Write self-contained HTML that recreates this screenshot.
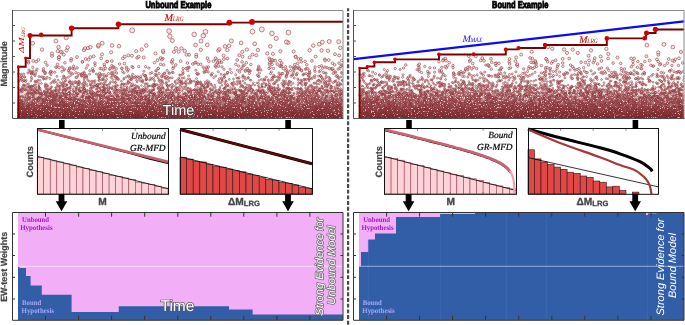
<!DOCTYPE html><html><head><meta charset="utf-8"><style>html,body{margin:0;padding:0;background:#fff;width:685px;height:325px;overflow:hidden}svg{display:block;will-change:transform;text-rendering:geometricPrecision;font-family:"Liberation Sans",sans-serif}.sc circle{r:calc(var(--r)*1px);fill:#f6d0d2;fill-opacity:.6;stroke:#7c1e22;stroke-opacity:.9;stroke-width:.55}.fr{fill:none;stroke:#666;stroke-width:1}.tk{stroke:#555;stroke-width:1}</style></head><body><svg width="685" height="325" viewBox="0 0 685 325"><defs><clipPath id="c1"><rect x="13" y="11" width="330" height="107"/></clipPath><clipPath id="c2"><rect x="354" y="11" width="330" height="107"/></clipPath><linearGradient id="gb" x1="0" y1="0" x2="0" y2="1"><stop offset="0" stop-color="#8a3036" stop-opacity="0"/><stop offset="1" stop-color="#80242a" stop-opacity=".95"/></linearGradient><linearGradient id="gt" x1="0" y1="0" x2="0" y2="1"><stop offset="0" stop-color="#862a30" stop-opacity="0"/><stop offset="1" stop-color="#742024" stop-opacity=".75"/></linearGradient><filter id="sp" x="0" y="0" width="1" height="1" color-interpolation-filters="sRGB"><feTurbulence type="fractalNoise" baseFrequency=".7" numOctaves="2" seed="5"/><feColorMatrix type="matrix" values="0 0 0 0 .97 0 0 0 0 .86 0 0 0 0 .87 8 0 0 0 -5.0"/></filter><linearGradient id="gs" x1="0" y1="0" x2="0" y2="1"><stop offset="0" stop-color="#fff" stop-opacity="0"/><stop offset=".3" stop-color="#fff" stop-opacity="1"/><stop offset="1" stop-color="#fff" stop-opacity=".7"/></linearGradient><mask id="ms"><rect x="0" y="85" width="685" height="33" fill="url(#gs)"/></mask></defs><text x="178.4" y="7.5" font-size="9.8" font-weight="bold" stroke="#000" stroke-width=".9" text-anchor="middle" textLength="66" lengthAdjust="spacingAndGlyphs">Unbound Example</text><text x="520.2" y="7.5" font-size="9.8" font-weight="bold" stroke="#000" stroke-width=".9" text-anchor="middle" textLength="56.4" lengthAdjust="spacingAndGlyphs">Bound Example</text><line x1="348.1" y1="8.3" x2="348.1" y2="325" stroke="#4a4a4a" stroke-width="2.2" stroke-dasharray="3.9 1.8" stroke-dashoffset="1"/><g clip-path="url(#c1)"><rect x="17.5" y="90" width="330.5" height="28" fill="url(#gb)"/><g class="sc"><g style="--r:.8"><circle cx="234.9" cy="106.3"/><circle cx="274.4" cy="87.5"/><circle cx="69.5" cy="92.1"/><circle cx="81" cy="90.7"/><circle cx="282.8" cy="99"/><circle cx="246.9" cy="111.7"/><circle cx="127" cy="102.9"/><circle cx="245.2" cy="103.1"/><circle cx="232.5" cy="88.9"/><circle cx="197.6" cy="116.1"/><circle cx="147.1" cy="105.2"/><circle cx="164.5" cy="96"/><circle cx="135.5" cy="91.2"/><circle cx="120.7" cy="90.8"/><circle cx="281.9" cy="104.8"/><circle cx="34.4" cy="88.1"/><circle cx="227.6" cy="116.2"/><circle cx="93.6" cy="99.1"/><circle cx="57.1" cy="97.6"/><circle cx="207.4" cy="103.8"/><circle cx="135.6" cy="103.4"/><circle cx="38.6" cy="86.4"/><circle cx="20.4" cy="102.1"/><circle cx="176.7" cy="117.9"/><circle cx="336.9" cy="94.7"/><circle cx="214.3" cy="105.9"/><circle cx="288.8" cy="109.3"/><circle cx="321.1" cy="108.4"/><circle cx="75.2" cy="94.3"/><circle cx="69.9" cy="91"/><circle cx="70.9" cy="98.7"/><circle cx="223.3" cy="109.3"/><circle cx="136.3" cy="98.6"/><circle cx="144.4" cy="86.5"/><circle cx="225.8" cy="113.4"/><circle cx="325.1" cy="113.1"/><circle cx="252" cy="91.8"/><circle cx="212" cy="108.2"/><circle cx="152.4" cy="108.9"/><circle cx="63" cy="115.5"/><circle cx="77.9" cy="99.4"/><circle cx="149.6" cy="107.3"/><circle cx="202" cy="92"/><circle cx="42.8" cy="98.8"/><circle cx="92.4" cy="94.2"/><circle cx="309.2" cy="102.9"/><circle cx="154.2" cy="93.5"/><circle cx="188.3" cy="92.9"/><circle cx="283.7" cy="95.6"/><circle cx="328.8" cy="112.5"/><circle cx="185.5" cy="114.1"/><circle cx="196.5" cy="94.8"/><circle cx="44.9" cy="93.1"/><circle cx="85.4" cy="114"/><circle cx="275.8" cy="111.9"/><circle cx="198" cy="109.4"/><circle cx="97.9" cy="106.5"/><circle cx="250.6" cy="105"/><circle cx="322.1" cy="87.4"/><circle cx="213.1" cy="93.3"/><circle cx="212.1" cy="111.6"/><circle cx="287.8" cy="101.9"/><circle cx="199.9" cy="101.9"/><circle cx="164.8" cy="115.9"/><circle cx="64.7" cy="105.1"/><circle cx="52.9" cy="114.4"/><circle cx="29.2" cy="111.9"/><circle cx="62.8" cy="93.4"/><circle cx="208.1" cy="103.2"/><circle cx="106.3" cy="107.5"/><circle cx="258.3" cy="90.1"/><circle cx="321.8" cy="116.3"/><circle cx="22.5" cy="86.4"/><circle cx="316.5" cy="108.5"/><circle cx="149.8" cy="85.7"/><circle cx="317.9" cy="118"/><circle cx="142.8" cy="90.9"/><circle cx="203.1" cy="95.5"/><circle cx="297.7" cy="100.9"/><circle cx="254.5" cy="105"/><circle cx="330.7" cy="112.2"/><circle cx="28.6" cy="86.8"/><circle cx="32.1" cy="117.6"/><circle cx="238.2" cy="96.9"/><circle cx="158.5" cy="99.3"/><circle cx="124.1" cy="103.1"/><circle cx="114.2" cy="93.1"/><circle cx="201.3" cy="110.4"/><circle cx="251.2" cy="102.1"/><circle cx="137.7" cy="91.3"/><circle cx="48.1" cy="117.3"/><circle cx="169.9" cy="93"/><circle cx="131.9" cy="103"/><circle cx="194.3" cy="116"/><circle cx="117.2" cy="96.5"/><circle cx="72.6" cy="106.3"/><circle cx="146.1" cy="104.2"/><circle cx="103.8" cy="84.6"/><circle cx="181.1" cy="116.4"/><circle cx="172.1" cy="112.7"/><circle cx="309.6" cy="91.7"/><circle cx="143.1" cy="111.3"/><circle cx="332.3" cy="98.4"/><circle cx="248.7" cy="98.8"/><circle cx="236.5" cy="99.2"/><circle cx="180.7" cy="103.7"/><circle cx="75.2" cy="110.4"/><circle cx="76.2" cy="99.9"/><circle cx="236.7" cy="100.7"/><circle cx="145.6" cy="88"/><circle cx="204.4" cy="110.7"/><circle cx="320.9" cy="115.2"/><circle cx="200.2" cy="104"/><circle cx="257.9" cy="91.3"/><circle cx="268" cy="105.8"/><circle cx="186.3" cy="112.5"/><circle cx="57.9" cy="117.1"/><circle cx="178.9" cy="108.1"/><circle cx="216.7" cy="117.5"/><circle cx="63.8" cy="107.9"/><circle cx="59.6" cy="86.1"/><circle cx="318.8" cy="116.2"/><circle cx="308.2" cy="110.4"/><circle cx="334.7" cy="101.3"/><circle cx="182.7" cy="107.3"/><circle cx="267.1" cy="99.4"/><circle cx="41.8" cy="113"/><circle cx="133.5" cy="99.7"/><circle cx="46.8" cy="96.8"/><circle cx="29.4" cy="104"/><circle cx="280" cy="114"/><circle cx="232.9" cy="85.8"/><circle cx="41" cy="116.1"/><circle cx="199.7" cy="93.6"/><circle cx="302" cy="109.3"/><circle cx="335.9" cy="116.1"/><circle cx="118" cy="114.2"/><circle cx="236.3" cy="90.7"/><circle cx="41.7" cy="99.7"/><circle cx="90" cy="114.8"/><circle cx="71.1" cy="111.1"/><circle cx="193.3" cy="109.5"/><circle cx="268.8" cy="87.7"/><circle cx="228.5" cy="92.2"/><circle cx="187.1" cy="109.1"/><circle cx="268.9" cy="103.4"/><circle cx="210.9" cy="89.8"/><circle cx="34.6" cy="92.1"/><circle cx="172.2" cy="117.7"/><circle cx="226.5" cy="86.1"/><circle cx="158.9" cy="95.1"/><circle cx="143.7" cy="107.6"/><circle cx="144.6" cy="90.4"/><circle cx="233.9" cy="92.9"/><circle cx="148.4" cy="109.9"/><circle cx="263.5" cy="102.6"/><circle cx="37.7" cy="98.1"/><circle cx="286.8" cy="98.3"/><circle cx="236.5" cy="91"/><circle cx="277.8" cy="115.1"/><circle cx="260.8" cy="107"/><circle cx="182.3" cy="97.8"/><circle cx="243.2" cy="100.2"/><circle cx="88.3" cy="102.9"/><circle cx="73" cy="111.3"/><circle cx="158.1" cy="114.3"/><circle cx="250.9" cy="88.9"/><circle cx="303.6" cy="93.9"/><circle cx="99.5" cy="115.3"/><circle cx="207.6" cy="106.3"/><circle cx="250.1" cy="88.4"/><circle cx="102.5" cy="109"/><circle cx="214.4" cy="99.8"/><circle cx="253.5" cy="111.4"/><circle cx="91.9" cy="91.1"/><circle cx="116.1" cy="100.5"/><circle cx="98.2" cy="94.7"/><circle cx="62.7" cy="115.1"/><circle cx="201.1" cy="92.1"/><circle cx="161.3" cy="96.2"/><circle cx="326" cy="84.6"/><circle cx="103.9" cy="115.7"/><circle cx="94.6" cy="106.2"/><circle cx="157" cy="114.2"/><circle cx="184.6" cy="104.6"/><circle cx="64.8" cy="112.2"/><circle cx="189.7" cy="110.5"/><circle cx="179.9" cy="111.4"/><circle cx="213.5" cy="106.1"/><circle cx="257.9" cy="108.3"/><circle cx="175.4" cy="86.7"/><circle cx="212" cy="111.5"/><circle cx="276.3" cy="110.7"/><circle cx="119.2" cy="107"/><circle cx="269.7" cy="115.5"/><circle cx="332.4" cy="98.7"/><circle cx="185.9" cy="96.4"/><circle cx="168.9" cy="111.8"/><circle cx="290.4" cy="117.7"/><circle cx="102" cy="100.4"/><circle cx="114.8" cy="99.3"/><circle cx="44.7" cy="98.5"/><circle cx="288.7" cy="104"/><circle cx="147.8" cy="117.4"/><circle cx="54.2" cy="95.6"/><circle cx="104.6" cy="93.4"/><circle cx="151" cy="113.5"/><circle cx="174.5" cy="99.4"/><circle cx="28.7" cy="93"/><circle cx="338.2" cy="94.2"/><circle cx="123.1" cy="109.5"/><circle cx="44.9" cy="111"/><circle cx="79.1" cy="85"/><circle cx="341" cy="91.3"/><circle cx="102.8" cy="90.8"/><circle cx="260.8" cy="91.6"/><circle cx="195.3" cy="88.9"/><circle cx="332.4" cy="101.2"/><circle cx="182.9" cy="109.9"/><circle cx="181.6" cy="101.7"/><circle cx="171" cy="95.2"/><circle cx="198.7" cy="106.6"/><circle cx="229.9" cy="99"/><circle cx="76.6" cy="102"/><circle cx="305.5" cy="98.5"/><circle cx="316.9" cy="91.4"/><circle cx="33.1" cy="96.2"/><circle cx="80.2" cy="117.6"/><circle cx="69.3" cy="92.1"/><circle cx="275.4" cy="113.9"/><circle cx="297.9" cy="101"/><circle cx="236.1" cy="113.8"/><circle cx="292.5" cy="110.3"/><circle cx="320.4" cy="111.3"/><circle cx="307.5" cy="104.4"/><circle cx="305" cy="109.7"/><circle cx="248.8" cy="103.4"/><circle cx="87.2" cy="97.3"/><circle cx="57.9" cy="86.3"/><circle cx="209.8" cy="117"/><circle cx="273.1" cy="101.6"/><circle cx="97.8" cy="115.7"/><circle cx="34.3" cy="91.9"/><circle cx="288.4" cy="113"/><circle cx="318" cy="97.3"/><circle cx="102.9" cy="110.6"/><circle cx="50.8" cy="88.9"/><circle cx="82.2" cy="111.1"/><circle cx="52.6" cy="101.7"/><circle cx="37.1" cy="90.3"/><circle cx="297.5" cy="98.1"/><circle cx="107.5" cy="90.8"/><circle cx="222.8" cy="97.1"/><circle cx="104.8" cy="113.4"/><circle cx="263.4" cy="109.1"/><circle cx="184.2" cy="114.2"/><circle cx="188.9" cy="105.1"/><circle cx="134.9" cy="97.3"/><circle cx="53.4" cy="107.4"/><circle cx="132" cy="115.5"/><circle cx="162.3" cy="98.7"/><circle cx="328.3" cy="92.8"/><circle cx="18.7" cy="105.7"/><circle cx="315.4" cy="111.8"/><circle cx="181" cy="115.2"/><circle cx="245.3" cy="107.6"/><circle cx="254.6" cy="102"/><circle cx="53.4" cy="106"/><circle cx="70.3" cy="93.4"/><circle cx="314.9" cy="97.8"/><circle cx="239.6" cy="91.1"/><circle cx="324.7" cy="102.4"/><circle cx="141.4" cy="99.6"/><circle cx="191.1" cy="100.2"/><circle cx="190.6" cy="113.4"/><circle cx="232.5" cy="88.9"/><circle cx="56" cy="103.8"/><circle cx="55.3" cy="102.2"/><circle cx="74.9" cy="114.3"/><circle cx="82.7" cy="95.6"/><circle cx="126.8" cy="90.3"/><circle cx="222" cy="112.6"/><circle cx="186.2" cy="101.3"/><circle cx="41.9" cy="112.1"/><circle cx="332" cy="88.4"/><circle cx="331.8" cy="113.1"/><circle cx="31.1" cy="89.6"/><circle cx="140.7" cy="100.8"/><circle cx="289.1" cy="90.4"/><circle cx="92.4" cy="117.9"/><circle cx="45" cy="109.1"/><circle cx="67.2" cy="84.7"/><circle cx="210.4" cy="117.3"/><circle cx="225.3" cy="93.8"/><circle cx="124" cy="89.9"/><circle cx="21.6" cy="101.7"/><circle cx="165.1" cy="104.2"/><circle cx="290.4" cy="110.9"/><circle cx="147.9" cy="102.6"/><circle cx="101" cy="97"/><circle cx="239.8" cy="95.8"/><circle cx="309.6" cy="117.8"/><circle cx="191.3" cy="95.4"/><circle cx="166.9" cy="101.6"/><circle cx="287.4" cy="101.6"/><circle cx="154.1" cy="88.7"/><circle cx="237.7" cy="114.9"/><circle cx="289.4" cy="89.4"/><circle cx="209.9" cy="115.1"/><circle cx="213.3" cy="102.5"/><circle cx="143.1" cy="93.1"/><circle cx="116.4" cy="99.8"/><circle cx="61.8" cy="100"/><circle cx="252.2" cy="109.2"/><circle cx="131.6" cy="94.6"/><circle cx="267" cy="108.6"/><circle cx="305.5" cy="85.6"/><circle cx="128.2" cy="103.2"/><circle cx="40.7" cy="105.6"/><circle cx="199.6" cy="95.9"/><circle cx="243" cy="87.3"/><circle cx="36.9" cy="117.4"/><circle cx="40.2" cy="93.4"/><circle cx="308" cy="90.5"/><circle cx="89.9" cy="101.9"/><circle cx="310.1" cy="108.1"/><circle cx="111.7" cy="103.8"/><circle cx="164.2" cy="93.1"/><circle cx="242.3" cy="107.3"/><circle cx="336.9" cy="103.5"/><circle cx="99" cy="104.3"/><circle cx="62.1" cy="113.8"/><circle cx="36" cy="93.2"/><circle cx="309.3" cy="102.6"/><circle cx="225" cy="101.8"/><circle cx="225.2" cy="87.4"/><circle cx="137.4" cy="105.5"/><circle cx="317.7" cy="91.7"/><circle cx="69.7" cy="98.7"/><circle cx="304.1" cy="110.5"/><circle cx="253.2" cy="112.4"/><circle cx="307.4" cy="94.2"/><circle cx="340" cy="95.5"/><circle cx="292.1" cy="95.5"/><circle cx="156" cy="101.1"/><circle cx="31.4" cy="93.4"/><circle cx="27.2" cy="93.4"/><circle cx="319.8" cy="88.7"/><circle cx="170.8" cy="98"/><circle cx="260" cy="116.1"/><circle cx="161.4" cy="98.4"/><circle cx="189.1" cy="96.6"/><circle cx="242.7" cy="100.7"/><circle cx="152.1" cy="105.8"/><circle cx="161.4" cy="88.8"/><circle cx="277.8" cy="99.2"/><circle cx="194.3" cy="100.4"/><circle cx="105.6" cy="92.1"/><circle cx="67.2" cy="105.9"/><circle cx="33.2" cy="111.3"/><circle cx="262.8" cy="112.5"/><circle cx="266.8" cy="116.9"/><circle cx="126.3" cy="104.2"/><circle cx="47.2" cy="113.5"/><circle cx="27.6" cy="95.9"/><circle cx="280.3" cy="117.2"/><circle cx="109.4" cy="108.9"/><circle cx="190.9" cy="92.4"/><circle cx="42.9" cy="105.5"/><circle cx="112.9" cy="86.4"/><circle cx="76.8" cy="93.8"/><circle cx="298" cy="92.4"/><circle cx="222.2" cy="108.6"/><circle cx="44.2" cy="92.8"/><circle cx="267.9" cy="117.6"/><circle cx="48.9" cy="95.7"/><circle cx="259.9" cy="111.8"/><circle cx="27.5" cy="115.6"/><circle cx="325.7" cy="92.5"/><circle cx="78.8" cy="100.5"/><circle cx="249.9" cy="108.5"/><circle cx="255.7" cy="116.3"/><circle cx="188.5" cy="110.2"/><circle cx="142.9" cy="98.6"/><circle cx="134.9" cy="88.2"/><circle cx="108.9" cy="103.1"/><circle cx="161.2" cy="117.4"/><circle cx="309.7" cy="115.9"/><circle cx="33.4" cy="100.1"/><circle cx="193.2" cy="100.7"/><circle cx="51.6" cy="105.9"/><circle cx="171.6" cy="99.4"/><circle cx="332.8" cy="97.6"/><circle cx="250.2" cy="97.2"/><circle cx="76.7" cy="102.5"/><circle cx="126.7" cy="107.1"/><circle cx="64.5" cy="104.3"/><circle cx="212.6" cy="86.3"/><circle cx="261.9" cy="106.5"/><circle cx="94.5" cy="105.2"/><circle cx="268" cy="110.3"/><circle cx="291.4" cy="95.3"/><circle cx="238.1" cy="99.9"/><circle cx="325.2" cy="98.1"/><circle cx="26.3" cy="88"/><circle cx="70.8" cy="99.4"/><circle cx="98.9" cy="106.1"/><circle cx="184.7" cy="97"/><circle cx="226.5" cy="94.1"/><circle cx="111.7" cy="105"/><circle cx="276.6" cy="110.3"/><circle cx="194.5" cy="92.7"/><circle cx="258.5" cy="98.5"/><circle cx="110.2" cy="98.2"/><circle cx="33.7" cy="91.4"/><circle cx="176.1" cy="114.6"/><circle cx="21.7" cy="114.3"/><circle cx="100.7" cy="111.4"/><circle cx="195.8" cy="90.8"/><circle cx="98.7" cy="117.9"/><circle cx="265.8" cy="105.7"/><circle cx="326.4" cy="91.4"/><circle cx="293.8" cy="98.8"/><circle cx="39.2" cy="87.8"/><circle cx="285.8" cy="101.1"/><circle cx="243.6" cy="96.1"/><circle cx="288.8" cy="106.2"/><circle cx="136.3" cy="113.5"/><circle cx="154.1" cy="107"/><circle cx="232" cy="106.4"/><circle cx="37.3" cy="110.4"/><circle cx="164.1" cy="107.6"/><circle cx="246.5" cy="116.3"/><circle cx="229.8" cy="107"/><circle cx="47.6" cy="106"/><circle cx="341.9" cy="100"/><circle cx="252.7" cy="117.3"/><circle cx="310.2" cy="114.4"/><circle cx="267.6" cy="103.9"/><circle cx="46.6" cy="112"/><circle cx="185.2" cy="92.8"/><circle cx="121.7" cy="95.5"/><circle cx="136.6" cy="113.9"/><circle cx="136.6" cy="110.6"/><circle cx="277.3" cy="104.4"/><circle cx="192" cy="105.5"/><circle cx="144.7" cy="96.9"/><circle cx="310.2" cy="107.4"/><circle cx="153.2" cy="95"/><circle cx="95.4" cy="110.5"/><circle cx="284.1" cy="92.4"/><circle cx="189.2" cy="113.6"/><circle cx="274.2" cy="107.6"/><circle cx="129.6" cy="90.2"/><circle cx="233.3" cy="112.3"/><circle cx="194" cy="90.6"/><circle cx="127.1" cy="96.5"/><circle cx="56.2" cy="89.5"/><circle cx="305.7" cy="114.2"/><circle cx="72.6" cy="90.5"/><circle cx="328.1" cy="106.5"/><circle cx="153.9" cy="117.9"/><circle cx="115.1" cy="90.1"/><circle cx="285" cy="113.2"/><circle cx="53.9" cy="97.8"/><circle cx="93.2" cy="109.8"/><circle cx="148.9" cy="96.7"/><circle cx="255.9" cy="112"/><circle cx="183.2" cy="97.7"/><circle cx="236.7" cy="105.8"/><circle cx="290.4" cy="113.3"/><circle cx="283.1" cy="85.4"/><circle cx="31.6" cy="93.7"/><circle cx="53.9" cy="114.5"/><circle cx="165.3" cy="95.7"/><circle cx="58.5" cy="92.3"/><circle cx="167.9" cy="105"/><circle cx="118.2" cy="96.3"/><circle cx="32.4" cy="92.8"/><circle cx="89.5" cy="90.6"/><circle cx="40.7" cy="118"/><circle cx="312" cy="111.5"/><circle cx="66" cy="107.1"/><circle cx="75.1" cy="99"/><circle cx="115.2" cy="103.4"/><circle cx="319.9" cy="91.2"/><circle cx="332" cy="108.4"/><circle cx="285.3" cy="97"/><circle cx="166.3" cy="92.8"/><circle cx="124.4" cy="109.5"/><circle cx="107.8" cy="89.2"/><circle cx="68.2" cy="113.2"/><circle cx="129" cy="100.1"/><circle cx="229" cy="92.1"/><circle cx="21" cy="89.1"/><circle cx="24.4" cy="108.8"/><circle cx="333.2" cy="101.9"/><circle cx="58.8" cy="106.7"/><circle cx="150.1" cy="100.7"/><circle cx="276.6" cy="111"/><circle cx="293.5" cy="94.4"/><circle cx="326.1" cy="95.6"/><circle cx="209.5" cy="112.6"/><circle cx="319.9" cy="88.6"/><circle cx="150.2" cy="93"/><circle cx="63.7" cy="84.7"/><circle cx="84.6" cy="99.3"/><circle cx="48.4" cy="99.7"/><circle cx="19.8" cy="96.5"/><circle cx="249.3" cy="114.8"/><circle cx="251.9" cy="97.5"/><circle cx="167.7" cy="101.3"/><circle cx="311.8" cy="101.1"/><circle cx="101.8" cy="113.1"/><circle cx="171.8" cy="92"/><circle cx="322" cy="85.8"/><circle cx="197.4" cy="100.2"/><circle cx="250.8" cy="88.3"/><circle cx="220.6" cy="115.9"/><circle cx="302" cy="93"/><circle cx="71.5" cy="106"/><circle cx="249.2" cy="102.3"/><circle cx="189.3" cy="102"/><circle cx="181.7" cy="109.2"/><circle cx="240.6" cy="91.4"/><circle cx="161.2" cy="98.8"/><circle cx="213.4" cy="113.1"/><circle cx="83.9" cy="88.1"/><circle cx="328.5" cy="110.7"/><circle cx="265.3" cy="107.6"/><circle cx="65.6" cy="96.7"/><circle cx="284.2" cy="94.3"/><circle cx="334.6" cy="114.9"/><circle cx="70.6" cy="86.3"/><circle cx="80.1" cy="106"/><circle cx="286.8" cy="116.9"/><circle cx="272.9" cy="87.7"/><circle cx="125.4" cy="96.3"/><circle cx="329.1" cy="105.1"/><circle cx="326.5" cy="112.7"/><circle cx="306.2" cy="92.1"/><circle cx="322.8" cy="102.9"/><circle cx="64.9" cy="94.5"/><circle cx="49.4" cy="117.9"/><circle cx="165" cy="95.2"/><circle cx="104" cy="95.4"/><circle cx="21.1" cy="107.4"/><circle cx="253.8" cy="115.4"/><circle cx="341.1" cy="108.6"/><circle cx="61" cy="104.6"/><circle cx="244" cy="91.2"/><circle cx="185.5" cy="110.2"/><circle cx="113.4" cy="104.2"/><circle cx="176.1" cy="109.6"/><circle cx="302.4" cy="85.4"/><circle cx="244.1" cy="94.5"/><circle cx="312.4" cy="92.5"/><circle cx="89.5" cy="92.4"/><circle cx="327.3" cy="89.9"/><circle cx="341.1" cy="94.6"/><circle cx="229.1" cy="103.1"/><circle cx="280.5" cy="102.7"/><circle cx="320.5" cy="105.8"/><circle cx="240.1" cy="89.9"/><circle cx="141" cy="96.8"/><circle cx="284.9" cy="100.5"/><circle cx="168.6" cy="110.1"/><circle cx="272.8" cy="111.5"/><circle cx="218.1" cy="111.9"/><circle cx="330.8" cy="117"/><circle cx="24.9" cy="100.7"/><circle cx="66.1" cy="113.6"/><circle cx="278.1" cy="92.9"/><circle cx="291.1" cy="102.9"/><circle cx="38.4" cy="92"/><circle cx="82.6" cy="114.5"/><circle cx="59.8" cy="89.3"/><circle cx="21.9" cy="109.3"/><circle cx="296.3" cy="111.3"/><circle cx="172.9" cy="115.4"/><circle cx="275.1" cy="88.5"/><circle cx="156.3" cy="112.9"/><circle cx="338" cy="104.5"/><circle cx="143.6" cy="104.8"/><circle cx="305.3" cy="110.4"/><circle cx="113.1" cy="89.5"/><circle cx="321.3" cy="116.8"/><circle cx="136.7" cy="111"/><circle cx="180.1" cy="115.5"/><circle cx="56.7" cy="94"/><circle cx="321.5" cy="92"/><circle cx="69.4" cy="90.8"/><circle cx="182.9" cy="99.6"/><circle cx="195.3" cy="90.7"/><circle cx="123.2" cy="102"/><circle cx="261.4" cy="96.3"/><circle cx="244.5" cy="98.8"/><circle cx="58.3" cy="100.5"/><circle cx="262.6" cy="115.9"/><circle cx="147.5" cy="88.8"/><circle cx="306.7" cy="106.5"/><circle cx="109.9" cy="105.5"/><circle cx="322.8" cy="108.7"/><circle cx="160.7" cy="100.3"/><circle cx="316.9" cy="107.6"/><circle cx="111.7" cy="88.5"/><circle cx="141.6" cy="111.3"/><circle cx="164.2" cy="98.8"/><circle cx="325.1" cy="103.5"/><circle cx="249.2" cy="90.8"/><circle cx="242.4" cy="98.1"/><circle cx="210.2" cy="95.5"/><circle cx="160.3" cy="103.5"/><circle cx="41.4" cy="113.3"/><circle cx="255.7" cy="94.4"/><circle cx="47.2" cy="104.3"/><circle cx="20.2" cy="111.7"/><circle cx="158.7" cy="110.7"/><circle cx="70.3" cy="101.5"/><circle cx="93" cy="87.6"/><circle cx="286.4" cy="90.9"/><circle cx="296.2" cy="117.3"/><circle cx="233.9" cy="99.5"/><circle cx="43.4" cy="99.7"/><circle cx="268.2" cy="98.1"/><circle cx="65.6" cy="107.1"/><circle cx="292.2" cy="114.9"/><circle cx="50.4" cy="92.7"/><circle cx="330.8" cy="93.6"/><circle cx="340.1" cy="97.8"/><circle cx="141.2" cy="105.8"/><circle cx="225.7" cy="114.9"/><circle cx="107.3" cy="115.4"/><circle cx="192.8" cy="96.5"/><circle cx="77.8" cy="108.2"/><circle cx="19.1" cy="104.1"/><circle cx="172.8" cy="111.5"/><circle cx="200.5" cy="89.5"/><circle cx="183.2" cy="106.5"/><circle cx="89.3" cy="116.8"/><circle cx="317.2" cy="110.5"/><circle cx="288.8" cy="91.7"/><circle cx="47.8" cy="92"/><circle cx="229.1" cy="115.6"/><circle cx="149.3" cy="95.2"/><circle cx="56" cy="90.6"/><circle cx="255.7" cy="109.5"/><circle cx="80.4" cy="117.4"/><circle cx="126.3" cy="111.2"/><circle cx="221" cy="112.4"/><circle cx="137.4" cy="109.3"/><circle cx="79.3" cy="117.7"/><circle cx="321.1" cy="117.8"/><circle cx="151.7" cy="100.5"/><circle cx="170.6" cy="92.9"/><circle cx="259.1" cy="111.1"/><circle cx="48.2" cy="99.3"/><circle cx="328.3" cy="116.7"/><circle cx="286.8" cy="99.7"/><circle cx="147.8" cy="96.4"/><circle cx="74.6" cy="105.8"/><circle cx="246.7" cy="114.3"/><circle cx="37.2" cy="100.7"/><circle cx="242.3" cy="116.5"/><circle cx="113.8" cy="107.4"/><circle cx="59.7" cy="86.1"/><circle cx="235.5" cy="97.6"/><circle cx="30.4" cy="97.8"/><circle cx="70.9" cy="117.4"/><circle cx="188.3" cy="115.2"/><circle cx="257.1" cy="112.6"/><circle cx="142.2" cy="90.9"/><circle cx="168.4" cy="113.3"/><circle cx="80.4" cy="115.6"/><circle cx="303" cy="91.5"/><circle cx="186.1" cy="98.7"/><circle cx="107" cy="104.3"/><circle cx="153.1" cy="107.6"/><circle cx="308.9" cy="107.8"/><circle cx="295" cy="117.6"/><circle cx="312.1" cy="104.5"/><circle cx="187.5" cy="108.6"/><circle cx="153.6" cy="108.2"/><circle cx="317.8" cy="94.8"/><circle cx="153.3" cy="101"/><circle cx="151.3" cy="104.9"/><circle cx="62.6" cy="90.1"/><circle cx="197.3" cy="101.1"/><circle cx="242.1" cy="108.9"/><circle cx="266.9" cy="106.7"/><circle cx="154.6" cy="106.1"/><circle cx="87.4" cy="85.8"/><circle cx="337.2" cy="106.5"/><circle cx="231.5" cy="102.5"/><circle cx="269" cy="97.2"/><circle cx="153.9" cy="86.2"/><circle cx="142.6" cy="88.7"/><circle cx="111.6" cy="109.9"/><circle cx="190.7" cy="95.8"/><circle cx="308.4" cy="95.8"/><circle cx="217.9" cy="108.2"/><circle cx="45.2" cy="87.3"/><circle cx="252.4" cy="107.7"/><circle cx="327.7" cy="110.1"/><circle cx="275.4" cy="90.5"/><circle cx="148.8" cy="107.2"/><circle cx="281.3" cy="95.7"/><circle cx="91.8" cy="97.6"/><circle cx="241.8" cy="99.3"/><circle cx="44.9" cy="86.2"/><circle cx="263.9" cy="92.8"/><circle cx="57.6" cy="116.7"/><circle cx="113.6" cy="98"/><circle cx="227.9" cy="115.4"/><circle cx="162" cy="113.2"/><circle cx="135.5" cy="102.5"/><circle cx="127.4" cy="99"/><circle cx="171.4" cy="110.9"/><circle cx="105.9" cy="107.3"/><circle cx="52" cy="114.6"/><circle cx="190.1" cy="116.3"/><circle cx="194.2" cy="111"/><circle cx="100.9" cy="90.5"/><circle cx="312.4" cy="110.8"/><circle cx="36" cy="86.9"/><circle cx="284.8" cy="95.9"/><circle cx="274.4" cy="112.5"/><circle cx="235.1" cy="104"/><circle cx="266" cy="85.5"/><circle cx="42.2" cy="103.2"/><circle cx="171.5" cy="114.8"/><circle cx="58.9" cy="104.5"/><circle cx="89.7" cy="98.8"/><circle cx="171.4" cy="96.7"/><circle cx="287.6" cy="110.1"/><circle cx="248.6" cy="99.6"/><circle cx="254.3" cy="98.3"/><circle cx="194.2" cy="116.2"/><circle cx="297.8" cy="100.6"/><circle cx="93.3" cy="85.5"/><circle cx="303.5" cy="109.1"/><circle cx="53.3" cy="99.9"/><circle cx="204.2" cy="106.7"/><circle cx="288" cy="98.3"/><circle cx="276.2" cy="92.5"/><circle cx="298.6" cy="105.2"/><circle cx="310" cy="115.9"/><circle cx="225.5" cy="92"/><circle cx="59.5" cy="90.5"/><circle cx="291" cy="117.1"/><circle cx="206.2" cy="91.1"/><circle cx="154.6" cy="105.7"/><circle cx="252.5" cy="112.2"/><circle cx="145.6" cy="98.1"/><circle cx="80.1" cy="113.4"/><circle cx="44.3" cy="91.2"/><circle cx="247.2" cy="93.1"/><circle cx="51.8" cy="86.8"/><circle cx="208.3" cy="96.2"/><circle cx="123.9" cy="102.6"/><circle cx="193.9" cy="112.8"/><circle cx="205.5" cy="112.9"/><circle cx="76.6" cy="101.9"/><circle cx="248.5" cy="111.8"/><circle cx="176.7" cy="97.9"/><circle cx="51.7" cy="109.7"/><circle cx="253.9" cy="98.3"/><circle cx="263.9" cy="92"/><circle cx="294.8" cy="103.9"/><circle cx="320.1" cy="98.1"/><circle cx="117" cy="90.2"/><circle cx="170.6" cy="96.6"/><circle cx="225.9" cy="94.7"/><circle cx="300.6" cy="96.1"/><circle cx="245.4" cy="106.8"/><circle cx="329" cy="103"/><circle cx="62.7" cy="91"/><circle cx="104.2" cy="108.6"/><circle cx="208.4" cy="85.6"/><circle cx="54.1" cy="100.3"/><circle cx="186.3" cy="112.6"/><circle cx="87.5" cy="90.3"/><circle cx="209.8" cy="96"/><circle cx="275.9" cy="107.8"/><circle cx="55.8" cy="94.4"/><circle cx="62.1" cy="110.4"/><circle cx="48" cy="90.4"/><circle cx="332.4" cy="112"/><circle cx="241.8" cy="92.8"/><circle cx="263.9" cy="117"/><circle cx="337.2" cy="99.6"/><circle cx="148.2" cy="92.2"/><circle cx="130.6" cy="86.4"/><circle cx="155.4" cy="85.2"/><circle cx="103.6" cy="117.9"/><circle cx="331" cy="107.3"/><circle cx="327.8" cy="85.4"/><circle cx="232" cy="114.7"/><circle cx="176.7" cy="87.9"/><circle cx="88" cy="92.8"/><circle cx="270.9" cy="100.2"/><circle cx="291.2" cy="89.9"/><circle cx="273" cy="87.7"/><circle cx="86.5" cy="102.1"/><circle cx="200.1" cy="105.9"/><circle cx="123" cy="98.4"/><circle cx="71.6" cy="98.3"/><circle cx="163.6" cy="106.9"/><circle cx="275.7" cy="105.5"/><circle cx="297.9" cy="117.6"/><circle cx="231.2" cy="115.7"/><circle cx="286.1" cy="93"/><circle cx="308.5" cy="100.9"/><circle cx="252.7" cy="112.5"/><circle cx="307.4" cy="89.3"/><circle cx="93.4" cy="117.9"/><circle cx="342.5" cy="97.5"/><circle cx="33.8" cy="99.6"/><circle cx="329" cy="104"/><circle cx="98.4" cy="86"/><circle cx="69.9" cy="99.7"/><circle cx="307.2" cy="106.7"/><circle cx="326.2" cy="109.9"/><circle cx="70.2" cy="110.2"/><circle cx="298.1" cy="101.7"/><circle cx="96.4" cy="85.4"/><circle cx="96.6" cy="114.6"/><circle cx="33.2" cy="86"/><circle cx="220.7" cy="101.9"/><circle cx="340.7" cy="105.7"/><circle cx="249" cy="110.6"/><circle cx="66" cy="103.7"/><circle cx="196.1" cy="102.8"/><circle cx="245.7" cy="102.3"/><circle cx="338.8" cy="101.7"/><circle cx="44.2" cy="91"/><circle cx="160.6" cy="102.9"/><circle cx="48.9" cy="89.6"/><circle cx="311.5" cy="96.3"/><circle cx="116.4" cy="90.2"/><circle cx="36.4" cy="117.6"/><circle cx="146.5" cy="104.7"/><circle cx="117.4" cy="114.9"/><circle cx="82" cy="87.8"/><circle cx="136.8" cy="92.4"/><circle cx="171.9" cy="107.5"/><circle cx="29" cy="114"/><circle cx="316.8" cy="111.2"/><circle cx="107.3" cy="110.7"/><circle cx="313.2" cy="108.5"/><circle cx="215.2" cy="91.4"/><circle cx="97.2" cy="109.3"/><circle cx="277" cy="92.3"/><circle cx="178.8" cy="99.3"/><circle cx="333.7" cy="110.4"/><circle cx="55.3" cy="112.4"/><circle cx="100.8" cy="115.6"/><circle cx="62.9" cy="89.7"/><circle cx="99.1" cy="97.1"/><circle cx="92.6" cy="111.8"/><circle cx="171.5" cy="109"/><circle cx="269.4" cy="89.4"/><circle cx="167.7" cy="109.6"/><circle cx="201.9" cy="94.9"/><circle cx="194.1" cy="94.6"/><circle cx="73.9" cy="98.3"/><circle cx="279.5" cy="102.2"/><circle cx="277.7" cy="110.2"/><circle cx="204.6" cy="91.1"/><circle cx="22.7" cy="96.9"/><circle cx="278.4" cy="114.6"/><circle cx="93.7" cy="92.6"/><circle cx="83.2" cy="94.7"/><circle cx="287.1" cy="97.8"/><circle cx="263.5" cy="90"/><circle cx="210.9" cy="88.4"/><circle cx="298.4" cy="99"/><circle cx="45.2" cy="84.7"/><circle cx="224.1" cy="97.1"/><circle cx="183.1" cy="116.8"/><circle cx="81.9" cy="97.6"/><circle cx="95" cy="112.3"/><circle cx="121.1" cy="90.1"/><circle cx="80.2" cy="91.1"/><circle cx="304.6" cy="109"/><circle cx="221.6" cy="115.2"/><circle cx="326.9" cy="103.3"/><circle cx="261.4" cy="97.8"/><circle cx="284.1" cy="94.2"/><circle cx="273.2" cy="103.5"/><circle cx="20.4" cy="114.3"/><circle cx="48.1" cy="108.1"/><circle cx="312.4" cy="87.1"/><circle cx="300.5" cy="88.8"/><circle cx="32.9" cy="110.4"/><circle cx="117.2" cy="113.1"/><circle cx="289.6" cy="88.6"/><circle cx="236.4" cy="107.4"/><circle cx="203.6" cy="106.1"/><circle cx="208.1" cy="112.3"/><circle cx="132.3" cy="89.9"/><circle cx="316.9" cy="90.3"/><circle cx="96.9" cy="112.6"/><circle cx="171.6" cy="87.6"/><circle cx="119" cy="111.8"/><circle cx="145.3" cy="99.7"/><circle cx="339.6" cy="98"/><circle cx="292.4" cy="96.2"/><circle cx="64.2" cy="93.9"/><circle cx="189" cy="102.2"/><circle cx="70.1" cy="87.7"/><circle cx="240.6" cy="113"/><circle cx="37.5" cy="100.2"/><circle cx="268.3" cy="103.1"/><circle cx="219" cy="110.3"/><circle cx="328.4" cy="117"/><circle cx="161.6" cy="91.6"/><circle cx="241.2" cy="85.7"/><circle cx="311.6" cy="98.9"/><circle cx="144.8" cy="91.7"/><circle cx="185.5" cy="98.3"/><circle cx="215.8" cy="107.2"/><circle cx="106.8" cy="96.9"/><circle cx="109.8" cy="87.3"/><circle cx="310.1" cy="85.3"/><circle cx="307.3" cy="104.7"/><circle cx="321.1" cy="103.7"/><circle cx="153" cy="117.5"/><circle cx="96.7" cy="110.6"/><circle cx="279.1" cy="105"/><circle cx="46.1" cy="95.6"/><circle cx="130" cy="112.3"/><circle cx="77.2" cy="95.7"/><circle cx="283.8" cy="103.4"/><circle cx="149.7" cy="99.6"/><circle cx="251.1" cy="93.5"/><circle cx="263.3" cy="90.8"/><circle cx="171.1" cy="100"/><circle cx="129.9" cy="107.5"/><circle cx="323.7" cy="94.9"/><circle cx="155.9" cy="99"/><circle cx="108" cy="96.6"/><circle cx="102.8" cy="113.6"/><circle cx="182.4" cy="91.2"/><circle cx="278.6" cy="106.2"/><circle cx="149.4" cy="102.5"/><circle cx="98.3" cy="94.6"/><circle cx="47.9" cy="111.5"/><circle cx="173.8" cy="113.8"/><circle cx="143.7" cy="103.1"/><circle cx="244.5" cy="92.7"/><circle cx="148.1" cy="110.3"/><circle cx="246.8" cy="108"/><circle cx="78.8" cy="115.7"/><circle cx="288" cy="106.2"/><circle cx="280" cy="88.9"/><circle cx="299" cy="113.8"/><circle cx="124.4" cy="117.5"/><circle cx="255.8" cy="108.8"/><circle cx="45.3" cy="107"/><circle cx="229.4" cy="103.5"/><circle cx="306.7" cy="94.7"/><circle cx="218.8" cy="109.4"/><circle cx="280.8" cy="116.1"/><circle cx="105" cy="91.2"/><circle cx="134.6" cy="95.5"/><circle cx="229.4" cy="101.1"/><circle cx="261.9" cy="90"/><circle cx="299.6" cy="110.6"/><circle cx="72.9" cy="102.5"/><circle cx="220.4" cy="90.2"/><circle cx="184.6" cy="117.1"/><circle cx="271.3" cy="110.6"/><circle cx="310.4" cy="117.2"/><circle cx="123.1" cy="92.5"/><circle cx="209.1" cy="102.9"/><circle cx="311.7" cy="88.7"/><circle cx="249.3" cy="107.7"/><circle cx="198.2" cy="90.7"/><circle cx="153.4" cy="111.7"/><circle cx="121" cy="105.3"/><circle cx="331.3" cy="99"/><circle cx="316.3" cy="92.3"/><circle cx="178.2" cy="103.7"/><circle cx="328.6" cy="111.7"/><circle cx="173.4" cy="106.9"/><circle cx="311" cy="89.9"/><circle cx="238.9" cy="96"/><circle cx="90.1" cy="110.8"/><circle cx="285.2" cy="99.7"/><circle cx="64" cy="88.7"/><circle cx="171.1" cy="92.3"/><circle cx="79.6" cy="102.3"/><circle cx="187.8" cy="108.2"/><circle cx="241.8" cy="93.3"/><circle cx="84.8" cy="91.2"/><circle cx="209.7" cy="89.1"/><circle cx="42.6" cy="107.9"/><circle cx="63.4" cy="104.8"/><circle cx="125.2" cy="101.2"/><circle cx="36" cy="115.4"/><circle cx="221.4" cy="108.5"/><circle cx="292.7" cy="105.2"/><circle cx="293.8" cy="108.8"/><circle cx="253.9" cy="94"/><circle cx="101.3" cy="109.4"/><circle cx="148.3" cy="105.1"/><circle cx="112.7" cy="113.5"/><circle cx="285.9" cy="93.5"/><circle cx="61.8" cy="117"/><circle cx="189.8" cy="97.9"/><circle cx="242.3" cy="85.4"/><circle cx="112.2" cy="103.8"/><circle cx="167.3" cy="101.7"/><circle cx="116.3" cy="116.8"/><circle cx="228.6" cy="94.3"/><circle cx="160.8" cy="90.3"/><circle cx="119.8" cy="116.6"/><circle cx="37.9" cy="101.2"/><circle cx="38.8" cy="93.5"/><circle cx="311.8" cy="107.9"/><circle cx="272.7" cy="112.2"/><circle cx="75.3" cy="103.1"/><circle cx="152.5" cy="107.5"/><circle cx="194.7" cy="91.4"/><circle cx="92.1" cy="95.3"/><circle cx="91.8" cy="90.3"/><circle cx="84.7" cy="88.6"/><circle cx="328" cy="95.5"/><circle cx="149.6" cy="105.5"/><circle cx="148.5" cy="102.6"/><circle cx="223.5" cy="88.6"/><circle cx="336" cy="113.7"/><circle cx="87.9" cy="100.6"/><circle cx="104.5" cy="97.2"/><circle cx="201.2" cy="86.3"/><circle cx="222" cy="85.3"/><circle cx="180.5" cy="105.8"/><circle cx="195" cy="100.3"/><circle cx="174.7" cy="111.7"/><circle cx="18.5" cy="107.7"/><circle cx="339.9" cy="89.6"/><circle cx="62.4" cy="101.7"/><circle cx="168.3" cy="93.2"/><circle cx="76.3" cy="116.3"/><circle cx="106.2" cy="97.7"/><circle cx="182.7" cy="117.4"/><circle cx="167.1" cy="85.7"/><circle cx="318.9" cy="90.4"/><circle cx="246.9" cy="93"/><circle cx="128.9" cy="91.9"/><circle cx="144.3" cy="93.2"/><circle cx="150.7" cy="110.3"/><circle cx="156.3" cy="111.8"/><circle cx="179.4" cy="104.6"/><circle cx="290.4" cy="117.3"/><circle cx="46.4" cy="99.9"/><circle cx="44" cy="101.7"/><circle cx="273.5" cy="106.4"/><circle cx="116.6" cy="93.2"/><circle cx="313.6" cy="111.6"/><circle cx="23.3" cy="88.3"/><circle cx="309.4" cy="92.9"/><circle cx="124.9" cy="117.6"/><circle cx="99.2" cy="110.6"/><circle cx="197.4" cy="89.6"/><circle cx="216.8" cy="116.8"/><circle cx="25.1" cy="112.2"/><circle cx="338.5" cy="110.5"/><circle cx="258.8" cy="86.8"/><circle cx="253.7" cy="113.7"/><circle cx="27.4" cy="103.3"/><circle cx="270.9" cy="114.6"/><circle cx="96.2" cy="113.1"/><circle cx="39.4" cy="96.7"/><circle cx="304.5" cy="105.1"/><circle cx="159.7" cy="90.5"/><circle cx="128.7" cy="97.6"/><circle cx="65.6" cy="106.4"/><circle cx="97.2" cy="92.5"/><circle cx="116.6" cy="102.5"/><circle cx="314.2" cy="117.7"/><circle cx="181.8" cy="110.9"/><circle cx="133.6" cy="115.1"/><circle cx="240.7" cy="104.8"/><circle cx="109.7" cy="88"/><circle cx="331.7" cy="116"/><circle cx="233.5" cy="104.2"/><circle cx="230.1" cy="98.7"/><circle cx="294.2" cy="98.9"/><circle cx="36.9" cy="99.8"/><circle cx="169.2" cy="116.9"/><circle cx="173.9" cy="110.8"/><circle cx="39" cy="85.6"/><circle cx="47.8" cy="107.2"/><circle cx="113.1" cy="100.9"/><circle cx="335.7" cy="90.9"/><circle cx="98.8" cy="116.1"/><circle cx="165.5" cy="98.2"/><circle cx="297.4" cy="112.4"/><circle cx="278" cy="99.9"/><circle cx="150.6" cy="109.5"/><circle cx="116.6" cy="90"/><circle cx="21.9" cy="105"/><circle cx="311.4" cy="114.7"/><circle cx="95.2" cy="101.7"/><circle cx="84.9" cy="99.8"/><circle cx="217.9" cy="93.5"/><circle cx="118.2" cy="102.6"/><circle cx="182.8" cy="102.2"/><circle cx="94.4" cy="93.1"/><circle cx="194.9" cy="92.7"/><circle cx="102.7" cy="107.3"/><circle cx="137.2" cy="93.2"/><circle cx="278.4" cy="86.9"/><circle cx="248.5" cy="115.2"/><circle cx="233.9" cy="117.3"/><circle cx="62" cy="118"/><circle cx="50.9" cy="108.6"/><circle cx="61.1" cy="102.6"/><circle cx="97.4" cy="86.4"/><circle cx="80.6" cy="100.7"/><circle cx="272" cy="93.5"/><circle cx="154.9" cy="110.1"/><circle cx="332.4" cy="103.8"/><circle cx="85.2" cy="99.4"/><circle cx="258.5" cy="91.5"/><circle cx="90.2" cy="88.3"/><circle cx="173.2" cy="110.8"/><circle cx="128.2" cy="117.8"/><circle cx="341.3" cy="101.4"/><circle cx="302.7" cy="98"/><circle cx="148" cy="113.8"/><circle cx="241.6" cy="106.8"/><circle cx="160.7" cy="111.3"/><circle cx="104.6" cy="97.6"/><circle cx="180.6" cy="108.2"/><circle cx="303.1" cy="107.5"/><circle cx="242.5" cy="117.2"/><circle cx="258.3" cy="97.3"/><circle cx="165.9" cy="96"/><circle cx="95.1" cy="100.3"/><circle cx="127.2" cy="99"/><circle cx="190" cy="110.7"/><circle cx="248.8" cy="98.1"/><circle cx="180.1" cy="104.2"/><circle cx="94.9" cy="117.5"/><circle cx="28.9" cy="112.4"/><circle cx="170" cy="94.6"/><circle cx="96.6" cy="108.4"/><circle cx="63.4" cy="104.6"/><circle cx="43.8" cy="100.5"/><circle cx="293.3" cy="111.2"/><circle cx="228.5" cy="102"/><circle cx="154.3" cy="110.3"/><circle cx="194.7" cy="98.5"/><circle cx="249.8" cy="99.2"/><circle cx="197.9" cy="87.4"/><circle cx="154.3" cy="93.1"/><circle cx="200.5" cy="103.6"/><circle cx="106.1" cy="84.8"/><circle cx="294.6" cy="113.7"/><circle cx="339.1" cy="106.8"/><circle cx="103.4" cy="109.8"/><circle cx="100.8" cy="109.6"/><circle cx="86.5" cy="104.7"/><circle cx="73.2" cy="111.7"/><circle cx="338.6" cy="114.8"/><circle cx="303.2" cy="112.1"/><circle cx="138.1" cy="96.1"/><circle cx="121.1" cy="106.8"/><circle cx="165.8" cy="103.4"/><circle cx="317.3" cy="94.7"/><circle cx="83.6" cy="111.5"/><circle cx="320.7" cy="110.8"/><circle cx="53.8" cy="103.4"/><circle cx="185.2" cy="110"/><circle cx="65.3" cy="111.2"/><circle cx="318.8" cy="111"/><circle cx="329.3" cy="105.6"/><circle cx="127.8" cy="97.5"/><circle cx="89.9" cy="96.6"/><circle cx="240.9" cy="108"/><circle cx="227" cy="100.3"/><circle cx="245.8" cy="89.2"/><circle cx="326.2" cy="103.7"/><circle cx="186.8" cy="98.3"/><circle cx="101.4" cy="97.2"/><circle cx="188.7" cy="109.5"/><circle cx="315.1" cy="90.7"/><circle cx="40.5" cy="108.8"/><circle cx="182.7" cy="89.3"/><circle cx="31.5" cy="112.5"/><circle cx="83.9" cy="100.9"/><circle cx="213.1" cy="108.1"/><circle cx="130" cy="114.5"/><circle cx="63.4" cy="105.2"/><circle cx="70.1" cy="88.6"/><circle cx="211.5" cy="114.2"/><circle cx="273.7" cy="94.7"/><circle cx="332.2" cy="101.6"/><circle cx="221.6" cy="112.4"/><circle cx="230.4" cy="90.5"/><circle cx="196.9" cy="97.7"/><circle cx="23.2" cy="104.5"/><circle cx="153.2" cy="116.2"/><circle cx="55.2" cy="105.7"/><circle cx="214.9" cy="97.5"/><circle cx="278.8" cy="94.1"/><circle cx="195.3" cy="99"/><circle cx="137.2" cy="105.7"/><circle cx="52" cy="101.9"/><circle cx="332.7" cy="100.2"/><circle cx="119.4" cy="90.9"/><circle cx="144.9" cy="112"/><circle cx="52.2" cy="99.7"/><circle cx="205.6" cy="114.3"/><circle cx="201.4" cy="90.8"/><circle cx="19.2" cy="113.1"/><circle cx="103.5" cy="113.7"/><circle cx="66.9" cy="94.4"/><circle cx="28.8" cy="106.3"/><circle cx="244.5" cy="94.3"/><circle cx="194.2" cy="96.7"/><circle cx="128.3" cy="112.4"/><circle cx="341.3" cy="90.7"/><circle cx="115.3" cy="89.4"/><circle cx="83" cy="105.2"/><circle cx="160.8" cy="117.3"/><circle cx="275.2" cy="104.8"/><circle cx="329.2" cy="117"/><circle cx="283.8" cy="91.9"/><circle cx="215.1" cy="116.3"/><circle cx="211.1" cy="108.5"/><circle cx="100.5" cy="102.3"/><circle cx="96.4" cy="93.1"/><circle cx="242" cy="111.2"/><circle cx="255.6" cy="115.1"/><circle cx="327.8" cy="92.3"/><circle cx="289.1" cy="99.2"/><circle cx="66" cy="114.7"/><circle cx="331.9" cy="91"/><circle cx="96.5" cy="114.5"/><circle cx="28.9" cy="97"/><circle cx="62.5" cy="100"/><circle cx="337.3" cy="98.7"/><circle cx="290.8" cy="99"/><circle cx="341" cy="84.6"/><circle cx="96.8" cy="97.9"/><circle cx="235.4" cy="89.1"/><circle cx="289.2" cy="99.2"/><circle cx="142.8" cy="114.4"/><circle cx="28.2" cy="107"/><circle cx="26.7" cy="111.9"/><circle cx="32" cy="88"/><circle cx="54.5" cy="99.7"/><circle cx="230.1" cy="90.9"/><circle cx="222.4" cy="111.4"/><circle cx="128.5" cy="99.2"/><circle cx="202.2" cy="89.3"/><circle cx="235.1" cy="109.2"/><circle cx="282.6" cy="110.8"/><circle cx="219.2" cy="114.9"/><circle cx="318.5" cy="103.8"/><circle cx="102.7" cy="92.7"/><circle cx="56.1" cy="116.8"/><circle cx="95.9" cy="100.2"/><circle cx="164.1" cy="116.5"/><circle cx="328.5" cy="107.2"/><circle cx="202.2" cy="98.6"/><circle cx="122.1" cy="93.6"/><circle cx="225.8" cy="93.5"/><circle cx="109.7" cy="91.7"/><circle cx="185.2" cy="103.6"/><circle cx="262.7" cy="90.5"/><circle cx="219.4" cy="100.4"/><circle cx="104.6" cy="109.5"/><circle cx="166.9" cy="89.8"/><circle cx="167.8" cy="89.7"/><circle cx="216.9" cy="111.7"/><circle cx="290.4" cy="111.9"/><circle cx="131.8" cy="107.3"/><circle cx="308.9" cy="98.1"/><circle cx="131.1" cy="115"/><circle cx="227.4" cy="89.9"/><circle cx="72.2" cy="107.2"/><circle cx="302" cy="96.6"/><circle cx="189.5" cy="110.8"/><circle cx="313.2" cy="115"/><circle cx="198.9" cy="98.9"/><circle cx="169.6" cy="95"/><circle cx="285" cy="106.3"/><circle cx="322.4" cy="110.2"/><circle cx="84.5" cy="89.2"/><circle cx="77.2" cy="104.5"/><circle cx="253" cy="110.5"/><circle cx="231.5" cy="106"/><circle cx="184.4" cy="103.7"/><circle cx="122.9" cy="93.5"/><circle cx="176.8" cy="107.8"/><circle cx="28.5" cy="106.3"/><circle cx="64.3" cy="102.3"/><circle cx="278.2" cy="103.6"/><circle cx="307" cy="89.4"/><circle cx="248.3" cy="99"/><circle cx="30" cy="107.4"/><circle cx="307.3" cy="117.6"/><circle cx="57.3" cy="106.4"/><circle cx="193.9" cy="109.2"/><circle cx="144.9" cy="110"/><circle cx="231.2" cy="114.8"/><circle cx="50.5" cy="94.2"/><circle cx="218.4" cy="90.2"/><circle cx="185.1" cy="96"/><circle cx="133.8" cy="88.6"/><circle cx="244.8" cy="98.4"/><circle cx="87.1" cy="114.3"/><circle cx="75.3" cy="92.6"/><circle cx="226.7" cy="96.7"/><circle cx="285.4" cy="116.8"/><circle cx="248.4" cy="89.6"/><circle cx="102.5" cy="105.2"/><circle cx="131.9" cy="91.8"/><circle cx="261.4" cy="108.9"/><circle cx="93.6" cy="101.8"/><circle cx="229.3" cy="114.4"/><circle cx="189.9" cy="96.3"/><circle cx="336" cy="93.8"/><circle cx="326" cy="107.6"/><circle cx="320.6" cy="98.2"/><circle cx="74.5" cy="98.2"/><circle cx="57.3" cy="111"/><circle cx="279.3" cy="90.1"/><circle cx="104.3" cy="87.7"/><circle cx="50.3" cy="102.9"/><circle cx="133.8" cy="105.9"/><circle cx="178.8" cy="99.2"/><circle cx="84.8" cy="92.3"/><circle cx="42.9" cy="114"/><circle cx="303.3" cy="105.5"/><circle cx="165.8" cy="102.7"/><circle cx="264.9" cy="98.6"/><circle cx="341" cy="98.8"/><circle cx="107.1" cy="96.9"/><circle cx="293.8" cy="102.4"/><circle cx="131.1" cy="96.4"/><circle cx="283.4" cy="90.1"/><circle cx="161.7" cy="115.3"/><circle cx="102" cy="103.7"/><circle cx="218.6" cy="91.3"/><circle cx="41" cy="98.4"/><circle cx="92.9" cy="112.2"/><circle cx="245.5" cy="117.1"/><circle cx="47.9" cy="108.8"/><circle cx="328.9" cy="114"/><circle cx="277.5" cy="117.1"/><circle cx="110.8" cy="111.1"/><circle cx="277" cy="88"/><circle cx="144" cy="103.2"/><circle cx="259.2" cy="91.7"/><circle cx="280.4" cy="110.8"/><circle cx="27.1" cy="111.4"/><circle cx="144.7" cy="105.8"/><circle cx="330.2" cy="95"/><circle cx="298.8" cy="113.7"/><circle cx="138.9" cy="94.9"/><circle cx="84.9" cy="102.2"/><circle cx="137.2" cy="94"/><circle cx="95.8" cy="94.5"/><circle cx="65.1" cy="98.5"/><circle cx="130.9" cy="98.5"/><circle cx="305.7" cy="100.5"/><circle cx="135.1" cy="92.9"/><circle cx="21" cy="92.2"/><circle cx="73.1" cy="97.3"/><circle cx="123.7" cy="102.1"/><circle cx="32.5" cy="108.4"/><circle cx="86.6" cy="92.2"/><circle cx="85.1" cy="112.4"/><circle cx="76.3" cy="99.5"/><circle cx="217.3" cy="101"/><circle cx="336.3" cy="105.5"/><circle cx="300.8" cy="90.9"/><circle cx="123.4" cy="107.8"/><circle cx="132.5" cy="117.8"/><circle cx="191.2" cy="95"/><circle cx="154.6" cy="103.3"/><circle cx="316.2" cy="96.4"/><circle cx="235.5" cy="104"/><circle cx="208.6" cy="111.2"/><circle cx="327" cy="96"/><circle cx="142" cy="92.6"/><circle cx="208.3" cy="115.4"/><circle cx="158.8" cy="99"/><circle cx="89.8" cy="102"/><circle cx="63.3" cy="112.3"/><circle cx="159.6" cy="91.7"/><circle cx="99.6" cy="103.6"/><circle cx="304.4" cy="107.8"/><circle cx="72" cy="105.5"/><circle cx="298.5" cy="101.3"/><circle cx="263.4" cy="99.4"/><circle cx="162.9" cy="107.6"/><circle cx="231.4" cy="100.4"/><circle cx="308.8" cy="92.3"/><circle cx="266.4" cy="113.7"/><circle cx="327.5" cy="86.9"/><circle cx="22.5" cy="111.3"/><circle cx="103.4" cy="103.1"/><circle cx="68.9" cy="92.7"/><circle cx="277.8" cy="90.1"/><circle cx="327.9" cy="115.1"/><circle cx="208" cy="112"/><circle cx="201.7" cy="92.4"/><circle cx="288.3" cy="113.7"/><circle cx="204.8" cy="88"/><circle cx="330.8" cy="88.7"/><circle cx="337" cy="91.1"/><circle cx="103.4" cy="95.6"/><circle cx="178.7" cy="116.5"/><circle cx="81.5" cy="99.9"/><circle cx="60.3" cy="111.7"/><circle cx="247.9" cy="112.6"/><circle cx="248.9" cy="117.4"/><circle cx="211.3" cy="114.7"/><circle cx="108.5" cy="112.8"/><circle cx="182.5" cy="116.4"/><circle cx="93.9" cy="86.5"/><circle cx="108.9" cy="100"/><circle cx="209" cy="93.8"/><circle cx="264.5" cy="97.2"/><circle cx="274.5" cy="108.1"/><circle cx="205.3" cy="91.6"/><circle cx="220.4" cy="106.5"/><circle cx="241.3" cy="90.9"/><circle cx="227.5" cy="113.2"/><circle cx="102.3" cy="96"/><circle cx="250.2" cy="102"/><circle cx="333" cy="109.6"/><circle cx="99.7" cy="104.5"/><circle cx="308.5" cy="94.8"/><circle cx="297" cy="97.1"/><circle cx="115.3" cy="103.2"/><circle cx="83.7" cy="85.3"/><circle cx="197.4" cy="115.2"/><circle cx="76" cy="107.7"/><circle cx="200.8" cy="100.4"/><circle cx="333.9" cy="105.4"/><circle cx="221" cy="113.6"/><circle cx="333.3" cy="102.3"/><circle cx="60.5" cy="117.4"/><circle cx="29.8" cy="98.7"/><circle cx="248.1" cy="112.6"/><circle cx="63.2" cy="105.7"/><circle cx="194.6" cy="116.1"/><circle cx="61.6" cy="84.6"/><circle cx="287.1" cy="114.7"/><circle cx="303.7" cy="114.1"/><circle cx="51.7" cy="93.5"/><circle cx="188.8" cy="107.7"/><circle cx="153.7" cy="95.3"/><circle cx="137.6" cy="112.2"/><circle cx="301.3" cy="116.6"/><circle cx="34.1" cy="88.9"/><circle cx="278.4" cy="96.4"/><circle cx="180" cy="107.3"/><circle cx="186.4" cy="116.1"/><circle cx="340.5" cy="93.3"/><circle cx="31.2" cy="103.5"/><circle cx="333.9" cy="91.9"/><circle cx="272.8" cy="98"/><circle cx="201.2" cy="115.1"/><circle cx="205.7" cy="109.8"/><circle cx="238.9" cy="105.9"/><circle cx="57.3" cy="93"/><circle cx="212.5" cy="114.8"/><circle cx="178" cy="104.8"/><circle cx="20.9" cy="107.8"/><circle cx="207.4" cy="102.8"/><circle cx="56.8" cy="100.5"/><circle cx="34.9" cy="109.3"/><circle cx="136.8" cy="93.8"/><circle cx="70.2" cy="93.4"/><circle cx="313.1" cy="105.7"/><circle cx="213.7" cy="109.4"/><circle cx="52.7" cy="108.8"/><circle cx="306.6" cy="99.9"/><circle cx="141.3" cy="116.5"/><circle cx="181.3" cy="105.3"/><circle cx="77.9" cy="112.9"/><circle cx="262" cy="107"/><circle cx="198.8" cy="105.2"/><circle cx="239.5" cy="95.4"/><circle cx="272" cy="87.8"/><circle cx="335.9" cy="91.1"/><circle cx="331" cy="114.4"/><circle cx="247.3" cy="87.9"/><circle cx="115.1" cy="87"/><circle cx="146.3" cy="91.5"/><circle cx="136.1" cy="87.3"/><circle cx="195.1" cy="97"/><circle cx="128.6" cy="95.3"/><circle cx="278.8" cy="90.7"/><circle cx="66.4" cy="99.2"/><circle cx="152.8" cy="98"/><circle cx="172.9" cy="112.7"/><circle cx="211.5" cy="99.5"/><circle cx="65.9" cy="94.2"/><circle cx="63.2" cy="108.4"/><circle cx="39.9" cy="90.4"/><circle cx="288.5" cy="99.9"/><circle cx="71" cy="116.8"/><circle cx="252.4" cy="104.7"/><circle cx="38.3" cy="109.5"/><circle cx="123.1" cy="108.2"/><circle cx="174.6" cy="98.1"/><circle cx="341.9" cy="91.4"/><circle cx="293.5" cy="115"/><circle cx="251" cy="115.4"/><circle cx="242.1" cy="113.5"/><circle cx="146.4" cy="108.6"/><circle cx="342.5" cy="101.2"/><circle cx="313.6" cy="90.5"/><circle cx="161.9" cy="117.8"/><circle cx="118.1" cy="92"/><circle cx="256.2" cy="115"/><circle cx="337.9" cy="88.4"/><circle cx="157.4" cy="97.6"/><circle cx="55.1" cy="90.5"/><circle cx="83.5" cy="117.6"/><circle cx="291.1" cy="104"/><circle cx="151.5" cy="86.1"/><circle cx="91.2" cy="113.6"/><circle cx="229.9" cy="97.9"/><circle cx="190.8" cy="104.8"/><circle cx="214.8" cy="108.4"/><circle cx="136.9" cy="99"/><circle cx="256.3" cy="92.8"/><circle cx="138.7" cy="90.8"/><circle cx="105.1" cy="106.9"/><circle cx="62.1" cy="108.9"/><circle cx="232.9" cy="107.8"/><circle cx="46" cy="89"/><circle cx="311.3" cy="106.4"/><circle cx="115.3" cy="110.9"/><circle cx="244" cy="113.1"/><circle cx="145.9" cy="106"/><circle cx="23.4" cy="113.7"/><circle cx="265.7" cy="92"/><circle cx="60.2" cy="101.7"/><circle cx="153.8" cy="111.9"/><circle cx="38.8" cy="106.4"/><circle cx="101.2" cy="101.3"/><circle cx="261.4" cy="95.3"/><circle cx="290.5" cy="104.4"/><circle cx="219.4" cy="110.5"/><circle cx="166.9" cy="114.3"/><circle cx="309.2" cy="96.7"/><circle cx="197.2" cy="107.2"/><circle cx="35" cy="97.7"/><circle cx="255.8" cy="111.4"/><circle cx="136.5" cy="104.9"/><circle cx="209.1" cy="99.6"/><circle cx="300.3" cy="115.9"/><circle cx="90.2" cy="103.1"/><circle cx="39" cy="116.8"/><circle cx="99.9" cy="90.9"/><circle cx="299.6" cy="98.5"/><circle cx="23.3" cy="107.3"/><circle cx="130.5" cy="95.8"/><circle cx="274.6" cy="111.5"/><circle cx="276.5" cy="112.1"/><circle cx="198.9" cy="117.2"/><circle cx="226.9" cy="116.2"/><circle cx="222.3" cy="117.9"/><circle cx="44" cy="95"/><circle cx="189.5" cy="107.4"/><circle cx="194.9" cy="109.6"/><circle cx="246.4" cy="94.2"/><circle cx="134.9" cy="102.3"/><circle cx="306.1" cy="90.3"/><circle cx="102.9" cy="115.4"/><circle cx="276.8" cy="97.5"/><circle cx="189.5" cy="96.4"/><circle cx="237" cy="111"/><circle cx="294.6" cy="117.9"/><circle cx="61.6" cy="112.2"/><circle cx="159.7" cy="104.4"/><circle cx="331.4" cy="86.3"/><circle cx="226.9" cy="106.2"/><circle cx="79.1" cy="91.3"/><circle cx="301" cy="116.5"/><circle cx="21.2" cy="116.5"/><circle cx="309.9" cy="106"/><circle cx="151.6" cy="115.2"/><circle cx="151.5" cy="99.1"/><circle cx="149.9" cy="90.1"/><circle cx="128.4" cy="117.1"/><circle cx="83.6" cy="93.9"/><circle cx="290.1" cy="117.5"/><circle cx="24.8" cy="89.5"/><circle cx="39.4" cy="89.2"/><circle cx="216.2" cy="114.3"/><circle cx="172.4" cy="94.7"/><circle cx="206.8" cy="87.5"/><circle cx="237.7" cy="103.4"/><circle cx="211.6" cy="106.5"/><circle cx="233.5" cy="109.6"/><circle cx="188.3" cy="91.6"/><circle cx="123.4" cy="97.5"/><circle cx="73" cy="88.7"/><circle cx="129.5" cy="113.3"/><circle cx="248.6" cy="106.6"/><circle cx="122" cy="97.9"/><circle cx="36.2" cy="104.3"/><circle cx="196.1" cy="98.5"/><circle cx="341.6" cy="106.2"/><circle cx="25.8" cy="117.8"/><circle cx="54" cy="96.2"/><circle cx="187.9" cy="108.8"/><circle cx="215.8" cy="91.1"/><circle cx="253.2" cy="117.3"/><circle cx="138.7" cy="104.6"/><circle cx="65.8" cy="104.7"/><circle cx="36.7" cy="90.2"/><circle cx="172.2" cy="86.7"/><circle cx="337.7" cy="97.5"/><circle cx="78.3" cy="108.2"/><circle cx="284.9" cy="108.7"/><circle cx="263.3" cy="92.8"/><circle cx="32.8" cy="94.5"/><circle cx="21.7" cy="111.7"/><circle cx="206.2" cy="108.7"/><circle cx="165.7" cy="90.7"/><circle cx="125.8" cy="104.6"/><circle cx="205.2" cy="109.8"/><circle cx="255.6" cy="93.3"/><circle cx="181.7" cy="97.1"/><circle cx="70.5" cy="110.5"/><circle cx="52.6" cy="104.9"/><circle cx="321.5" cy="101.8"/><circle cx="53.8" cy="98.7"/><circle cx="278.1" cy="88.5"/><circle cx="300.8" cy="114.6"/><circle cx="321.7" cy="109.7"/><circle cx="46.9" cy="116.6"/><circle cx="218" cy="97.1"/><circle cx="136.9" cy="103.8"/><circle cx="230.3" cy="92.6"/><circle cx="281.3" cy="98.3"/><circle cx="18.7" cy="103.3"/><circle cx="80.7" cy="104.3"/><circle cx="266.4" cy="110.8"/><circle cx="139.9" cy="93"/><circle cx="103.2" cy="116.5"/><circle cx="76.5" cy="100.1"/><circle cx="108" cy="114.2"/><circle cx="213.4" cy="94.6"/><circle cx="152.2" cy="102.7"/><circle cx="128.2" cy="100.4"/><circle cx="62.9" cy="86.7"/><circle cx="174" cy="117.5"/><circle cx="266.5" cy="97.2"/><circle cx="325.3" cy="87.1"/><circle cx="178.2" cy="96.1"/><circle cx="64.1" cy="86.6"/><circle cx="216.2" cy="114.4"/><circle cx="254" cy="91.2"/><circle cx="293.6" cy="105.6"/><circle cx="284.5" cy="103.3"/><circle cx="305.6" cy="110.3"/><circle cx="162.2" cy="102.4"/><circle cx="78.3" cy="94"/><circle cx="61.5" cy="96.5"/><circle cx="268.1" cy="96.5"/><circle cx="84.5" cy="102.5"/><circle cx="121" cy="87.7"/><circle cx="317.2" cy="93.8"/><circle cx="228.3" cy="96.2"/><circle cx="225.4" cy="107.1"/><circle cx="310.1" cy="92.8"/><circle cx="289" cy="93"/><circle cx="297.3" cy="114.2"/><circle cx="224.8" cy="93.8"/><circle cx="27" cy="113.5"/><circle cx="170.9" cy="115.6"/><circle cx="56.7" cy="110.2"/><circle cx="247.6" cy="100.2"/><circle cx="138.9" cy="109.9"/><circle cx="314.6" cy="98.1"/><circle cx="268.6" cy="101"/><circle cx="49.3" cy="108.1"/><circle cx="261" cy="111.6"/><circle cx="322.4" cy="88.2"/><circle cx="176.8" cy="117.3"/><circle cx="259.6" cy="110.8"/><circle cx="25.6" cy="90.3"/><circle cx="83.3" cy="90"/><circle cx="255.5" cy="114.8"/><circle cx="242.3" cy="101.7"/><circle cx="126" cy="115.1"/><circle cx="56.6" cy="95.2"/><circle cx="138.9" cy="88.4"/><circle cx="256" cy="105.6"/><circle cx="40.9" cy="108.2"/><circle cx="158.5" cy="98.1"/><circle cx="297.2" cy="115.8"/><circle cx="124.7" cy="89"/><circle cx="50.9" cy="108.6"/><circle cx="155.3" cy="110.8"/><circle cx="219.2" cy="94.5"/><circle cx="19.7" cy="107.7"/><circle cx="271.1" cy="91.3"/><circle cx="200.1" cy="111.3"/><circle cx="47.2" cy="84.8"/><circle cx="38.8" cy="100.6"/><circle cx="168.4" cy="112.8"/><circle cx="258.9" cy="100.3"/><circle cx="217" cy="99.7"/><circle cx="58" cy="116.8"/><circle cx="244.5" cy="93.4"/><circle cx="133.2" cy="110.6"/><circle cx="99.1" cy="111.9"/><circle cx="226.1" cy="99.2"/><circle cx="75.5" cy="97.2"/><circle cx="52.8" cy="108.6"/><circle cx="279.1" cy="113.9"/><circle cx="66.7" cy="103.6"/><circle cx="196.8" cy="89.8"/><circle cx="313" cy="110.7"/><circle cx="193.3" cy="106.2"/><circle cx="153.1" cy="106.7"/><circle cx="276.5" cy="98.2"/><circle cx="334.2" cy="111.2"/><circle cx="294.5" cy="87.6"/><circle cx="333.8" cy="101.1"/><circle cx="195.5" cy="112.8"/><circle cx="134" cy="102.9"/><circle cx="305.7" cy="114.2"/><circle cx="303.4" cy="96.9"/><circle cx="211.5" cy="97.1"/><circle cx="143.5" cy="102.6"/><circle cx="31.3" cy="117.9"/><circle cx="334.2" cy="105.7"/><circle cx="146.8" cy="98.9"/><circle cx="311.5" cy="85.2"/><circle cx="111.5" cy="101.1"/><circle cx="38.7" cy="106.8"/><circle cx="140" cy="91.9"/><circle cx="206" cy="89.9"/><circle cx="60.3" cy="88.3"/><circle cx="323.8" cy="103.3"/><circle cx="261.1" cy="97.9"/><circle cx="111.7" cy="99.2"/><circle cx="35.5" cy="116.5"/><circle cx="174.7" cy="96.8"/><circle cx="72.4" cy="115.3"/><circle cx="224.9" cy="100.1"/><circle cx="198.9" cy="111.1"/><circle cx="125.4" cy="89.8"/><circle cx="45.5" cy="106"/><circle cx="180.1" cy="107"/><circle cx="169.3" cy="116.9"/><circle cx="34.6" cy="84.8"/><circle cx="288.4" cy="84.8"/><circle cx="141.4" cy="105.9"/><circle cx="330.7" cy="117.7"/><circle cx="111.4" cy="103.2"/><circle cx="139.1" cy="91.5"/><circle cx="187" cy="106.7"/><circle cx="335.4" cy="101.3"/><circle cx="150.2" cy="91.6"/><circle cx="252.2" cy="90.8"/><circle cx="240.6" cy="101.8"/><circle cx="246.5" cy="96.4"/><circle cx="215.1" cy="108.1"/><circle cx="22.6" cy="112"/><circle cx="48.4" cy="86.3"/><circle cx="53" cy="92.1"/><circle cx="101.7" cy="98.6"/><circle cx="176.6" cy="88.6"/><circle cx="173.6" cy="85.5"/><circle cx="91.1" cy="94.8"/><circle cx="33.7" cy="104.1"/><circle cx="178.3" cy="97.2"/><circle cx="152.1" cy="110"/><circle cx="46.3" cy="100.1"/><circle cx="38.6" cy="111.7"/><circle cx="148.9" cy="102.5"/><circle cx="220.5" cy="105.4"/><circle cx="22.6" cy="104.3"/><circle cx="164.5" cy="101.9"/><circle cx="271.5" cy="116.7"/><circle cx="249.5" cy="96.1"/><circle cx="106.1" cy="92.8"/><circle cx="185.9" cy="89.3"/><circle cx="312.8" cy="101.9"/><circle cx="83.3" cy="100.3"/><circle cx="295.3" cy="103.3"/><circle cx="287" cy="113.5"/><circle cx="272.6" cy="107"/><circle cx="180.4" cy="99.7"/><circle cx="327" cy="89.7"/><circle cx="86.6" cy="115.5"/><circle cx="311.1" cy="105"/><circle cx="108.5" cy="89.6"/><circle cx="166.1" cy="90"/><circle cx="177.3" cy="87.7"/><circle cx="284.7" cy="110.8"/><circle cx="259.9" cy="110.1"/><circle cx="65.2" cy="112.1"/><circle cx="47" cy="87.3"/><circle cx="299.6" cy="111.8"/><circle cx="155.3" cy="110.1"/><circle cx="260.3" cy="103.9"/><circle cx="259.9" cy="110.3"/><circle cx="337" cy="106.2"/><circle cx="91.7" cy="113.9"/><circle cx="103.7" cy="102.6"/><circle cx="325.7" cy="98.3"/><circle cx="77" cy="107.8"/><circle cx="228.7" cy="90.6"/><circle cx="129.9" cy="95"/><circle cx="190.5" cy="89.4"/><circle cx="115.7" cy="112.4"/><circle cx="36" cy="92.7"/><circle cx="235.7" cy="97.4"/><circle cx="303.2" cy="105.6"/><circle cx="291.3" cy="88.9"/><circle cx="29.4" cy="104.3"/><circle cx="35.6" cy="90.8"/><circle cx="132.5" cy="93.3"/><circle cx="342" cy="106.9"/><circle cx="307.6" cy="87.7"/><circle cx="142.2" cy="90.5"/><circle cx="238.7" cy="108.7"/><circle cx="153.4" cy="109"/><circle cx="68.5" cy="99"/><circle cx="185.4" cy="93.3"/><circle cx="153.4" cy="117.9"/><circle cx="76.1" cy="90.8"/><circle cx="269.8" cy="101.3"/><circle cx="322.5" cy="94.8"/><circle cx="313.1" cy="93.6"/><circle cx="212.7" cy="106"/><circle cx="336" cy="110.3"/><circle cx="321.5" cy="86.9"/><circle cx="79.3" cy="89.9"/><circle cx="31.5" cy="85.8"/><circle cx="197.1" cy="117.7"/><circle cx="77.1" cy="103.4"/><circle cx="147.9" cy="94.1"/><circle cx="74.3" cy="114.2"/><circle cx="147.6" cy="86"/><circle cx="127.5" cy="91.9"/><circle cx="235.5" cy="94.5"/><circle cx="307.1" cy="96.3"/><circle cx="278.7" cy="109.4"/><circle cx="92.1" cy="105.9"/><circle cx="322.9" cy="94.9"/><circle cx="49.7" cy="116.8"/><circle cx="255.5" cy="104.5"/><circle cx="40.4" cy="93.3"/><circle cx="249.6" cy="104.7"/><circle cx="152.6" cy="90.5"/><circle cx="264.6" cy="104.5"/><circle cx="143.6" cy="104.3"/><circle cx="188.1" cy="88.1"/><circle cx="153.9" cy="114.7"/><circle cx="30.1" cy="86.7"/><circle cx="135" cy="91.2"/><circle cx="195.8" cy="106.9"/><circle cx="294.1" cy="97.6"/><circle cx="268.7" cy="110.5"/><circle cx="170.6" cy="117.3"/><circle cx="301.5" cy="102.2"/><circle cx="152" cy="116.2"/><circle cx="215.4" cy="111"/><circle cx="337" cy="85"/><circle cx="270.9" cy="99.4"/><circle cx="277.5" cy="117.9"/><circle cx="87" cy="117.2"/><circle cx="185.3" cy="102.1"/><circle cx="40.2" cy="115.6"/><circle cx="263.5" cy="114.8"/><circle cx="161.3" cy="93.6"/><circle cx="182.2" cy="96.9"/><circle cx="51.3" cy="96.8"/><circle cx="294.5" cy="109.8"/><circle cx="293.9" cy="92.9"/><circle cx="317" cy="99.6"/><circle cx="163.5" cy="107.8"/><circle cx="310.7" cy="115.9"/><circle cx="277.3" cy="104.6"/><circle cx="179.1" cy="97"/><circle cx="126" cy="116.4"/><circle cx="143" cy="107.2"/><circle cx="212.4" cy="93.4"/><circle cx="150.3" cy="93.9"/><circle cx="325.4" cy="114.5"/><circle cx="228.6" cy="90.2"/><circle cx="91.6" cy="93.4"/><circle cx="236.5" cy="96.3"/><circle cx="342.6" cy="90.3"/><circle cx="228.7" cy="115.5"/><circle cx="316.3" cy="108.4"/><circle cx="154.4" cy="84.8"/><circle cx="249.8" cy="105"/><circle cx="30" cy="92.6"/><circle cx="86.6" cy="90.8"/><circle cx="340.3" cy="109"/><circle cx="183.5" cy="101.1"/><circle cx="273.5" cy="94.3"/><circle cx="205.8" cy="107.4"/><circle cx="123.1" cy="90.4"/><circle cx="237.9" cy="101.5"/><circle cx="26" cy="116"/><circle cx="268.8" cy="85.6"/><circle cx="129.5" cy="88.1"/><circle cx="296.7" cy="106.9"/><circle cx="320.6" cy="106.5"/><circle cx="326.4" cy="97.1"/><circle cx="322.2" cy="102.8"/><circle cx="254.1" cy="102.5"/><circle cx="67.7" cy="103.3"/><circle cx="325.7" cy="90.7"/><circle cx="276.1" cy="106"/><circle cx="111.5" cy="100.4"/><circle cx="281.8" cy="108.8"/><circle cx="336" cy="101"/><circle cx="220.2" cy="87"/><circle cx="329.8" cy="88.4"/><circle cx="319.8" cy="98.6"/><circle cx="221.2" cy="106.5"/><circle cx="257.5" cy="108.2"/><circle cx="136.9" cy="86.2"/><circle cx="187.1" cy="103.1"/><circle cx="237.6" cy="99.7"/><circle cx="272.3" cy="108.5"/><circle cx="84" cy="87.3"/><circle cx="244.8" cy="90.5"/><circle cx="224" cy="88.6"/><circle cx="90.4" cy="96.6"/><circle cx="317.5" cy="115.1"/><circle cx="64.6" cy="101.4"/><circle cx="131.1" cy="108.5"/><circle cx="54.5" cy="110.3"/><circle cx="21.8" cy="90.6"/><circle cx="326.5" cy="107.9"/><circle cx="132.4" cy="107.5"/><circle cx="218.4" cy="112.4"/><circle cx="266.9" cy="112.5"/><circle cx="140.4" cy="117.1"/><circle cx="282.3" cy="115"/><circle cx="214.6" cy="103.2"/><circle cx="21" cy="113"/><circle cx="327.5" cy="101"/><circle cx="153.1" cy="109.3"/><circle cx="170.2" cy="105"/><circle cx="271.9" cy="111.5"/><circle cx="55.6" cy="87.7"/><circle cx="281.9" cy="117.6"/><circle cx="204.1" cy="96.5"/><circle cx="299.8" cy="116.1"/><circle cx="189.7" cy="95.3"/><circle cx="192.5" cy="97.9"/><circle cx="277.3" cy="117.8"/><circle cx="217.9" cy="97.5"/><circle cx="144.8" cy="91.1"/><circle cx="68.2" cy="105.9"/><circle cx="88.5" cy="96.4"/><circle cx="295.9" cy="113.6"/><circle cx="119.6" cy="92.7"/><circle cx="260.2" cy="103.6"/><circle cx="140.9" cy="93.5"/><circle cx="118.1" cy="94.7"/><circle cx="231.7" cy="111.8"/><circle cx="145.7" cy="115.6"/><circle cx="103.5" cy="89.9"/><circle cx="249.1" cy="105.1"/><circle cx="175.2" cy="104.7"/><circle cx="215.8" cy="113.9"/><circle cx="218.7" cy="94.6"/><circle cx="313.6" cy="100.1"/><circle cx="330.2" cy="102.6"/><circle cx="197.8" cy="99"/><circle cx="91.4" cy="94.3"/><circle cx="277.7" cy="101.4"/><circle cx="254.5" cy="98.6"/><circle cx="135.9" cy="88.7"/><circle cx="246.6" cy="107.6"/><circle cx="123" cy="107.9"/><circle cx="315.4" cy="98.9"/><circle cx="59.7" cy="97.4"/><circle cx="310" cy="95.6"/><circle cx="151.5" cy="93.1"/><circle cx="222.9" cy="116.3"/><circle cx="318.7" cy="100.2"/><circle cx="288" cy="115.9"/><circle cx="44.8" cy="116.5"/><circle cx="132.8" cy="106.7"/><circle cx="245.4" cy="97.4"/><circle cx="240.4" cy="109.1"/><circle cx="109.3" cy="93.1"/><circle cx="265.3" cy="94.7"/><circle cx="34.5" cy="105.4"/><circle cx="305.4" cy="96.2"/><circle cx="81.3" cy="111.8"/><circle cx="109.4" cy="109.8"/><circle cx="69.5" cy="117.3"/><circle cx="266.7" cy="100.7"/><circle cx="234.3" cy="107.2"/><circle cx="115.3" cy="110.8"/><circle cx="219.8" cy="98.7"/><circle cx="121" cy="117.5"/><circle cx="183.8" cy="101.6"/><circle cx="175" cy="113.6"/><circle cx="33.8" cy="107.2"/><circle cx="279.7" cy="116.3"/><circle cx="282.7" cy="92.7"/><circle cx="215.4" cy="110.5"/><circle cx="38.6" cy="117.2"/><circle cx="224.5" cy="106.5"/><circle cx="34.8" cy="93.4"/><circle cx="270.3" cy="88.3"/><circle cx="73.8" cy="106"/><circle cx="316.7" cy="107.4"/><circle cx="48.7" cy="93.4"/><circle cx="224.7" cy="116.8"/><circle cx="151.5" cy="114.1"/><circle cx="289.5" cy="117.3"/><circle cx="18.4" cy="87.7"/><circle cx="276.1" cy="105.2"/><circle cx="320.8" cy="91.3"/><circle cx="60.3" cy="108.7"/><circle cx="287.9" cy="116.8"/><circle cx="258.9" cy="111.2"/><circle cx="250.5" cy="85.8"/><circle cx="59.4" cy="96.1"/><circle cx="172.6" cy="103.4"/><circle cx="314.8" cy="96.1"/><circle cx="100.4" cy="91.6"/><circle cx="270" cy="114.1"/><circle cx="167.2" cy="114"/><circle cx="88.8" cy="115.5"/><circle cx="199.3" cy="102.1"/><circle cx="304.6" cy="97.9"/><circle cx="73.2" cy="94.4"/><circle cx="221.4" cy="116.7"/><circle cx="186.7" cy="89.9"/><circle cx="152.5" cy="98.7"/><circle cx="22.6" cy="101"/><circle cx="28.2" cy="90.6"/><circle cx="216.9" cy="92.6"/><circle cx="281.8" cy="105.1"/><circle cx="163.6" cy="116.8"/><circle cx="133.6" cy="95.9"/><circle cx="23" cy="108.7"/><circle cx="156.9" cy="97.4"/><circle cx="96.3" cy="106"/><circle cx="212.5" cy="114.5"/><circle cx="330.7" cy="90.9"/><circle cx="91.1" cy="97"/><circle cx="48.7" cy="111.2"/><circle cx="101.2" cy="94"/><circle cx="246.8" cy="111.5"/><circle cx="158.7" cy="89.5"/><circle cx="321.7" cy="114.8"/><circle cx="281.7" cy="94.8"/><circle cx="210.6" cy="102.7"/><circle cx="167.7" cy="112.9"/><circle cx="69.2" cy="105.5"/><circle cx="223.9" cy="107.6"/><circle cx="245.9" cy="87.3"/><circle cx="275.6" cy="94.6"/><circle cx="193.2" cy="103.8"/><circle cx="240.3" cy="87.1"/><circle cx="54.2" cy="98.8"/><circle cx="157.7" cy="88.3"/><circle cx="96.8" cy="110.7"/><circle cx="235.7" cy="93"/><circle cx="120.7" cy="85"/><circle cx="110.6" cy="105"/><circle cx="102.4" cy="99.4"/><circle cx="153.8" cy="103.9"/><circle cx="112.6" cy="100.7"/><circle cx="322.5" cy="109.4"/><circle cx="59.1" cy="104.9"/><circle cx="110" cy="114.5"/><circle cx="64.1" cy="106.5"/><circle cx="194.4" cy="106.4"/><circle cx="162.2" cy="92.7"/><circle cx="158.9" cy="107.7"/><circle cx="302.7" cy="101.9"/><circle cx="132.2" cy="95.3"/><circle cx="74.7" cy="104.3"/><circle cx="120.9" cy="96.7"/><circle cx="240.1" cy="113.5"/><circle cx="253.4" cy="109.3"/><circle cx="303.5" cy="99.8"/><circle cx="305.3" cy="87.9"/><circle cx="51.8" cy="116.6"/><circle cx="41.6" cy="95.4"/><circle cx="215.9" cy="109.6"/><circle cx="39.4" cy="110.3"/><circle cx="119.9" cy="102"/><circle cx="153.7" cy="89.8"/><circle cx="274.2" cy="111.2"/><circle cx="313.3" cy="117.4"/><circle cx="65.9" cy="97.4"/><circle cx="101" cy="101.1"/><circle cx="225.6" cy="104.4"/><circle cx="299.8" cy="118"/><circle cx="38.3" cy="115.2"/><circle cx="318.4" cy="102"/><circle cx="97.3" cy="111.7"/><circle cx="65.4" cy="93"/><circle cx="111.2" cy="103.6"/><circle cx="87.9" cy="96.7"/><circle cx="126.9" cy="93.3"/><circle cx="127.5" cy="106.1"/><circle cx="46.9" cy="98.9"/><circle cx="251.7" cy="103.9"/><circle cx="280.9" cy="93.2"/><circle cx="243.2" cy="108.8"/><circle cx="305.7" cy="97.1"/><circle cx="69.5" cy="95.2"/><circle cx="185.1" cy="111"/><circle cx="179" cy="106.6"/><circle cx="150.6" cy="94.4"/><circle cx="325" cy="104.4"/><circle cx="313.6" cy="91"/><circle cx="257.7" cy="107.7"/><circle cx="199.3" cy="113.1"/><circle cx="51" cy="109.7"/><circle cx="316.1" cy="107.8"/><circle cx="28.9" cy="86.6"/><circle cx="245.6" cy="112.6"/><circle cx="134" cy="89.2"/><circle cx="204.5" cy="88.7"/><circle cx="297.7" cy="87.7"/><circle cx="65.9" cy="90.8"/><circle cx="289.8" cy="93"/><circle cx="191.5" cy="90.6"/><circle cx="100.4" cy="96.3"/><circle cx="25.3" cy="116.9"/><circle cx="266" cy="98.1"/><circle cx="271" cy="89.2"/><circle cx="154.9" cy="86.4"/><circle cx="97.2" cy="84.6"/><circle cx="162.7" cy="101.8"/><circle cx="97.7" cy="117.2"/><circle cx="291.8" cy="101.9"/><circle cx="88.5" cy="104.5"/><circle cx="202" cy="101.5"/><circle cx="76.9" cy="112.2"/><circle cx="314.3" cy="110"/><circle cx="172.6" cy="109.4"/><circle cx="54.5" cy="115.9"/><circle cx="289.8" cy="106.2"/><circle cx="206.4" cy="98.4"/><circle cx="178.3" cy="93.9"/><circle cx="131.8" cy="109"/><circle cx="154.4" cy="93.9"/><circle cx="41.2" cy="97"/><circle cx="269.2" cy="96.5"/><circle cx="234" cy="104"/><circle cx="49.9" cy="100.7"/><circle cx="285.2" cy="114.7"/><circle cx="301.9" cy="94"/><circle cx="156" cy="103.5"/><circle cx="150" cy="109"/><circle cx="178.2" cy="114.8"/><circle cx="233.2" cy="102.5"/><circle cx="199.7" cy="99.5"/><circle cx="178.4" cy="109.5"/><circle cx="82.1" cy="97.2"/><circle cx="259.2" cy="109.1"/><circle cx="297.1" cy="112.4"/><circle cx="271.2" cy="99.9"/><circle cx="142.7" cy="99.1"/><circle cx="55.1" cy="112.9"/><circle cx="319.2" cy="105.8"/><circle cx="118.7" cy="89.5"/><circle cx="49.6" cy="95.4"/><circle cx="35.2" cy="115.8"/><circle cx="259.9" cy="113.2"/><circle cx="186" cy="86.8"/><circle cx="136.5" cy="91.7"/><circle cx="302.5" cy="95.3"/><circle cx="313.6" cy="93.4"/><circle cx="311.1" cy="94.6"/><circle cx="208.7" cy="114"/><circle cx="71.1" cy="114.3"/><circle cx="255.7" cy="113.2"/><circle cx="159.7" cy="96.7"/><circle cx="270.2" cy="108.6"/><circle cx="234.2" cy="108.4"/><circle cx="148.4" cy="109.4"/><circle cx="277.3" cy="111.5"/><circle cx="297.1" cy="108.9"/><circle cx="196.1" cy="84.6"/><circle cx="35.6" cy="115.4"/><circle cx="23.8" cy="90.4"/><circle cx="289.2" cy="116.4"/><circle cx="320.7" cy="110.3"/><circle cx="283.9" cy="98.3"/><circle cx="52.5" cy="98.6"/><circle cx="91.3" cy="97.8"/><circle cx="144.9" cy="90"/><circle cx="282.7" cy="101.3"/><circle cx="65" cy="89.4"/><circle cx="225.4" cy="103.1"/><circle cx="285.3" cy="112.1"/><circle cx="112.4" cy="98.2"/><circle cx="72" cy="111.4"/><circle cx="31.4" cy="93.4"/><circle cx="92.2" cy="97.9"/><circle cx="288.5" cy="95.1"/><circle cx="188.9" cy="105.8"/><circle cx="96.2" cy="86.6"/><circle cx="76" cy="103.7"/><circle cx="29.9" cy="107.4"/><circle cx="303.1" cy="91.9"/><circle cx="282.8" cy="111"/><circle cx="300.7" cy="116.7"/><circle cx="204.1" cy="91.2"/><circle cx="275.1" cy="95.5"/><circle cx="198" cy="117.5"/><circle cx="203" cy="115.9"/><circle cx="46.5" cy="101.6"/><circle cx="32.7" cy="101.9"/><circle cx="260.9" cy="90.8"/><circle cx="107.9" cy="99.2"/><circle cx="213.3" cy="97.9"/><circle cx="116.3" cy="114.3"/><circle cx="49.6" cy="97.4"/><circle cx="55.6" cy="99.8"/><circle cx="115.6" cy="97.9"/><circle cx="316.7" cy="106.5"/><circle cx="87.8" cy="114.7"/><circle cx="276.6" cy="104.2"/><circle cx="131.7" cy="89.2"/><circle cx="336.8" cy="107.4"/><circle cx="235.8" cy="102.4"/><circle cx="260.8" cy="92.8"/><circle cx="258.8" cy="115.9"/><circle cx="93.2" cy="92.8"/><circle cx="270.1" cy="110.5"/><circle cx="334.7" cy="108.1"/><circle cx="184.1" cy="105.8"/><circle cx="36.5" cy="108.9"/><circle cx="314.9" cy="106.6"/><circle cx="30.3" cy="91"/><circle cx="326.3" cy="100.1"/><circle cx="184.6" cy="106.2"/><circle cx="82.2" cy="115.2"/><circle cx="84" cy="111.8"/><circle cx="27.5" cy="105.6"/><circle cx="165.9" cy="106.9"/><circle cx="304.9" cy="101.8"/><circle cx="49.1" cy="115.8"/><circle cx="252.6" cy="100.2"/><circle cx="39.9" cy="107.4"/><circle cx="341.4" cy="108.8"/><circle cx="19.6" cy="102"/><circle cx="61" cy="92.7"/><circle cx="115.2" cy="85.4"/><circle cx="237.7" cy="95.5"/><circle cx="115.1" cy="100.7"/><circle cx="177.2" cy="88.6"/><circle cx="173.1" cy="117.1"/><circle cx="260.1" cy="87.7"/><circle cx="324.5" cy="90.3"/><circle cx="78" cy="94.1"/><circle cx="141.6" cy="96.4"/><circle cx="191.4" cy="98.9"/><circle cx="286.3" cy="91.6"/><circle cx="123.3" cy="94.5"/><circle cx="339.9" cy="104.8"/><circle cx="330.8" cy="91.2"/><circle cx="224.7" cy="88.5"/><circle cx="335.2" cy="108.7"/><circle cx="39.1" cy="98.3"/><circle cx="155.4" cy="97"/><circle cx="84.4" cy="116.2"/><circle cx="140.8" cy="97.2"/><circle cx="215.4" cy="87.2"/><circle cx="124.1" cy="105.5"/><circle cx="181.8" cy="87.2"/><circle cx="273.4" cy="113.2"/><circle cx="170.2" cy="107.9"/><circle cx="152.4" cy="115.9"/><circle cx="86.8" cy="114.6"/><circle cx="166.4" cy="101.1"/><circle cx="184.2" cy="113.4"/><circle cx="274.4" cy="95.3"/><circle cx="67.7" cy="93.5"/><circle cx="162.2" cy="112.7"/><circle cx="330" cy="106.6"/><circle cx="216.4" cy="110.9"/><circle cx="94.5" cy="99.9"/><circle cx="103.1" cy="92.3"/><circle cx="82" cy="111.5"/><circle cx="176.8" cy="98"/><circle cx="302.2" cy="108.1"/><circle cx="242" cy="113.1"/><circle cx="243.8" cy="102.1"/><circle cx="183.5" cy="94.1"/><circle cx="269" cy="115.7"/><circle cx="41.4" cy="93.8"/><circle cx="193.1" cy="102.5"/><circle cx="143" cy="107"/><circle cx="50.7" cy="101.9"/><circle cx="252.7" cy="84.6"/><circle cx="88.3" cy="111.6"/><circle cx="67.2" cy="96.2"/><circle cx="145.7" cy="95.8"/><circle cx="90.5" cy="99.7"/><circle cx="144" cy="115.9"/><circle cx="290.6" cy="115.2"/><circle cx="131.9" cy="102.6"/><circle cx="50" cy="101.2"/><circle cx="182" cy="99.9"/><circle cx="181.8" cy="117.2"/><circle cx="73.5" cy="113.3"/><circle cx="313.1" cy="104.2"/><circle cx="307.9" cy="109.5"/><circle cx="163.1" cy="88.1"/><circle cx="126.6" cy="86.6"/><circle cx="280" cy="94.6"/><circle cx="241.4" cy="90.3"/><circle cx="131.9" cy="85.9"/><circle cx="67.2" cy="111.7"/><circle cx="339" cy="94.5"/><circle cx="247.5" cy="105.6"/><circle cx="211" cy="91.3"/><circle cx="106.9" cy="101.7"/><circle cx="169.3" cy="86.1"/><circle cx="205.7" cy="110"/><circle cx="335.2" cy="114.4"/><circle cx="245.9" cy="111.9"/><circle cx="300" cy="89.1"/><circle cx="63.8" cy="111.8"/><circle cx="208.5" cy="108.9"/><circle cx="163" cy="99.3"/><circle cx="326" cy="116"/><circle cx="36.9" cy="93.5"/><circle cx="101" cy="111.9"/><circle cx="293.8" cy="114.7"/><circle cx="294.1" cy="106.4"/><circle cx="211.1" cy="100"/><circle cx="331.1" cy="115.4"/><circle cx="281.3" cy="102.9"/><circle cx="188" cy="88.1"/><circle cx="258" cy="102.3"/><circle cx="218.9" cy="110.2"/><circle cx="338.9" cy="85.8"/><circle cx="317.6" cy="110.1"/><circle cx="193.1" cy="103.6"/><circle cx="193.9" cy="101.1"/><circle cx="89.9" cy="116"/><circle cx="62.6" cy="86.5"/><circle cx="151.6" cy="91.7"/><circle cx="192.3" cy="97.3"/><circle cx="45.9" cy="91.9"/><circle cx="184.3" cy="103.4"/><circle cx="183.1" cy="114.8"/><circle cx="321.8" cy="105.3"/><circle cx="163" cy="91.7"/><circle cx="211.9" cy="108.9"/><circle cx="20.7" cy="117.7"/><circle cx="72.2" cy="103.7"/><circle cx="92.9" cy="102"/><circle cx="151.5" cy="105.1"/><circle cx="62" cy="108.4"/><circle cx="252.8" cy="90.1"/><circle cx="238.3" cy="90.2"/><circle cx="337.6" cy="106"/><circle cx="273.2" cy="91.2"/><circle cx="104.2" cy="107.7"/><circle cx="56.1" cy="104.8"/><circle cx="76.7" cy="92.7"/><circle cx="200.7" cy="97.2"/><circle cx="209.1" cy="103.7"/><circle cx="298.5" cy="115.8"/><circle cx="208.1" cy="108.2"/><circle cx="160.2" cy="92.1"/><circle cx="340" cy="117.4"/><circle cx="62.6" cy="99.3"/><circle cx="197" cy="94.4"/><circle cx="286.2" cy="115.1"/><circle cx="60.3" cy="95.5"/><circle cx="105.6" cy="117.5"/><circle cx="32.9" cy="92.9"/><circle cx="71.3" cy="98.8"/><circle cx="337.3" cy="106.1"/><circle cx="231.1" cy="93.2"/><circle cx="163.8" cy="106.5"/><circle cx="39.9" cy="110.6"/><circle cx="199.1" cy="95.3"/><circle cx="162.2" cy="117.6"/><circle cx="217" cy="103.3"/><circle cx="235" cy="89.5"/><circle cx="20.6" cy="114"/><circle cx="122.8" cy="116"/><circle cx="271.5" cy="98.5"/><circle cx="158.2" cy="106.1"/><circle cx="208.2" cy="95"/><circle cx="254.2" cy="96.6"/><circle cx="270.6" cy="91"/><circle cx="237.4" cy="95.3"/><circle cx="175.2" cy="92.2"/><circle cx="143.8" cy="89.2"/><circle cx="195" cy="104.3"/><circle cx="184" cy="102.1"/><circle cx="33.1" cy="90"/><circle cx="280.2" cy="99.9"/><circle cx="50.9" cy="108.8"/><circle cx="101.2" cy="111"/><circle cx="164" cy="107.1"/><circle cx="163.6" cy="97.7"/><circle cx="283.1" cy="94.1"/><circle cx="223.3" cy="94.2"/><circle cx="214.4" cy="107.9"/><circle cx="306.4" cy="98.3"/><circle cx="92.6" cy="117.4"/><circle cx="64.9" cy="93.6"/><circle cx="288.5" cy="100.3"/><circle cx="139" cy="106"/><circle cx="110.6" cy="110.4"/><circle cx="174.5" cy="111.6"/><circle cx="200" cy="92.4"/><circle cx="327" cy="87.1"/><circle cx="223.6" cy="91.5"/><circle cx="319" cy="90.8"/><circle cx="48.4" cy="97.6"/><circle cx="239.3" cy="108.6"/><circle cx="303" cy="112"/><circle cx="122.6" cy="97.1"/><circle cx="207" cy="114.1"/><circle cx="285.3" cy="107.2"/><circle cx="324" cy="113.2"/><circle cx="100.4" cy="99.3"/><circle cx="271.7" cy="114.8"/><circle cx="158" cy="97.1"/><circle cx="167.3" cy="95.6"/><circle cx="45" cy="110"/><circle cx="222.8" cy="93.6"/><circle cx="280.2" cy="94.2"/><circle cx="237.3" cy="84.6"/><circle cx="113.3" cy="103.2"/><circle cx="18.7" cy="92.7"/><circle cx="285.9" cy="103.7"/><circle cx="235.2" cy="116.7"/><circle cx="250.8" cy="116.6"/><circle cx="324.7" cy="86.2"/><circle cx="276" cy="98.8"/><circle cx="247.5" cy="113.4"/><circle cx="137.7" cy="102.7"/><circle cx="81.8" cy="104.8"/><circle cx="93.5" cy="96.4"/><circle cx="19.1" cy="112"/><circle cx="180.4" cy="96.9"/><circle cx="82.1" cy="109"/><circle cx="91.7" cy="105.8"/><circle cx="205.5" cy="97.6"/><circle cx="188.3" cy="91.1"/><circle cx="98.3" cy="95.3"/><circle cx="242.5" cy="100.1"/><circle cx="336.2" cy="107.9"/><circle cx="328.4" cy="108.2"/><circle cx="252.9" cy="96.1"/><circle cx="40.5" cy="115"/><circle cx="313.1" cy="90.2"/><circle cx="292.6" cy="108.8"/><circle cx="252.2" cy="92.3"/><circle cx="67.6" cy="116.6"/><circle cx="299.1" cy="95.4"/><circle cx="253.3" cy="103.1"/><circle cx="272.2" cy="103.3"/><circle cx="200.8" cy="101.3"/><circle cx="223.2" cy="100.4"/><circle cx="135.4" cy="92.8"/><circle cx="50.8" cy="91.2"/><circle cx="159.2" cy="87"/><circle cx="112.3" cy="111"/><circle cx="93.5" cy="92.5"/><circle cx="281" cy="105.3"/><circle cx="298.8" cy="96.3"/><circle cx="223.3" cy="113.4"/><circle cx="308.7" cy="110.8"/><circle cx="66.6" cy="84.8"/><circle cx="88.3" cy="97.8"/><circle cx="25.4" cy="110.9"/><circle cx="270.7" cy="105.3"/><circle cx="220.6" cy="114.9"/><circle cx="262.6" cy="97.1"/><circle cx="212.5" cy="90.1"/><circle cx="205.3" cy="111.1"/><circle cx="109.2" cy="105.8"/><circle cx="164.5" cy="117"/><circle cx="61.9" cy="85.4"/><circle cx="228.3" cy="112.1"/><circle cx="20.7" cy="90.4"/><circle cx="231.1" cy="101.4"/><circle cx="86.6" cy="93.8"/><circle cx="240.9" cy="91"/><circle cx="167.3" cy="98.1"/><circle cx="89.7" cy="99.3"/><circle cx="241" cy="95.5"/><circle cx="47" cy="89.1"/><circle cx="332.1" cy="95.4"/><circle cx="41.6" cy="103"/><circle cx="127.3" cy="89.2"/><circle cx="208.2" cy="94.6"/><circle cx="57.6" cy="109.3"/><circle cx="61.4" cy="97.1"/><circle cx="108.4" cy="100.5"/><circle cx="159.1" cy="114.2"/><circle cx="200.8" cy="93.5"/><circle cx="43.2" cy="101"/><circle cx="338.8" cy="104.6"/><circle cx="177.8" cy="92.7"/><circle cx="39.5" cy="116"/><circle cx="243.7" cy="101.3"/><circle cx="30.1" cy="86.9"/><circle cx="158.8" cy="108.4"/><circle cx="99.4" cy="113.7"/><circle cx="177.1" cy="107.8"/><circle cx="295.9" cy="112.4"/><circle cx="338.8" cy="101.8"/><circle cx="24.6" cy="85.4"/><circle cx="40.1" cy="109.6"/><circle cx="27.7" cy="110.9"/><circle cx="225.4" cy="84.6"/><circle cx="189.9" cy="101.4"/><circle cx="228.4" cy="94.3"/><circle cx="262.6" cy="102.1"/><circle cx="138.1" cy="97.1"/><circle cx="59.2" cy="105.8"/><circle cx="27" cy="110.3"/><circle cx="143.8" cy="117.9"/><circle cx="197.2" cy="92.4"/><circle cx="89.9" cy="101.5"/><circle cx="28.7" cy="97.9"/><circle cx="124" cy="94.5"/><circle cx="317.4" cy="97.3"/><circle cx="330.4" cy="111.7"/><circle cx="322.2" cy="107.3"/><circle cx="206.2" cy="93.3"/><circle cx="271.3" cy="107.9"/><circle cx="31.6" cy="105"/><circle cx="184.5" cy="88.5"/><circle cx="55.5" cy="112.1"/><circle cx="53.5" cy="117.5"/><circle cx="134" cy="91.1"/><circle cx="339.8" cy="112.9"/><circle cx="153.8" cy="118"/><circle cx="171" cy="116.9"/><circle cx="129" cy="91.7"/><circle cx="92.8" cy="116"/><circle cx="77.8" cy="112.3"/><circle cx="52.8" cy="98.7"/><circle cx="193.6" cy="90.3"/><circle cx="319" cy="101"/><circle cx="38" cy="98.1"/><circle cx="285.7" cy="110.9"/><circle cx="143.5" cy="116"/><circle cx="46.5" cy="101.1"/><circle cx="318.3" cy="107.9"/><circle cx="324.9" cy="108.4"/><circle cx="240" cy="109.2"/><circle cx="82.2" cy="96.6"/><circle cx="41.8" cy="114.5"/><circle cx="35.6" cy="106.5"/><circle cx="87.7" cy="103.8"/><circle cx="322.3" cy="116.1"/><circle cx="233.9" cy="104.5"/><circle cx="123.5" cy="102.5"/><circle cx="185.9" cy="96.1"/><circle cx="334.6" cy="87"/><circle cx="216.3" cy="110.7"/><circle cx="261.8" cy="116.1"/><circle cx="180.7" cy="106.9"/><circle cx="202.1" cy="106.6"/><circle cx="52.5" cy="107.8"/><circle cx="170" cy="85.1"/><circle cx="213.2" cy="102.2"/><circle cx="319.9" cy="108.6"/><circle cx="302.1" cy="89.7"/><circle cx="107.2" cy="102.1"/><circle cx="323.3" cy="92.2"/><circle cx="311.2" cy="98.1"/><circle cx="132.5" cy="93.1"/><circle cx="218.2" cy="96.7"/><circle cx="261.6" cy="111.6"/><circle cx="202.7" cy="86.2"/><circle cx="273.4" cy="92.6"/><circle cx="230.5" cy="87.5"/><circle cx="80.8" cy="115.5"/><circle cx="176.7" cy="105"/><circle cx="93.7" cy="110.4"/><circle cx="39.4" cy="98.5"/><circle cx="122.8" cy="103.6"/><circle cx="310.4" cy="114.3"/><circle cx="164.4" cy="97.2"/><circle cx="186" cy="104.9"/><circle cx="259.7" cy="97.8"/><circle cx="200.1" cy="90"/><circle cx="53.2" cy="110.2"/><circle cx="269.9" cy="101.3"/><circle cx="71.7" cy="107.8"/><circle cx="39.3" cy="96.8"/><circle cx="34.6" cy="111.5"/><circle cx="199.5" cy="98.1"/><circle cx="273.7" cy="103.8"/><circle cx="319.8" cy="111"/><circle cx="226.7" cy="112.3"/><circle cx="277.6" cy="90"/><circle cx="90.8" cy="88.6"/><circle cx="326.3" cy="102.5"/><circle cx="203.9" cy="86.8"/><circle cx="131.5" cy="115.8"/><circle cx="62.6" cy="95.4"/><circle cx="129.5" cy="107.1"/><circle cx="120.8" cy="105.9"/><circle cx="289.5" cy="96.5"/><circle cx="105.7" cy="115.5"/><circle cx="287.3" cy="115.7"/><circle cx="47.7" cy="117.6"/><circle cx="149.8" cy="113"/><circle cx="304.1" cy="107.7"/><circle cx="56.8" cy="95.8"/><circle cx="58.3" cy="90.8"/><circle cx="60.3" cy="105.1"/><circle cx="121" cy="98.1"/><circle cx="39.6" cy="114.7"/><circle cx="211.7" cy="111.9"/><circle cx="204.7" cy="97.4"/><circle cx="257.2" cy="95.3"/><circle cx="282" cy="108.1"/><circle cx="330.8" cy="107.6"/><circle cx="144.3" cy="96.9"/><circle cx="260.1" cy="97.7"/><circle cx="339.2" cy="85.1"/><circle cx="102.2" cy="113.9"/><circle cx="282.1" cy="102.6"/><circle cx="299.2" cy="116.1"/><circle cx="39.5" cy="105.7"/><circle cx="20.5" cy="107.4"/><circle cx="125.4" cy="110.1"/><circle cx="145.5" cy="89.2"/><circle cx="270.8" cy="117.1"/><circle cx="31.6" cy="102.1"/><circle cx="50.1" cy="113"/><circle cx="89" cy="112.5"/><circle cx="256.8" cy="113.4"/><circle cx="316.9" cy="86.7"/><circle cx="270.2" cy="86.7"/><circle cx="260.4" cy="118"/><circle cx="271.8" cy="92"/><circle cx="335.2" cy="107.2"/><circle cx="289.9" cy="103.9"/><circle cx="218.2" cy="104.5"/><circle cx="22.2" cy="116.1"/><circle cx="222.5" cy="108.1"/><circle cx="101.8" cy="114.7"/><circle cx="140" cy="92.3"/><circle cx="248.9" cy="112.7"/><circle cx="67.8" cy="88.6"/><circle cx="115" cy="100"/><circle cx="291.6" cy="115"/><circle cx="273.4" cy="94.8"/><circle cx="95.9" cy="110.9"/><circle cx="299.3" cy="114"/><circle cx="237.2" cy="99.1"/><circle cx="206.2" cy="116.8"/><circle cx="327" cy="105.1"/><circle cx="89.3" cy="114.7"/><circle cx="134" cy="116.1"/><circle cx="32.5" cy="112.4"/><circle cx="293.2" cy="97.9"/><circle cx="158.1" cy="95.6"/><circle cx="200.9" cy="100.8"/><circle cx="218.9" cy="89.7"/><circle cx="341.7" cy="92.1"/><circle cx="133.7" cy="93.1"/><circle cx="20.1" cy="112"/><circle cx="298.8" cy="106.7"/><circle cx="302.4" cy="115.3"/><circle cx="225.8" cy="117.1"/><circle cx="287.2" cy="107.5"/><circle cx="177.9" cy="97.3"/><circle cx="107" cy="114.1"/><circle cx="169.9" cy="105.5"/><circle cx="40.7" cy="90.4"/><circle cx="248.6" cy="90.8"/><circle cx="59.6" cy="101.5"/><circle cx="204.6" cy="105.1"/><circle cx="307.3" cy="101.9"/><circle cx="294.7" cy="112.6"/><circle cx="204.6" cy="93.8"/><circle cx="65.8" cy="90.3"/><circle cx="298.5" cy="95.8"/><circle cx="73.2" cy="102.3"/><circle cx="169.6" cy="110.1"/><circle cx="226.1" cy="110.6"/><circle cx="221" cy="117.6"/><circle cx="160.5" cy="92.2"/><circle cx="131.2" cy="90.9"/><circle cx="242.9" cy="86.3"/><circle cx="84.1" cy="117.2"/><circle cx="307.4" cy="112.8"/><circle cx="22.5" cy="103.9"/><circle cx="262.8" cy="93.6"/><circle cx="243.1" cy="96.7"/><circle cx="291.1" cy="100.8"/><circle cx="284.5" cy="90.1"/><circle cx="69.7" cy="105.8"/><circle cx="133.1" cy="115"/><circle cx="155.2" cy="112.4"/><circle cx="28.5" cy="111.7"/><circle cx="231.2" cy="101.8"/><circle cx="89.6" cy="91.2"/><circle cx="167.2" cy="101.8"/><circle cx="49.7" cy="104.7"/><circle cx="176.7" cy="110.5"/><circle cx="149.7" cy="111.9"/><circle cx="324.9" cy="93.5"/><circle cx="179.2" cy="99.6"/><circle cx="291.6" cy="96.2"/><circle cx="201.1" cy="111.2"/><circle cx="21.4" cy="108.6"/><circle cx="205.9" cy="107.2"/><circle cx="239.7" cy="105.3"/><circle cx="333.8" cy="109.2"/><circle cx="316.4" cy="105.3"/><circle cx="342.6" cy="107.5"/><circle cx="258.7" cy="109.6"/><circle cx="151.2" cy="92.9"/><circle cx="316.7" cy="88"/><circle cx="256.3" cy="111.1"/><circle cx="198" cy="115.8"/><circle cx="66.6" cy="85.1"/><circle cx="333.1" cy="99.2"/><circle cx="139.5" cy="108.1"/><circle cx="47.2" cy="112.7"/><circle cx="112.2" cy="113.2"/><circle cx="65.3" cy="114.9"/><circle cx="136.7" cy="111.4"/><circle cx="96.2" cy="96.8"/><circle cx="158" cy="87.8"/><circle cx="103.1" cy="90"/><circle cx="229.7" cy="109.2"/><circle cx="203.5" cy="107.2"/><circle cx="139.2" cy="103"/><circle cx="79" cy="89.6"/><circle cx="266.7" cy="112.9"/><circle cx="189" cy="101"/><circle cx="87.4" cy="95.5"/><circle cx="311.6" cy="108.9"/><circle cx="43.5" cy="93.8"/><circle cx="110.5" cy="95.9"/><circle cx="275" cy="94.2"/><circle cx="100.7" cy="98.6"/><circle cx="173.7" cy="95.4"/><circle cx="160.1" cy="113.1"/><circle cx="247.4" cy="92.5"/><circle cx="173.6" cy="116.6"/><circle cx="326.7" cy="115.8"/><circle cx="154.8" cy="85.5"/><circle cx="317.6" cy="117.3"/><circle cx="262" cy="86.3"/><circle cx="192.3" cy="95.4"/><circle cx="271.1" cy="89.5"/><circle cx="274.5" cy="117"/><circle cx="197" cy="92.5"/><circle cx="273.8" cy="90.9"/><circle cx="256.6" cy="95.9"/><circle cx="169" cy="90.2"/><circle cx="135.9" cy="96.7"/><circle cx="62.1" cy="103.5"/><circle cx="99.9" cy="95.2"/><circle cx="48.4" cy="100.9"/><circle cx="184.9" cy="108.6"/><circle cx="25.3" cy="97.1"/><circle cx="188.3" cy="111.7"/><circle cx="217.9" cy="102.6"/><circle cx="163.8" cy="98.5"/><circle cx="29.7" cy="110.2"/><circle cx="264.8" cy="113.6"/><circle cx="311.6" cy="86.4"/><circle cx="223.7" cy="91.7"/><circle cx="110.6" cy="115.8"/><circle cx="321.1" cy="100.3"/><circle cx="326.2" cy="117.6"/><circle cx="276.2" cy="97.4"/><circle cx="28.7" cy="88.5"/><circle cx="307.1" cy="111.7"/><circle cx="48.6" cy="102.3"/><circle cx="97.9" cy="86.7"/><circle cx="77.5" cy="95.7"/><circle cx="287.5" cy="93.6"/><circle cx="190.9" cy="98.7"/><circle cx="337.1" cy="87.3"/><circle cx="158.3" cy="107.7"/><circle cx="21.4" cy="106.9"/><circle cx="162.6" cy="116.3"/><circle cx="172.2" cy="96"/><circle cx="299.9" cy="94.2"/><circle cx="215.8" cy="116.4"/><circle cx="159.2" cy="87.4"/><circle cx="206.6" cy="115.9"/><circle cx="239.8" cy="105.6"/><circle cx="293.6" cy="114.5"/><circle cx="191.4" cy="93.1"/><circle cx="259.6" cy="92.4"/><circle cx="94.4" cy="86.2"/><circle cx="177.4" cy="104.2"/><circle cx="162.6" cy="98.2"/><circle cx="283.6" cy="115.8"/><circle cx="316.4" cy="110.1"/><circle cx="103.2" cy="87.1"/><circle cx="70" cy="99.1"/><circle cx="334.2" cy="106.2"/><circle cx="145.1" cy="98.7"/><circle cx="121.2" cy="101.7"/><circle cx="281.8" cy="95.5"/><circle cx="36.1" cy="99.4"/><circle cx="198.9" cy="116.2"/><circle cx="275.2" cy="90.1"/><circle cx="77.2" cy="112.9"/><circle cx="172.6" cy="103.6"/><circle cx="319" cy="116.2"/><circle cx="332" cy="98.3"/><circle cx="234.5" cy="87.7"/><circle cx="102" cy="101.5"/><circle cx="147.6" cy="86.9"/><circle cx="216.7" cy="114.4"/><circle cx="208.3" cy="105.9"/><circle cx="155.9" cy="107.1"/><circle cx="265" cy="86.9"/><circle cx="117.6" cy="96.2"/><circle cx="194.7" cy="105.4"/><circle cx="114.8" cy="101.6"/><circle cx="282.6" cy="90.7"/><circle cx="94.7" cy="104.8"/><circle cx="51.1" cy="110.8"/><circle cx="268.3" cy="87.5"/><circle cx="322.4" cy="103.7"/><circle cx="336.7" cy="101.5"/><circle cx="204.1" cy="97.4"/><circle cx="136.4" cy="107.2"/><circle cx="19" cy="116"/><circle cx="152.8" cy="109"/><circle cx="162.9" cy="87.3"/><circle cx="161.4" cy="88.4"/><circle cx="118.4" cy="114.9"/><circle cx="122.1" cy="94.1"/><circle cx="195.7" cy="97.9"/><circle cx="206.9" cy="109.3"/><circle cx="204.7" cy="108"/><circle cx="184.4" cy="99.7"/><circle cx="159.7" cy="106.2"/><circle cx="143.9" cy="102.7"/><circle cx="330.8" cy="91.2"/><circle cx="235.5" cy="106.9"/><circle cx="196.7" cy="108.6"/><circle cx="99.5" cy="88.3"/><circle cx="194.4" cy="107.7"/><circle cx="83.4" cy="90.1"/><circle cx="228.4" cy="116.9"/><circle cx="310" cy="103.9"/><circle cx="172.6" cy="115"/><circle cx="325.9" cy="106.6"/><circle cx="103.1" cy="87.1"/><circle cx="53.7" cy="90.4"/><circle cx="141.8" cy="110.4"/><circle cx="124" cy="91.3"/><circle cx="102.9" cy="110.3"/><circle cx="64.8" cy="109.1"/><circle cx="306.2" cy="105.5"/><circle cx="247.7" cy="110.2"/><circle cx="250.5" cy="109.6"/><circle cx="338.3" cy="100.7"/><circle cx="131.9" cy="117.4"/><circle cx="170.5" cy="94.4"/><circle cx="145.8" cy="108.6"/><circle cx="259.6" cy="116.3"/><circle cx="38.4" cy="92"/><circle cx="313.3" cy="112.3"/><circle cx="55.8" cy="96.4"/><circle cx="336" cy="88.5"/><circle cx="75.3" cy="113.8"/><circle cx="107.6" cy="86.4"/><circle cx="307" cy="110.5"/><circle cx="293.5" cy="111.7"/><circle cx="253.7" cy="114.9"/><circle cx="61.3" cy="102.2"/><circle cx="90.1" cy="85"/><circle cx="265.5" cy="102.5"/><circle cx="100.5" cy="109.2"/><circle cx="85.6" cy="97.9"/><circle cx="167.8" cy="96.5"/><circle cx="191.6" cy="117.6"/><circle cx="302.4" cy="94.2"/><circle cx="173.8" cy="93.5"/><circle cx="25.5" cy="109.7"/><circle cx="291.9" cy="87.9"/><circle cx="209" cy="102.9"/><circle cx="152.7" cy="85.9"/><circle cx="219.6" cy="98.3"/><circle cx="90" cy="93"/><circle cx="127" cy="95.6"/><circle cx="23.1" cy="102.2"/><circle cx="317.3" cy="93.2"/><circle cx="78.8" cy="104.2"/><circle cx="74.3" cy="103.2"/><circle cx="105" cy="107.5"/><circle cx="210.8" cy="114.8"/><circle cx="292.5" cy="116.5"/><circle cx="286.2" cy="101.5"/><circle cx="178.2" cy="109.2"/><circle cx="157.7" cy="85.2"/><circle cx="112.1" cy="96.1"/><circle cx="91.2" cy="113.3"/><circle cx="48" cy="116.9"/><circle cx="182" cy="114.3"/><circle cx="158.6" cy="92.3"/><circle cx="32.9" cy="89.9"/><circle cx="103.5" cy="113.2"/><circle cx="270.2" cy="98.8"/><circle cx="239.5" cy="103.3"/><circle cx="20" cy="106.9"/><circle cx="249.2" cy="107.3"/><circle cx="240.7" cy="115.2"/><circle cx="232.5" cy="115.3"/><circle cx="123.1" cy="100.8"/><circle cx="137" cy="105.6"/><circle cx="239.8" cy="106"/><circle cx="307.4" cy="103.9"/><circle cx="231.6" cy="113.2"/><circle cx="72.6" cy="103"/><circle cx="198.1" cy="112.2"/><circle cx="177.5" cy="90"/><circle cx="154.3" cy="93.6"/><circle cx="308.9" cy="93.7"/><circle cx="117.9" cy="85.5"/><circle cx="152" cy="93.6"/><circle cx="139.8" cy="100.3"/><circle cx="334.5" cy="89.2"/><circle cx="327.4" cy="85.6"/><circle cx="165.3" cy="110.8"/><circle cx="147.6" cy="103.6"/><circle cx="30.9" cy="90.5"/><circle cx="190.7" cy="108.2"/><circle cx="318.6" cy="115.5"/><circle cx="197.8" cy="110.5"/><circle cx="145.5" cy="117.1"/><circle cx="174.5" cy="100.2"/><circle cx="273.9" cy="113"/><circle cx="77" cy="115"/><circle cx="220.8" cy="92.6"/><circle cx="61.1" cy="105.4"/><circle cx="98.9" cy="96"/><circle cx="199.6" cy="107.1"/><circle cx="156.3" cy="116.6"/><circle cx="246.9" cy="96.3"/><circle cx="127.8" cy="114.3"/><circle cx="29.3" cy="109"/><circle cx="170.2" cy="110.9"/><circle cx="49.3" cy="97.2"/><circle cx="285" cy="108.5"/><circle cx="185.1" cy="96.2"/><circle cx="196.2" cy="99.9"/><circle cx="167.8" cy="95.3"/><circle cx="159.2" cy="101.5"/><circle cx="315.2" cy="87.1"/><circle cx="23.5" cy="114.3"/><circle cx="147.2" cy="111.8"/><circle cx="136.6" cy="100.6"/><circle cx="311.8" cy="93"/><circle cx="322" cy="96.3"/><circle cx="34.1" cy="117.6"/><circle cx="281.6" cy="102.3"/><circle cx="250.6" cy="87.9"/><circle cx="179.8" cy="88.7"/><circle cx="295.9" cy="102.2"/><circle cx="228.2" cy="98.8"/><circle cx="223.9" cy="111.5"/><circle cx="201.3" cy="111.6"/><circle cx="91.4" cy="95.7"/><circle cx="46.1" cy="105.3"/><circle cx="289.7" cy="99.7"/><circle cx="114.4" cy="110.1"/><circle cx="80" cy="110.6"/><circle cx="183.3" cy="98.8"/><circle cx="275" cy="104.3"/><circle cx="160.5" cy="91"/><circle cx="105.9" cy="112.8"/><circle cx="76.9" cy="87.4"/><circle cx="256.4" cy="90.1"/><circle cx="119.4" cy="113.5"/><circle cx="279" cy="108.3"/><circle cx="208.4" cy="117.3"/><circle cx="88.2" cy="111.7"/><circle cx="329.4" cy="112.6"/><circle cx="342.2" cy="100.1"/><circle cx="42.7" cy="104.9"/><circle cx="44.9" cy="103.8"/><circle cx="272.7" cy="101.3"/><circle cx="68.7" cy="111.6"/><circle cx="248.8" cy="109.8"/><circle cx="156.6" cy="101.6"/><circle cx="104.4" cy="91"/><circle cx="79.7" cy="116.8"/><circle cx="132.7" cy="100.1"/><circle cx="283.5" cy="86.4"/><circle cx="165.6" cy="103.7"/><circle cx="315.1" cy="114.5"/><circle cx="171.3" cy="96.8"/><circle cx="135.3" cy="85.2"/><circle cx="202.7" cy="97.7"/><circle cx="198.5" cy="92.3"/><circle cx="209.4" cy="107.7"/><circle cx="133.8" cy="90.2"/><circle cx="44.2" cy="117.1"/><circle cx="26" cy="108.8"/><circle cx="118.2" cy="112.8"/><circle cx="194.4" cy="89.5"/><circle cx="143" cy="98.2"/><circle cx="287.7" cy="105.6"/><circle cx="119.3" cy="100.3"/><circle cx="137.2" cy="110.5"/><circle cx="132" cy="110.1"/><circle cx="48.5" cy="115.2"/><circle cx="227" cy="97.4"/><circle cx="19.5" cy="104.2"/><circle cx="313.6" cy="104.5"/><circle cx="171.2" cy="96.9"/><circle cx="136.1" cy="99.1"/><circle cx="225.9" cy="92.2"/><circle cx="158.7" cy="98.7"/><circle cx="141.7" cy="90"/><circle cx="55.7" cy="94.3"/><circle cx="116.8" cy="85.3"/><circle cx="24" cy="114.3"/><circle cx="56.4" cy="107.7"/><circle cx="252.7" cy="89.5"/><circle cx="235.4" cy="106.4"/><circle cx="261.4" cy="103.8"/><circle cx="193" cy="107.8"/><circle cx="44.5" cy="100.3"/><circle cx="282.6" cy="91.9"/><circle cx="116.7" cy="111.3"/><circle cx="221.4" cy="112.6"/><circle cx="183.5" cy="98.7"/><circle cx="304.6" cy="115.5"/><circle cx="67.6" cy="102.3"/><circle cx="284.4" cy="112.3"/><circle cx="208.4" cy="86.6"/><circle cx="51" cy="96.2"/><circle cx="273.8" cy="100.2"/><circle cx="175.1" cy="103.5"/><circle cx="193" cy="116.4"/><circle cx="25.5" cy="94.5"/><circle cx="46" cy="116.5"/><circle cx="252.4" cy="90"/><circle cx="98.1" cy="88.3"/><circle cx="105" cy="89.2"/><circle cx="99.5" cy="111.7"/><circle cx="194.6" cy="95.9"/><circle cx="292.5" cy="112.5"/><circle cx="106.9" cy="102.7"/><circle cx="336.5" cy="115.5"/><circle cx="78.3" cy="104.1"/><circle cx="122" cy="108.5"/><circle cx="253.3" cy="100.4"/><circle cx="316.4" cy="102.5"/><circle cx="130.9" cy="115.3"/><circle cx="320.2" cy="117.5"/><circle cx="234" cy="93.4"/><circle cx="252.9" cy="109.6"/><circle cx="159.5" cy="100.7"/><circle cx="336.5" cy="95.6"/><circle cx="53.6" cy="93.5"/><circle cx="251" cy="105.9"/><circle cx="81.7" cy="91.6"/><circle cx="284.9" cy="102.4"/><circle cx="88.3" cy="114.5"/><circle cx="323.5" cy="103.9"/><circle cx="201.1" cy="107.4"/><circle cx="212.2" cy="115.3"/><circle cx="305.7" cy="100.5"/><circle cx="149.6" cy="109.6"/><circle cx="328.8" cy="104.8"/><circle cx="109.2" cy="115.3"/><circle cx="143.5" cy="89.8"/><circle cx="191.8" cy="113.4"/><circle cx="202" cy="91.3"/><circle cx="130.1" cy="99.7"/><circle cx="163.3" cy="91.7"/><circle cx="46" cy="93.7"/><circle cx="177.9" cy="113.6"/><circle cx="172" cy="87.4"/><circle cx="141.1" cy="94.2"/><circle cx="194.3" cy="108.7"/><circle cx="57.5" cy="95.1"/><circle cx="191.2" cy="106.8"/><circle cx="228.9" cy="111.3"/><circle cx="110" cy="103"/><circle cx="330.6" cy="86.2"/><circle cx="183.7" cy="107.5"/><circle cx="92" cy="104.1"/><circle cx="132.1" cy="113.1"/><circle cx="341.5" cy="106.4"/><circle cx="27.9" cy="93.5"/><circle cx="160.3" cy="87.7"/><circle cx="133.1" cy="110.8"/><circle cx="326.5" cy="97.4"/><circle cx="30.5" cy="89.5"/><circle cx="242.5" cy="94.7"/><circle cx="289.7" cy="116.8"/><circle cx="31.8" cy="107.6"/><circle cx="20.2" cy="90.2"/><circle cx="291.6" cy="111.3"/><circle cx="263.2" cy="97.6"/><circle cx="200.1" cy="99.1"/><circle cx="299.4" cy="93.4"/><circle cx="201.4" cy="99.4"/><circle cx="208.6" cy="99.5"/><circle cx="108.1" cy="107.3"/><circle cx="159.9" cy="96.4"/><circle cx="141.4" cy="110"/><circle cx="45.4" cy="111.4"/><circle cx="46.8" cy="96.5"/><circle cx="245.7" cy="87.5"/><circle cx="45.3" cy="98.9"/><circle cx="179.6" cy="92.6"/><circle cx="127.8" cy="92.8"/><circle cx="216.8" cy="102.5"/><circle cx="289" cy="110.1"/><circle cx="32.7" cy="96.9"/><circle cx="285" cy="104.7"/><circle cx="264.4" cy="95.4"/><circle cx="201.1" cy="116.3"/><circle cx="109.1" cy="111.8"/><circle cx="335.6" cy="96.4"/><circle cx="208.6" cy="105.2"/><circle cx="254.9" cy="85.3"/><circle cx="282.5" cy="102.7"/><circle cx="93.3" cy="105.5"/><circle cx="227.3" cy="108.9"/><circle cx="282.1" cy="105"/><circle cx="73.5" cy="91.7"/><circle cx="221.5" cy="108.6"/><circle cx="117.6" cy="90.2"/><circle cx="33.3" cy="116.9"/><circle cx="178.6" cy="114.9"/><circle cx="27.3" cy="105.6"/><circle cx="243.9" cy="116.8"/><circle cx="262.6" cy="97.9"/><circle cx="212.7" cy="103.5"/><circle cx="105.7" cy="87.9"/><circle cx="86.4" cy="102.6"/><circle cx="273.5" cy="93.8"/><circle cx="96" cy="113"/><circle cx="179.5" cy="105.3"/><circle cx="145" cy="114.9"/><circle cx="263.4" cy="107"/><circle cx="112.6" cy="96.2"/><circle cx="228.3" cy="105.1"/><circle cx="317" cy="110.2"/><circle cx="45.4" cy="116.5"/><circle cx="100.6" cy="114.7"/><circle cx="78.9" cy="113.7"/><circle cx="193.6" cy="107.6"/><circle cx="83.2" cy="89.4"/><circle cx="23.4" cy="84.7"/><circle cx="308" cy="98.9"/><circle cx="30.5" cy="88.8"/><circle cx="302.6" cy="97.1"/><circle cx="68.3" cy="87.9"/><circle cx="318.7" cy="88.5"/><circle cx="199.9" cy="92"/><circle cx="239.7" cy="113.5"/><circle cx="84.6" cy="86"/><circle cx="127.2" cy="87.9"/><circle cx="97.9" cy="101.8"/><circle cx="100.2" cy="88"/><circle cx="142.2" cy="109.7"/><circle cx="196.9" cy="108.4"/><circle cx="98.5" cy="112.5"/><circle cx="106.9" cy="97.9"/><circle cx="32.5" cy="105"/><circle cx="55.2" cy="91.5"/><circle cx="96.2" cy="108.9"/><circle cx="235.2" cy="108.4"/><circle cx="35.7" cy="116.9"/><circle cx="142.7" cy="107"/><circle cx="204.2" cy="102.5"/><circle cx="287.7" cy="88.7"/><circle cx="59.6" cy="117.5"/><circle cx="57.3" cy="105.2"/><circle cx="327.4" cy="107.7"/><circle cx="198" cy="112.1"/><circle cx="250.2" cy="117.6"/><circle cx="163.5" cy="98.1"/><circle cx="221.6" cy="91.5"/><circle cx="172.4" cy="94.6"/><circle cx="258.6" cy="91.2"/><circle cx="142.5" cy="97.5"/><circle cx="220.9" cy="111.6"/><circle cx="99.2" cy="115"/><circle cx="45.2" cy="108.3"/><circle cx="95.2" cy="95.2"/><circle cx="313.1" cy="96.2"/><circle cx="110.3" cy="93.6"/><circle cx="265.6" cy="104.4"/><circle cx="206.8" cy="87"/><circle cx="220" cy="88.8"/><circle cx="163.7" cy="88.9"/><circle cx="226.8" cy="107.5"/><circle cx="98.9" cy="113"/><circle cx="279.4" cy="110.1"/><circle cx="266.4" cy="99.9"/><circle cx="300.9" cy="88"/><circle cx="56.5" cy="107.9"/><circle cx="274" cy="88.9"/><circle cx="97.2" cy="85.9"/><circle cx="292.1" cy="96.7"/><circle cx="319.1" cy="98.8"/><circle cx="102.2" cy="115"/><circle cx="203" cy="116.7"/><circle cx="178.5" cy="87.5"/><circle cx="51.5" cy="103.6"/><circle cx="72.5" cy="94.7"/><circle cx="243.2" cy="91.9"/><circle cx="31" cy="96.4"/><circle cx="61.7" cy="102.2"/><circle cx="312.9" cy="86.6"/><circle cx="150.4" cy="91.6"/><circle cx="49.6" cy="101"/><circle cx="88.6" cy="98.3"/><circle cx="154.5" cy="106.6"/><circle cx="316.9" cy="115.5"/><circle cx="153.9" cy="89.9"/><circle cx="335.3" cy="107.8"/><circle cx="101" cy="97.7"/><circle cx="101.3" cy="107.6"/><circle cx="95.8" cy="89.1"/><circle cx="101" cy="93.8"/><circle cx="228.3" cy="85.4"/><circle cx="201" cy="103.3"/><circle cx="119.1" cy="98.7"/><circle cx="32.9" cy="114.2"/><circle cx="106.7" cy="116.8"/><circle cx="152.1" cy="90.5"/><circle cx="233.1" cy="99.9"/><circle cx="200.4" cy="88.6"/><circle cx="340.9" cy="104"/><circle cx="47.1" cy="91.2"/><circle cx="319.5" cy="89.5"/><circle cx="272.2" cy="93.7"/><circle cx="212" cy="101.7"/><circle cx="232.8" cy="91.9"/><circle cx="208.2" cy="110.9"/><circle cx="100.3" cy="112.2"/><circle cx="59.1" cy="108.5"/><circle cx="137" cy="101.4"/><circle cx="114.6" cy="105.9"/><circle cx="195.6" cy="97.3"/><circle cx="110.5" cy="114.3"/><circle cx="217.5" cy="93.1"/><circle cx="228.8" cy="98.3"/><circle cx="219.8" cy="112.1"/><circle cx="19.2" cy="90"/><circle cx="269.6" cy="89.6"/><circle cx="21.5" cy="111.7"/><circle cx="341.6" cy="116.9"/><circle cx="254.8" cy="97.9"/><circle cx="244" cy="116.4"/><circle cx="153.1" cy="117.4"/><circle cx="238.5" cy="96.4"/><circle cx="48.5" cy="112.6"/><circle cx="67.1" cy="113"/><circle cx="171.6" cy="114.5"/><circle cx="277.5" cy="117.9"/><circle cx="156.5" cy="104.3"/><circle cx="150.6" cy="103.1"/><circle cx="291.1" cy="103.2"/><circle cx="128.1" cy="112.5"/><circle cx="208.1" cy="105.2"/><circle cx="63.6" cy="110.9"/><circle cx="250.9" cy="99.1"/><circle cx="195.4" cy="95.7"/><circle cx="94.6" cy="117.7"/><circle cx="91.6" cy="97.5"/><circle cx="339.5" cy="116.3"/><circle cx="267.5" cy="104.4"/><circle cx="31.8" cy="86.4"/><circle cx="250.9" cy="113.7"/><circle cx="278.2" cy="101.5"/><circle cx="112.3" cy="96.7"/><circle cx="304.1" cy="106.3"/><circle cx="151.7" cy="107.5"/><circle cx="181.2" cy="113.5"/><circle cx="243.8" cy="97.9"/><circle cx="252.3" cy="117.5"/><circle cx="24.3" cy="97.3"/><circle cx="207.7" cy="97.8"/><circle cx="146.1" cy="103.9"/><circle cx="240.1" cy="97.9"/><circle cx="182.5" cy="97.8"/><circle cx="76.3" cy="88.5"/><circle cx="63.9" cy="113.6"/><circle cx="165.7" cy="102.9"/><circle cx="284" cy="108.7"/><circle cx="188.5" cy="110.1"/><circle cx="43.2" cy="107.3"/><circle cx="227.2" cy="90.9"/><circle cx="33.6" cy="92.6"/><circle cx="291.2" cy="113.4"/><circle cx="313.6" cy="90.3"/><circle cx="325.9" cy="95.9"/><circle cx="152.6" cy="96.6"/><circle cx="219" cy="94.9"/><circle cx="187.2" cy="95.5"/><circle cx="222.3" cy="114"/><circle cx="322.4" cy="98.2"/><circle cx="287.9" cy="110.2"/><circle cx="307.7" cy="91.3"/><circle cx="332" cy="95.8"/><circle cx="29.5" cy="87.5"/><circle cx="74" cy="86.5"/><circle cx="331.1" cy="101.9"/><circle cx="280.3" cy="108.4"/><circle cx="169.7" cy="106.3"/><circle cx="49.4" cy="88.7"/><circle cx="33.5" cy="101.3"/><circle cx="147.7" cy="101.6"/><circle cx="128.7" cy="108.9"/><circle cx="95.9" cy="107.4"/><circle cx="195.6" cy="97.9"/><circle cx="133" cy="90"/><circle cx="252.7" cy="107.8"/><circle cx="147.4" cy="110.6"/><circle cx="64.7" cy="97"/><circle cx="325.5" cy="90.6"/><circle cx="153.4" cy="109.5"/><circle cx="120.5" cy="100.8"/><circle cx="198.7" cy="90.1"/><circle cx="153.2" cy="86.7"/><circle cx="89.1" cy="98.1"/><circle cx="207.1" cy="105.4"/><circle cx="236.9" cy="115.1"/><circle cx="235.2" cy="100.4"/><circle cx="27.8" cy="100.1"/><circle cx="167.8" cy="105.5"/><circle cx="263.4" cy="93.2"/><circle cx="304.5" cy="93.9"/><circle cx="268.7" cy="86.1"/><circle cx="108" cy="99.7"/><circle cx="22.6" cy="87.9"/><circle cx="88.2" cy="106.3"/><circle cx="274.8" cy="91.5"/><circle cx="73.4" cy="100.8"/><circle cx="124.6" cy="91.2"/><circle cx="199.9" cy="88.6"/><circle cx="182.4" cy="113.9"/><circle cx="117.3" cy="117.5"/><circle cx="110.1" cy="108.3"/><circle cx="293.5" cy="106.5"/><circle cx="110.6" cy="99"/><circle cx="145.9" cy="96.3"/><circle cx="284.7" cy="97.2"/><circle cx="44" cy="111.8"/><circle cx="62" cy="116.8"/><circle cx="130.6" cy="98"/><circle cx="132.2" cy="111"/><circle cx="188.7" cy="117.2"/><circle cx="104.2" cy="111.3"/><circle cx="214.1" cy="92.1"/><circle cx="254.8" cy="109.6"/><circle cx="74" cy="110.2"/><circle cx="236" cy="92.6"/><circle cx="64.9" cy="106.1"/><circle cx="19.4" cy="101"/><circle cx="326.7" cy="106.8"/><circle cx="91" cy="96"/><circle cx="46.9" cy="90.8"/><circle cx="277.9" cy="112.5"/><circle cx="273.3" cy="101.3"/><circle cx="219.4" cy="91.3"/><circle cx="197" cy="107.2"/><circle cx="282" cy="92.2"/><circle cx="206.2" cy="115.3"/><circle cx="168.9" cy="110"/><circle cx="256.1" cy="102.6"/><circle cx="126.5" cy="90"/><circle cx="242.5" cy="91.3"/><circle cx="250.3" cy="116.7"/><circle cx="175.7" cy="110.2"/><circle cx="239.2" cy="116.5"/><circle cx="75.6" cy="116.4"/><circle cx="115.2" cy="92"/><circle cx="202" cy="105.4"/><circle cx="45.4" cy="109.4"/><circle cx="215.2" cy="92.5"/><circle cx="63.7" cy="95.4"/><circle cx="146.1" cy="108.7"/><circle cx="321.3" cy="108.8"/><circle cx="131.1" cy="116.4"/><circle cx="95.7" cy="113.4"/><circle cx="61.2" cy="117.2"/><circle cx="122" cy="113.2"/><circle cx="134.6" cy="97.4"/><circle cx="315.3" cy="116.6"/><circle cx="187" cy="94.8"/><circle cx="222.6" cy="98.2"/><circle cx="160.9" cy="103.7"/><circle cx="103.7" cy="84.8"/><circle cx="244.4" cy="102"/><circle cx="308" cy="114.7"/><circle cx="225.2" cy="87.3"/><circle cx="212.8" cy="96.6"/><circle cx="172.7" cy="104.6"/><circle cx="83.1" cy="86.3"/><circle cx="123.8" cy="84.6"/><circle cx="53.6" cy="101"/><circle cx="305.6" cy="84.7"/><circle cx="178.8" cy="104.6"/><circle cx="48.4" cy="92.6"/><circle cx="106.2" cy="110.1"/><circle cx="243" cy="92.1"/><circle cx="250.8" cy="97.2"/><circle cx="244.3" cy="100.5"/><circle cx="173.1" cy="93"/><circle cx="200.1" cy="92.2"/><circle cx="72.1" cy="103.5"/><circle cx="161.9" cy="94.1"/><circle cx="320.5" cy="111"/><circle cx="209.7" cy="114.5"/><circle cx="260.7" cy="90.8"/><circle cx="221.6" cy="109.2"/><circle cx="226.9" cy="91"/><circle cx="136.2" cy="115.4"/><circle cx="224.7" cy="114.5"/><circle cx="28.3" cy="112.4"/><circle cx="206.4" cy="113.8"/><circle cx="52.2" cy="117"/><circle cx="138.3" cy="92"/><circle cx="319.8" cy="107.5"/><circle cx="176.1" cy="110.4"/><circle cx="253.4" cy="98.2"/><circle cx="320.6" cy="117"/><circle cx="76.8" cy="89.5"/><circle cx="332.1" cy="99.2"/><circle cx="257.3" cy="117"/><circle cx="116" cy="107.7"/><circle cx="89.9" cy="114.4"/><circle cx="152.3" cy="116.4"/><circle cx="77.7" cy="109.1"/><circle cx="267.9" cy="115.9"/><circle cx="296.7" cy="113.6"/><circle cx="336.7" cy="105.2"/><circle cx="96.7" cy="112.2"/><circle cx="333.8" cy="91.9"/><circle cx="148.9" cy="98.6"/><circle cx="312.8" cy="97.8"/><circle cx="243.6" cy="100.1"/><circle cx="292.4" cy="114.3"/><circle cx="244.1" cy="114.1"/><circle cx="153.4" cy="108.5"/><circle cx="28" cy="107.9"/><circle cx="292.8" cy="108.5"/><circle cx="239.1" cy="96"/><circle cx="287.8" cy="99.9"/><circle cx="66.4" cy="108.8"/><circle cx="50.2" cy="111"/><circle cx="77.6" cy="85.1"/><circle cx="70" cy="96.7"/><circle cx="114.8" cy="93.6"/><circle cx="70.2" cy="114.9"/><circle cx="65.6" cy="110.4"/><circle cx="323.2" cy="113.2"/><circle cx="169.1" cy="114.4"/><circle cx="54.6" cy="97.8"/><circle cx="96.1" cy="94.9"/><circle cx="186.7" cy="114.8"/><circle cx="81.9" cy="104.8"/><circle cx="20.9" cy="99.7"/><circle cx="122.4" cy="99"/><circle cx="165.6" cy="95.5"/><circle cx="296.7" cy="100.5"/><circle cx="114.3" cy="99.5"/><circle cx="59.5" cy="102"/><circle cx="138.5" cy="110.8"/><circle cx="241.2" cy="99.8"/><circle cx="332.2" cy="103.8"/><circle cx="85.8" cy="96.9"/><circle cx="212.5" cy="109.2"/><circle cx="296.6" cy="117.3"/><circle cx="127.6" cy="113"/><circle cx="188.8" cy="91.7"/><circle cx="300.1" cy="95.7"/><circle cx="81" cy="115.6"/><circle cx="323.3" cy="111.9"/><circle cx="257.1" cy="113.8"/><circle cx="27.8" cy="107.5"/><circle cx="59.4" cy="112.1"/><circle cx="105.5" cy="116.5"/><circle cx="312.8" cy="102.6"/><circle cx="110.9" cy="99.2"/><circle cx="135.7" cy="107.9"/><circle cx="228.9" cy="108.6"/><circle cx="290.7" cy="107.3"/><circle cx="100.6" cy="101.3"/><circle cx="266" cy="117.7"/><circle cx="213.5" cy="114"/><circle cx="87.3" cy="97.8"/><circle cx="165" cy="101.3"/><circle cx="171.5" cy="95.6"/><circle cx="238.1" cy="96.9"/><circle cx="57.2" cy="85.9"/><circle cx="186.2" cy="85.1"/><circle cx="241.8" cy="102"/><circle cx="18.7" cy="112.8"/><circle cx="301.5" cy="104.8"/><circle cx="155" cy="114.5"/><circle cx="262.4" cy="112"/><circle cx="256.3" cy="107.5"/><circle cx="257.6" cy="110.4"/><circle cx="73.8" cy="114.1"/><circle cx="319.6" cy="98.1"/><circle cx="236.4" cy="114.2"/><circle cx="105.3" cy="102.8"/><circle cx="288.2" cy="87.4"/><circle cx="315.8" cy="93"/><circle cx="38.7" cy="90.4"/><circle cx="62" cy="112.8"/><circle cx="217" cy="92.6"/><circle cx="334.6" cy="109.2"/><circle cx="86.8" cy="97.7"/><circle cx="153.7" cy="105.8"/><circle cx="207.5" cy="86.8"/><circle cx="204" cy="88"/><circle cx="81.6" cy="96.7"/><circle cx="225.4" cy="92"/><circle cx="59.2" cy="108.6"/><circle cx="21.5" cy="105"/><circle cx="310.5" cy="107.9"/><circle cx="44" cy="104.2"/><circle cx="272.7" cy="94.4"/><circle cx="107.3" cy="103.1"/><circle cx="215.8" cy="112.9"/><circle cx="234.4" cy="93"/><circle cx="103" cy="108.9"/><circle cx="98" cy="110.4"/><circle cx="168.8" cy="117.6"/><circle cx="143" cy="103.6"/><circle cx="82.6" cy="116.3"/><circle cx="300.8" cy="103.4"/><circle cx="102.2" cy="117.6"/><circle cx="120" cy="96.4"/><circle cx="275.4" cy="92.7"/><circle cx="236.9" cy="117.9"/><circle cx="230.8" cy="104.7"/><circle cx="166" cy="115.1"/><circle cx="251.4" cy="91.9"/><circle cx="35.8" cy="116"/><circle cx="238.7" cy="89.6"/><circle cx="315.8" cy="93.1"/><circle cx="154.5" cy="101.5"/><circle cx="171.4" cy="107.8"/><circle cx="176.4" cy="112.9"/><circle cx="65.1" cy="101.9"/><circle cx="46.2" cy="115.2"/><circle cx="181.5" cy="108.1"/><circle cx="194.3" cy="100.2"/><circle cx="263.4" cy="106.2"/><circle cx="215.3" cy="118"/><circle cx="110.4" cy="93.3"/><circle cx="118.8" cy="112.3"/><circle cx="265.7" cy="113.4"/><circle cx="265.4" cy="98.7"/><circle cx="320.5" cy="91.2"/><circle cx="116" cy="111.6"/><circle cx="206.7" cy="103.4"/><circle cx="323.9" cy="102.7"/><circle cx="24.3" cy="88.5"/><circle cx="338.7" cy="111.3"/><circle cx="280.2" cy="112.8"/><circle cx="116.8" cy="101.7"/><circle cx="205.6" cy="99.3"/><circle cx="281.2" cy="114.9"/><circle cx="175.2" cy="89.1"/><circle cx="170.6" cy="96.8"/><circle cx="188.7" cy="98.3"/><circle cx="121.8" cy="117.6"/><circle cx="264.4" cy="97.6"/><circle cx="189" cy="117.8"/><circle cx="152.1" cy="94"/><circle cx="280.4" cy="106.4"/><circle cx="146" cy="95.8"/><circle cx="151.1" cy="116.6"/><circle cx="288.3" cy="105.2"/><circle cx="70.5" cy="97.4"/><circle cx="141.9" cy="110.8"/><circle cx="130.2" cy="113.2"/><circle cx="334.6" cy="93.2"/><circle cx="112.5" cy="105.3"/><circle cx="318.6" cy="115.4"/><circle cx="138.1" cy="99.2"/><circle cx="172.8" cy="112.6"/><circle cx="254.6" cy="94.2"/><circle cx="185" cy="104"/><circle cx="83.6" cy="93.5"/><circle cx="300.3" cy="116.9"/><circle cx="204.2" cy="96.4"/><circle cx="233.3" cy="111.3"/><circle cx="195.2" cy="95.7"/><circle cx="198.9" cy="106.5"/><circle cx="25.1" cy="99.7"/><circle cx="178.4" cy="108.6"/><circle cx="191.1" cy="117.4"/><circle cx="168.5" cy="98.4"/><circle cx="210" cy="92"/><circle cx="107.3" cy="102.9"/><circle cx="115.1" cy="101.3"/><circle cx="201.2" cy="96.9"/><circle cx="297.5" cy="99.5"/><circle cx="286.5" cy="88"/><circle cx="307.2" cy="102"/><circle cx="321.4" cy="112.8"/><circle cx="238" cy="103.3"/><circle cx="38" cy="106.1"/><circle cx="66.7" cy="90"/><circle cx="331.8" cy="86.5"/><circle cx="62.6" cy="92.7"/><circle cx="124.8" cy="94.5"/><circle cx="105.3" cy="88.8"/><circle cx="55.6" cy="90.8"/><circle cx="284.3" cy="92.6"/><circle cx="76.6" cy="112.8"/><circle cx="25.8" cy="110.9"/><circle cx="331.2" cy="86.8"/><circle cx="298.7" cy="104.4"/><circle cx="126.7" cy="114.7"/><circle cx="154.2" cy="107.8"/><circle cx="132.9" cy="103.6"/><circle cx="56.8" cy="99"/><circle cx="90" cy="99.2"/><circle cx="226" cy="105.1"/><circle cx="250.8" cy="86.2"/><circle cx="225.2" cy="88.7"/><circle cx="323.8" cy="100"/><circle cx="258.5" cy="99.2"/><circle cx="257" cy="100.9"/><circle cx="129.5" cy="100.2"/><circle cx="191" cy="100.3"/><circle cx="242.3" cy="98.8"/><circle cx="68.9" cy="112.9"/><circle cx="122.8" cy="102.2"/><circle cx="313.3" cy="110.6"/><circle cx="230.1" cy="114.3"/><circle cx="132" cy="97.9"/><circle cx="74.5" cy="116.8"/><circle cx="26.4" cy="106.5"/><circle cx="130.4" cy="102"/><circle cx="55.8" cy="88.1"/><circle cx="104" cy="86.4"/><circle cx="138.7" cy="86.6"/><circle cx="25.1" cy="111.8"/><circle cx="82.8" cy="107.3"/><circle cx="302.2" cy="113.4"/><circle cx="86" cy="112.1"/><circle cx="75.7" cy="89"/><circle cx="130.8" cy="109.9"/><circle cx="314.6" cy="88.5"/><circle cx="191" cy="96.8"/><circle cx="155.5" cy="104.5"/><circle cx="94.9" cy="111.2"/><circle cx="151.5" cy="99.3"/><circle cx="171.6" cy="89.4"/><circle cx="203.3" cy="114.4"/><circle cx="79.2" cy="88.4"/><circle cx="180.3" cy="112.8"/><circle cx="271.1" cy="91.9"/><circle cx="192" cy="104.1"/><circle cx="124.1" cy="91.3"/><circle cx="234.2" cy="107.6"/><circle cx="27" cy="90.2"/><circle cx="84.2" cy="105.3"/><circle cx="70.3" cy="87.1"/><circle cx="45.6" cy="116.7"/><circle cx="330.1" cy="114.6"/><circle cx="96.3" cy="85.9"/><circle cx="301.6" cy="114.8"/><circle cx="18.4" cy="109"/><circle cx="28.2" cy="104.3"/><circle cx="317.2" cy="107"/><circle cx="224.8" cy="105.2"/><circle cx="101.3" cy="99"/><circle cx="81.5" cy="103.6"/><circle cx="315.8" cy="99.8"/><circle cx="149.4" cy="90.9"/><circle cx="191.4" cy="90.1"/><circle cx="117.2" cy="96.1"/><circle cx="318.1" cy="101.1"/><circle cx="317.6" cy="102.6"/><circle cx="186.2" cy="108.6"/><circle cx="313" cy="108.4"/><circle cx="258.6" cy="110.7"/><circle cx="179.7" cy="95.6"/><circle cx="44.5" cy="92.2"/><circle cx="158.3" cy="113.6"/><circle cx="262" cy="105.5"/><circle cx="41.8" cy="107.9"/><circle cx="148.7" cy="100.2"/><circle cx="153" cy="95.5"/><circle cx="102.5" cy="98.9"/><circle cx="201" cy="98.4"/><circle cx="154.7" cy="109.3"/><circle cx="212.4" cy="98.6"/><circle cx="38.9" cy="87.2"/><circle cx="254.2" cy="107.8"/><circle cx="317" cy="113.1"/><circle cx="299.9" cy="111.7"/><circle cx="242.4" cy="116.5"/><circle cx="164.4" cy="105.8"/><circle cx="51.7" cy="100.7"/><circle cx="148.4" cy="113.5"/><circle cx="240.7" cy="93.5"/><circle cx="229" cy="116.7"/><circle cx="262.6" cy="87.3"/><circle cx="257.9" cy="100.3"/><circle cx="21.8" cy="114.8"/><circle cx="22" cy="95.8"/><circle cx="173.1" cy="100.5"/><circle cx="242.6" cy="94.8"/><circle cx="90" cy="108.8"/><circle cx="292.4" cy="89.9"/><circle cx="285.8" cy="101.5"/><circle cx="324.5" cy="117.6"/><circle cx="200.4" cy="95.8"/><circle cx="267.5" cy="92.7"/><circle cx="157.7" cy="111.5"/><circle cx="326.7" cy="90.9"/><circle cx="207" cy="103"/><circle cx="290.8" cy="98.4"/><circle cx="73.1" cy="113.8"/><circle cx="167.3" cy="107.3"/><circle cx="157.7" cy="92.6"/><circle cx="74" cy="100.3"/><circle cx="165.4" cy="95.5"/><circle cx="229" cy="108.4"/><circle cx="28.8" cy="94"/><circle cx="149.1" cy="104.2"/><circle cx="148.5" cy="99.8"/><circle cx="79.3" cy="108.4"/><circle cx="298.4" cy="113.6"/><circle cx="98.3" cy="92"/><circle cx="330.1" cy="103.2"/><circle cx="215.3" cy="106"/><circle cx="303" cy="94.1"/><circle cx="41.7" cy="97.5"/><circle cx="183.9" cy="102.1"/><circle cx="45.6" cy="110.9"/><circle cx="236.6" cy="94.7"/><circle cx="140.7" cy="90.4"/><circle cx="287.7" cy="105.7"/><circle cx="188.2" cy="113.3"/><circle cx="80.4" cy="91.6"/><circle cx="322.3" cy="87.8"/><circle cx="78.1" cy="100.7"/><circle cx="85.8" cy="108"/><circle cx="233.1" cy="108.9"/><circle cx="160.2" cy="109"/><circle cx="334.2" cy="106.3"/><circle cx="93" cy="97.1"/><circle cx="97.9" cy="88.4"/><circle cx="290.3" cy="92.6"/><circle cx="73" cy="100.3"/><circle cx="233.2" cy="85.2"/><circle cx="163.3" cy="109.3"/><circle cx="153.2" cy="86.8"/><circle cx="172.2" cy="109.2"/><circle cx="223.4" cy="99.4"/><circle cx="137" cy="93.7"/><circle cx="40.9" cy="105.6"/><circle cx="341.8" cy="111.8"/><circle cx="201.7" cy="91.5"/><circle cx="124.2" cy="90.4"/><circle cx="314" cy="89"/><circle cx="235.5" cy="93.8"/><circle cx="267.3" cy="112.1"/><circle cx="94.8" cy="103.4"/><circle cx="50.1" cy="107.3"/><circle cx="262" cy="114.7"/><circle cx="179.1" cy="103.3"/><circle cx="135.8" cy="92.9"/><circle cx="193.5" cy="101.3"/><circle cx="260.9" cy="113.2"/><circle cx="183.9" cy="110.4"/><circle cx="286.3" cy="101.9"/><circle cx="234.9" cy="115.4"/><circle cx="59.5" cy="98.5"/><circle cx="77.5" cy="110.3"/><circle cx="97.7" cy="104.9"/><circle cx="317.4" cy="106.1"/><circle cx="162.6" cy="87.9"/><circle cx="239.8" cy="114.6"/><circle cx="79.9" cy="92.1"/><circle cx="225.9" cy="105.5"/><circle cx="227.9" cy="99.6"/><circle cx="102.1" cy="116.1"/><circle cx="140.7" cy="97.8"/><circle cx="60.4" cy="98"/><circle cx="132.1" cy="86.3"/><circle cx="315.1" cy="100.6"/><circle cx="151.7" cy="111"/><circle cx="211.9" cy="95.5"/><circle cx="334.7" cy="96.1"/><circle cx="150.1" cy="109"/><circle cx="297.1" cy="100.2"/><circle cx="266.8" cy="101.1"/><circle cx="34.3" cy="102.6"/><circle cx="278.6" cy="94.7"/><circle cx="116.2" cy="100.7"/><circle cx="74.6" cy="103.5"/><circle cx="179.9" cy="90.5"/><circle cx="91.2" cy="85.3"/><circle cx="200.7" cy="109.8"/><circle cx="148.8" cy="85.9"/><circle cx="128.9" cy="118"/><circle cx="133" cy="90.8"/><circle cx="331.2" cy="108"/><circle cx="43.3" cy="101.2"/><circle cx="211.4" cy="95.4"/><circle cx="133.9" cy="114.5"/><circle cx="224.7" cy="96.6"/><circle cx="296.2" cy="88.9"/><circle cx="265.6" cy="91.9"/><circle cx="137.4" cy="91.3"/><circle cx="305.7" cy="99.1"/><circle cx="161.5" cy="106"/><circle cx="228.7" cy="97.6"/><circle cx="340.7" cy="88.6"/><circle cx="276.8" cy="98.5"/><circle cx="328.8" cy="91.4"/><circle cx="136.4" cy="115"/><circle cx="305.1" cy="91.5"/><circle cx="338.1" cy="89.2"/><circle cx="100" cy="103.2"/><circle cx="317.6" cy="110.6"/><circle cx="329.6" cy="97.9"/><circle cx="113.4" cy="104.8"/><circle cx="226.1" cy="107.4"/><circle cx="197" cy="89.8"/><circle cx="46.8" cy="85.9"/><circle cx="212.2" cy="95.6"/><circle cx="40.4" cy="88.5"/><circle cx="341.1" cy="109.6"/><circle cx="278.5" cy="93.7"/><circle cx="146.9" cy="105.7"/><circle cx="336" cy="95.4"/><circle cx="259.1" cy="106.6"/><circle cx="305.4" cy="90.8"/><circle cx="179.9" cy="106.8"/><circle cx="208.1" cy="85.3"/><circle cx="103.9" cy="88.6"/><circle cx="64.6" cy="89.3"/><circle cx="261.5" cy="84.9"/><circle cx="241.2" cy="101"/><circle cx="204" cy="106.4"/><circle cx="173.8" cy="103.3"/><circle cx="151.9" cy="89.6"/><circle cx="55.8" cy="115.4"/><circle cx="339.3" cy="117.8"/><circle cx="66.3" cy="96.8"/><circle cx="332.4" cy="99.9"/><circle cx="291" cy="85.3"/><circle cx="325" cy="108.5"/><circle cx="308.5" cy="87"/><circle cx="322.3" cy="104.2"/><circle cx="125" cy="114.6"/><circle cx="67.2" cy="110.3"/><circle cx="53" cy="95.4"/><circle cx="177.4" cy="105.7"/><circle cx="138.4" cy="106"/><circle cx="110.7" cy="115.6"/><circle cx="318.5" cy="117.1"/><circle cx="178.4" cy="95.5"/><circle cx="262.8" cy="103.8"/><circle cx="285.7" cy="95.9"/><circle cx="66.1" cy="86.5"/><circle cx="139.6" cy="103.7"/><circle cx="23.6" cy="115.6"/><circle cx="64.7" cy="93.2"/><circle cx="228.5" cy="96.1"/><circle cx="66.1" cy="108.7"/><circle cx="93.2" cy="110.9"/><circle cx="276.4" cy="103.7"/><circle cx="178.1" cy="99.5"/><circle cx="103.4" cy="103.9"/><circle cx="333.4" cy="91.1"/><circle cx="24.2" cy="84.9"/><circle cx="139.7" cy="102.8"/><circle cx="171" cy="98.6"/><circle cx="278" cy="112.8"/><circle cx="167.9" cy="88.3"/><circle cx="308.8" cy="89.3"/><circle cx="258.1" cy="85.6"/><circle cx="270.6" cy="91.7"/><circle cx="21.8" cy="103.4"/><circle cx="155.3" cy="100.9"/><circle cx="310.3" cy="101"/><circle cx="265.2" cy="113.8"/><circle cx="70.1" cy="103.1"/><circle cx="40.5" cy="104.4"/><circle cx="232.4" cy="90.2"/><circle cx="64.7" cy="103.4"/><circle cx="136.3" cy="90.9"/><circle cx="74.2" cy="100.9"/><circle cx="190.6" cy="97.5"/><circle cx="20.3" cy="108.9"/><circle cx="193.2" cy="113.7"/><circle cx="20.7" cy="116.2"/><circle cx="50" cy="111.5"/><circle cx="278.6" cy="112.8"/><circle cx="342.4" cy="94.3"/><circle cx="135" cy="87.7"/><circle cx="62.1" cy="113.3"/><circle cx="276.2" cy="97"/><circle cx="322.9" cy="89.1"/><circle cx="193.9" cy="100.6"/><circle cx="266.2" cy="95.3"/><circle cx="262.6" cy="102"/><circle cx="260.4" cy="114.9"/><circle cx="107.5" cy="88.2"/><circle cx="61" cy="94.5"/><circle cx="191" cy="102.9"/><circle cx="144.8" cy="107.9"/><circle cx="309.7" cy="86.7"/><circle cx="282.3" cy="105.7"/><circle cx="61.1" cy="111.7"/><circle cx="107.3" cy="91.6"/><circle cx="270.7" cy="86.2"/><circle cx="52.1" cy="96.3"/><circle cx="193" cy="115.4"/><circle cx="325" cy="108.7"/><circle cx="84.1" cy="96.4"/><circle cx="177.8" cy="98.1"/><circle cx="266.5" cy="113.1"/><circle cx="96.8" cy="114.7"/><circle cx="106.8" cy="105.8"/><circle cx="339.1" cy="105.3"/><circle cx="24.6" cy="114.5"/><circle cx="60.4" cy="110.7"/><circle cx="47.2" cy="94.6"/><circle cx="74.1" cy="104.6"/><circle cx="248.1" cy="111.4"/><circle cx="91.6" cy="103.4"/><circle cx="214" cy="88.1"/><circle cx="286.7" cy="96.4"/><circle cx="259.8" cy="106.4"/><circle cx="172.3" cy="115.1"/><circle cx="134.5" cy="110"/><circle cx="112.5" cy="95.4"/><circle cx="235.2" cy="92.2"/><circle cx="23.6" cy="107.6"/><circle cx="276.1" cy="95.3"/><circle cx="257.8" cy="113.9"/><circle cx="123.1" cy="93"/><circle cx="19.1" cy="110.2"/><circle cx="292.4" cy="108.1"/><circle cx="173.7" cy="107.6"/><circle cx="177.3" cy="89.9"/><circle cx="254.7" cy="93"/><circle cx="86.9" cy="109.9"/><circle cx="287.4" cy="94.4"/><circle cx="340.3" cy="104.2"/><circle cx="52.4" cy="94.2"/><circle cx="212.7" cy="97.4"/><circle cx="198.6" cy="96.7"/><circle cx="79.9" cy="90.8"/><circle cx="323.1" cy="93.5"/><circle cx="111.3" cy="116.6"/><circle cx="261.4" cy="112.9"/><circle cx="278.6" cy="117.9"/><circle cx="294.7" cy="109.3"/><circle cx="57.3" cy="94.8"/><circle cx="170.2" cy="90.5"/><circle cx="151.5" cy="112.8"/><circle cx="309" cy="92.6"/><circle cx="176.3" cy="91.8"/><circle cx="218.8" cy="93.5"/><circle cx="285.4" cy="105"/><circle cx="238.6" cy="106.7"/><circle cx="329.6" cy="100.4"/><circle cx="149.2" cy="96.1"/><circle cx="105.9" cy="92"/><circle cx="174.1" cy="90.3"/><circle cx="282.9" cy="84.9"/><circle cx="101" cy="95.4"/><circle cx="153.8" cy="95.3"/><circle cx="291.9" cy="111.5"/><circle cx="282.4" cy="90.8"/><circle cx="314.9" cy="115.2"/><circle cx="115" cy="87.9"/><circle cx="191" cy="94.1"/><circle cx="301.8" cy="99.4"/><circle cx="63.1" cy="100.7"/><circle cx="23.5" cy="107.8"/><circle cx="169.5" cy="105.7"/><circle cx="325.6" cy="106.4"/><circle cx="236.2" cy="111.9"/><circle cx="241.2" cy="115"/><circle cx="297.8" cy="107.6"/><circle cx="161.7" cy="85.6"/><circle cx="149.4" cy="99.8"/><circle cx="275" cy="110.5"/><circle cx="236.8" cy="107.5"/><circle cx="242.9" cy="95.4"/><circle cx="243.9" cy="108.3"/><circle cx="235.4" cy="94.3"/><circle cx="294.1" cy="113.5"/><circle cx="204.5" cy="101.6"/><circle cx="315.9" cy="97.7"/><circle cx="200.8" cy="88.1"/><circle cx="224.1" cy="100"/><circle cx="49.8" cy="93"/><circle cx="92.9" cy="103.9"/><circle cx="222.6" cy="97.8"/><circle cx="176.6" cy="91.2"/><circle cx="198.1" cy="91.8"/><circle cx="49.3" cy="94.9"/><circle cx="46.5" cy="97.5"/><circle cx="228.3" cy="90.1"/><circle cx="85.5" cy="90.1"/><circle cx="196.1" cy="116"/><circle cx="140.7" cy="116.2"/><circle cx="288.7" cy="89.5"/><circle cx="255.3" cy="103.9"/><circle cx="70.3" cy="94.7"/><circle cx="261.7" cy="87.2"/><circle cx="211.1" cy="94.7"/><circle cx="57.6" cy="89.4"/><circle cx="104.5" cy="93.7"/><circle cx="335.9" cy="110.2"/><circle cx="262.8" cy="117.3"/><circle cx="93.6" cy="95.4"/><circle cx="195.1" cy="109.9"/><circle cx="267.7" cy="105.8"/><circle cx="290" cy="105.4"/><circle cx="227.8" cy="91.4"/><circle cx="272.1" cy="110.3"/><circle cx="174.1" cy="106.9"/><circle cx="211.7" cy="98.4"/><circle cx="309.2" cy="110.7"/><circle cx="35" cy="116.8"/><circle cx="211.3" cy="94.5"/><circle cx="104" cy="112.5"/><circle cx="127.5" cy="95.5"/><circle cx="68.2" cy="108.8"/><circle cx="115.4" cy="114.1"/><circle cx="66.7" cy="88.3"/><circle cx="38.6" cy="112.5"/><circle cx="103.4" cy="91.5"/><circle cx="139.4" cy="88.7"/><circle cx="192.3" cy="112.7"/><circle cx="161" cy="99.6"/><circle cx="164.3" cy="109.9"/><circle cx="335.3" cy="100.4"/><circle cx="122.9" cy="88.6"/><circle cx="53.3" cy="94"/><circle cx="51.3" cy="91.8"/><circle cx="305.3" cy="114.1"/><circle cx="173.1" cy="112.3"/><circle cx="119.4" cy="105"/><circle cx="341.3" cy="93.8"/><circle cx="121.2" cy="87.3"/><circle cx="67.8" cy="98.9"/><circle cx="20.2" cy="112"/><circle cx="130.2" cy="110.2"/><circle cx="331" cy="97.5"/><circle cx="235.5" cy="92"/><circle cx="243.9" cy="87.8"/><circle cx="160.3" cy="84.8"/><circle cx="319.3" cy="96.3"/><circle cx="173.2" cy="116.2"/><circle cx="137" cy="91"/><circle cx="116.6" cy="116.6"/><circle cx="144.6" cy="96.2"/><circle cx="91.5" cy="88.2"/><circle cx="304.3" cy="95.7"/><circle cx="190.2" cy="98.4"/><circle cx="288.8" cy="92.8"/><circle cx="139.7" cy="117.5"/><circle cx="248.7" cy="87.2"/><circle cx="28" cy="92.1"/><circle cx="69.3" cy="116.5"/><circle cx="244.8" cy="89.3"/><circle cx="117.3" cy="90.5"/><circle cx="141.6" cy="114.1"/><circle cx="339.5" cy="111.8"/><circle cx="220.2" cy="97"/><circle cx="139.4" cy="96.4"/><circle cx="164.6" cy="112"/><circle cx="203.8" cy="93"/><circle cx="66.7" cy="117.6"/><circle cx="52.2" cy="112.1"/><circle cx="131.2" cy="92.3"/><circle cx="206.9" cy="107.7"/><circle cx="137.5" cy="86.9"/><circle cx="220.5" cy="112.5"/><circle cx="202.9" cy="99.7"/><circle cx="224.6" cy="97"/><circle cx="143.1" cy="115.1"/><circle cx="294" cy="114.8"/><circle cx="66.1" cy="89.6"/><circle cx="23.9" cy="103.1"/><circle cx="88.5" cy="99"/><circle cx="161.6" cy="98"/><circle cx="149.7" cy="98.5"/><circle cx="185" cy="102.6"/><circle cx="292.4" cy="110.7"/><circle cx="341.2" cy="95.5"/><circle cx="278.5" cy="95.7"/><circle cx="81.9" cy="105.1"/><circle cx="255.8" cy="108.3"/><circle cx="101.6" cy="86.6"/><circle cx="249.2" cy="100.7"/><circle cx="283.9" cy="98.2"/><circle cx="288.3" cy="97.7"/><circle cx="64.8" cy="92.9"/><circle cx="97" cy="103.3"/><circle cx="167.4" cy="85.1"/><circle cx="305.1" cy="112.1"/><circle cx="49.8" cy="94.3"/><circle cx="154.4" cy="102.8"/><circle cx="125.4" cy="94.1"/><circle cx="55.9" cy="106.2"/><circle cx="103.9" cy="101.3"/><circle cx="270.6" cy="102.3"/><circle cx="260.8" cy="94.5"/><circle cx="328.6" cy="91.2"/><circle cx="46.1" cy="112.4"/><circle cx="77.5" cy="95.7"/><circle cx="181.2" cy="110.2"/><circle cx="42.6" cy="93.7"/><circle cx="208.5" cy="103"/><circle cx="40.1" cy="93.2"/><circle cx="212.4" cy="96.9"/><circle cx="119.7" cy="103.7"/><circle cx="179.2" cy="98.2"/><circle cx="182.8" cy="94.3"/><circle cx="131.5" cy="106.4"/><circle cx="90.8" cy="103.4"/><circle cx="194.2" cy="101.5"/><circle cx="55.1" cy="96.3"/><circle cx="287" cy="89.3"/><circle cx="279.2" cy="106.6"/><circle cx="334.8" cy="99.1"/><circle cx="170.3" cy="117.3"/><circle cx="246.9" cy="84.7"/><circle cx="239" cy="96.1"/><circle cx="235.3" cy="94.6"/><circle cx="164.8" cy="101.6"/><circle cx="225.2" cy="97.9"/><circle cx="116.9" cy="108.8"/><circle cx="22.6" cy="91.9"/><circle cx="290.8" cy="96.8"/><circle cx="193" cy="96.7"/><circle cx="127.1" cy="117.3"/><circle cx="249" cy="109.7"/><circle cx="172.5" cy="113"/><circle cx="159.9" cy="111.9"/><circle cx="215" cy="109"/><circle cx="78.4" cy="103.1"/><circle cx="294.6" cy="115.6"/><circle cx="43.2" cy="111.8"/><circle cx="145.2" cy="111.6"/><circle cx="301" cy="89.9"/><circle cx="272.2" cy="108.3"/><circle cx="226.4" cy="94.8"/><circle cx="51.5" cy="95.6"/><circle cx="99.3" cy="109.3"/><circle cx="64.6" cy="90.5"/><circle cx="70.2" cy="106.7"/><circle cx="195.4" cy="86.2"/><circle cx="132.1" cy="106.1"/><circle cx="312.6" cy="110"/><circle cx="261" cy="90.7"/><circle cx="97.1" cy="89.4"/><circle cx="274" cy="102.6"/><circle cx="275.3" cy="114.5"/><circle cx="166.6" cy="84.5"/><circle cx="123.1" cy="98.6"/><circle cx="257.4" cy="95.7"/><circle cx="112.5" cy="103.5"/><circle cx="194.9" cy="102.5"/><circle cx="229.3" cy="89.8"/><circle cx="118.3" cy="95.8"/><circle cx="253.2" cy="96.3"/><circle cx="30.7" cy="110"/><circle cx="215.9" cy="89.6"/><circle cx="313.7" cy="88.2"/><circle cx="174.3" cy="90.4"/><circle cx="30" cy="112.4"/><circle cx="117.9" cy="106.1"/><circle cx="252.8" cy="101.7"/><circle cx="296.1" cy="106.3"/><circle cx="212.5" cy="111.1"/><circle cx="132.6" cy="117.9"/><circle cx="40.8" cy="92.2"/><circle cx="113.6" cy="91.4"/><circle cx="100.4" cy="111.3"/><circle cx="107.2" cy="107.7"/><circle cx="189.6" cy="92"/><circle cx="124.3" cy="98.8"/><circle cx="202.9" cy="111.9"/><circle cx="122.1" cy="101.7"/><circle cx="126.7" cy="108"/><circle cx="288.1" cy="88.1"/><circle cx="311.1" cy="91.8"/><circle cx="141.3" cy="90.5"/><circle cx="184.2" cy="113.9"/><circle cx="173.1" cy="92.1"/><circle cx="272.6" cy="107.9"/><circle cx="63.5" cy="104.7"/><circle cx="228" cy="86.1"/><circle cx="224.6" cy="113.4"/><circle cx="128.8" cy="95.2"/><circle cx="30.9" cy="86.6"/><circle cx="47.3" cy="99.5"/><circle cx="291.7" cy="108.7"/><circle cx="253.2" cy="100.8"/><circle cx="58.7" cy="87.3"/><circle cx="239.5" cy="114"/><circle cx="190.6" cy="91.1"/><circle cx="167.8" cy="115.5"/><circle cx="266.1" cy="84.8"/><circle cx="92.8" cy="99.2"/><circle cx="258.3" cy="108.9"/><circle cx="27.5" cy="97.9"/><circle cx="127.3" cy="104.5"/><circle cx="31.5" cy="114.1"/><circle cx="258.7" cy="89.1"/><circle cx="273.7" cy="115"/><circle cx="101.6" cy="104.6"/><circle cx="85" cy="97.5"/><circle cx="74.3" cy="90.8"/><circle cx="42.5" cy="109.1"/><circle cx="315.2" cy="95.1"/><circle cx="21.6" cy="89.2"/><circle cx="281.4" cy="92.1"/><circle cx="290" cy="92.4"/><circle cx="90.6" cy="114.9"/><circle cx="238.9" cy="97.5"/><circle cx="324.4" cy="113"/><circle cx="294.6" cy="114"/><circle cx="107.7" cy="92.8"/><circle cx="19.9" cy="98.3"/><circle cx="179" cy="90.1"/><circle cx="121.5" cy="114.7"/><circle cx="172.7" cy="109.1"/><circle cx="288.4" cy="107.3"/><circle cx="115.4" cy="97.3"/><circle cx="56.3" cy="90.4"/><circle cx="88.6" cy="113.5"/><circle cx="278.2" cy="84.9"/><circle cx="132.8" cy="109.2"/><circle cx="67.9" cy="98.8"/><circle cx="61.7" cy="114.4"/><circle cx="35.7" cy="90.3"/><circle cx="93.9" cy="103.5"/><circle cx="261.3" cy="112.6"/><circle cx="98" cy="91.4"/><circle cx="124.7" cy="91.1"/><circle cx="197.3" cy="105.1"/><circle cx="84.4" cy="116.2"/><circle cx="28.4" cy="98.9"/><circle cx="298.1" cy="88.5"/><circle cx="21.1" cy="106.2"/><circle cx="193.1" cy="99.7"/><circle cx="298.6" cy="117.6"/><circle cx="147.8" cy="104.8"/><circle cx="109.5" cy="106.7"/><circle cx="203" cy="96.5"/><circle cx="276.7" cy="95.2"/><circle cx="264.9" cy="93.9"/><circle cx="164.1" cy="104.5"/><circle cx="19.1" cy="112"/><circle cx="92.4" cy="107.6"/><circle cx="104.1" cy="112"/><circle cx="331.7" cy="104.2"/><circle cx="21.3" cy="90.4"/><circle cx="135.2" cy="98.2"/><circle cx="171" cy="100.5"/><circle cx="172.1" cy="111.3"/><circle cx="59.2" cy="98.9"/><circle cx="271.8" cy="97.2"/><circle cx="80.5" cy="110.8"/><circle cx="145.3" cy="108.4"/><circle cx="163.9" cy="108.7"/><circle cx="54.8" cy="95.4"/><circle cx="32.4" cy="96.8"/><circle cx="321.1" cy="93"/><circle cx="341.8" cy="114.3"/><circle cx="117.7" cy="99.5"/><circle cx="293.6" cy="109.3"/><circle cx="64.1" cy="103.8"/><circle cx="96.7" cy="85.7"/><circle cx="86.2" cy="109.7"/><circle cx="67" cy="109.2"/><circle cx="188.8" cy="90.7"/><circle cx="80.3" cy="105.8"/><circle cx="88.8" cy="95.6"/><circle cx="115.8" cy="95"/><circle cx="164.2" cy="107.3"/><circle cx="25.9" cy="108"/><circle cx="107.9" cy="97.8"/><circle cx="48.9" cy="113.9"/><circle cx="228.6" cy="102.9"/><circle cx="129.2" cy="113.5"/><circle cx="332.8" cy="117.8"/><circle cx="179" cy="108.1"/><circle cx="83.4" cy="91.5"/><circle cx="90.2" cy="92.1"/><circle cx="241.8" cy="97.4"/><circle cx="327.8" cy="102.4"/><circle cx="193.6" cy="106.1"/><circle cx="167.5" cy="86.7"/><circle cx="107" cy="103.1"/><circle cx="41.9" cy="92.8"/><circle cx="66.5" cy="110.8"/><circle cx="30.7" cy="106.8"/><circle cx="200.7" cy="107.6"/><circle cx="94.7" cy="105.9"/><circle cx="63.3" cy="92.2"/><circle cx="103.4" cy="116.4"/><circle cx="226.3" cy="113.3"/><circle cx="224.7" cy="101.3"/><circle cx="318" cy="116.2"/><circle cx="178.3" cy="115.3"/><circle cx="28.3" cy="100.9"/><circle cx="50.5" cy="89.2"/><circle cx="276.5" cy="106.9"/><circle cx="52.1" cy="90.8"/><circle cx="48" cy="111.7"/><circle cx="59.4" cy="93.1"/><circle cx="185" cy="99.7"/><circle cx="125.6" cy="92.9"/><circle cx="182.5" cy="114.7"/><circle cx="34.9" cy="99"/><circle cx="128.3" cy="112"/><circle cx="290" cy="117.5"/><circle cx="314.8" cy="102.1"/><circle cx="31.6" cy="103.8"/><circle cx="27.5" cy="94.7"/><circle cx="224" cy="97.6"/><circle cx="136.5" cy="101.7"/><circle cx="51.8" cy="109.4"/><circle cx="128.4" cy="99.5"/><circle cx="211.3" cy="95.9"/><circle cx="195" cy="117.1"/><circle cx="192.3" cy="117.3"/><circle cx="306.9" cy="116.7"/><circle cx="78.3" cy="109.7"/><circle cx="151.2" cy="110.9"/><circle cx="226.6" cy="110.3"/><circle cx="66.8" cy="98"/><circle cx="325.4" cy="99.7"/><circle cx="84.9" cy="91.2"/><circle cx="47.3" cy="93.5"/><circle cx="280.3" cy="102.5"/><circle cx="287.2" cy="109.3"/><circle cx="60.2" cy="97.3"/><circle cx="216.4" cy="106.6"/><circle cx="317.2" cy="109.1"/><circle cx="145.9" cy="115.4"/><circle cx="126.4" cy="115.2"/><circle cx="87" cy="108.6"/><circle cx="74.7" cy="96.5"/><circle cx="111.7" cy="88.7"/><circle cx="101.1" cy="89.7"/><circle cx="225.4" cy="98.7"/><circle cx="337.3" cy="102.8"/><circle cx="63.3" cy="98.3"/><circle cx="33.5" cy="115.5"/><circle cx="323.4" cy="108.1"/><circle cx="91.3" cy="86.9"/><circle cx="59.1" cy="103.4"/><circle cx="212.5" cy="100.4"/><circle cx="100.1" cy="108"/><circle cx="229.1" cy="108.5"/><circle cx="21.1" cy="101.5"/><circle cx="85.9" cy="106.7"/><circle cx="270.6" cy="113.7"/><circle cx="60.6" cy="112.7"/><circle cx="259.8" cy="91.7"/><circle cx="42" cy="94.9"/><circle cx="302.2" cy="110.3"/><circle cx="226.1" cy="95.3"/><circle cx="288.3" cy="84.7"/><circle cx="185.4" cy="114.5"/><circle cx="82.7" cy="93.1"/><circle cx="305.6" cy="93.3"/><circle cx="180.3" cy="86"/><circle cx="47.1" cy="115.4"/><circle cx="176" cy="110.4"/><circle cx="39.9" cy="94"/><circle cx="208.3" cy="109.5"/><circle cx="84.1" cy="117.3"/><circle cx="29.8" cy="86.3"/><circle cx="296.8" cy="93.8"/><circle cx="22.1" cy="88.2"/><circle cx="324.1" cy="116.9"/><circle cx="139.4" cy="106.1"/><circle cx="47.6" cy="104.9"/><circle cx="148.9" cy="112.5"/><circle cx="146.5" cy="109.5"/><circle cx="79.9" cy="99"/><circle cx="154.4" cy="115.5"/><circle cx="319.9" cy="105.1"/><circle cx="298.3" cy="89.1"/><circle cx="35" cy="109"/><circle cx="318" cy="91.1"/><circle cx="262.6" cy="115.1"/><circle cx="209.3" cy="111.3"/><circle cx="228.5" cy="106.6"/><circle cx="167.5" cy="92.1"/><circle cx="66.1" cy="96.3"/><circle cx="175.4" cy="113.1"/><circle cx="129.2" cy="107.6"/><circle cx="254" cy="102.4"/><circle cx="172.3" cy="103.7"/><circle cx="300.2" cy="96.7"/><circle cx="220.2" cy="92.5"/><circle cx="236.6" cy="98.5"/><circle cx="243.9" cy="97"/><circle cx="305.9" cy="116.3"/><circle cx="106.8" cy="92.7"/><circle cx="230.8" cy="104.4"/><circle cx="339.9" cy="105.7"/><circle cx="313.4" cy="114"/><circle cx="152.7" cy="112.6"/><circle cx="34" cy="93.6"/><circle cx="283.4" cy="97.1"/><circle cx="140.7" cy="94.5"/><circle cx="27.6" cy="86.7"/><circle cx="219.3" cy="103.9"/><circle cx="62.9" cy="104.4"/><circle cx="103.9" cy="89"/><circle cx="69.9" cy="99.1"/><circle cx="330.5" cy="106.5"/><circle cx="160.6" cy="102.1"/><circle cx="161.4" cy="112.1"/><circle cx="305.3" cy="93.1"/><circle cx="220.5" cy="92.2"/><circle cx="111.9" cy="87.9"/><circle cx="19.8" cy="96.9"/><circle cx="202.3" cy="113"/><circle cx="76.3" cy="87.2"/><circle cx="40.1" cy="112.9"/><circle cx="237.7" cy="101.4"/><circle cx="291.2" cy="114.2"/><circle cx="297.2" cy="91.6"/><circle cx="105" cy="94.8"/><circle cx="169.4" cy="96.4"/><circle cx="128.8" cy="117"/><circle cx="198.4" cy="94"/><circle cx="140.1" cy="100.2"/><circle cx="233.6" cy="93.1"/><circle cx="36.7" cy="103.7"/><circle cx="290.4" cy="95.9"/><circle cx="141.7" cy="97.4"/><circle cx="86.9" cy="110.4"/><circle cx="47.6" cy="117.9"/><circle cx="225" cy="96.9"/><circle cx="67.9" cy="111.2"/><circle cx="336.6" cy="94.6"/><circle cx="163.5" cy="109.7"/><circle cx="251.7" cy="97.8"/><circle cx="71.6" cy="114.1"/><circle cx="168.5" cy="98.5"/><circle cx="117.2" cy="110"/><circle cx="301.2" cy="112.8"/><circle cx="339" cy="91.1"/><circle cx="55.7" cy="95.8"/><circle cx="117" cy="95.9"/><circle cx="274.2" cy="95.9"/><circle cx="283.7" cy="105.4"/><circle cx="173.6" cy="112.9"/><circle cx="82.1" cy="101.5"/><circle cx="152.9" cy="113"/><circle cx="201.9" cy="85.3"/><circle cx="35.1" cy="103.8"/><circle cx="301.4" cy="113.6"/><circle cx="232.1" cy="108"/><circle cx="234.3" cy="113.9"/><circle cx="66.7" cy="99"/><circle cx="342.3" cy="116.4"/><circle cx="271.1" cy="102"/><circle cx="201.6" cy="115.1"/><circle cx="188.2" cy="101.2"/><circle cx="212.6" cy="89.8"/><circle cx="129.1" cy="109.3"/><circle cx="237" cy="117.4"/><circle cx="60.7" cy="117.9"/><circle cx="248.9" cy="110.6"/><circle cx="84.5" cy="88.6"/><circle cx="112.2" cy="111.8"/><circle cx="188.7" cy="109.6"/><circle cx="300.5" cy="104.4"/><circle cx="208.3" cy="99.6"/><circle cx="211.6" cy="102.5"/><circle cx="45.9" cy="106.6"/><circle cx="189.8" cy="106.2"/><circle cx="138.6" cy="107.6"/><circle cx="46" cy="94.8"/><circle cx="147.6" cy="101.6"/><circle cx="247.6" cy="90.6"/><circle cx="52.2" cy="115.1"/><circle cx="116.8" cy="95.6"/><circle cx="176" cy="101.7"/><circle cx="129" cy="111.6"/><circle cx="263.9" cy="104.2"/><circle cx="124.7" cy="99.2"/><circle cx="180.9" cy="116.3"/><circle cx="231.6" cy="99.6"/><circle cx="187.8" cy="115.7"/><circle cx="99.5" cy="112.1"/><circle cx="242.2" cy="111.1"/><circle cx="61.1" cy="97.7"/><circle cx="179.3" cy="99.1"/><circle cx="338.8" cy="91.8"/><circle cx="180.3" cy="108.3"/><circle cx="160.8" cy="99.2"/><circle cx="336.6" cy="85.1"/><circle cx="185.3" cy="93.7"/><circle cx="190.2" cy="88.5"/><circle cx="214.4" cy="101.5"/><circle cx="240.8" cy="97.4"/><circle cx="342.4" cy="92.6"/><circle cx="106.6" cy="93"/><circle cx="249.7" cy="104.5"/><circle cx="143.9" cy="108"/><circle cx="112.2" cy="102.7"/><circle cx="301.6" cy="89.2"/><circle cx="254.6" cy="98"/><circle cx="203.2" cy="114.8"/><circle cx="289.2" cy="88.7"/><circle cx="122.2" cy="90.9"/><circle cx="135.1" cy="104.2"/><circle cx="154.3" cy="102.4"/><circle cx="154.3" cy="103.7"/><circle cx="228" cy="115.3"/><circle cx="154.2" cy="108.5"/><circle cx="137.7" cy="104.3"/><circle cx="158.7" cy="116.4"/><circle cx="221.6" cy="98.6"/><circle cx="212.1" cy="103"/><circle cx="203.2" cy="112.4"/><circle cx="157.2" cy="111.4"/><circle cx="163.1" cy="101.7"/><circle cx="142.9" cy="106.8"/><circle cx="91.9" cy="98"/><circle cx="135.5" cy="96.3"/><circle cx="253.3" cy="117.1"/><circle cx="241.5" cy="103.7"/><circle cx="35.9" cy="110.3"/><circle cx="289.9" cy="106.9"/><circle cx="42.8" cy="101.4"/><circle cx="184.8" cy="93.9"/><circle cx="311" cy="100.8"/><circle cx="25.7" cy="90.1"/><circle cx="155.3" cy="95.2"/><circle cx="200.5" cy="92.9"/><circle cx="197" cy="116.9"/><circle cx="213.2" cy="95"/><circle cx="274.9" cy="105.7"/><circle cx="68" cy="106.6"/><circle cx="256.9" cy="97.4"/><circle cx="89" cy="117.2"/><circle cx="96.5" cy="96.2"/><circle cx="86.1" cy="107.2"/><circle cx="98.9" cy="96"/><circle cx="189.2" cy="103.3"/><circle cx="310.9" cy="99.3"/><circle cx="246.6" cy="112.5"/><circle cx="250.3" cy="90.4"/><circle cx="232.5" cy="104.3"/><circle cx="193" cy="90.4"/><circle cx="146.3" cy="100.6"/><circle cx="280.2" cy="99.5"/><circle cx="78.4" cy="104.8"/><circle cx="223.1" cy="116"/><circle cx="290.4" cy="110.4"/><circle cx="236.1" cy="107.3"/><circle cx="57.9" cy="109.2"/><circle cx="280" cy="94.9"/><circle cx="272.8" cy="94.9"/><circle cx="238.1" cy="95.7"/><circle cx="60" cy="96.8"/><circle cx="33.9" cy="93.6"/><circle cx="268.3" cy="108.8"/><circle cx="180.1" cy="96.6"/><circle cx="279.4" cy="94.9"/><circle cx="176" cy="116.8"/><circle cx="317" cy="110.3"/><circle cx="146.4" cy="98.5"/><circle cx="328.1" cy="112.1"/><circle cx="271.4" cy="100.7"/><circle cx="260" cy="92.7"/><circle cx="139.2" cy="117.4"/><circle cx="335.3" cy="101.8"/><circle cx="26.9" cy="99.3"/><circle cx="147.4" cy="90.4"/><circle cx="70.3" cy="108.2"/><circle cx="115.6" cy="87.3"/><circle cx="141.4" cy="85.5"/><circle cx="108.9" cy="95.7"/><circle cx="278.9" cy="107.2"/><circle cx="342.2" cy="93.7"/><circle cx="202.5" cy="108.7"/><circle cx="92.1" cy="95.5"/><circle cx="262.5" cy="110.7"/><circle cx="335.8" cy="111"/><circle cx="203.4" cy="85.6"/><circle cx="329.2" cy="111"/><circle cx="275.2" cy="110.6"/><circle cx="204.5" cy="86.5"/><circle cx="146.3" cy="106.9"/><circle cx="239.4" cy="100"/><circle cx="172.7" cy="112.8"/><circle cx="207.1" cy="115.8"/><circle cx="109.6" cy="91.9"/><circle cx="333.1" cy="91.3"/><circle cx="157.1" cy="101.4"/><circle cx="36.2" cy="88.8"/><circle cx="50.9" cy="87.5"/><circle cx="270.7" cy="91.8"/><circle cx="68" cy="93.9"/><circle cx="308.9" cy="94.9"/><circle cx="247" cy="113.1"/><circle cx="160.8" cy="111.5"/><circle cx="249" cy="85.2"/><circle cx="77.6" cy="93.6"/><circle cx="177.7" cy="101.5"/><circle cx="191.8" cy="111.3"/><circle cx="279.9" cy="99.1"/><circle cx="70.8" cy="108.6"/><circle cx="201.3" cy="110.2"/><circle cx="176.3" cy="112.5"/><circle cx="299.7" cy="109.5"/><circle cx="208.8" cy="98.6"/><circle cx="147.8" cy="99.4"/><circle cx="121.4" cy="99.5"/><circle cx="55" cy="97.9"/><circle cx="178.7" cy="103.5"/><circle cx="304.3" cy="110"/><circle cx="65.8" cy="116.4"/><circle cx="338.6" cy="93.6"/><circle cx="147.4" cy="107.3"/><circle cx="49.1" cy="114"/><circle cx="130.4" cy="100"/><circle cx="275.6" cy="114.9"/><circle cx="312.7" cy="98.6"/><circle cx="144.5" cy="117.4"/><circle cx="274" cy="114.1"/><circle cx="37.9" cy="89.6"/><circle cx="168.4" cy="115.5"/><circle cx="223.7" cy="99.7"/><circle cx="201.9" cy="94.9"/><circle cx="223.5" cy="110.7"/><circle cx="267.8" cy="103.6"/><circle cx="125.4" cy="115.7"/><circle cx="63" cy="101.1"/><circle cx="121.4" cy="93.3"/><circle cx="52.4" cy="91.8"/><circle cx="329.2" cy="106.9"/><circle cx="197.4" cy="108.3"/><circle cx="88.8" cy="112.6"/><circle cx="184.3" cy="86.9"/><circle cx="299.1" cy="92.1"/><circle cx="234.4" cy="102"/><circle cx="98.2" cy="108.5"/><circle cx="279" cy="100.3"/><circle cx="159.6" cy="90.4"/><circle cx="160.5" cy="111.8"/><circle cx="298.5" cy="101.9"/><circle cx="242.8" cy="100.3"/><circle cx="273.9" cy="104.9"/><circle cx="57.4" cy="113.4"/><circle cx="159.6" cy="94.1"/><circle cx="107.2" cy="85.2"/><circle cx="124.6" cy="98"/><circle cx="298.8" cy="101.1"/><circle cx="78.5" cy="104.4"/><circle cx="19.3" cy="99.8"/><circle cx="252.8" cy="110.8"/><circle cx="243.9" cy="95.3"/><circle cx="232.7" cy="107.9"/><circle cx="291.6" cy="115.3"/><circle cx="95.8" cy="114.1"/><circle cx="39.2" cy="99.6"/><circle cx="284.1" cy="116.7"/><circle cx="290.7" cy="112.1"/><circle cx="331.9" cy="95.7"/><circle cx="303.3" cy="105.9"/><circle cx="251.9" cy="112.9"/><circle cx="129.4" cy="111.2"/><circle cx="284.7" cy="95"/><circle cx="284" cy="116"/><circle cx="150.1" cy="100"/><circle cx="123.8" cy="86.4"/><circle cx="78.5" cy="108.4"/><circle cx="34" cy="95.4"/><circle cx="40.9" cy="93.8"/><circle cx="131.3" cy="95.4"/><circle cx="116.5" cy="87.5"/><circle cx="327.1" cy="114.1"/><circle cx="80.1" cy="87.4"/><circle cx="315.5" cy="105.6"/><circle cx="311.2" cy="107.8"/><circle cx="272.1" cy="89.5"/><circle cx="119.7" cy="102.7"/><circle cx="179" cy="97.9"/><circle cx="124.2" cy="116.3"/><circle cx="84.5" cy="90.8"/><circle cx="283.9" cy="87.5"/><circle cx="79.2" cy="90.3"/><circle cx="98.2" cy="91.7"/><circle cx="203.4" cy="117.1"/><circle cx="51.1" cy="101.6"/><circle cx="314.3" cy="114.1"/><circle cx="198.6" cy="94.1"/><circle cx="175.9" cy="115.8"/><circle cx="256.9" cy="93.4"/><circle cx="286.3" cy="88.4"/><circle cx="109.3" cy="98"/><circle cx="216.8" cy="98.3"/><circle cx="141.1" cy="104.5"/><circle cx="298.9" cy="90.9"/><circle cx="122.7" cy="117.3"/><circle cx="75.1" cy="112.2"/><circle cx="167.7" cy="98.6"/><circle cx="158" cy="117"/><circle cx="167.5" cy="85.5"/><circle cx="335" cy="108.3"/><circle cx="74.5" cy="114"/><circle cx="338" cy="115.6"/><circle cx="234.6" cy="103.1"/><circle cx="128.2" cy="107.6"/><circle cx="199.5" cy="114.5"/><circle cx="282.9" cy="102"/><circle cx="244.9" cy="107.9"/><circle cx="40.2" cy="112.6"/><circle cx="234.7" cy="113.2"/><circle cx="20.6" cy="101.3"/><circle cx="102" cy="112.1"/><circle cx="152.5" cy="94.5"/><circle cx="203.9" cy="95.9"/><circle cx="312.1" cy="93.8"/><circle cx="292.9" cy="116.5"/><circle cx="100" cy="117.5"/><circle cx="314.7" cy="107.8"/><circle cx="23.2" cy="115.1"/><circle cx="124.8" cy="104.7"/><circle cx="267.6" cy="89.2"/><circle cx="289.8" cy="99.4"/><circle cx="80.2" cy="114.1"/><circle cx="234.2" cy="110.7"/><circle cx="191.9" cy="96.6"/><circle cx="323.3" cy="101.7"/><circle cx="207.1" cy="91.2"/><circle cx="299.6" cy="99.7"/><circle cx="76.1" cy="101.3"/><circle cx="105.1" cy="111.5"/><circle cx="77" cy="111.1"/><circle cx="330.2" cy="110.2"/><circle cx="263.2" cy="107.9"/><circle cx="332" cy="98.5"/><circle cx="192.4" cy="107.7"/><circle cx="57.3" cy="115.5"/><circle cx="154.3" cy="101.7"/><circle cx="285.7" cy="115"/><circle cx="275.3" cy="111.4"/><circle cx="34.5" cy="112.3"/><circle cx="300.7" cy="92.6"/><circle cx="168.7" cy="115.4"/><circle cx="158.5" cy="108.4"/><circle cx="67.4" cy="98.6"/><circle cx="179.4" cy="103"/><circle cx="173.7" cy="96.2"/><circle cx="214.7" cy="85"/><circle cx="57.3" cy="116.7"/><circle cx="58.9" cy="112.3"/><circle cx="301.2" cy="111.3"/><circle cx="260.4" cy="115.1"/><circle cx="74.3" cy="92.4"/><circle cx="133.6" cy="85.4"/><circle cx="226" cy="104.8"/><circle cx="115.1" cy="99.8"/><circle cx="117.2" cy="108"/><circle cx="46.2" cy="106.6"/><circle cx="53.4" cy="98.9"/><circle cx="195.1" cy="111.7"/><circle cx="47.5" cy="106.7"/><circle cx="82.7" cy="106.8"/><circle cx="225.6" cy="99.9"/><circle cx="278.3" cy="115.6"/><circle cx="44.3" cy="92.6"/><circle cx="33.4" cy="85.8"/><circle cx="48.1" cy="113.8"/><circle cx="115.2" cy="114.3"/><circle cx="155.8" cy="94.9"/><circle cx="169.8" cy="114.7"/><circle cx="261.5" cy="97.2"/><circle cx="96.4" cy="92"/><circle cx="291.3" cy="105.6"/><circle cx="79" cy="110.4"/><circle cx="126.3" cy="94.8"/><circle cx="285.1" cy="90.8"/><circle cx="62.5" cy="95.3"/><circle cx="39.1" cy="87.7"/><circle cx="68.5" cy="88.4"/><circle cx="128.9" cy="107.7"/><circle cx="183.5" cy="110.8"/><circle cx="291.8" cy="95.6"/><circle cx="342.3" cy="91.6"/><circle cx="150" cy="101.4"/><circle cx="264.1" cy="109.1"/><circle cx="162.7" cy="94.9"/><circle cx="265.1" cy="108.2"/><circle cx="31.2" cy="94"/><circle cx="25" cy="86.3"/><circle cx="298" cy="84.8"/><circle cx="287.9" cy="110.9"/><circle cx="86.4" cy="110.2"/><circle cx="293.6" cy="109.3"/><circle cx="108.1" cy="105.3"/><circle cx="131.9" cy="102.6"/><circle cx="278.2" cy="109.8"/><circle cx="250.9" cy="114.5"/><circle cx="218.6" cy="95.8"/><circle cx="137.8" cy="99"/><circle cx="99.3" cy="101.8"/><circle cx="108.9" cy="89.2"/><circle cx="54.7" cy="99"/><circle cx="54.1" cy="104"/><circle cx="55.6" cy="93.4"/><circle cx="268.5" cy="90.8"/><circle cx="200.4" cy="104.6"/></g><g style="--r:.9"><circle cx="70.4" cy="82.3"/><circle cx="240" cy="81.8"/><circle cx="226.3" cy="81.2"/><circle cx="160.9" cy="79.9"/><circle cx="89.1" cy="81.4"/><circle cx="106.6" cy="79.4"/><circle cx="211.1" cy="84.5"/><circle cx="189.8" cy="79"/><circle cx="269.1" cy="82.8"/><circle cx="91.5" cy="81.2"/><circle cx="184.1" cy="83"/><circle cx="231.5" cy="83.9"/><circle cx="342.1" cy="80.5"/><circle cx="225.6" cy="81"/><circle cx="28.5" cy="83.9"/><circle cx="324.5" cy="79.8"/><circle cx="162" cy="81.3"/><circle cx="78" cy="83.1"/><circle cx="222" cy="79.5"/><circle cx="129.4" cy="82"/><circle cx="121.4" cy="81.2"/><circle cx="159.4" cy="79.9"/><circle cx="143" cy="80.5"/><circle cx="72.4" cy="81.8"/><circle cx="200.4" cy="82.1"/><circle cx="26.9" cy="84.5"/><circle cx="190" cy="83.3"/><circle cx="336.9" cy="82.9"/><circle cx="198.3" cy="83.8"/><circle cx="237" cy="81.4"/><circle cx="98.8" cy="80.2"/><circle cx="304.8" cy="79.2"/><circle cx="101.2" cy="83.2"/><circle cx="265" cy="80.1"/><circle cx="197" cy="82.4"/><circle cx="78.2" cy="84.5"/><circle cx="284.1" cy="82"/><circle cx="147.4" cy="83.8"/><circle cx="181.1" cy="82"/><circle cx="127.9" cy="82.4"/><circle cx="308.1" cy="79"/><circle cx="130.8" cy="79.6"/><circle cx="69" cy="81.9"/><circle cx="21.6" cy="79.5"/><circle cx="208.5" cy="83.1"/><circle cx="178.1" cy="83"/><circle cx="115.1" cy="82.5"/><circle cx="75.9" cy="82.3"/><circle cx="271.1" cy="80.5"/><circle cx="232" cy="83.4"/><circle cx="301.1" cy="83.8"/><circle cx="123.7" cy="79.2"/><circle cx="207.2" cy="80.7"/><circle cx="191.7" cy="81.3"/><circle cx="91.9" cy="83.2"/><circle cx="180.5" cy="81.5"/><circle cx="221.8" cy="79.8"/><circle cx="211.1" cy="84.2"/><circle cx="104.9" cy="82.5"/><circle cx="245.5" cy="79.4"/><circle cx="86.5" cy="83.8"/><circle cx="72.2" cy="84.4"/><circle cx="94.1" cy="81.6"/><circle cx="73.2" cy="83.8"/><circle cx="75.4" cy="81.3"/><circle cx="313.9" cy="83.1"/><circle cx="250.1" cy="80"/><circle cx="145.9" cy="83.6"/><circle cx="187.7" cy="79.3"/><circle cx="123.7" cy="83.8"/><circle cx="60.1" cy="82.5"/><circle cx="30.8" cy="81.1"/><circle cx="319.2" cy="83.8"/><circle cx="58.2" cy="80.1"/><circle cx="298.6" cy="82.8"/><circle cx="84.7" cy="84.4"/><circle cx="53.5" cy="81"/><circle cx="300.9" cy="79.8"/><circle cx="57.5" cy="84.3"/><circle cx="175" cy="82.2"/><circle cx="261.3" cy="79.3"/><circle cx="334.7" cy="81.6"/><circle cx="209.3" cy="81.9"/><circle cx="88" cy="80.4"/><circle cx="195.9" cy="82.3"/><circle cx="330.9" cy="81.4"/><circle cx="200.2" cy="83.6"/><circle cx="265.8" cy="83.8"/><circle cx="219.4" cy="82.8"/><circle cx="162.4" cy="80.9"/><circle cx="151.3" cy="79.3"/><circle cx="256.9" cy="82.8"/><circle cx="97.7" cy="84.3"/><circle cx="156.8" cy="84.4"/><circle cx="37" cy="81.7"/><circle cx="117.7" cy="79.4"/><circle cx="154.4" cy="83.8"/><circle cx="197.8" cy="83.1"/><circle cx="188.1" cy="83.3"/><circle cx="56.1" cy="82.2"/><circle cx="224.9" cy="83"/><circle cx="328.7" cy="84.2"/><circle cx="289.2" cy="81.5"/><circle cx="324" cy="81.9"/><circle cx="288.1" cy="84.2"/><circle cx="200.6" cy="82.1"/><circle cx="180.1" cy="81.5"/><circle cx="20.2" cy="80.2"/><circle cx="54.9" cy="79.7"/><circle cx="95.1" cy="80.6"/><circle cx="103.6" cy="79.9"/><circle cx="166" cy="79.2"/><circle cx="316.9" cy="81.3"/><circle cx="45.5" cy="83.8"/><circle cx="185.9" cy="83.6"/><circle cx="181.8" cy="82.9"/><circle cx="268.4" cy="79.7"/><circle cx="321.4" cy="80.7"/><circle cx="179.4" cy="79.6"/><circle cx="131.5" cy="79.7"/><circle cx="142" cy="81.5"/><circle cx="306.3" cy="79.5"/><circle cx="314.2" cy="83.1"/><circle cx="121.9" cy="84.3"/><circle cx="232" cy="83.1"/><circle cx="289.7" cy="82.7"/><circle cx="137.1" cy="81.8"/><circle cx="64.5" cy="84"/><circle cx="62.9" cy="82.5"/><circle cx="227.4" cy="84.4"/><circle cx="162.5" cy="82.5"/><circle cx="323.9" cy="83.7"/><circle cx="329.9" cy="79.1"/><circle cx="153.5" cy="79.4"/><circle cx="112.7" cy="79.5"/><circle cx="259" cy="80.5"/><circle cx="65.8" cy="80.5"/><circle cx="160.2" cy="82.6"/><circle cx="208.1" cy="84"/><circle cx="153.8" cy="84.1"/><circle cx="301.7" cy="81.3"/><circle cx="181.8" cy="81"/><circle cx="177.5" cy="79.8"/><circle cx="145.9" cy="79.8"/><circle cx="272.8" cy="79.9"/><circle cx="176.1" cy="83.7"/><circle cx="37.9" cy="80.1"/><circle cx="168.7" cy="80.9"/><circle cx="24.2" cy="80.8"/><circle cx="263.9" cy="83.2"/><circle cx="338.9" cy="79.1"/><circle cx="321" cy="82.3"/><circle cx="131.1" cy="79.1"/><circle cx="18.6" cy="81.6"/><circle cx="100" cy="84.1"/><circle cx="300.1" cy="83"/><circle cx="190.6" cy="81.3"/><circle cx="34.9" cy="81.8"/><circle cx="298.4" cy="80.3"/><circle cx="258.7" cy="83.5"/><circle cx="166.5" cy="82.5"/><circle cx="180.4" cy="84.4"/><circle cx="334.9" cy="81.2"/><circle cx="26.3" cy="80.2"/><circle cx="286.6" cy="83.1"/><circle cx="201.8" cy="84.2"/><circle cx="138.9" cy="79.5"/><circle cx="122.3" cy="83.9"/><circle cx="289.3" cy="81.2"/><circle cx="253.4" cy="82.8"/><circle cx="293" cy="83.5"/><circle cx="281.7" cy="83.4"/><circle cx="154.6" cy="81"/><circle cx="309" cy="81"/><circle cx="36.5" cy="81.5"/><circle cx="244.8" cy="83.2"/><circle cx="46.1" cy="79.1"/><circle cx="233.5" cy="79"/><circle cx="140.5" cy="81.2"/><circle cx="309.5" cy="79.2"/><circle cx="146.5" cy="79.6"/><circle cx="142.4" cy="80.9"/><circle cx="102.6" cy="79.5"/><circle cx="284.9" cy="84.5"/><circle cx="62.4" cy="79.4"/><circle cx="136.5" cy="80.4"/><circle cx="305" cy="80"/><circle cx="75" cy="82.7"/><circle cx="275.5" cy="81.7"/><circle cx="25.6" cy="81.7"/><circle cx="204.7" cy="84.3"/><circle cx="194.1" cy="81"/><circle cx="113.3" cy="82.1"/><circle cx="263.1" cy="80.5"/><circle cx="115.9" cy="79.5"/><circle cx="305.3" cy="84.4"/><circle cx="69.5" cy="82.6"/><circle cx="233.7" cy="82"/><circle cx="326.1" cy="83.4"/><circle cx="235.1" cy="83.9"/><circle cx="237.8" cy="82.8"/><circle cx="222.4" cy="81.3"/><circle cx="306.6" cy="83"/><circle cx="240.2" cy="82.9"/><circle cx="99.4" cy="80.5"/><circle cx="197.8" cy="81.6"/><circle cx="283.1" cy="80.6"/><circle cx="196.9" cy="84.3"/><circle cx="35.2" cy="81"/><circle cx="149.6" cy="80"/><circle cx="109.2" cy="84.4"/><circle cx="70.7" cy="84.3"/><circle cx="290.8" cy="82.1"/><circle cx="43.6" cy="79.1"/><circle cx="229.2" cy="79.4"/><circle cx="90.3" cy="83.9"/><circle cx="79.3" cy="82.9"/><circle cx="125.5" cy="84.1"/><circle cx="83.1" cy="83.4"/><circle cx="316.8" cy="84.2"/><circle cx="182.4" cy="83.8"/><circle cx="132.6" cy="83.9"/><circle cx="319.1" cy="79.9"/><circle cx="336" cy="80.6"/><circle cx="64.5" cy="82.1"/><circle cx="240.4" cy="84.1"/><circle cx="84.7" cy="82.2"/><circle cx="251" cy="80.3"/><circle cx="185.9" cy="80.9"/><circle cx="78.5" cy="81.4"/><circle cx="84.3" cy="81.2"/><circle cx="239.5" cy="80.8"/><circle cx="118.7" cy="79.5"/><circle cx="328.9" cy="81.5"/><circle cx="275" cy="83.6"/><circle cx="277" cy="79.9"/><circle cx="130.6" cy="83.5"/><circle cx="52.4" cy="82"/><circle cx="181.7" cy="84.2"/><circle cx="145.4" cy="84.2"/><circle cx="190.2" cy="81"/><circle cx="318.8" cy="80.8"/><circle cx="94.9" cy="83.5"/><circle cx="179.7" cy="81.5"/><circle cx="205.3" cy="82.1"/><circle cx="81.7" cy="84.3"/><circle cx="99.2" cy="83.9"/><circle cx="50.7" cy="83.4"/><circle cx="24.2" cy="80.4"/><circle cx="41.4" cy="83.4"/><circle cx="146.6" cy="79.2"/><circle cx="268.3" cy="80.7"/><circle cx="285.4" cy="80.8"/><circle cx="92.8" cy="81.2"/><circle cx="329.5" cy="84.1"/><circle cx="269.6" cy="84.5"/><circle cx="329" cy="80.6"/><circle cx="278.9" cy="80.1"/><circle cx="65.2" cy="80.6"/><circle cx="325.8" cy="82.3"/><circle cx="311.8" cy="79.1"/><circle cx="303.9" cy="79.3"/><circle cx="69.9" cy="80.8"/><circle cx="325.7" cy="83.6"/><circle cx="264.9" cy="79.7"/><circle cx="207.1" cy="83.2"/><circle cx="165.7" cy="83.1"/><circle cx="284.5" cy="83.1"/><circle cx="128.1" cy="82.5"/><circle cx="185.3" cy="82.6"/><circle cx="77.1" cy="82.7"/><circle cx="79.6" cy="82.8"/><circle cx="153.1" cy="84.5"/><circle cx="54.3" cy="82.6"/><circle cx="196.6" cy="83.7"/><circle cx="273.9" cy="83.4"/><circle cx="201.2" cy="84.4"/><circle cx="206.5" cy="84.2"/><circle cx="243" cy="81"/><circle cx="262.1" cy="84"/><circle cx="304.9" cy="83.5"/><circle cx="127.6" cy="84.1"/><circle cx="101.5" cy="79.7"/><circle cx="305.2" cy="84"/><circle cx="115.8" cy="82.5"/><circle cx="62.1" cy="83.5"/><circle cx="218.5" cy="80.9"/><circle cx="43.6" cy="78.9"/><circle cx="326.6" cy="81.4"/><circle cx="266.4" cy="84.4"/><circle cx="340.5" cy="83.7"/><circle cx="318.4" cy="80.2"/><circle cx="103.5" cy="83.6"/><circle cx="127.9" cy="80.9"/><circle cx="105.9" cy="81.2"/><circle cx="23.6" cy="80.7"/><circle cx="175.3" cy="81.1"/><circle cx="143" cy="82.5"/><circle cx="333.2" cy="82.7"/><circle cx="338.6" cy="82.3"/><circle cx="340.1" cy="84.3"/><circle cx="220.8" cy="82.7"/><circle cx="40" cy="80.5"/><circle cx="302.4" cy="80.7"/><circle cx="38.8" cy="83.5"/><circle cx="22.5" cy="81.5"/><circle cx="276.8" cy="81.5"/><circle cx="162.6" cy="83.6"/><circle cx="79.3" cy="81.1"/><circle cx="273.4" cy="83.9"/><circle cx="191.1" cy="82.5"/><circle cx="316.2" cy="83.2"/><circle cx="342.5" cy="80.3"/><circle cx="172" cy="84.3"/><circle cx="109.7" cy="83.4"/><circle cx="35.9" cy="84.5"/><circle cx="158.7" cy="80.8"/><circle cx="110.7" cy="81.9"/><circle cx="197.6" cy="81.4"/><circle cx="301.3" cy="82.9"/><circle cx="304.8" cy="82.8"/><circle cx="283.6" cy="84.4"/></g><g style="--r:1"><circle cx="145.5" cy="76.2"/><circle cx="131.6" cy="77.4"/><circle cx="170.1" cy="78.1"/><circle cx="296.6" cy="75"/><circle cx="224.6" cy="77.3"/><circle cx="33.6" cy="74.1"/><circle cx="140.7" cy="76.4"/><circle cx="213.8" cy="77.6"/><circle cx="292.7" cy="75.2"/><circle cx="224.5" cy="74.7"/><circle cx="81.5" cy="76.2"/><circle cx="132.7" cy="74.3"/><circle cx="81" cy="74.2"/><circle cx="117.2" cy="77.7"/><circle cx="242.8" cy="76.1"/><circle cx="84.5" cy="76.9"/><circle cx="35.5" cy="74"/><circle cx="303.6" cy="74.3"/><circle cx="70.8" cy="75.4"/><circle cx="131.9" cy="76.4"/><circle cx="98.9" cy="77.6"/><circle cx="153.5" cy="77.6"/><circle cx="337.8" cy="77.3"/><circle cx="320.3" cy="75.9"/><circle cx="77.8" cy="75.8"/><circle cx="98.9" cy="76.7"/><circle cx="179.7" cy="75"/><circle cx="106.3" cy="76.1"/><circle cx="307.7" cy="74.6"/><circle cx="136.1" cy="77.5"/><circle cx="258.4" cy="76.5"/><circle cx="273" cy="77.4"/><circle cx="340.8" cy="77"/><circle cx="20.8" cy="76.8"/><circle cx="302.8" cy="75"/><circle cx="99.1" cy="77.9"/><circle cx="35.1" cy="75.9"/><circle cx="76" cy="77.3"/><circle cx="72.8" cy="73.9"/><circle cx="211.6" cy="75.1"/><circle cx="308.5" cy="76.2"/><circle cx="145.6" cy="75.2"/><circle cx="226.9" cy="73.9"/><circle cx="86.7" cy="75.7"/><circle cx="161.9" cy="77"/><circle cx="197.6" cy="74.4"/><circle cx="322.7" cy="78.8"/><circle cx="133.3" cy="77.6"/><circle cx="326" cy="77.7"/><circle cx="155.9" cy="75.4"/><circle cx="243" cy="77.5"/><circle cx="135.5" cy="76.5"/><circle cx="326.3" cy="76.3"/><circle cx="145.8" cy="77.6"/><circle cx="106.5" cy="75.8"/><circle cx="196.5" cy="78.6"/><circle cx="21.2" cy="74.2"/><circle cx="224.1" cy="77.5"/><circle cx="41.1" cy="76.8"/><circle cx="321.5" cy="77.2"/><circle cx="221.5" cy="78"/><circle cx="68.4" cy="77.1"/><circle cx="172.1" cy="77.8"/><circle cx="163" cy="74.5"/><circle cx="314.9" cy="75.6"/><circle cx="180.4" cy="75.2"/><circle cx="100.4" cy="74.2"/><circle cx="294.2" cy="78"/><circle cx="22.4" cy="77.5"/><circle cx="264.2" cy="78.8"/><circle cx="243.2" cy="75.6"/><circle cx="81" cy="75"/><circle cx="182.1" cy="78.1"/><circle cx="24.5" cy="77.2"/><circle cx="31.7" cy="74"/><circle cx="309" cy="75.8"/><circle cx="31.7" cy="78.9"/><circle cx="64" cy="76.5"/><circle cx="297.8" cy="78.8"/><circle cx="63.6" cy="76"/><circle cx="150.7" cy="77.9"/><circle cx="156.2" cy="74.6"/><circle cx="145.3" cy="75.8"/><circle cx="318.6" cy="76.2"/><circle cx="320.7" cy="75.7"/><circle cx="39" cy="76.5"/><circle cx="158.2" cy="78"/><circle cx="86.6" cy="77.1"/><circle cx="102.4" cy="74.7"/><circle cx="117.9" cy="78.5"/><circle cx="337.3" cy="75.5"/><circle cx="188.5" cy="75.9"/><circle cx="184.2" cy="77.8"/><circle cx="310.6" cy="77.8"/><circle cx="20.9" cy="78.5"/><circle cx="309.2" cy="78.5"/><circle cx="280" cy="78.1"/><circle cx="49.9" cy="78.4"/><circle cx="114.8" cy="75.9"/><circle cx="128.6" cy="76.4"/><circle cx="286.8" cy="74.8"/><circle cx="279.8" cy="74.8"/><circle cx="124.2" cy="78.3"/><circle cx="292.1" cy="74.8"/><circle cx="274.3" cy="76.6"/><circle cx="103" cy="78.9"/><circle cx="313.6" cy="77.2"/><circle cx="328.8" cy="77.2"/><circle cx="280.6" cy="75.4"/><circle cx="291.1" cy="76.3"/><circle cx="272.8" cy="77.4"/><circle cx="42.7" cy="77.1"/><circle cx="244.9" cy="77.4"/><circle cx="178.8" cy="78.3"/><circle cx="164.9" cy="77.6"/><circle cx="248.4" cy="77.6"/><circle cx="89.6" cy="74.2"/><circle cx="116.4" cy="77"/><circle cx="128.7" cy="75.9"/><circle cx="247.9" cy="78.2"/><circle cx="257.3" cy="75.1"/><circle cx="143.3" cy="74.4"/><circle cx="81.5" cy="74.5"/><circle cx="31.3" cy="73.9"/><circle cx="76.6" cy="77.6"/><circle cx="156.7" cy="75.7"/><circle cx="64" cy="77.6"/><circle cx="198.6" cy="73.9"/><circle cx="266.4" cy="77"/><circle cx="31.3" cy="77.3"/><circle cx="98.4" cy="75"/><circle cx="104" cy="77.2"/><circle cx="112.8" cy="74"/><circle cx="126.5" cy="76.9"/><circle cx="278.4" cy="77.4"/><circle cx="111" cy="77.5"/><circle cx="82" cy="75.7"/><circle cx="336.2" cy="76.3"/><circle cx="271.8" cy="78.3"/><circle cx="84" cy="78.9"/><circle cx="161.4" cy="76.3"/><circle cx="86.2" cy="76.2"/><circle cx="24.8" cy="76.8"/><circle cx="163.1" cy="75.8"/><circle cx="215.8" cy="75.9"/><circle cx="44.3" cy="77.4"/><circle cx="259" cy="76.4"/><circle cx="286.1" cy="77.4"/><circle cx="182.6" cy="74.3"/><circle cx="168.3" cy="77.5"/><circle cx="141" cy="78.3"/><circle cx="286.2" cy="75.7"/><circle cx="165.2" cy="77.2"/><circle cx="275.3" cy="76.7"/><circle cx="309.6" cy="73.9"/><circle cx="112.2" cy="75.9"/><circle cx="56.9" cy="76.4"/><circle cx="330" cy="78.5"/><circle cx="236.9" cy="77.9"/><circle cx="85.2" cy="75.4"/><circle cx="238.1" cy="78.3"/><circle cx="47.2" cy="77.3"/><circle cx="134.6" cy="77.4"/><circle cx="129.8" cy="78.6"/><circle cx="83.7" cy="76.8"/><circle cx="146.9" cy="78.6"/><circle cx="296" cy="74.4"/><circle cx="219.3" cy="78.7"/><circle cx="321.9" cy="77.6"/><circle cx="304" cy="74"/><circle cx="154.9" cy="74.5"/><circle cx="51" cy="74.8"/><circle cx="166.5" cy="76.3"/><circle cx="137.6" cy="76.7"/><circle cx="21.6" cy="75.8"/><circle cx="114.9" cy="77"/><circle cx="239.1" cy="77.7"/><circle cx="65.9" cy="78.1"/><circle cx="86.7" cy="78.3"/><circle cx="144.3" cy="75.6"/><circle cx="273.6" cy="75.1"/><circle cx="100.4" cy="75.9"/><circle cx="221" cy="74.2"/><circle cx="99.3" cy="76.8"/><circle cx="223.8" cy="75.3"/><circle cx="286.4" cy="76.3"/><circle cx="314.8" cy="77.5"/><circle cx="23.8" cy="74"/><circle cx="115.4" cy="76.7"/><circle cx="18.4" cy="74"/><circle cx="277.8" cy="76.8"/><circle cx="138.7" cy="77.3"/><circle cx="235.7" cy="74.7"/><circle cx="167.6" cy="78.6"/><circle cx="338.3" cy="77"/><circle cx="96.4" cy="74.1"/><circle cx="211" cy="75.1"/><circle cx="104.1" cy="74.5"/></g><g style="--r:1.1"><circle cx="249.4" cy="73.4"/><circle cx="258.1" cy="70.1"/><circle cx="83.8" cy="73.7"/><circle cx="206" cy="71.4"/><circle cx="293.2" cy="72.8"/><circle cx="69.3" cy="69.6"/><circle cx="167.1" cy="70.4"/><circle cx="305.4" cy="69.3"/><circle cx="44.9" cy="73.6"/><circle cx="319.2" cy="71.7"/><circle cx="257.9" cy="69.7"/><circle cx="230.2" cy="69.3"/><circle cx="29" cy="69.9"/><circle cx="128.5" cy="69.4"/><circle cx="335.8" cy="72"/><circle cx="315" cy="71.4"/><circle cx="212.3" cy="73.4"/><circle cx="314.6" cy="69.6"/><circle cx="33.2" cy="73"/><circle cx="84.2" cy="72.3"/><circle cx="111.9" cy="72.2"/><circle cx="286.5" cy="69.6"/><circle cx="248.5" cy="70.7"/><circle cx="204.5" cy="72.4"/><circle cx="341.5" cy="72.6"/><circle cx="342.2" cy="73.5"/><circle cx="93.1" cy="70.4"/><circle cx="52.2" cy="72.2"/><circle cx="33" cy="71"/><circle cx="301.6" cy="70.9"/><circle cx="68.3" cy="70.6"/><circle cx="287.3" cy="72.8"/><circle cx="309.2" cy="72.5"/><circle cx="288" cy="71.8"/><circle cx="323.3" cy="72.4"/><circle cx="31.7" cy="72.1"/><circle cx="127.7" cy="71.2"/><circle cx="43.4" cy="70.8"/><circle cx="144" cy="71.2"/><circle cx="36.2" cy="71.3"/><circle cx="208.2" cy="71.9"/><circle cx="245.4" cy="71.4"/><circle cx="78.5" cy="73.5"/><circle cx="89.8" cy="70.7"/><circle cx="195.9" cy="70.2"/><circle cx="69.2" cy="72.4"/><circle cx="326.1" cy="73.3"/><circle cx="309.5" cy="70.8"/><circle cx="54.8" cy="72.3"/><circle cx="168.9" cy="72.9"/><circle cx="240.7" cy="69.4"/><circle cx="301.6" cy="70.2"/><circle cx="164.8" cy="73.1"/><circle cx="333.8" cy="70.6"/><circle cx="30.7" cy="71.8"/><circle cx="239.6" cy="72.2"/><circle cx="159.1" cy="73.5"/><circle cx="49.8" cy="72.9"/><circle cx="204" cy="71.9"/><circle cx="75.8" cy="72.6"/><circle cx="84.3" cy="73.7"/><circle cx="114.8" cy="71.4"/><circle cx="250.4" cy="70.9"/><circle cx="332.2" cy="69.6"/><circle cx="227.9" cy="72.5"/><circle cx="196.9" cy="73.5"/><circle cx="270.6" cy="73.5"/><circle cx="99.6" cy="73.3"/><circle cx="261.1" cy="70"/><circle cx="278.9" cy="73"/><circle cx="45.5" cy="72.7"/><circle cx="172.2" cy="72.2"/><circle cx="335.1" cy="73.2"/><circle cx="224" cy="69.3"/><circle cx="50.5" cy="72"/><circle cx="27.9" cy="72.9"/><circle cx="297.2" cy="73.3"/><circle cx="44.7" cy="72.2"/><circle cx="287.7" cy="73.2"/><circle cx="71" cy="72.8"/><circle cx="183.1" cy="73.2"/><circle cx="64.2" cy="70"/><circle cx="237.6" cy="70.2"/><circle cx="150.3" cy="73.5"/><circle cx="281.9" cy="73.5"/><circle cx="325" cy="73"/><circle cx="182.8" cy="71.5"/><circle cx="306.1" cy="73.6"/><circle cx="245" cy="70.2"/><circle cx="122.6" cy="71.6"/><circle cx="227.3" cy="72.5"/><circle cx="333.3" cy="73.4"/><circle cx="156.1" cy="71.1"/><circle cx="196.9" cy="73.8"/><circle cx="116.6" cy="73"/><circle cx="218.3" cy="71.8"/><circle cx="231.5" cy="72.6"/><circle cx="151.9" cy="72.7"/><circle cx="282.8" cy="73.5"/><circle cx="320.4" cy="70.6"/><circle cx="271.4" cy="72"/><circle cx="259.4" cy="73.2"/><circle cx="164.3" cy="73.5"/><circle cx="285.5" cy="70.6"/><circle cx="290.5" cy="70.6"/><circle cx="187.8" cy="70.6"/><circle cx="62" cy="71.4"/><circle cx="103.7" cy="70"/><circle cx="310" cy="72.8"/><circle cx="29.9" cy="72.3"/><circle cx="111.2" cy="73.7"/><circle cx="294" cy="70.7"/><circle cx="93.3" cy="71.5"/><circle cx="113" cy="73.8"/><circle cx="123.9" cy="72.9"/><circle cx="249.6" cy="70.9"/><circle cx="50.9" cy="71.2"/><circle cx="93.1" cy="70.8"/><circle cx="156" cy="70.7"/><circle cx="173.1" cy="72.7"/><circle cx="169.5" cy="73.3"/><circle cx="248.1" cy="70.8"/><circle cx="43.2" cy="70.9"/><circle cx="109.7" cy="69.4"/><circle cx="108.5" cy="73.6"/><circle cx="82.3" cy="73.3"/></g><g style="--r:1.2"><circle cx="216" cy="67.1"/><circle cx="243.1" cy="65.9"/><circle cx="47.1" cy="65.2"/><circle cx="298.7" cy="68.6"/><circle cx="43.4" cy="68.7"/><circle cx="73" cy="68.6"/><circle cx="188.9" cy="67.7"/><circle cx="138.7" cy="66.6"/><circle cx="158.2" cy="68.6"/><circle cx="331.1" cy="68.6"/><circle cx="37" cy="69.2"/><circle cx="315.1" cy="67"/><circle cx="173.6" cy="67.1"/><circle cx="114" cy="67.1"/><circle cx="132.1" cy="66.6"/><circle cx="133" cy="67.6"/><circle cx="111.8" cy="65.6"/><circle cx="112.8" cy="68.1"/><circle cx="339.8" cy="68.5"/><circle cx="283.2" cy="68.7"/><circle cx="92.6" cy="68.6"/><circle cx="247.2" cy="68.6"/><circle cx="104.5" cy="66.2"/><circle cx="87.8" cy="65.2"/><circle cx="332.6" cy="68.6"/><circle cx="295.9" cy="67"/><circle cx="56.6" cy="67.2"/><circle cx="299.8" cy="69.1"/><circle cx="59.1" cy="67.5"/><circle cx="203.1" cy="67.1"/><circle cx="285.6" cy="66.8"/><circle cx="105.6" cy="68.4"/><circle cx="158.3" cy="68.4"/><circle cx="73.5" cy="66.2"/><circle cx="172.9" cy="68.4"/><circle cx="74.3" cy="69"/><circle cx="32.8" cy="67.3"/><circle cx="273.5" cy="68.4"/><circle cx="258.3" cy="68.7"/><circle cx="280.2" cy="66.2"/><circle cx="145.6" cy="66.7"/><circle cx="293.3" cy="67.1"/><circle cx="64.2" cy="68.9"/><circle cx="293.4" cy="68.9"/><circle cx="327.1" cy="67.7"/><circle cx="281.2" cy="65.5"/><circle cx="122" cy="68.5"/><circle cx="113.1" cy="67"/><circle cx="325" cy="67.1"/><circle cx="204.8" cy="69.2"/><circle cx="188.6" cy="67.1"/><circle cx="126.4" cy="67.1"/><circle cx="126.6" cy="69.2"/><circle cx="298.9" cy="66.9"/><circle cx="258.7" cy="66.3"/><circle cx="341.7" cy="65.7"/><circle cx="290.3" cy="66.8"/><circle cx="241.9" cy="68.1"/><circle cx="340.8" cy="66.4"/><circle cx="244.1" cy="65.1"/><circle cx="259.1" cy="67.8"/><circle cx="281.8" cy="66.5"/><circle cx="100.1" cy="68.6"/><circle cx="341.9" cy="65"/><circle cx="206.7" cy="67.2"/><circle cx="222" cy="66.9"/><circle cx="148.9" cy="68"/><circle cx="319.1" cy="66.6"/><circle cx="238.7" cy="66.1"/><circle cx="183.1" cy="68.5"/><circle cx="306.4" cy="68.8"/><circle cx="270.2" cy="67.5"/><circle cx="116.3" cy="68.8"/><circle cx="77.1" cy="67.9"/><circle cx="307.6" cy="68.6"/><circle cx="208.3" cy="66.9"/><circle cx="215.2" cy="65.9"/><circle cx="187.3" cy="67.9"/><circle cx="62.1" cy="67.1"/><circle cx="321.5" cy="65.8"/><circle cx="294.6" cy="67.9"/><circle cx="269" cy="68.4"/><circle cx="218.7" cy="66.2"/><circle cx="70" cy="67.9"/><circle cx="338.1" cy="69.1"/><circle cx="279.9" cy="66.1"/><circle cx="101.7" cy="68.6"/><circle cx="299.2" cy="68.8"/><circle cx="296" cy="68.2"/><circle cx="95.1" cy="65.3"/><circle cx="69.7" cy="68.2"/><circle cx="55.8" cy="67.2"/><circle cx="207.2" cy="69.1"/><circle cx="110.1" cy="68.4"/><circle cx="186" cy="68.5"/><circle cx="329.2" cy="68.6"/><circle cx="86.2" cy="68.1"/><circle cx="322.7" cy="68.1"/><circle cx="121.7" cy="68.2"/></g><g style="--r:1.3"><circle cx="305.1" cy="61.4"/><circle cx="334.7" cy="64.9"/><circle cx="277.2" cy="64.1"/><circle cx="332.4" cy="63.2"/><circle cx="195.9" cy="62.4"/><circle cx="104.2" cy="64.3"/><circle cx="272.1" cy="64.4"/><circle cx="306.8" cy="64.8"/><circle cx="187.4" cy="63"/><circle cx="82.5" cy="61.7"/><circle cx="208.8" cy="61.3"/><circle cx="160.7" cy="64.4"/><circle cx="221.7" cy="62.2"/><circle cx="94.9" cy="63"/><circle cx="64.9" cy="62.8"/><circle cx="119.6" cy="64"/><circle cx="171.5" cy="61.7"/><circle cx="269.5" cy="64.3"/><circle cx="28.5" cy="61.5"/><circle cx="250.9" cy="64.5"/><circle cx="235.8" cy="64.4"/><circle cx="339" cy="63.1"/><circle cx="27.4" cy="61.6"/><circle cx="198.2" cy="64.2"/><circle cx="271.4" cy="61.3"/><circle cx="82.4" cy="62"/><circle cx="154.5" cy="62.6"/><circle cx="195" cy="62.9"/><circle cx="172.2" cy="63.1"/><circle cx="246.4" cy="62.8"/><circle cx="175.8" cy="64.9"/><circle cx="281.8" cy="63"/><circle cx="217.5" cy="63"/><circle cx="301.3" cy="61.9"/><circle cx="124.4" cy="63.5"/><circle cx="163.7" cy="64.9"/><circle cx="297.8" cy="63.2"/><circle cx="294.8" cy="64.4"/><circle cx="45.5" cy="62.4"/><circle cx="269.8" cy="62.8"/><circle cx="107" cy="61.6"/><circle cx="216.3" cy="64.2"/><circle cx="219.7" cy="62.6"/><circle cx="242.1" cy="61.9"/><circle cx="57.5" cy="64.3"/><circle cx="36.2" cy="61.7"/><circle cx="192.8" cy="64"/><circle cx="200.7" cy="64.3"/><circle cx="28.7" cy="63"/><circle cx="107.3" cy="61.3"/></g><g style="--r:1.4"><circle cx="157.5" cy="60.2"/><circle cx="71.2" cy="59"/><circle cx="280" cy="60.6"/><circle cx="328.7" cy="60"/><circle cx="38.4" cy="59.9"/><circle cx="227.3" cy="58.5"/><circle cx="85.7" cy="59"/><circle cx="33.2" cy="60.9"/><circle cx="298.5" cy="59.1"/><circle cx="269.3" cy="58.4"/><circle cx="180.6" cy="61.1"/><circle cx="162.8" cy="58.6"/><circle cx="275.2" cy="60.7"/><circle cx="324.9" cy="59.3"/><circle cx="325.1" cy="60.6"/><circle cx="216.6" cy="59.9"/><circle cx="269.8" cy="60"/><circle cx="88.5" cy="59.6"/><circle cx="111.8" cy="61"/><circle cx="237.2" cy="60.1"/><circle cx="58.9" cy="59.2"/><circle cx="215.6" cy="58.2"/><circle cx="101.2" cy="58.4"/><circle cx="213.3" cy="61.1"/><circle cx="223.9" cy="59"/><circle cx="161.8" cy="59.6"/><circle cx="219.4" cy="60.7"/><circle cx="207.4" cy="58.2"/><circle cx="272.7" cy="60.5"/><circle cx="300.9" cy="58.8"/><circle cx="137.2" cy="57.9"/><circle cx="172.6" cy="59.9"/><circle cx="160.6" cy="58"/><circle cx="122.9" cy="58.4"/><circle cx="341.9" cy="60.4"/><circle cx="311.9" cy="60.9"/><circle cx="272.1" cy="59.9"/><circle cx="71" cy="60.7"/></g><g style="--r:1.5"><circle cx="143.8" cy="57.4"/><circle cx="189.1" cy="54.8"/><circle cx="59" cy="57.1"/><circle cx="138.7" cy="56.7"/><circle cx="242.6" cy="56.7"/><circle cx="93.7" cy="56.4"/><circle cx="186.5" cy="54.7"/><circle cx="223.6" cy="55.5"/><circle cx="256.3" cy="55.4"/><circle cx="77" cy="57.1"/><circle cx="90.4" cy="57.1"/><circle cx="295.7" cy="56.6"/><circle cx="128.3" cy="55.4"/><circle cx="339.1" cy="55.4"/><circle cx="52.1" cy="55.9"/><circle cx="58.9" cy="57.3"/><circle cx="335" cy="54.2"/><circle cx="63.8" cy="54.6"/><circle cx="295.6" cy="57"/><circle cx="315.7" cy="56.5"/><circle cx="102" cy="54.4"/><circle cx="252.4" cy="54.5"/><circle cx="131.9" cy="55.7"/><circle cx="249.6" cy="57.4"/><circle cx="239.3" cy="55.1"/><circle cx="196.3" cy="54.7"/><circle cx="124.7" cy="56.5"/><circle cx="196.2" cy="56.8"/></g><g style="--r:1.6"><circle cx="155.5" cy="53.4"/><circle cx="267.2" cy="53.4"/><circle cx="111.1" cy="52.3"/><circle cx="61.8" cy="52.3"/><circle cx="242.3" cy="51.8"/><circle cx="174" cy="51.8"/><circle cx="272.9" cy="53.8"/><circle cx="60.7" cy="51.8"/><circle cx="163.2" cy="52.2"/><circle cx="293.7" cy="51.5"/><circle cx="51.9" cy="53.6"/><circle cx="57.8" cy="51.1"/><circle cx="280.4" cy="51.2"/><circle cx="178.6" cy="51.5"/><circle cx="136.2" cy="51.2"/></g><g style="--r:1.7"><circle cx="84" cy="50.1"/><circle cx="309.6" cy="50.3"/><circle cx="163.1" cy="50.8"/><circle cx="175.9" cy="48.3"/><circle cx="227.3" cy="50.1"/><circle cx="218.3" cy="50.5"/><circle cx="219.3" cy="49.2"/><circle cx="66.6" cy="50.5"/><circle cx="42" cy="49.6"/><circle cx="85" cy="48.4"/><circle cx="184.7" cy="50.9"/><circle cx="200.8" cy="49.8"/><circle cx="141.7" cy="49.5"/><circle cx="246.9" cy="49.6"/><circle cx="257.9" cy="50"/><circle cx="328" cy="50.7"/><circle cx="321.6" cy="50.4"/><circle cx="181.5" cy="48.4"/><circle cx="88.1" cy="48"/></g><g style="--r:1.8"><circle cx="229" cy="45.8"/><circle cx="112.1" cy="45.5"/><circle cx="313.3" cy="45.6"/><circle cx="98.3" cy="46.4"/><circle cx="225" cy="46.4"/><circle cx="58.5" cy="47.1"/><circle cx="67.6" cy="47.5"/><circle cx="270.3" cy="46.3"/><circle cx="340.3" cy="47.8"/><circle cx="119" cy="46.2"/><circle cx="146.3" cy="45.5"/><circle cx="90.3" cy="47.2"/></g><g style="--r:1.9"><circle cx="319.2" cy="44.2"/><circle cx="288.1" cy="42.6"/><circle cx="207.3" cy="44.9"/><circle cx="102.2" cy="43.2"/><circle cx="241.1" cy="42.9"/><circle cx="32.7" cy="43.2"/><circle cx="98.4" cy="45.2"/><circle cx="195.6" cy="45"/><circle cx="254.7" cy="43.8"/></g><g style="--r:2"><circle cx="55.9" cy="41"/><circle cx="201" cy="41"/><circle cx="172.3" cy="40.6"/><circle cx="286.4" cy="42"/><circle cx="231.4" cy="40.9"/><circle cx="329.2" cy="41.5"/><circle cx="322.3" cy="42.2"/><circle cx="338.7" cy="41.7"/></g><g style="--r:2.1"><circle cx="66.2" cy="37.7"/><circle cx="276.2" cy="38.4"/></g><g style="--r:2.2"><circle cx="169.9" cy="36.3"/><circle cx="203.3" cy="35.7"/></g><g style="--r:2.3"><circle cx="271.9" cy="33.4"/><circle cx="194.2" cy="34.4"/></g><g style="--r:2.4"><circle cx="288.5" cy="32.6"/><circle cx="252.4" cy="31.6"/><circle cx="169.1" cy="31.1"/><circle cx="205.4" cy="31.8"/></g><g style="--r:2.5"><circle cx="261.8" cy="29.4"/><circle cx="132.2" cy="30.3"/></g></g><rect x="17.5" y="92" width="330.5" height="26" fill="url(#gt)"/><g mask="url(#ms)"><rect x="17.5" y="85" width="330.5" height="33" filter="url(#sp)"/></g><path d="M18.4 118.5V66.8H25.7V58.1H30V35.5H71.6V28.2H118.4V24.2H229.4V22.6H252V21.7H343" fill="none" stroke="#780000" stroke-width="1.9"/></g><g clip-path="url(#c2)"><rect x="359" y="90" width="330.5" height="28" fill="url(#gb)"/><g class="sc"><g style="--r:.8"><circle cx="360.1" cy="105.9"/><circle cx="649.9" cy="101.3"/><circle cx="488.9" cy="98.8"/><circle cx="558.1" cy="103.6"/><circle cx="606.4" cy="115.4"/><circle cx="599.8" cy="102"/><circle cx="447.3" cy="117.7"/><circle cx="376.5" cy="100"/><circle cx="501.3" cy="115.1"/><circle cx="519.7" cy="96.5"/><circle cx="452" cy="94.4"/><circle cx="613" cy="108.7"/><circle cx="561.7" cy="105.9"/><circle cx="670.7" cy="116.8"/><circle cx="471.7" cy="115.3"/><circle cx="508.6" cy="97.4"/><circle cx="540.7" cy="99.5"/><circle cx="551.8" cy="115.5"/><circle cx="539.5" cy="105.3"/><circle cx="475.2" cy="94.1"/><circle cx="478.6" cy="86"/><circle cx="643.6" cy="114.7"/><circle cx="369.9" cy="114.3"/><circle cx="360.1" cy="115.4"/><circle cx="673" cy="103.4"/><circle cx="658.1" cy="108.2"/><circle cx="439.8" cy="103.4"/><circle cx="611.3" cy="96.5"/><circle cx="664.3" cy="112.3"/><circle cx="593.7" cy="110.5"/><circle cx="481.6" cy="94"/><circle cx="496.8" cy="105.7"/><circle cx="649.8" cy="114"/><circle cx="584.5" cy="114.9"/><circle cx="378.5" cy="103.7"/><circle cx="595" cy="86.2"/><circle cx="451.3" cy="99.4"/><circle cx="360.3" cy="106.6"/><circle cx="412.7" cy="100.3"/><circle cx="601" cy="104.8"/><circle cx="574.7" cy="90.9"/><circle cx="461.1" cy="101.9"/><circle cx="584.8" cy="98.4"/><circle cx="466.1" cy="98.7"/><circle cx="632.7" cy="109"/><circle cx="455.7" cy="101.3"/><circle cx="652.2" cy="96.9"/><circle cx="509" cy="103.6"/><circle cx="661.7" cy="102.8"/><circle cx="472.4" cy="116"/><circle cx="433.5" cy="107.8"/><circle cx="562.6" cy="115.1"/><circle cx="416.4" cy="116.6"/><circle cx="511.2" cy="96.6"/><circle cx="451.6" cy="97.2"/><circle cx="395.6" cy="95.3"/><circle cx="530.9" cy="110"/><circle cx="519.5" cy="90.2"/><circle cx="389.5" cy="91.6"/><circle cx="405.6" cy="114.9"/><circle cx="502.7" cy="93.5"/><circle cx="557.6" cy="86.8"/><circle cx="675.2" cy="90.2"/><circle cx="572.2" cy="114.9"/><circle cx="388.5" cy="114.4"/><circle cx="427.5" cy="91.9"/><circle cx="678.6" cy="96.6"/><circle cx="494.2" cy="100.1"/><circle cx="376.2" cy="114.9"/><circle cx="627.4" cy="96.5"/><circle cx="445.6" cy="106.7"/><circle cx="498.3" cy="91.3"/><circle cx="681.8" cy="115.9"/><circle cx="657.4" cy="101.5"/><circle cx="405" cy="99.4"/><circle cx="461" cy="107.4"/><circle cx="375.9" cy="105.2"/><circle cx="486.7" cy="98.3"/><circle cx="452.9" cy="99.7"/><circle cx="626.7" cy="106.6"/><circle cx="628.6" cy="112.5"/><circle cx="677.4" cy="88.3"/><circle cx="395.3" cy="108.5"/><circle cx="486" cy="109.3"/><circle cx="508.2" cy="109.8"/><circle cx="548.4" cy="90.6"/><circle cx="589.4" cy="112.1"/><circle cx="500.6" cy="114.8"/><circle cx="517.9" cy="95.2"/><circle cx="635.1" cy="101.7"/><circle cx="414.7" cy="96.7"/><circle cx="525.7" cy="90.8"/><circle cx="503.9" cy="108.5"/><circle cx="594.2" cy="108.8"/><circle cx="401.7" cy="106.1"/><circle cx="475.9" cy="110"/><circle cx="511.9" cy="96.3"/><circle cx="522.6" cy="88.7"/><circle cx="588.6" cy="97.3"/><circle cx="558.1" cy="94.4"/><circle cx="432.7" cy="104.8"/><circle cx="472.9" cy="115.5"/><circle cx="360.3" cy="111.6"/><circle cx="561.8" cy="115"/><circle cx="504.9" cy="113.2"/><circle cx="592.8" cy="115.9"/><circle cx="585.4" cy="89.4"/><circle cx="625.3" cy="89.3"/><circle cx="525.8" cy="110.2"/><circle cx="499.1" cy="110.8"/><circle cx="424.7" cy="100.6"/><circle cx="445.4" cy="99.4"/><circle cx="465.6" cy="97.1"/><circle cx="606" cy="107.9"/><circle cx="682.8" cy="109.7"/><circle cx="668.4" cy="98"/><circle cx="610.5" cy="102.5"/><circle cx="602" cy="114.1"/><circle cx="363.8" cy="98.9"/><circle cx="677.2" cy="112"/><circle cx="445" cy="85.8"/><circle cx="503.4" cy="103.4"/><circle cx="382.5" cy="110.8"/><circle cx="452.4" cy="103.9"/><circle cx="504.7" cy="104"/><circle cx="508.3" cy="103"/><circle cx="414.3" cy="109.9"/><circle cx="384.7" cy="107.9"/><circle cx="359.6" cy="95.4"/><circle cx="481.4" cy="102.8"/><circle cx="459.2" cy="87.5"/><circle cx="436.6" cy="93.3"/><circle cx="548.9" cy="98.3"/><circle cx="518.9" cy="115.7"/><circle cx="541" cy="87.8"/><circle cx="361.7" cy="85.8"/><circle cx="601.5" cy="90.2"/><circle cx="619.6" cy="111.9"/><circle cx="406.5" cy="93.5"/><circle cx="424.3" cy="100.1"/><circle cx="503.4" cy="110.9"/><circle cx="582.6" cy="93"/><circle cx="427.9" cy="113.6"/><circle cx="554.4" cy="93.7"/><circle cx="529.9" cy="104.7"/><circle cx="491.4" cy="84.6"/><circle cx="643.2" cy="113.2"/><circle cx="362.1" cy="103.8"/><circle cx="581" cy="107.4"/><circle cx="672.5" cy="85.9"/><circle cx="539.5" cy="93.3"/><circle cx="420" cy="96.4"/><circle cx="603.7" cy="117.3"/><circle cx="544.5" cy="114.5"/><circle cx="564.7" cy="101.7"/><circle cx="548.6" cy="114.5"/><circle cx="574.3" cy="101.6"/><circle cx="459.1" cy="117.3"/><circle cx="650.6" cy="100.4"/><circle cx="364.6" cy="113.9"/><circle cx="536.4" cy="112.1"/><circle cx="486.6" cy="113.5"/><circle cx="560.2" cy="93.7"/><circle cx="403.9" cy="105.7"/><circle cx="405.2" cy="103.8"/><circle cx="640.2" cy="113.1"/><circle cx="553.5" cy="111.1"/><circle cx="680.7" cy="102.2"/><circle cx="436.1" cy="102.8"/><circle cx="679.7" cy="106.2"/><circle cx="496.4" cy="98.4"/><circle cx="560.5" cy="112.8"/><circle cx="501" cy="92.6"/><circle cx="430.4" cy="103.6"/><circle cx="624.1" cy="108.7"/><circle cx="387.7" cy="89.1"/><circle cx="576.1" cy="103.5"/><circle cx="456.5" cy="94.9"/><circle cx="653" cy="88.1"/><circle cx="643.9" cy="101.3"/><circle cx="518" cy="112.6"/><circle cx="569.1" cy="112.6"/><circle cx="647.2" cy="114.2"/><circle cx="368.4" cy="102.5"/><circle cx="371.3" cy="114.2"/><circle cx="667.9" cy="87.9"/><circle cx="661.3" cy="113"/><circle cx="464.7" cy="96.8"/><circle cx="514.4" cy="116.3"/><circle cx="424.4" cy="101.4"/><circle cx="585.5" cy="90.7"/><circle cx="636.6" cy="100.3"/><circle cx="468.4" cy="109.2"/><circle cx="667.8" cy="116.4"/><circle cx="406.2" cy="115.2"/><circle cx="670.1" cy="93.7"/><circle cx="671.2" cy="112"/><circle cx="565.2" cy="107.1"/><circle cx="480.6" cy="87.8"/><circle cx="646.7" cy="113.2"/><circle cx="395.3" cy="104.9"/><circle cx="367.3" cy="113.9"/><circle cx="609.5" cy="117.7"/><circle cx="556.6" cy="91.4"/><circle cx="487.8" cy="86.4"/><circle cx="675.4" cy="85.6"/><circle cx="567" cy="115.8"/><circle cx="406.7" cy="107.7"/><circle cx="522.4" cy="113"/><circle cx="550.8" cy="85.7"/><circle cx="545.5" cy="100.2"/><circle cx="495" cy="107.1"/><circle cx="500.9" cy="112.6"/><circle cx="480.6" cy="98.2"/><circle cx="606.7" cy="91.8"/><circle cx="548.8" cy="117.7"/><circle cx="656.8" cy="95.2"/><circle cx="534.8" cy="109.9"/><circle cx="487.6" cy="106.3"/><circle cx="633.2" cy="103.6"/><circle cx="455.1" cy="101.6"/><circle cx="384.8" cy="112"/><circle cx="569.5" cy="107.1"/><circle cx="444.2" cy="100.7"/><circle cx="646.4" cy="102.6"/><circle cx="657.8" cy="113.8"/><circle cx="411.2" cy="103"/><circle cx="484.8" cy="109.4"/><circle cx="549.1" cy="100.8"/><circle cx="402" cy="104.7"/><circle cx="371.7" cy="106"/><circle cx="359.7" cy="116.8"/><circle cx="662.8" cy="101.7"/><circle cx="519.3" cy="116.1"/><circle cx="501.6" cy="116.7"/><circle cx="496.1" cy="91.4"/><circle cx="457.6" cy="114.2"/><circle cx="479.4" cy="108.1"/><circle cx="431.3" cy="111.7"/><circle cx="582.4" cy="115.8"/><circle cx="383.9" cy="100.8"/><circle cx="544.5" cy="107.8"/><circle cx="533.2" cy="104.7"/><circle cx="618.8" cy="115.4"/><circle cx="541.1" cy="102.7"/><circle cx="569.3" cy="104.8"/><circle cx="679.9" cy="94.6"/><circle cx="455.3" cy="88.8"/><circle cx="446.6" cy="116.3"/><circle cx="562.7" cy="98.1"/><circle cx="661.8" cy="108.4"/><circle cx="398.8" cy="92.8"/><circle cx="424.2" cy="107.6"/><circle cx="669.5" cy="109.6"/><circle cx="434.5" cy="112.4"/><circle cx="366.1" cy="116.5"/><circle cx="374.2" cy="117.8"/><circle cx="526.1" cy="101.1"/><circle cx="557.7" cy="102.8"/><circle cx="620.2" cy="110"/><circle cx="620.6" cy="107"/><circle cx="499.3" cy="102.8"/><circle cx="510" cy="96.7"/><circle cx="395.3" cy="115.9"/><circle cx="569.3" cy="93.1"/><circle cx="467.3" cy="99.2"/><circle cx="663.7" cy="105.6"/><circle cx="631.2" cy="111.7"/><circle cx="432.8" cy="113.8"/><circle cx="584.4" cy="108.3"/><circle cx="661.8" cy="100.4"/><circle cx="627.3" cy="103.8"/><circle cx="654.4" cy="95.3"/><circle cx="539" cy="107.8"/><circle cx="553.1" cy="117.2"/><circle cx="479.9" cy="110"/><circle cx="547.1" cy="107.3"/><circle cx="618.7" cy="112"/><circle cx="460.9" cy="85.9"/><circle cx="528.6" cy="91.1"/><circle cx="670.3" cy="115.1"/><circle cx="580.2" cy="89.6"/><circle cx="461.9" cy="110.8"/><circle cx="643.2" cy="113.3"/><circle cx="584.6" cy="105.9"/><circle cx="572.9" cy="108.5"/><circle cx="523.2" cy="98.6"/><circle cx="634.8" cy="86.8"/><circle cx="496.9" cy="111.9"/><circle cx="568.4" cy="113.4"/><circle cx="521.5" cy="109.8"/><circle cx="501.8" cy="95.6"/><circle cx="557.1" cy="95.3"/><circle cx="453.4" cy="93.3"/><circle cx="378.9" cy="97.2"/><circle cx="441.5" cy="108.5"/><circle cx="398.3" cy="93.2"/><circle cx="672" cy="102.4"/><circle cx="666.2" cy="104.4"/><circle cx="657.9" cy="96.5"/><circle cx="635.9" cy="109.4"/><circle cx="422.2" cy="90"/><circle cx="577.7" cy="91.5"/><circle cx="512" cy="86.3"/><circle cx="665.3" cy="92.9"/><circle cx="364.8" cy="109.9"/><circle cx="460.1" cy="103.1"/><circle cx="578.7" cy="102.5"/><circle cx="658.7" cy="94.9"/><circle cx="649" cy="106.4"/><circle cx="546.8" cy="103"/><circle cx="640.9" cy="93.5"/><circle cx="511.3" cy="97.4"/><circle cx="464.8" cy="94.1"/><circle cx="422.6" cy="103.1"/><circle cx="551" cy="105.7"/><circle cx="574.4" cy="98.1"/><circle cx="426.3" cy="116.5"/><circle cx="670.4" cy="108.1"/><circle cx="652.9" cy="117.7"/><circle cx="579.8" cy="104"/><circle cx="413.5" cy="97.5"/><circle cx="529.4" cy="88.2"/><circle cx="373" cy="102.4"/><circle cx="602.2" cy="111.7"/><circle cx="388.2" cy="98"/><circle cx="551.8" cy="95.9"/><circle cx="505.1" cy="114.4"/><circle cx="503.9" cy="103.8"/><circle cx="398.9" cy="108"/><circle cx="657.4" cy="98.2"/><circle cx="370.7" cy="110.4"/><circle cx="554.2" cy="99.1"/><circle cx="536.8" cy="93"/><circle cx="515.2" cy="98.5"/><circle cx="621.3" cy="88.2"/><circle cx="527.7" cy="96.6"/><circle cx="453" cy="105.3"/><circle cx="591.7" cy="110.3"/><circle cx="656.4" cy="94.7"/><circle cx="458.7" cy="88.1"/><circle cx="615.6" cy="110"/><circle cx="654.6" cy="112.9"/><circle cx="367.7" cy="97.9"/><circle cx="615" cy="102.2"/><circle cx="632.5" cy="103.6"/><circle cx="558.5" cy="115.6"/><circle cx="574.3" cy="92.6"/><circle cx="454.9" cy="91"/><circle cx="565.9" cy="106.6"/><circle cx="429.8" cy="97"/><circle cx="365.5" cy="102.3"/><circle cx="492.8" cy="109.8"/><circle cx="469.6" cy="111.4"/><circle cx="650.5" cy="96.3"/><circle cx="395.2" cy="101"/><circle cx="628.8" cy="101.4"/><circle cx="400.1" cy="110.5"/><circle cx="500.7" cy="95.5"/><circle cx="514.7" cy="91.3"/><circle cx="651.6" cy="98"/><circle cx="652.2" cy="87.9"/><circle cx="431.8" cy="117.3"/><circle cx="674.7" cy="103.4"/><circle cx="448.4" cy="97.6"/><circle cx="635.5" cy="103.8"/><circle cx="423.8" cy="108.1"/><circle cx="429.3" cy="97.8"/><circle cx="525" cy="112.2"/><circle cx="372.1" cy="103.9"/><circle cx="624.6" cy="102.3"/><circle cx="406" cy="106.3"/><circle cx="397.5" cy="108.5"/><circle cx="569.9" cy="93.5"/><circle cx="450.8" cy="87.1"/><circle cx="516.4" cy="107.3"/><circle cx="575.8" cy="115.9"/><circle cx="456.7" cy="103.6"/><circle cx="418.6" cy="117.7"/><circle cx="615.4" cy="110.2"/><circle cx="445.6" cy="98.1"/><circle cx="362.4" cy="92.5"/><circle cx="428.3" cy="90.9"/><circle cx="665.1" cy="107.9"/><circle cx="370.4" cy="99.9"/><circle cx="635.7" cy="117.7"/><circle cx="420.2" cy="91.8"/><circle cx="467.2" cy="115.9"/><circle cx="528.7" cy="104.9"/><circle cx="628" cy="111.8"/><circle cx="433.8" cy="89.6"/><circle cx="446.1" cy="103.9"/><circle cx="395.4" cy="111.5"/><circle cx="410.2" cy="106.4"/><circle cx="444.1" cy="110.2"/><circle cx="535.5" cy="117.9"/><circle cx="360.7" cy="101.8"/><circle cx="567.6" cy="99"/><circle cx="563.3" cy="98.5"/><circle cx="667.2" cy="97.9"/><circle cx="559.5" cy="113.9"/><circle cx="574" cy="105.3"/><circle cx="601.5" cy="95.6"/><circle cx="599.9" cy="95.9"/><circle cx="420.5" cy="92.4"/><circle cx="382" cy="112.7"/><circle cx="649.9" cy="111.3"/><circle cx="658.1" cy="102"/><circle cx="565.7" cy="112.8"/><circle cx="654.3" cy="94.1"/><circle cx="649" cy="117.5"/><circle cx="371.5" cy="88.8"/><circle cx="640.3" cy="115.6"/><circle cx="654.9" cy="94"/><circle cx="581.2" cy="94.8"/><circle cx="674.1" cy="115.9"/><circle cx="433.5" cy="113.2"/><circle cx="486.3" cy="102.9"/><circle cx="552.4" cy="84.8"/><circle cx="426.7" cy="110"/><circle cx="658.6" cy="107.6"/><circle cx="408" cy="97.4"/><circle cx="505.2" cy="117.3"/><circle cx="389.5" cy="103.1"/><circle cx="543.9" cy="94.4"/><circle cx="408.8" cy="114.4"/><circle cx="490.7" cy="111.8"/><circle cx="515.2" cy="95.8"/><circle cx="437.8" cy="112"/><circle cx="540.5" cy="104.5"/><circle cx="603.8" cy="104.2"/><circle cx="591.1" cy="116.1"/><circle cx="433.8" cy="88.7"/><circle cx="658.5" cy="87.1"/><circle cx="469.7" cy="96.9"/><circle cx="658" cy="115.6"/><circle cx="561.2" cy="91.3"/><circle cx="626.2" cy="117.6"/><circle cx="392.2" cy="112.9"/><circle cx="462.5" cy="92.9"/><circle cx="467.9" cy="113.9"/><circle cx="601.2" cy="91.6"/><circle cx="599.6" cy="100.5"/><circle cx="627.7" cy="117.1"/><circle cx="443.7" cy="115.3"/><circle cx="566.4" cy="109.3"/><circle cx="576.3" cy="98.4"/><circle cx="616.6" cy="100.8"/><circle cx="646.5" cy="111"/><circle cx="644.9" cy="101.3"/><circle cx="592.6" cy="116.5"/><circle cx="463.1" cy="93.4"/><circle cx="424.8" cy="109"/><circle cx="448.1" cy="110.2"/><circle cx="528.2" cy="110.4"/><circle cx="653.3" cy="93.5"/><circle cx="612.1" cy="108.9"/><circle cx="472.4" cy="91.2"/><circle cx="619.8" cy="96.4"/><circle cx="593" cy="93.7"/><circle cx="628.7" cy="104.7"/><circle cx="538.5" cy="114.6"/><circle cx="392.5" cy="91.6"/><circle cx="635.3" cy="116.2"/><circle cx="483.3" cy="91.3"/><circle cx="512.8" cy="114.6"/><circle cx="412.5" cy="92.4"/><circle cx="530" cy="86.1"/><circle cx="683.7" cy="100.9"/><circle cx="505.5" cy="92"/><circle cx="577.9" cy="107.1"/><circle cx="415.1" cy="101"/><circle cx="498.3" cy="90.8"/><circle cx="369.1" cy="98.6"/><circle cx="592.8" cy="91.5"/><circle cx="630.8" cy="91"/><circle cx="524.6" cy="106.4"/><circle cx="394.5" cy="100.3"/><circle cx="622.1" cy="92.1"/><circle cx="480.6" cy="113.6"/><circle cx="473.4" cy="116.3"/><circle cx="660.6" cy="100.3"/><circle cx="502.6" cy="113.9"/><circle cx="511.6" cy="108.6"/><circle cx="600" cy="101.5"/><circle cx="660.1" cy="115.5"/><circle cx="503.8" cy="87.9"/><circle cx="611" cy="110.2"/><circle cx="481.4" cy="99"/><circle cx="614.3" cy="112.7"/><circle cx="628.3" cy="98.2"/><circle cx="576.6" cy="114.7"/><circle cx="387.1" cy="94.2"/><circle cx="503.7" cy="114.1"/><circle cx="606.3" cy="94.6"/><circle cx="657.2" cy="105.3"/><circle cx="621.3" cy="109.2"/><circle cx="492.6" cy="90.9"/><circle cx="406.1" cy="99.9"/><circle cx="582.9" cy="95.3"/><circle cx="421.5" cy="95.1"/><circle cx="504.1" cy="107.6"/><circle cx="587.1" cy="85.7"/><circle cx="550.1" cy="116.1"/><circle cx="637.4" cy="95.5"/><circle cx="548.2" cy="106.3"/><circle cx="538" cy="92.2"/><circle cx="603.6" cy="103.9"/><circle cx="681.1" cy="84.7"/><circle cx="626" cy="114.4"/><circle cx="623.9" cy="89.8"/><circle cx="370.4" cy="96.9"/><circle cx="423.8" cy="109.7"/><circle cx="598.2" cy="113.7"/><circle cx="561.5" cy="99.6"/><circle cx="372.2" cy="97.6"/><circle cx="658.3" cy="114.7"/><circle cx="437.8" cy="117.7"/><circle cx="554.1" cy="96.2"/><circle cx="421" cy="97.1"/><circle cx="410.2" cy="115.2"/><circle cx="607.2" cy="95.1"/><circle cx="564.4" cy="117.9"/><circle cx="384" cy="110"/><circle cx="557.1" cy="115.1"/><circle cx="638.6" cy="90.1"/><circle cx="630.1" cy="117.2"/><circle cx="470.4" cy="92.6"/><circle cx="495.1" cy="103.7"/><circle cx="474.9" cy="100"/><circle cx="660.6" cy="87.3"/><circle cx="657" cy="97.4"/><circle cx="508.1" cy="114.3"/><circle cx="426.2" cy="108.8"/><circle cx="442.8" cy="94.4"/><circle cx="651.4" cy="99.6"/><circle cx="453" cy="98.3"/><circle cx="657.4" cy="104.7"/><circle cx="669.2" cy="86.5"/><circle cx="672.4" cy="115.3"/><circle cx="606.8" cy="106.5"/><circle cx="524.3" cy="114.9"/><circle cx="394.4" cy="94.9"/><circle cx="633" cy="111"/><circle cx="369.9" cy="105.7"/><circle cx="586.2" cy="107.5"/><circle cx="380.2" cy="114"/><circle cx="576.4" cy="105"/><circle cx="540.3" cy="104.1"/><circle cx="411.1" cy="100.4"/><circle cx="533.3" cy="92.6"/><circle cx="526.4" cy="92.9"/><circle cx="454.1" cy="110.6"/><circle cx="623.8" cy="94.1"/><circle cx="619.7" cy="96.6"/><circle cx="481.4" cy="114.8"/><circle cx="380.4" cy="107.3"/><circle cx="474.2" cy="102.1"/><circle cx="436" cy="85"/><circle cx="489.5" cy="115.3"/><circle cx="602" cy="91.8"/><circle cx="421.3" cy="86.1"/><circle cx="549.7" cy="91.1"/><circle cx="645.2" cy="110.1"/><circle cx="430" cy="109.7"/><circle cx="375.2" cy="108.4"/><circle cx="462.4" cy="90.6"/><circle cx="479.9" cy="98.6"/><circle cx="541.8" cy="89.2"/><circle cx="421.6" cy="105.1"/><circle cx="557" cy="95.6"/><circle cx="599.8" cy="92.9"/><circle cx="647.6" cy="89.7"/><circle cx="609.4" cy="91.6"/><circle cx="541.1" cy="104.8"/><circle cx="660.7" cy="93.1"/><circle cx="603.1" cy="107.4"/><circle cx="521.6" cy="108.3"/><circle cx="536.3" cy="107.1"/><circle cx="397" cy="116.1"/><circle cx="444.7" cy="104.5"/><circle cx="592.6" cy="95.2"/><circle cx="577.9" cy="114.4"/><circle cx="572.5" cy="86.7"/><circle cx="611.8" cy="107.5"/><circle cx="512.8" cy="117.4"/><circle cx="481.3" cy="109.1"/><circle cx="683.4" cy="86"/><circle cx="453.4" cy="115.4"/><circle cx="407.3" cy="94.8"/><circle cx="561.9" cy="108.7"/><circle cx="373.5" cy="93.1"/><circle cx="641.8" cy="103.4"/><circle cx="511.7" cy="107.7"/><circle cx="607" cy="111.9"/><circle cx="376.4" cy="101.5"/><circle cx="514.2" cy="100.5"/><circle cx="507.5" cy="87.9"/><circle cx="493.8" cy="99.4"/><circle cx="578" cy="90.9"/><circle cx="630.3" cy="113.4"/><circle cx="367.6" cy="107.4"/><circle cx="607.1" cy="100"/><circle cx="432" cy="93.6"/><circle cx="534.5" cy="117.3"/><circle cx="430.6" cy="87.3"/><circle cx="585.3" cy="104.6"/><circle cx="677.5" cy="103.2"/><circle cx="558.1" cy="111.8"/><circle cx="389.3" cy="102.5"/><circle cx="627.4" cy="94"/><circle cx="474" cy="103.6"/><circle cx="655.4" cy="102.7"/><circle cx="392.3" cy="107.2"/><circle cx="429.7" cy="97.8"/><circle cx="641.2" cy="91.2"/><circle cx="484.7" cy="114.6"/><circle cx="524.5" cy="116"/><circle cx="560.2" cy="101.8"/><circle cx="646.7" cy="105.6"/><circle cx="628.5" cy="100.9"/><circle cx="556" cy="107.6"/><circle cx="468.1" cy="97.7"/><circle cx="573.6" cy="91.9"/><circle cx="404.7" cy="111.6"/><circle cx="599.1" cy="90.1"/><circle cx="458.7" cy="92.7"/><circle cx="524.8" cy="108.9"/><circle cx="437.8" cy="95.6"/><circle cx="573.2" cy="93.2"/><circle cx="588.2" cy="85.5"/><circle cx="545.2" cy="113.2"/><circle cx="527.6" cy="113.8"/><circle cx="595.1" cy="101"/><circle cx="544.3" cy="99.2"/><circle cx="535.5" cy="85.7"/><circle cx="558.3" cy="101.9"/><circle cx="620.7" cy="100.7"/><circle cx="539.3" cy="100"/><circle cx="457.2" cy="87.2"/><circle cx="579.8" cy="93.8"/><circle cx="518.9" cy="95.1"/><circle cx="469.4" cy="112.8"/><circle cx="561.9" cy="90.6"/><circle cx="420.5" cy="93.3"/><circle cx="511.1" cy="94.6"/><circle cx="396.1" cy="100.7"/><circle cx="590.3" cy="109.8"/><circle cx="619.5" cy="94.9"/><circle cx="388.5" cy="86.5"/><circle cx="539.2" cy="95.7"/><circle cx="375.5" cy="87.7"/><circle cx="549.9" cy="115.5"/><circle cx="606" cy="102.7"/><circle cx="495.5" cy="98.3"/><circle cx="472.6" cy="97.3"/><circle cx="427.2" cy="117.8"/><circle cx="560.1" cy="95.8"/><circle cx="469.7" cy="101"/><circle cx="499.1" cy="113.5"/><circle cx="649.7" cy="93.5"/><circle cx="615.1" cy="102"/><circle cx="678.5" cy="99.6"/><circle cx="508.8" cy="87.1"/><circle cx="628.1" cy="117.4"/><circle cx="633.4" cy="104.8"/><circle cx="558.7" cy="94.8"/><circle cx="437.5" cy="90.8"/><circle cx="564.4" cy="90.4"/><circle cx="603.6" cy="114.5"/><circle cx="394.8" cy="104.7"/><circle cx="425.3" cy="91.8"/><circle cx="446.4" cy="103.5"/><circle cx="561.8" cy="96.1"/><circle cx="540.9" cy="103.9"/><circle cx="623.6" cy="91.8"/><circle cx="398.4" cy="115.7"/><circle cx="478.7" cy="114.9"/><circle cx="465.5" cy="98.6"/><circle cx="477.8" cy="96.6"/><circle cx="636" cy="99.6"/><circle cx="583" cy="103.1"/><circle cx="491.6" cy="104.2"/><circle cx="660.1" cy="112.4"/><circle cx="570.3" cy="105.8"/><circle cx="427.2" cy="111.2"/><circle cx="442.4" cy="108.6"/><circle cx="463.6" cy="91.8"/><circle cx="636.8" cy="101.7"/><circle cx="477.3" cy="107.8"/><circle cx="580.8" cy="91"/><circle cx="435.2" cy="111"/><circle cx="601.4" cy="104.1"/><circle cx="478.8" cy="96"/><circle cx="478.3" cy="101.9"/><circle cx="408.7" cy="113.7"/><circle cx="551.6" cy="97.5"/><circle cx="572.1" cy="114.9"/><circle cx="361.2" cy="100.4"/><circle cx="410" cy="102.5"/><circle cx="398.3" cy="84.6"/><circle cx="376.1" cy="96.5"/><circle cx="430.7" cy="98.8"/><circle cx="383.6" cy="105.6"/><circle cx="384.2" cy="105.8"/><circle cx="545.9" cy="88.8"/><circle cx="370.7" cy="102.9"/><circle cx="417.5" cy="116.2"/><circle cx="366.9" cy="97.7"/><circle cx="595.1" cy="111.7"/><circle cx="561.5" cy="117.8"/><circle cx="448.3" cy="109.3"/><circle cx="389.2" cy="106.8"/><circle cx="487.5" cy="111.3"/><circle cx="467.5" cy="85.2"/><circle cx="436.1" cy="110.4"/><circle cx="495.4" cy="103"/><circle cx="403.1" cy="93.4"/><circle cx="512.1" cy="106.9"/><circle cx="642.4" cy="91.1"/><circle cx="617" cy="86.1"/><circle cx="368.9" cy="107.5"/><circle cx="495.9" cy="102.3"/><circle cx="524.4" cy="97.5"/><circle cx="444.6" cy="100.8"/><circle cx="418.1" cy="102.1"/><circle cx="371.1" cy="110.3"/><circle cx="550.3" cy="98.8"/><circle cx="593" cy="118"/><circle cx="624.7" cy="84.7"/><circle cx="682.4" cy="107.2"/><circle cx="458.8" cy="103.7"/><circle cx="681.3" cy="111.9"/><circle cx="524.6" cy="117.3"/><circle cx="534.1" cy="98.1"/><circle cx="492.6" cy="101.6"/><circle cx="627.6" cy="90.6"/><circle cx="544.9" cy="113.5"/><circle cx="577.9" cy="91.9"/><circle cx="379.7" cy="104.3"/><circle cx="373.2" cy="114.2"/><circle cx="511.7" cy="107.9"/><circle cx="560.5" cy="107.4"/><circle cx="636.1" cy="93.6"/><circle cx="516.5" cy="108"/><circle cx="633.6" cy="92.1"/><circle cx="682.3" cy="93.6"/><circle cx="560.6" cy="90.3"/><circle cx="606.3" cy="95.3"/><circle cx="530" cy="109.8"/><circle cx="597.3" cy="114.6"/><circle cx="382.3" cy="100.1"/><circle cx="457.1" cy="94"/><circle cx="556.6" cy="110.1"/><circle cx="417.7" cy="102.7"/><circle cx="631.8" cy="105"/><circle cx="543.1" cy="87.5"/><circle cx="405.5" cy="98.7"/><circle cx="434.2" cy="102.3"/><circle cx="548.1" cy="101.5"/><circle cx="667.6" cy="116.8"/><circle cx="423.5" cy="87.1"/><circle cx="447.3" cy="90.6"/><circle cx="443.8" cy="93.3"/><circle cx="639.3" cy="99.3"/><circle cx="642.7" cy="103.7"/><circle cx="531" cy="105.9"/><circle cx="397.1" cy="117.1"/><circle cx="585" cy="84.6"/><circle cx="646.2" cy="93.5"/><circle cx="563" cy="88.1"/><circle cx="603.3" cy="95.5"/><circle cx="489.7" cy="106.7"/><circle cx="580.4" cy="103.6"/><circle cx="459" cy="85.4"/><circle cx="608.5" cy="110.7"/><circle cx="451.2" cy="94.4"/><circle cx="409.4" cy="105"/><circle cx="601.1" cy="90.8"/><circle cx="639.3" cy="115.5"/><circle cx="563.1" cy="116.4"/><circle cx="425.1" cy="94.5"/><circle cx="459" cy="111.4"/><circle cx="566" cy="106"/><circle cx="573.8" cy="108.3"/><circle cx="680.3" cy="107.2"/><circle cx="579.1" cy="94"/><circle cx="565.6" cy="99.9"/><circle cx="400.3" cy="85"/><circle cx="516.5" cy="114.3"/><circle cx="507.9" cy="117.8"/><circle cx="401.9" cy="100.2"/><circle cx="539.9" cy="102.2"/><circle cx="620.8" cy="111"/><circle cx="421" cy="111"/><circle cx="525.9" cy="110"/><circle cx="365.5" cy="111.5"/><circle cx="431.7" cy="106.6"/><circle cx="526.3" cy="107.8"/><circle cx="509.2" cy="101.9"/><circle cx="581.4" cy="103.5"/><circle cx="674.3" cy="105.8"/><circle cx="428" cy="112.8"/><circle cx="463.9" cy="107.2"/><circle cx="680.7" cy="96.3"/><circle cx="667.8" cy="97.7"/><circle cx="543.6" cy="98.2"/><circle cx="575.7" cy="111.6"/><circle cx="560.5" cy="113.1"/><circle cx="538.9" cy="114.7"/><circle cx="665.9" cy="108.1"/><circle cx="496.5" cy="115.4"/><circle cx="596.4" cy="87.8"/><circle cx="505.5" cy="102.8"/><circle cx="682.7" cy="96.2"/><circle cx="606.3" cy="102.7"/><circle cx="615.6" cy="101.1"/><circle cx="614.2" cy="107"/><circle cx="614.2" cy="86.4"/><circle cx="533.3" cy="113.1"/><circle cx="613.3" cy="103.2"/><circle cx="605" cy="112.9"/><circle cx="622.8" cy="114.9"/><circle cx="514.7" cy="111.2"/><circle cx="565.2" cy="98.6"/><circle cx="581.5" cy="111.1"/><circle cx="406.3" cy="103.1"/><circle cx="615.2" cy="110.4"/><circle cx="437" cy="94.6"/><circle cx="382.3" cy="116.2"/><circle cx="629" cy="92.9"/><circle cx="587.5" cy="100.6"/><circle cx="546.9" cy="90"/><circle cx="435.3" cy="99.3"/><circle cx="625.9" cy="88"/><circle cx="415.3" cy="109"/><circle cx="570.8" cy="100.6"/><circle cx="381.4" cy="116.9"/><circle cx="404.1" cy="96.1"/><circle cx="474.4" cy="97.3"/><circle cx="640" cy="113.3"/><circle cx="396.7" cy="93.6"/><circle cx="521.2" cy="114.8"/><circle cx="674.6" cy="110"/><circle cx="634.3" cy="104.4"/><circle cx="467" cy="97.3"/><circle cx="520.1" cy="110.5"/><circle cx="680.3" cy="90.9"/><circle cx="658.5" cy="115"/><circle cx="639.4" cy="98.6"/><circle cx="517.9" cy="91.8"/><circle cx="382.3" cy="114.6"/><circle cx="577.6" cy="116.4"/><circle cx="510.6" cy="107.3"/><circle cx="586.2" cy="105.4"/><circle cx="412.3" cy="96.2"/><circle cx="595.4" cy="99.3"/><circle cx="644" cy="94.9"/><circle cx="514.4" cy="94.1"/><circle cx="613.8" cy="99.4"/><circle cx="558.2" cy="103.2"/><circle cx="482" cy="104.8"/><circle cx="550.3" cy="109.3"/><circle cx="617" cy="113.7"/><circle cx="460" cy="102.8"/><circle cx="525" cy="109.4"/><circle cx="642.7" cy="110.9"/><circle cx="639.9" cy="107.4"/><circle cx="522.8" cy="111.3"/><circle cx="669.4" cy="89.6"/><circle cx="493.2" cy="103.7"/><circle cx="363.1" cy="91.9"/><circle cx="371.4" cy="110.6"/><circle cx="378.1" cy="117.7"/><circle cx="361.1" cy="99.3"/><circle cx="446" cy="98.1"/><circle cx="375.4" cy="88.6"/><circle cx="448.5" cy="87.1"/><circle cx="663.5" cy="94.4"/><circle cx="658.1" cy="96.9"/><circle cx="480.7" cy="85.5"/><circle cx="621.8" cy="104.4"/><circle cx="486.6" cy="97.9"/><circle cx="680.2" cy="94.2"/><circle cx="618.2" cy="107.4"/><circle cx="641.9" cy="100.8"/><circle cx="496.6" cy="108.4"/><circle cx="492.8" cy="100.2"/><circle cx="599.8" cy="96.6"/><circle cx="564.4" cy="116.5"/><circle cx="629.7" cy="98.6"/><circle cx="389.7" cy="109"/><circle cx="578" cy="112.7"/><circle cx="529.5" cy="101.2"/><circle cx="438.6" cy="117.7"/><circle cx="453.8" cy="115"/><circle cx="432.3" cy="105"/><circle cx="679.7" cy="90"/><circle cx="527.1" cy="87.1"/><circle cx="666.8" cy="108.3"/><circle cx="519.9" cy="98.5"/><circle cx="378.1" cy="97.8"/><circle cx="430.9" cy="95.5"/><circle cx="455.5" cy="110.2"/><circle cx="680" cy="88.6"/><circle cx="490.8" cy="97.5"/><circle cx="615.9" cy="109.6"/><circle cx="510.2" cy="85.2"/><circle cx="480.5" cy="106.5"/><circle cx="483.4" cy="105.5"/><circle cx="500.3" cy="101.6"/><circle cx="541.9" cy="88"/><circle cx="435.1" cy="94"/><circle cx="551.7" cy="102"/><circle cx="570.7" cy="103.6"/><circle cx="560.7" cy="112.9"/><circle cx="625.4" cy="111.5"/><circle cx="619.1" cy="105.1"/><circle cx="421.9" cy="115.4"/><circle cx="365.1" cy="102.3"/><circle cx="662.1" cy="117.9"/><circle cx="517.1" cy="107.9"/><circle cx="676.4" cy="88.5"/><circle cx="682.6" cy="110.2"/><circle cx="598.7" cy="93"/><circle cx="630.1" cy="85.3"/><circle cx="436.4" cy="102.9"/><circle cx="518.3" cy="117.4"/><circle cx="537" cy="108.6"/><circle cx="538.4" cy="113"/><circle cx="372.8" cy="114.1"/><circle cx="439.8" cy="86.1"/><circle cx="594.1" cy="91.1"/><circle cx="636.4" cy="86.4"/><circle cx="432" cy="94.7"/><circle cx="623.1" cy="105.4"/><circle cx="411.3" cy="101.9"/><circle cx="574.6" cy="111.9"/><circle cx="507.1" cy="91"/><circle cx="510.9" cy="112.6"/><circle cx="396.5" cy="96.3"/><circle cx="381.7" cy="111.6"/><circle cx="470.6" cy="99"/><circle cx="602.5" cy="101.3"/><circle cx="441.8" cy="99.8"/><circle cx="608.2" cy="94"/><circle cx="463.6" cy="102.3"/><circle cx="611.8" cy="97.1"/><circle cx="611.3" cy="115.9"/><circle cx="647.9" cy="105.5"/><circle cx="586.7" cy="107.3"/><circle cx="612" cy="109.1"/><circle cx="536" cy="118"/><circle cx="465.6" cy="109.6"/><circle cx="587.2" cy="91.6"/><circle cx="376.9" cy="84.7"/><circle cx="579.4" cy="106.8"/><circle cx="584.7" cy="100.9"/><circle cx="442.4" cy="95.1"/><circle cx="491.1" cy="117.9"/><circle cx="390.1" cy="110.1"/><circle cx="613.5" cy="96.6"/><circle cx="365.7" cy="93.8"/><circle cx="535.8" cy="89.5"/><circle cx="372.1" cy="111.8"/><circle cx="569.2" cy="101.7"/><circle cx="455.5" cy="88.9"/><circle cx="426.1" cy="108.2"/><circle cx="558.6" cy="113"/><circle cx="658" cy="113"/><circle cx="655.2" cy="95.6"/><circle cx="673.4" cy="93.1"/><circle cx="411.1" cy="105.5"/><circle cx="556.6" cy="104.7"/><circle cx="655.2" cy="106.3"/><circle cx="373.8" cy="87.9"/><circle cx="375.4" cy="117.5"/><circle cx="394.3" cy="103.1"/><circle cx="487.8" cy="84.6"/><circle cx="436.6" cy="102.6"/><circle cx="525.9" cy="113.2"/><circle cx="668.9" cy="93.6"/><circle cx="543.2" cy="103.3"/><circle cx="479.4" cy="117.8"/><circle cx="655" cy="91.9"/><circle cx="673.8" cy="102.7"/><circle cx="539.2" cy="115.5"/><circle cx="378" cy="96.8"/><circle cx="409.5" cy="87.8"/><circle cx="559.8" cy="107.6"/><circle cx="507.5" cy="91.4"/><circle cx="448.2" cy="105.7"/><circle cx="644.9" cy="89.3"/><circle cx="650.8" cy="114.8"/><circle cx="671.4" cy="113"/><circle cx="468.8" cy="102.7"/><circle cx="579.4" cy="104.2"/><circle cx="626.6" cy="87.3"/><circle cx="433.8" cy="98.3"/><circle cx="673.1" cy="95.7"/><circle cx="519.6" cy="107.4"/><circle cx="365.9" cy="114.2"/><circle cx="417.3" cy="114.5"/><circle cx="572.3" cy="111.5"/><circle cx="434.7" cy="103.5"/><circle cx="530.2" cy="108.5"/><circle cx="505.8" cy="115.4"/><circle cx="586.3" cy="87.3"/><circle cx="420.1" cy="109.3"/><circle cx="634.6" cy="103"/><circle cx="681.9" cy="116.3"/><circle cx="419.6" cy="117.1"/><circle cx="443" cy="92.7"/><circle cx="400.1" cy="117.5"/><circle cx="459.2" cy="103.7"/><circle cx="517" cy="106.5"/><circle cx="660.9" cy="99"/><circle cx="583.2" cy="97.4"/><circle cx="585.2" cy="107.6"/><circle cx="548.2" cy="92"/><circle cx="602.4" cy="117"/><circle cx="514.1" cy="96.3"/><circle cx="555.8" cy="105.3"/><circle cx="486.8" cy="101.6"/><circle cx="671.2" cy="98.4"/><circle cx="673.6" cy="109.3"/><circle cx="367.1" cy="101.8"/><circle cx="363.3" cy="105.7"/><circle cx="520.2" cy="113.3"/><circle cx="584.4" cy="116.2"/><circle cx="372.4" cy="87.8"/><circle cx="476.5" cy="104.9"/><circle cx="533.4" cy="113.9"/><circle cx="387.7" cy="98.5"/><circle cx="589.3" cy="88.5"/><circle cx="646.3" cy="98.3"/><circle cx="632.9" cy="111.1"/><circle cx="570.7" cy="109.7"/><circle cx="562.6" cy="107.3"/><circle cx="571" cy="117.7"/><circle cx="400.2" cy="92.9"/><circle cx="567.7" cy="111.7"/><circle cx="585" cy="117.7"/><circle cx="674.2" cy="116.1"/><circle cx="621.8" cy="105.3"/><circle cx="613.6" cy="109"/><circle cx="367.6" cy="94.7"/><circle cx="634.8" cy="116.5"/><circle cx="483.5" cy="102.2"/><circle cx="590.3" cy="86.1"/><circle cx="455.2" cy="111.1"/><circle cx="366.3" cy="99.3"/><circle cx="601.8" cy="91.3"/><circle cx="592" cy="89.6"/><circle cx="681.9" cy="106.3"/><circle cx="477.8" cy="91.2"/><circle cx="530.3" cy="92.4"/><circle cx="363.3" cy="112.1"/><circle cx="399.1" cy="94.8"/><circle cx="654.5" cy="100.3"/><circle cx="647.4" cy="92.4"/><circle cx="611.6" cy="86.2"/><circle cx="384.3" cy="100.6"/><circle cx="476" cy="109.7"/><circle cx="545.4" cy="109.6"/><circle cx="674" cy="94.8"/><circle cx="397.1" cy="90.6"/><circle cx="404.1" cy="101.5"/><circle cx="606.4" cy="93.9"/><circle cx="390.2" cy="106.7"/><circle cx="401.4" cy="84.6"/><circle cx="554.6" cy="106.1"/><circle cx="581" cy="86.1"/><circle cx="471.9" cy="110.4"/><circle cx="422.2" cy="100.7"/><circle cx="522.9" cy="86.7"/><circle cx="392" cy="87.5"/><circle cx="541.4" cy="112"/><circle cx="629" cy="87.2"/><circle cx="421.5" cy="87.5"/><circle cx="484.7" cy="93.4"/><circle cx="549.5" cy="103.6"/><circle cx="395.1" cy="110.3"/><circle cx="507.2" cy="96.5"/><circle cx="462.4" cy="89"/><circle cx="401.9" cy="95.3"/><circle cx="373.6" cy="93.6"/><circle cx="525.4" cy="90"/><circle cx="656.9" cy="109.1"/><circle cx="657.4" cy="101.6"/><circle cx="603.3" cy="116.8"/><circle cx="505.4" cy="103.3"/><circle cx="542.2" cy="116.9"/><circle cx="537" cy="95.9"/><circle cx="528.4" cy="108.3"/><circle cx="365.6" cy="99.8"/><circle cx="524.9" cy="94.1"/><circle cx="672.1" cy="112.5"/><circle cx="595.3" cy="109.9"/><circle cx="666.8" cy="103.5"/><circle cx="587.8" cy="102.6"/><circle cx="493.5" cy="85.9"/><circle cx="551.5" cy="90.2"/><circle cx="465.3" cy="97.9"/><circle cx="426.5" cy="112.4"/><circle cx="623" cy="97.3"/><circle cx="529.5" cy="92.9"/><circle cx="402.7" cy="96.4"/><circle cx="373.6" cy="84.8"/><circle cx="540.4" cy="106.3"/><circle cx="473.7" cy="109.2"/><circle cx="529.2" cy="109.9"/><circle cx="604.6" cy="111.5"/><circle cx="477.9" cy="109"/><circle cx="586.9" cy="92.7"/><circle cx="402.6" cy="89.2"/><circle cx="618.8" cy="86.8"/><circle cx="378.8" cy="93.3"/><circle cx="592.3" cy="107"/><circle cx="559.6" cy="95.2"/><circle cx="593.3" cy="97.5"/><circle cx="486.3" cy="87.7"/><circle cx="432.7" cy="106.2"/><circle cx="511" cy="106.8"/><circle cx="393.5" cy="107.3"/><circle cx="387.8" cy="104.7"/><circle cx="595.9" cy="88.8"/><circle cx="446.7" cy="90.6"/><circle cx="665.3" cy="95.5"/><circle cx="661.4" cy="85.4"/><circle cx="656.9" cy="115.9"/><circle cx="417.3" cy="103"/><circle cx="471.7" cy="105.5"/><circle cx="507.9" cy="90.4"/><circle cx="628.9" cy="101.8"/><circle cx="606.8" cy="85.8"/><circle cx="579.7" cy="101.5"/><circle cx="592.2" cy="101.2"/><circle cx="474.9" cy="107.2"/><circle cx="632.4" cy="101.1"/><circle cx="460.1" cy="104.3"/><circle cx="488.8" cy="94.8"/><circle cx="486.7" cy="113"/><circle cx="567" cy="111.6"/><circle cx="559.5" cy="107.5"/><circle cx="619.9" cy="88.1"/><circle cx="383.6" cy="107.8"/><circle cx="661.2" cy="103.8"/><circle cx="552" cy="103.4"/><circle cx="585.8" cy="90.8"/><circle cx="523.9" cy="113.2"/><circle cx="668.6" cy="87.1"/><circle cx="585.5" cy="97.4"/><circle cx="549.1" cy="91.7"/><circle cx="431.5" cy="110.7"/><circle cx="548.6" cy="100.6"/><circle cx="406.6" cy="84.6"/><circle cx="632" cy="94.4"/><circle cx="548" cy="110.4"/><circle cx="470" cy="117.7"/><circle cx="439.7" cy="110.9"/><circle cx="592.4" cy="104.7"/><circle cx="404" cy="110.5"/><circle cx="673" cy="116.4"/><circle cx="589.7" cy="89.8"/><circle cx="618.2" cy="94.3"/><circle cx="612.1" cy="97.3"/><circle cx="393.5" cy="103.1"/><circle cx="438.8" cy="101.6"/><circle cx="532.4" cy="117.9"/><circle cx="452.7" cy="91.3"/><circle cx="575" cy="100.2"/><circle cx="364.4" cy="88.4"/><circle cx="612.7" cy="103.4"/><circle cx="408.8" cy="117"/><circle cx="441.6" cy="113"/><circle cx="627.9" cy="107.8"/><circle cx="609.1" cy="96.5"/><circle cx="549.6" cy="98.6"/><circle cx="683" cy="86.8"/><circle cx="590.4" cy="117.2"/><circle cx="442.3" cy="113.7"/><circle cx="477.5" cy="97"/><circle cx="398.6" cy="109.3"/><circle cx="415.5" cy="111.5"/><circle cx="596.4" cy="89.4"/><circle cx="620" cy="94.4"/><circle cx="518" cy="103.6"/><circle cx="668.7" cy="109"/><circle cx="478.9" cy="104.4"/><circle cx="367.7" cy="117.6"/><circle cx="617.8" cy="97.1"/><circle cx="472.3" cy="87.9"/><circle cx="643.3" cy="93.8"/><circle cx="439.1" cy="103.7"/><circle cx="402.5" cy="99.7"/><circle cx="640.7" cy="98.2"/><circle cx="641.7" cy="88.9"/><circle cx="441.2" cy="100.8"/><circle cx="413.6" cy="93.9"/><circle cx="484.2" cy="93.7"/><circle cx="635.1" cy="114.9"/><circle cx="679" cy="103.6"/><circle cx="425.5" cy="116.7"/><circle cx="432.3" cy="112.9"/><circle cx="625.8" cy="102.2"/><circle cx="598.6" cy="93"/><circle cx="423.8" cy="103.3"/><circle cx="548.8" cy="102.5"/><circle cx="504" cy="108.2"/><circle cx="673.8" cy="92.2"/><circle cx="489.6" cy="95.1"/><circle cx="517.6" cy="104.1"/><circle cx="513.7" cy="88.3"/><circle cx="450.2" cy="93.3"/><circle cx="501.2" cy="94.6"/><circle cx="548.2" cy="106.9"/><circle cx="535.6" cy="107.1"/><circle cx="618.9" cy="91.6"/><circle cx="492.1" cy="88.2"/><circle cx="426.6" cy="86.8"/><circle cx="483.1" cy="109.5"/><circle cx="571.7" cy="114.5"/><circle cx="505.9" cy="92.3"/><circle cx="488.1" cy="111"/><circle cx="407.1" cy="102.6"/><circle cx="625.6" cy="88.3"/><circle cx="653.9" cy="111.4"/><circle cx="520.2" cy="111.5"/><circle cx="469.8" cy="112.3"/><circle cx="638.2" cy="111.3"/><circle cx="423.4" cy="109.7"/><circle cx="488.7" cy="108.9"/><circle cx="363.9" cy="97.9"/><circle cx="391.4" cy="95.6"/><circle cx="408.8" cy="93.8"/><circle cx="387" cy="114"/><circle cx="572.4" cy="86.7"/><circle cx="577.7" cy="100.7"/><circle cx="424.5" cy="105.4"/><circle cx="435.2" cy="113.4"/><circle cx="445.8" cy="93.8"/><circle cx="655.7" cy="116.5"/><circle cx="577.1" cy="109.6"/><circle cx="454.4" cy="91.4"/><circle cx="534.5" cy="90.1"/><circle cx="376.7" cy="99.7"/><circle cx="362.8" cy="113.7"/><circle cx="449.4" cy="114.4"/><circle cx="665.3" cy="111.1"/><circle cx="663.9" cy="116"/><circle cx="613.4" cy="94.8"/><circle cx="540.7" cy="109.5"/><circle cx="650.3" cy="105.1"/><circle cx="551" cy="95.9"/><circle cx="470.2" cy="110.5"/><circle cx="531.2" cy="109.2"/><circle cx="465" cy="105"/><circle cx="503.1" cy="116.2"/><circle cx="489" cy="111.9"/><circle cx="442.3" cy="114.9"/><circle cx="500" cy="98.9"/><circle cx="681.7" cy="95.8"/><circle cx="419.3" cy="107"/><circle cx="662.3" cy="93.9"/><circle cx="429.9" cy="114.2"/><circle cx="427.4" cy="105.3"/><circle cx="494.4" cy="107.1"/><circle cx="410.3" cy="103.3"/><circle cx="437.1" cy="113.2"/><circle cx="463" cy="117"/><circle cx="620.9" cy="102.4"/><circle cx="362.8" cy="102.7"/><circle cx="608.5" cy="115"/><circle cx="616.8" cy="111"/><circle cx="587.4" cy="92.9"/><circle cx="630.4" cy="98.8"/><circle cx="670.8" cy="99.2"/><circle cx="644.4" cy="116.7"/><circle cx="560.1" cy="95.5"/><circle cx="618.1" cy="94.9"/><circle cx="551.4" cy="110.3"/><circle cx="527.4" cy="85.5"/><circle cx="675.1" cy="85.8"/><circle cx="518.9" cy="100"/><circle cx="563.9" cy="111.7"/><circle cx="624.9" cy="115.9"/><circle cx="390.7" cy="92.4"/><circle cx="474.2" cy="107.4"/><circle cx="505.7" cy="92.4"/><circle cx="435.6" cy="93.3"/><circle cx="364.6" cy="114.7"/><circle cx="393.6" cy="104.5"/><circle cx="530.6" cy="100.3"/><circle cx="452.9" cy="116.4"/><circle cx="432.3" cy="116.2"/><circle cx="507.4" cy="85.3"/><circle cx="536.7" cy="91"/><circle cx="659.9" cy="112.4"/><circle cx="367.5" cy="116.5"/><circle cx="619" cy="111.8"/><circle cx="389.8" cy="98.4"/><circle cx="597.6" cy="98.1"/><circle cx="516.4" cy="114.4"/><circle cx="417.7" cy="108.1"/><circle cx="598.6" cy="104.9"/><circle cx="583.5" cy="93.5"/><circle cx="549.4" cy="88.7"/><circle cx="440.1" cy="87.1"/><circle cx="621" cy="95.3"/><circle cx="589.3" cy="111.6"/><circle cx="373.3" cy="115.9"/><circle cx="513.8" cy="103"/><circle cx="586.6" cy="103.4"/><circle cx="456.8" cy="110.2"/><circle cx="573.8" cy="111.1"/><circle cx="586.8" cy="113.4"/><circle cx="512.4" cy="106.9"/><circle cx="534.2" cy="99.9"/><circle cx="670" cy="92.3"/><circle cx="573.2" cy="102.7"/><circle cx="461.5" cy="99"/><circle cx="485" cy="109.2"/><circle cx="373.2" cy="89.2"/><circle cx="527" cy="93.1"/><circle cx="594.5" cy="93.5"/><circle cx="388.8" cy="108.7"/><circle cx="411.9" cy="114.5"/><circle cx="540.5" cy="91.9"/><circle cx="532.4" cy="111.9"/><circle cx="635" cy="109.3"/><circle cx="580.3" cy="84.6"/><circle cx="463.3" cy="95.8"/><circle cx="632.1" cy="94.7"/><circle cx="465.6" cy="103"/><circle cx="628.1" cy="93.5"/><circle cx="596.7" cy="87"/><circle cx="648.2" cy="106.7"/><circle cx="486.2" cy="100.8"/><circle cx="585.1" cy="97.1"/><circle cx="656.9" cy="114.3"/><circle cx="512.3" cy="116.5"/><circle cx="486.7" cy="98.4"/><circle cx="381.9" cy="91.6"/><circle cx="443.8" cy="112.1"/><circle cx="630.5" cy="112.6"/><circle cx="659.3" cy="110.8"/><circle cx="552.9" cy="91.5"/><circle cx="520.5" cy="103.4"/><circle cx="491.7" cy="110.7"/><circle cx="388.8" cy="93"/><circle cx="535.8" cy="89.5"/><circle cx="512.3" cy="105.7"/><circle cx="615" cy="93.4"/><circle cx="641.2" cy="108.5"/><circle cx="679.8" cy="104.2"/><circle cx="662.3" cy="110"/><circle cx="426.9" cy="110.9"/><circle cx="368.1" cy="112.7"/><circle cx="678.8" cy="107.4"/><circle cx="670.8" cy="107.6"/><circle cx="564.5" cy="101.9"/><circle cx="553.5" cy="111.1"/><circle cx="512" cy="112.3"/><circle cx="430.5" cy="99.8"/><circle cx="531.8" cy="116.3"/><circle cx="670" cy="102.8"/><circle cx="651.7" cy="110.2"/><circle cx="373.6" cy="101.3"/><circle cx="379" cy="96"/><circle cx="544.4" cy="100.4"/><circle cx="656.5" cy="98.2"/><circle cx="640.1" cy="101.3"/><circle cx="486.1" cy="110.2"/><circle cx="538.4" cy="110.7"/><circle cx="439.4" cy="103"/><circle cx="667.7" cy="117.1"/><circle cx="541.7" cy="108.4"/><circle cx="442.1" cy="108"/><circle cx="513.4" cy="97.1"/><circle cx="375.6" cy="103.6"/><circle cx="479.7" cy="108.7"/><circle cx="535.2" cy="89.6"/><circle cx="461" cy="116.6"/><circle cx="587.9" cy="85.5"/><circle cx="411.3" cy="98"/><circle cx="682.9" cy="113.4"/><circle cx="643.3" cy="102.9"/><circle cx="551" cy="109.8"/><circle cx="415.9" cy="106.3"/><circle cx="513.8" cy="100.3"/><circle cx="367.6" cy="115.6"/><circle cx="367.5" cy="105.1"/><circle cx="462.5" cy="108.3"/><circle cx="409.6" cy="112.6"/><circle cx="372.1" cy="105.4"/><circle cx="419.4" cy="106.5"/><circle cx="359.8" cy="105.6"/><circle cx="514.9" cy="110.3"/><circle cx="608.4" cy="93.5"/><circle cx="582.8" cy="106.2"/><circle cx="641.7" cy="114.6"/><circle cx="492.5" cy="111.4"/><circle cx="583" cy="88.4"/><circle cx="412" cy="110.6"/><circle cx="431.9" cy="99.5"/><circle cx="383.9" cy="105.3"/><circle cx="369.7" cy="113"/><circle cx="655" cy="95.2"/><circle cx="583.9" cy="104.9"/><circle cx="600.8" cy="106.9"/><circle cx="633.7" cy="106"/><circle cx="465" cy="114.4"/><circle cx="608.2" cy="92.1"/><circle cx="621.3" cy="99.4"/><circle cx="452.8" cy="88.4"/><circle cx="398.1" cy="118"/><circle cx="579.9" cy="109.9"/><circle cx="607.2" cy="111.8"/><circle cx="374" cy="96.9"/><circle cx="671.8" cy="115.9"/><circle cx="423.5" cy="109.3"/><circle cx="644.8" cy="117.4"/><circle cx="459.4" cy="103.4"/><circle cx="359.9" cy="113.8"/><circle cx="539.1" cy="99.6"/><circle cx="558.7" cy="89.4"/><circle cx="392.8" cy="95.6"/><circle cx="382" cy="102.3"/><circle cx="489" cy="115.3"/><circle cx="424.3" cy="88"/><circle cx="604" cy="97.1"/><circle cx="519.4" cy="111"/><circle cx="614.9" cy="101.2"/><circle cx="389.8" cy="89.6"/><circle cx="619.1" cy="106.6"/><circle cx="638.7" cy="89.4"/><circle cx="365.8" cy="93.2"/><circle cx="375.4" cy="115.6"/><circle cx="507.7" cy="97.7"/><circle cx="680.2" cy="113.9"/><circle cx="647.5" cy="106.9"/><circle cx="457" cy="115.4"/><circle cx="513.4" cy="96.1"/><circle cx="389.3" cy="111.2"/><circle cx="620.3" cy="107"/><circle cx="403.5" cy="112.4"/><circle cx="471.5" cy="111.7"/><circle cx="383" cy="93.5"/><circle cx="528.8" cy="117.5"/><circle cx="682.9" cy="100.6"/><circle cx="530.7" cy="114.8"/><circle cx="497.4" cy="107.8"/><circle cx="642" cy="105.7"/><circle cx="461.8" cy="89"/><circle cx="527" cy="110"/><circle cx="410.3" cy="101.2"/><circle cx="574.2" cy="103"/><circle cx="433.4" cy="95.2"/><circle cx="466.6" cy="88.2"/><circle cx="524.5" cy="104.4"/><circle cx="380.2" cy="91.8"/><circle cx="444.3" cy="86.8"/><circle cx="531.2" cy="101.2"/><circle cx="664" cy="111.5"/><circle cx="447.6" cy="90.4"/><circle cx="508.5" cy="101.9"/><circle cx="560.3" cy="85"/><circle cx="550.1" cy="92.5"/><circle cx="597.7" cy="117.8"/><circle cx="474.7" cy="94.5"/><circle cx="570.3" cy="96.6"/><circle cx="495.8" cy="95.8"/><circle cx="408" cy="114.7"/><circle cx="436.8" cy="92.9"/><circle cx="425.2" cy="116"/><circle cx="518.1" cy="106.8"/><circle cx="476" cy="98.5"/><circle cx="360.5" cy="108.8"/><circle cx="382.6" cy="102.8"/><circle cx="483.1" cy="103.9"/><circle cx="612.6" cy="88.4"/><circle cx="482.5" cy="106.6"/><circle cx="410.1" cy="99.9"/><circle cx="661.2" cy="94.4"/><circle cx="545.8" cy="86.6"/><circle cx="409.5" cy="104"/><circle cx="417.5" cy="115.6"/><circle cx="565.6" cy="93.3"/><circle cx="392.9" cy="113.9"/><circle cx="437.3" cy="104.1"/><circle cx="488" cy="104.9"/><circle cx="482.8" cy="85"/><circle cx="666" cy="97.1"/><circle cx="471.3" cy="89.7"/><circle cx="526.3" cy="96.4"/><circle cx="661.9" cy="114.2"/><circle cx="476" cy="116.7"/><circle cx="529.3" cy="88.5"/><circle cx="453.7" cy="118"/><circle cx="646.3" cy="112"/><circle cx="575.3" cy="109.3"/><circle cx="629.1" cy="88.3"/><circle cx="632.6" cy="87.8"/><circle cx="674.3" cy="113.7"/><circle cx="574.8" cy="96.3"/><circle cx="424.6" cy="87.6"/><circle cx="497.6" cy="93.4"/><circle cx="521.8" cy="110.5"/><circle cx="475.2" cy="116.9"/><circle cx="445.2" cy="89"/><circle cx="532.6" cy="91.9"/><circle cx="367.6" cy="103"/><circle cx="569.5" cy="113.7"/><circle cx="679.3" cy="93.3"/><circle cx="586.7" cy="92.5"/><circle cx="630.6" cy="97.1"/><circle cx="368.6" cy="116.8"/><circle cx="571.5" cy="86.8"/><circle cx="555.8" cy="97.1"/><circle cx="426.1" cy="103.1"/><circle cx="434.5" cy="87.2"/><circle cx="417.6" cy="115.1"/><circle cx="472.6" cy="96"/><circle cx="463.9" cy="92.9"/><circle cx="603.7" cy="85.2"/><circle cx="463.2" cy="89.5"/><circle cx="571.8" cy="112.6"/><circle cx="529.3" cy="107.3"/><circle cx="672.4" cy="102"/><circle cx="520.7" cy="106.3"/><circle cx="592.3" cy="97.1"/><circle cx="396" cy="95.8"/><circle cx="677.3" cy="99.2"/><circle cx="380.4" cy="111.9"/><circle cx="445.3" cy="104.8"/><circle cx="607.5" cy="113.3"/><circle cx="369.4" cy="115.9"/><circle cx="370.8" cy="90.5"/><circle cx="610.7" cy="91.6"/><circle cx="366.7" cy="113.2"/><circle cx="504.7" cy="99.9"/><circle cx="665" cy="91.8"/><circle cx="597.1" cy="91.1"/><circle cx="433.6" cy="100.6"/><circle cx="505.7" cy="100.2"/><circle cx="640.7" cy="100.2"/><circle cx="554.7" cy="117.6"/><circle cx="515.1" cy="101"/><circle cx="630.5" cy="109.9"/><circle cx="636.5" cy="115"/><circle cx="426" cy="97.3"/><circle cx="562.4" cy="108.1"/><circle cx="621.9" cy="85.6"/><circle cx="474.4" cy="113.5"/><circle cx="618.3" cy="112.2"/><circle cx="675.1" cy="117.1"/><circle cx="429.2" cy="116.9"/><circle cx="399.1" cy="98.4"/><circle cx="410.4" cy="96.2"/><circle cx="510.6" cy="110.8"/><circle cx="679" cy="92.5"/><circle cx="389.6" cy="113.4"/><circle cx="534.3" cy="105.4"/><circle cx="582.1" cy="87.3"/><circle cx="421.8" cy="93.3"/><circle cx="406" cy="108.6"/><circle cx="521.5" cy="113.3"/><circle cx="669" cy="111.2"/><circle cx="389" cy="106.1"/><circle cx="384.6" cy="86"/><circle cx="580.4" cy="115.7"/><circle cx="516.1" cy="88.4"/><circle cx="544" cy="109.9"/><circle cx="528.5" cy="115.1"/><circle cx="426.1" cy="98.1"/><circle cx="440.2" cy="102.2"/><circle cx="395.3" cy="100.6"/><circle cx="368.1" cy="108.7"/><circle cx="429.5" cy="116"/><circle cx="364.4" cy="93.4"/><circle cx="638.3" cy="108.5"/><circle cx="478.2" cy="95.4"/><circle cx="603.6" cy="101.5"/><circle cx="381.9" cy="94.2"/><circle cx="526.7" cy="90"/><circle cx="625.1" cy="116.3"/><circle cx="461.7" cy="116"/><circle cx="625.9" cy="93.4"/><circle cx="675.1" cy="98.6"/><circle cx="391.2" cy="95.4"/><circle cx="535.1" cy="103.6"/><circle cx="366.8" cy="106.7"/><circle cx="641.3" cy="93"/><circle cx="672.7" cy="115.9"/><circle cx="501.5" cy="98.7"/><circle cx="592.1" cy="112.5"/><circle cx="414.1" cy="112"/><circle cx="373.6" cy="85"/><circle cx="658.7" cy="90.8"/><circle cx="555.5" cy="98.9"/><circle cx="389.4" cy="96.1"/><circle cx="361.2" cy="115.9"/><circle cx="625.6" cy="89.7"/><circle cx="494.1" cy="103"/><circle cx="401.2" cy="97"/><circle cx="414.6" cy="114.7"/><circle cx="590.2" cy="107.2"/><circle cx="681.5" cy="115.8"/><circle cx="589.1" cy="101.9"/><circle cx="480.6" cy="87.3"/><circle cx="486.7" cy="106"/><circle cx="404.8" cy="111.4"/><circle cx="584.3" cy="102.4"/><circle cx="449.4" cy="94.6"/><circle cx="430.4" cy="111.4"/><circle cx="632.3" cy="96.7"/><circle cx="597.1" cy="97.8"/><circle cx="608.4" cy="99.6"/><circle cx="591.1" cy="88.7"/><circle cx="553" cy="104.9"/><circle cx="559.8" cy="101.6"/><circle cx="556.9" cy="95.2"/><circle cx="585.5" cy="102"/><circle cx="458.5" cy="99.2"/><circle cx="520.5" cy="109.3"/><circle cx="429.7" cy="107"/><circle cx="573.5" cy="116.9"/><circle cx="415.6" cy="95.6"/><circle cx="545" cy="92.4"/><circle cx="441.1" cy="94.3"/><circle cx="462.4" cy="101.1"/><circle cx="644.5" cy="89.7"/><circle cx="661.1" cy="105.9"/><circle cx="403.6" cy="102.9"/><circle cx="398.4" cy="84.6"/><circle cx="662" cy="99.7"/><circle cx="450.2" cy="95.1"/><circle cx="569.5" cy="93.1"/><circle cx="364.7" cy="102.2"/><circle cx="407.9" cy="116.2"/><circle cx="622" cy="109.2"/><circle cx="539.6" cy="106.3"/><circle cx="574" cy="100.7"/><circle cx="510.3" cy="97.8"/><circle cx="436.3" cy="90.4"/><circle cx="402.5" cy="108.1"/><circle cx="610.1" cy="92.1"/><circle cx="404" cy="98.1"/><circle cx="488.3" cy="99.1"/><circle cx="539.2" cy="97.1"/><circle cx="377.2" cy="116.6"/><circle cx="552.1" cy="109.3"/><circle cx="567.8" cy="104.1"/><circle cx="566.2" cy="94.5"/><circle cx="629.1" cy="99.3"/><circle cx="607.4" cy="112.1"/><circle cx="402.4" cy="113.7"/><circle cx="650.9" cy="116.2"/><circle cx="445.5" cy="95.7"/><circle cx="387.9" cy="108.1"/><circle cx="397" cy="96.6"/><circle cx="415.1" cy="113.9"/><circle cx="674.3" cy="110.8"/><circle cx="667.1" cy="100.4"/><circle cx="493" cy="102.7"/><circle cx="515.9" cy="100"/><circle cx="541.2" cy="101.9"/><circle cx="375.3" cy="102.3"/><circle cx="619.4" cy="89.8"/><circle cx="480.9" cy="102.6"/><circle cx="513.4" cy="97.3"/><circle cx="538.5" cy="96.9"/><circle cx="408.8" cy="85"/><circle cx="368.8" cy="92.9"/><circle cx="370.6" cy="92.3"/><circle cx="593.1" cy="93.5"/><circle cx="551.3" cy="95"/><circle cx="475.8" cy="99.6"/><circle cx="537.4" cy="87.9"/><circle cx="641.5" cy="111.5"/><circle cx="449.2" cy="109.2"/><circle cx="390" cy="92.3"/><circle cx="542.1" cy="116.9"/><circle cx="445.1" cy="106.8"/><circle cx="396.5" cy="117.8"/><circle cx="587.6" cy="110.6"/><circle cx="491.4" cy="105"/><circle cx="577.6" cy="104.1"/><circle cx="519.6" cy="96"/><circle cx="664.7" cy="86.4"/><circle cx="618.7" cy="113.4"/><circle cx="522.8" cy="114.1"/><circle cx="593.9" cy="117.3"/><circle cx="616" cy="116.8"/><circle cx="559.6" cy="107.2"/><circle cx="492.7" cy="105.8"/><circle cx="559.4" cy="100.1"/><circle cx="400.1" cy="94.7"/><circle cx="498.9" cy="103.7"/><circle cx="430.2" cy="94.7"/><circle cx="478.2" cy="86.5"/><circle cx="617.1" cy="98.4"/><circle cx="547.3" cy="86.5"/><circle cx="587.9" cy="93.4"/><circle cx="545" cy="86.3"/><circle cx="654.2" cy="107.5"/><circle cx="593.7" cy="99.6"/><circle cx="419.5" cy="107.8"/><circle cx="374.7" cy="92.4"/><circle cx="462.4" cy="112.7"/><circle cx="403.1" cy="111.3"/><circle cx="430.3" cy="115.8"/><circle cx="573.1" cy="112.5"/><circle cx="476.5" cy="91"/><circle cx="642.6" cy="102.7"/><circle cx="554.5" cy="106.6"/><circle cx="414.5" cy="114.1"/><circle cx="639.1" cy="103.3"/><circle cx="557.7" cy="107"/><circle cx="461.2" cy="89.2"/><circle cx="518.5" cy="116.9"/><circle cx="597.1" cy="90.3"/><circle cx="472.7" cy="88.1"/><circle cx="611.1" cy="117.3"/><circle cx="658.1" cy="107.3"/><circle cx="577.7" cy="110.3"/><circle cx="488.6" cy="111.3"/><circle cx="592.6" cy="103.3"/><circle cx="632.6" cy="92.2"/><circle cx="586.6" cy="99.7"/><circle cx="399.3" cy="98.9"/><circle cx="402.3" cy="100"/><circle cx="561.1" cy="99.7"/><circle cx="598.6" cy="96.2"/><circle cx="534" cy="92.8"/><circle cx="414.1" cy="93.9"/><circle cx="535.5" cy="111.5"/><circle cx="427" cy="101.4"/><circle cx="522.8" cy="96.4"/><circle cx="477.6" cy="100.9"/><circle cx="453.1" cy="92.2"/><circle cx="362.9" cy="99.2"/><circle cx="375.4" cy="102"/><circle cx="606.2" cy="103.7"/><circle cx="640.8" cy="97.8"/><circle cx="630.7" cy="93.1"/><circle cx="662" cy="117.3"/><circle cx="600.6" cy="95.2"/><circle cx="521.1" cy="114.2"/><circle cx="494.9" cy="100.2"/><circle cx="455.6" cy="85.3"/><circle cx="607.9" cy="98.1"/><circle cx="440.2" cy="110.6"/><circle cx="616.9" cy="85.5"/><circle cx="642.2" cy="88.1"/><circle cx="655" cy="95.2"/><circle cx="591.2" cy="99.6"/><circle cx="484.3" cy="85.8"/><circle cx="599.2" cy="106.5"/><circle cx="464" cy="110.4"/><circle cx="566.3" cy="117.6"/><circle cx="461.2" cy="97.7"/><circle cx="531.8" cy="92.2"/><circle cx="423.9" cy="98"/><circle cx="498.9" cy="95.3"/><circle cx="424.5" cy="102.1"/><circle cx="551.8" cy="99.7"/><circle cx="615.2" cy="85.2"/><circle cx="564.1" cy="85.7"/><circle cx="517.4" cy="95.1"/><circle cx="550" cy="89.7"/><circle cx="374.6" cy="113.6"/><circle cx="520.4" cy="110.1"/><circle cx="561" cy="109.7"/><circle cx="646.4" cy="96.5"/><circle cx="679.4" cy="90.4"/><circle cx="655.6" cy="92.5"/><circle cx="556.2" cy="103"/><circle cx="486.7" cy="111.6"/><circle cx="393.8" cy="99"/><circle cx="655" cy="105.3"/><circle cx="630.4" cy="101.5"/><circle cx="402.4" cy="96.5"/><circle cx="545.3" cy="100.7"/><circle cx="677.4" cy="115.7"/><circle cx="600.1" cy="99.5"/><circle cx="425.6" cy="96.4"/><circle cx="421.6" cy="88.8"/><circle cx="599.1" cy="115.3"/><circle cx="609.9" cy="111.7"/><circle cx="364.3" cy="103.4"/><circle cx="506.1" cy="95.6"/><circle cx="612" cy="92.8"/><circle cx="493.2" cy="86.3"/><circle cx="513.8" cy="99.5"/><circle cx="679.9" cy="102.2"/><circle cx="669" cy="92.7"/><circle cx="444.1" cy="103.6"/><circle cx="411.5" cy="90.8"/><circle cx="418.7" cy="98.9"/><circle cx="445.6" cy="99.7"/><circle cx="533.3" cy="95.1"/><circle cx="613.8" cy="114"/><circle cx="550.5" cy="99.6"/><circle cx="581.2" cy="103.2"/><circle cx="636" cy="93.2"/><circle cx="371" cy="108.6"/><circle cx="541.8" cy="98.7"/><circle cx="437.6" cy="106.5"/><circle cx="560.9" cy="106"/><circle cx="496.9" cy="113.6"/><circle cx="474.7" cy="117.3"/><circle cx="467.5" cy="87.4"/><circle cx="512.3" cy="114.4"/><circle cx="564.8" cy="115.9"/><circle cx="408.8" cy="94.5"/><circle cx="525.5" cy="87.1"/><circle cx="568.8" cy="90.9"/><circle cx="539.4" cy="92.7"/><circle cx="651.8" cy="106.6"/><circle cx="471.2" cy="97.2"/><circle cx="584.3" cy="93.2"/><circle cx="521.3" cy="88.9"/><circle cx="595.6" cy="86.9"/><circle cx="418.9" cy="95.4"/><circle cx="669.1" cy="102.7"/><circle cx="608.5" cy="109.8"/><circle cx="463.6" cy="101.9"/><circle cx="487.4" cy="96"/><circle cx="669" cy="98.6"/><circle cx="492.1" cy="97.2"/><circle cx="553.6" cy="117.1"/><circle cx="411.9" cy="110.3"/><circle cx="599.3" cy="110.9"/><circle cx="570" cy="88.2"/><circle cx="638.1" cy="115.2"/><circle cx="390.4" cy="116.4"/><circle cx="380.7" cy="92.7"/><circle cx="614.5" cy="85.7"/><circle cx="433" cy="91.9"/><circle cx="672.9" cy="112.1"/><circle cx="474.6" cy="94.5"/><circle cx="512.9" cy="103.1"/><circle cx="555.4" cy="90.4"/><circle cx="528.7" cy="86.6"/><circle cx="411.4" cy="103.9"/><circle cx="575.3" cy="101"/><circle cx="362.2" cy="101"/><circle cx="664.6" cy="89.7"/><circle cx="458.5" cy="92.7"/><circle cx="501.8" cy="98.3"/><circle cx="564.4" cy="117.9"/><circle cx="503.1" cy="95.2"/><circle cx="408.7" cy="100"/><circle cx="565.7" cy="109.9"/><circle cx="410.9" cy="94.7"/><circle cx="555.5" cy="117.8"/><circle cx="633.9" cy="92.5"/><circle cx="601.9" cy="96.6"/><circle cx="601.6" cy="96.3"/><circle cx="402.5" cy="111"/><circle cx="609" cy="102.7"/><circle cx="477.4" cy="94"/><circle cx="502.2" cy="86.5"/><circle cx="627.4" cy="116.2"/><circle cx="595.2" cy="110.4"/><circle cx="675.3" cy="108.4"/><circle cx="657.3" cy="110.1"/><circle cx="473" cy="106.8"/><circle cx="531.5" cy="103.5"/><circle cx="424.7" cy="115.1"/><circle cx="403.1" cy="114.4"/><circle cx="451.8" cy="93.2"/><circle cx="453.2" cy="98.7"/><circle cx="643.9" cy="106"/><circle cx="427.7" cy="98.5"/><circle cx="530.9" cy="100.7"/><circle cx="526.9" cy="104.9"/><circle cx="432.4" cy="89.9"/><circle cx="579.2" cy="92.8"/><circle cx="435.7" cy="106.3"/><circle cx="559" cy="104.8"/><circle cx="562" cy="97.9"/><circle cx="391.8" cy="86.9"/><circle cx="383.3" cy="108.5"/><circle cx="365.2" cy="98.6"/><circle cx="448.1" cy="105.8"/><circle cx="373" cy="96.6"/><circle cx="486.6" cy="103.2"/><circle cx="579.9" cy="87.4"/><circle cx="452" cy="108.2"/><circle cx="676.7" cy="101.7"/><circle cx="606.7" cy="92.9"/><circle cx="409.2" cy="93.6"/><circle cx="468.1" cy="92.7"/><circle cx="365.9" cy="107.6"/><circle cx="436.6" cy="103.4"/><circle cx="611.1" cy="94.2"/><circle cx="373.6" cy="106.5"/><circle cx="496.4" cy="103.8"/><circle cx="414.5" cy="98.2"/><circle cx="396.4" cy="104.3"/><circle cx="424.8" cy="97.9"/><circle cx="501.5" cy="91.8"/><circle cx="470" cy="100.2"/><circle cx="427.8" cy="91.9"/><circle cx="457.1" cy="92.3"/><circle cx="369.9" cy="92.4"/><circle cx="655.7" cy="100.4"/><circle cx="457.3" cy="97.7"/><circle cx="481.9" cy="109.1"/><circle cx="591" cy="101.3"/><circle cx="610.8" cy="107.6"/><circle cx="528.1" cy="113.9"/><circle cx="410" cy="101.5"/><circle cx="650.3" cy="112"/><circle cx="509.7" cy="110.1"/><circle cx="667.5" cy="104.1"/><circle cx="434.2" cy="115.1"/><circle cx="477.7" cy="115.2"/><circle cx="371.7" cy="91.1"/><circle cx="556.2" cy="96.1"/><circle cx="471.7" cy="104.4"/><circle cx="514.7" cy="106"/><circle cx="573.9" cy="92.4"/><circle cx="531.1" cy="88.4"/><circle cx="673.8" cy="100.9"/><circle cx="469.8" cy="117.4"/><circle cx="400.3" cy="111.8"/><circle cx="532.6" cy="110.2"/><circle cx="388.8" cy="92.6"/><circle cx="642.1" cy="91.5"/><circle cx="628" cy="113.8"/><circle cx="586.2" cy="92.3"/><circle cx="620.2" cy="98.4"/><circle cx="442.3" cy="116.4"/><circle cx="513.5" cy="95.7"/><circle cx="608.5" cy="115.8"/><circle cx="391.5" cy="88.4"/><circle cx="403.5" cy="90.1"/><circle cx="647.7" cy="114.3"/><circle cx="522.1" cy="104.8"/><circle cx="380.2" cy="85.5"/><circle cx="458.6" cy="99.3"/><circle cx="552.9" cy="108.2"/><circle cx="499.4" cy="93.5"/><circle cx="672.3" cy="90.8"/><circle cx="509.6" cy="90.2"/><circle cx="649.4" cy="117.8"/><circle cx="522.7" cy="106.1"/><circle cx="539.9" cy="103"/><circle cx="646.8" cy="108.6"/><circle cx="441.4" cy="114"/><circle cx="474.4" cy="104.4"/><circle cx="519.3" cy="86"/><circle cx="389.1" cy="109"/><circle cx="681.2" cy="94.4"/><circle cx="679.6" cy="101.1"/><circle cx="487.2" cy="105.8"/><circle cx="549.7" cy="103"/><circle cx="629.5" cy="114.9"/><circle cx="643.2" cy="112.4"/><circle cx="478.1" cy="108.6"/><circle cx="395.9" cy="101.1"/><circle cx="644.9" cy="101.1"/><circle cx="412" cy="116"/><circle cx="458" cy="110.6"/><circle cx="500" cy="104.8"/><circle cx="609.7" cy="108.5"/><circle cx="388.2" cy="100.4"/><circle cx="433.1" cy="105.2"/><circle cx="557.2" cy="114.4"/><circle cx="642.9" cy="116.1"/><circle cx="382.9" cy="100.4"/><circle cx="644.4" cy="97"/><circle cx="372.1" cy="108.6"/><circle cx="637.5" cy="110.8"/><circle cx="458.8" cy="115.1"/><circle cx="386.5" cy="108.6"/><circle cx="386.5" cy="115.6"/><circle cx="607.8" cy="115.4"/><circle cx="378.2" cy="109.7"/><circle cx="516.5" cy="99.5"/><circle cx="605.6" cy="117.5"/><circle cx="633.2" cy="103"/><circle cx="368" cy="115.4"/><circle cx="485" cy="97.4"/><circle cx="581.8" cy="101.7"/><circle cx="631.6" cy="90"/><circle cx="388.8" cy="101.2"/><circle cx="645.4" cy="113.8"/><circle cx="497.1" cy="95.5"/><circle cx="568.2" cy="85.1"/><circle cx="490.2" cy="97.5"/><circle cx="510.3" cy="98.6"/><circle cx="646.9" cy="113.2"/><circle cx="516.8" cy="116.1"/><circle cx="400.8" cy="110.4"/><circle cx="362.5" cy="89.7"/><circle cx="551.3" cy="104.8"/><circle cx="562.9" cy="108.8"/><circle cx="386.1" cy="110.2"/><circle cx="591" cy="87.3"/><circle cx="513.7" cy="90.7"/><circle cx="543.7" cy="97.7"/><circle cx="392.5" cy="115.1"/><circle cx="465.3" cy="104.8"/><circle cx="555.2" cy="110.8"/><circle cx="588.5" cy="92.2"/><circle cx="374.5" cy="114.6"/><circle cx="611.6" cy="100.3"/><circle cx="602.3" cy="114.4"/><circle cx="523.7" cy="115.8"/><circle cx="598.8" cy="110.8"/><circle cx="657.6" cy="116.7"/><circle cx="627.7" cy="111.2"/><circle cx="459.5" cy="102.7"/><circle cx="655" cy="100.9"/><circle cx="635.8" cy="86.6"/><circle cx="624.4" cy="96.5"/><circle cx="618.9" cy="89.4"/><circle cx="482.3" cy="87.9"/><circle cx="594.6" cy="105.9"/><circle cx="380.1" cy="105.4"/><circle cx="575" cy="101.3"/><circle cx="628.1" cy="107.3"/><circle cx="531" cy="108.3"/><circle cx="636.8" cy="112.7"/><circle cx="540.3" cy="104.4"/><circle cx="503.1" cy="104"/><circle cx="385.8" cy="94"/><circle cx="649.3" cy="95.4"/><circle cx="388.6" cy="101.9"/><circle cx="439" cy="105.8"/><circle cx="573.2" cy="113.8"/><circle cx="631.1" cy="109.8"/><circle cx="555" cy="92.3"/><circle cx="491.8" cy="102.3"/><circle cx="635.9" cy="94.6"/><circle cx="371.8" cy="106"/><circle cx="372.3" cy="111.3"/><circle cx="461.7" cy="108.5"/><circle cx="394.3" cy="107.4"/><circle cx="520.5" cy="95.8"/><circle cx="520.2" cy="111.7"/><circle cx="481.5" cy="90.6"/><circle cx="475.7" cy="85.5"/><circle cx="624.9" cy="103"/><circle cx="680.6" cy="105.5"/><circle cx="645.6" cy="98.9"/><circle cx="658.4" cy="97.8"/><circle cx="377.5" cy="100"/><circle cx="637.5" cy="114.9"/><circle cx="678.6" cy="104.4"/><circle cx="566.8" cy="116.6"/><circle cx="461.3" cy="104.2"/><circle cx="534.6" cy="99.6"/><circle cx="520.6" cy="100.5"/><circle cx="464.3" cy="95.4"/><circle cx="517.4" cy="112.6"/><circle cx="636" cy="104.6"/><circle cx="660.8" cy="103.6"/><circle cx="672" cy="95.7"/><circle cx="486.5" cy="96.5"/><circle cx="560.8" cy="99"/><circle cx="536.4" cy="109"/><circle cx="379.3" cy="112.1"/><circle cx="465.9" cy="107.8"/><circle cx="555" cy="106.1"/><circle cx="604.5" cy="110.2"/><circle cx="476.4" cy="94"/><circle cx="428.2" cy="86.9"/><circle cx="362.5" cy="105.5"/><circle cx="542.9" cy="115.4"/><circle cx="493.8" cy="98.6"/><circle cx="673.9" cy="91.1"/><circle cx="374" cy="107.3"/><circle cx="361.8" cy="101.5"/><circle cx="629.6" cy="100.1"/><circle cx="427.1" cy="90.6"/><circle cx="587.5" cy="110"/><circle cx="595.1" cy="104.4"/><circle cx="641.5" cy="111.8"/><circle cx="549.4" cy="96.6"/><circle cx="653.1" cy="106.6"/><circle cx="528.2" cy="109"/><circle cx="489.6" cy="102.8"/><circle cx="374.6" cy="112"/><circle cx="475.2" cy="92.8"/><circle cx="641.7" cy="107.2"/><circle cx="565.9" cy="96.6"/><circle cx="469.6" cy="100.8"/><circle cx="456.9" cy="116.5"/><circle cx="649.9" cy="108.9"/><circle cx="390" cy="109.2"/><circle cx="489.6" cy="104.3"/><circle cx="612" cy="98.2"/><circle cx="598.4" cy="95.3"/><circle cx="663.8" cy="107.8"/><circle cx="502.8" cy="110.2"/><circle cx="451.4" cy="114.1"/><circle cx="377.2" cy="105.4"/><circle cx="677.9" cy="113"/><circle cx="525.7" cy="117.1"/><circle cx="542.5" cy="103.2"/><circle cx="594.7" cy="92.3"/><circle cx="405.7" cy="109"/><circle cx="520.3" cy="104.7"/><circle cx="422.4" cy="116.2"/><circle cx="554.2" cy="92.1"/><circle cx="502.3" cy="101.5"/><circle cx="448.7" cy="104.4"/><circle cx="430.5" cy="99.5"/><circle cx="469.9" cy="92.9"/><circle cx="558" cy="107.2"/><circle cx="498.4" cy="95.7"/><circle cx="450" cy="91.8"/><circle cx="598.5" cy="94.9"/><circle cx="502.7" cy="89.1"/><circle cx="397.4" cy="97"/><circle cx="476.2" cy="116.4"/><circle cx="588.5" cy="91.8"/><circle cx="489.3" cy="93.4"/><circle cx="455.6" cy="92.2"/><circle cx="422.9" cy="105.4"/><circle cx="448" cy="89.6"/><circle cx="429.5" cy="111.1"/><circle cx="655.2" cy="99.4"/><circle cx="415.5" cy="109.5"/><circle cx="538.6" cy="98.3"/><circle cx="489.2" cy="96.3"/><circle cx="594.8" cy="100.7"/><circle cx="442.7" cy="92.2"/><circle cx="430.9" cy="90.6"/><circle cx="480.1" cy="107"/><circle cx="464.4" cy="89.2"/><circle cx="481" cy="90"/><circle cx="640.7" cy="92"/><circle cx="584.8" cy="106.3"/><circle cx="524.4" cy="94.6"/><circle cx="633.7" cy="90.3"/><circle cx="540.3" cy="86.5"/><circle cx="537.6" cy="117.3"/><circle cx="515.6" cy="115.4"/><circle cx="408.3" cy="114.7"/><circle cx="648.5" cy="95"/><circle cx="573.1" cy="112.9"/><circle cx="481.9" cy="93"/><circle cx="576.9" cy="116.4"/><circle cx="627.4" cy="87.8"/><circle cx="407.4" cy="111.3"/><circle cx="645" cy="95.5"/><circle cx="500" cy="110.8"/><circle cx="625.1" cy="86.4"/><circle cx="514.2" cy="111"/><circle cx="445.1" cy="112.6"/><circle cx="642.4" cy="103"/><circle cx="526.7" cy="106.8"/><circle cx="572.6" cy="102.5"/><circle cx="451" cy="92.6"/><circle cx="652.2" cy="101.1"/><circle cx="537.4" cy="106.6"/><circle cx="383.1" cy="94.1"/><circle cx="582.7" cy="110.8"/><circle cx="606.2" cy="112.9"/><circle cx="534.1" cy="88.2"/><circle cx="651.2" cy="114.8"/><circle cx="534.2" cy="112.1"/><circle cx="564.3" cy="111.3"/><circle cx="415.3" cy="115.5"/><circle cx="667.3" cy="102"/><circle cx="535.4" cy="93.5"/><circle cx="491.3" cy="95.5"/><circle cx="460.7" cy="112.8"/><circle cx="395.1" cy="88.1"/><circle cx="617.1" cy="97.9"/><circle cx="541.3" cy="116.6"/><circle cx="635.2" cy="116"/><circle cx="412.3" cy="109.6"/><circle cx="402.2" cy="111.2"/><circle cx="544.6" cy="113.6"/><circle cx="629.3" cy="116.4"/><circle cx="497" cy="101"/><circle cx="400.9" cy="89.5"/><circle cx="529.9" cy="114"/><circle cx="476.9" cy="115.9"/><circle cx="492.5" cy="92.2"/><circle cx="609.1" cy="92.9"/><circle cx="443.6" cy="96.5"/><circle cx="629.2" cy="113.3"/><circle cx="619.4" cy="89.9"/><circle cx="418.5" cy="105.1"/><circle cx="397.7" cy="98"/><circle cx="509" cy="96.4"/><circle cx="428.3" cy="93"/><circle cx="385.6" cy="98.8"/><circle cx="507.8" cy="94.4"/><circle cx="557.3" cy="109"/><circle cx="555" cy="100.7"/><circle cx="459.9" cy="109"/><circle cx="506.7" cy="111.7"/><circle cx="679.6" cy="94.1"/><circle cx="497.7" cy="117.3"/><circle cx="585.9" cy="105.2"/><circle cx="615.3" cy="85.4"/><circle cx="642" cy="100.9"/><circle cx="582.4" cy="108"/><circle cx="597" cy="98.8"/><circle cx="505.5" cy="102.7"/><circle cx="678" cy="101.7"/><circle cx="522.7" cy="111"/><circle cx="445.5" cy="101.9"/><circle cx="663.2" cy="91.5"/><circle cx="609.8" cy="110.6"/><circle cx="581.2" cy="91.8"/><circle cx="662.4" cy="117.8"/><circle cx="405.1" cy="114.8"/><circle cx="467.6" cy="91.4"/><circle cx="602.3" cy="89.6"/><circle cx="472.1" cy="115.2"/><circle cx="631.9" cy="91.9"/><circle cx="420.5" cy="89.8"/><circle cx="493.3" cy="109.9"/><circle cx="636.1" cy="90.2"/><circle cx="445.5" cy="106.5"/><circle cx="414.1" cy="87"/><circle cx="524.5" cy="90"/><circle cx="546.2" cy="110.1"/><circle cx="463.2" cy="109.5"/><circle cx="595.3" cy="107.1"/><circle cx="616.7" cy="96.1"/><circle cx="481.7" cy="93.9"/><circle cx="418.1" cy="109.8"/><circle cx="676.5" cy="98.4"/><circle cx="490.2" cy="89.4"/><circle cx="422.7" cy="111.6"/><circle cx="632.1" cy="93"/><circle cx="522.2" cy="107.2"/><circle cx="562.6" cy="115.9"/><circle cx="508.7" cy="85.5"/><circle cx="563.4" cy="113.3"/><circle cx="393.2" cy="109.4"/><circle cx="430.7" cy="116.2"/><circle cx="574.8" cy="111.1"/><circle cx="528.3" cy="96.4"/><circle cx="418.6" cy="106.1"/><circle cx="631.1" cy="110.6"/><circle cx="606" cy="116.8"/><circle cx="500.5" cy="110.1"/><circle cx="650.8" cy="114.2"/><circle cx="604.2" cy="101.4"/><circle cx="510.7" cy="104.7"/><circle cx="485.1" cy="92.7"/><circle cx="386.1" cy="99.7"/><circle cx="558.3" cy="107.3"/><circle cx="384.8" cy="96"/><circle cx="425.8" cy="108.4"/><circle cx="533.3" cy="104.2"/><circle cx="542.9" cy="92.6"/><circle cx="528.7" cy="95.5"/><circle cx="521.1" cy="114.9"/><circle cx="396" cy="108.2"/><circle cx="449.5" cy="116.1"/><circle cx="648.9" cy="108.2"/><circle cx="509.9" cy="91.7"/><circle cx="586.6" cy="103.9"/><circle cx="392.4" cy="91.1"/><circle cx="424.9" cy="98.3"/><circle cx="618.3" cy="110.3"/><circle cx="389.4" cy="107.7"/><circle cx="618.4" cy="101.1"/><circle cx="465.9" cy="92.9"/><circle cx="627.2" cy="106.7"/><circle cx="510.4" cy="111.6"/><circle cx="368" cy="93.5"/><circle cx="680.7" cy="90"/><circle cx="466.5" cy="112.3"/><circle cx="454" cy="96.1"/><circle cx="418.8" cy="116.4"/><circle cx="616.7" cy="97.8"/><circle cx="679.8" cy="114.4"/><circle cx="607.9" cy="88.8"/><circle cx="372.8" cy="102.8"/><circle cx="643.6" cy="109.1"/><circle cx="623.1" cy="115.8"/><circle cx="615.6" cy="105.1"/><circle cx="592.4" cy="92.5"/><circle cx="409.5" cy="105.8"/><circle cx="546.7" cy="92.9"/><circle cx="613.4" cy="110.8"/><circle cx="487.5" cy="90.5"/><circle cx="494.9" cy="91.5"/><circle cx="478.4" cy="94.1"/><circle cx="573.8" cy="90"/><circle cx="371.3" cy="108.1"/><circle cx="650.6" cy="98.8"/><circle cx="584.5" cy="96.2"/><circle cx="653.2" cy="91.2"/><circle cx="469.8" cy="108"/><circle cx="571.7" cy="113.1"/><circle cx="418.3" cy="97.9"/><circle cx="506.3" cy="112.5"/><circle cx="551.1" cy="108.6"/><circle cx="523.2" cy="110.4"/><circle cx="435.1" cy="103.8"/><circle cx="400.5" cy="95.5"/><circle cx="582.1" cy="116.6"/><circle cx="650.1" cy="99.9"/><circle cx="447.2" cy="100.7"/><circle cx="578.4" cy="116.5"/><circle cx="429.8" cy="111.7"/><circle cx="505.6" cy="89.6"/><circle cx="635" cy="90.6"/><circle cx="429.5" cy="115.1"/><circle cx="596.2" cy="101.3"/><circle cx="427.5" cy="111.8"/><circle cx="629.1" cy="99.2"/><circle cx="426.2" cy="107.1"/><circle cx="447.3" cy="109.5"/><circle cx="399.6" cy="114.3"/><circle cx="506.3" cy="109.4"/><circle cx="655.1" cy="89.1"/><circle cx="565.8" cy="97.1"/><circle cx="421.9" cy="85.4"/><circle cx="474.8" cy="116.1"/><circle cx="412.3" cy="90.5"/><circle cx="663.8" cy="101.3"/><circle cx="567.6" cy="88.3"/><circle cx="506.4" cy="85.4"/><circle cx="563.5" cy="92.4"/><circle cx="554.7" cy="100.8"/><circle cx="651.4" cy="93.2"/><circle cx="552.4" cy="102"/><circle cx="468.4" cy="102.4"/><circle cx="575.3" cy="111.2"/><circle cx="442.2" cy="116.6"/><circle cx="670.8" cy="93.4"/><circle cx="614.2" cy="114.6"/><circle cx="467.8" cy="100.6"/><circle cx="604" cy="102.3"/><circle cx="399.2" cy="105.8"/><circle cx="391.4" cy="102.2"/><circle cx="525.7" cy="107.1"/><circle cx="660.4" cy="116.7"/><circle cx="437.7" cy="110.7"/><circle cx="570.1" cy="105.6"/><circle cx="563.1" cy="106.7"/><circle cx="661.9" cy="88.8"/><circle cx="592.3" cy="97.9"/><circle cx="553.4" cy="106.5"/><circle cx="632.9" cy="99.4"/><circle cx="631.3" cy="110.9"/><circle cx="645.8" cy="100"/><circle cx="448.3" cy="113.7"/><circle cx="538.5" cy="89.2"/><circle cx="518.8" cy="112.3"/><circle cx="578.6" cy="99.7"/><circle cx="468.9" cy="102.9"/><circle cx="504.2" cy="102.7"/><circle cx="493.4" cy="97.5"/><circle cx="368.2" cy="97.2"/><circle cx="430.9" cy="85.5"/><circle cx="492.7" cy="100.1"/><circle cx="388.2" cy="87.7"/><circle cx="586.4" cy="99.8"/><circle cx="620.9" cy="113.7"/><circle cx="559.7" cy="87.5"/><circle cx="655.8" cy="116.5"/><circle cx="477.9" cy="94.3"/><circle cx="375.6" cy="98.1"/><circle cx="450.5" cy="96.8"/><circle cx="645" cy="103.6"/><circle cx="621.9" cy="104.6"/><circle cx="676.4" cy="99.5"/><circle cx="389.7" cy="95.2"/><circle cx="674" cy="115.2"/><circle cx="407.2" cy="116.6"/><circle cx="466.6" cy="98.1"/><circle cx="551.3" cy="90.5"/><circle cx="486.6" cy="98.6"/><circle cx="652.8" cy="98.5"/><circle cx="494.8" cy="106.1"/><circle cx="668" cy="112.6"/><circle cx="679.2" cy="92.9"/><circle cx="404.3" cy="102.6"/><circle cx="394.9" cy="105.3"/><circle cx="462.5" cy="112.5"/><circle cx="600.8" cy="116.9"/><circle cx="528" cy="105.1"/><circle cx="438.3" cy="92.7"/><circle cx="455.7" cy="109.1"/><circle cx="515.7" cy="100.7"/><circle cx="441.2" cy="94.8"/><circle cx="652.4" cy="98.3"/><circle cx="668.7" cy="108.2"/><circle cx="621.8" cy="101.2"/><circle cx="470.5" cy="95.4"/><circle cx="567.6" cy="107.3"/><circle cx="613.2" cy="102.4"/><circle cx="483.7" cy="91.1"/><circle cx="647.8" cy="110.9"/><circle cx="637.9" cy="111.2"/><circle cx="653.6" cy="96.2"/><circle cx="492.7" cy="108.8"/><circle cx="672.6" cy="107.2"/><circle cx="625.5" cy="97.8"/><circle cx="402.3" cy="89.1"/><circle cx="436.3" cy="94.5"/><circle cx="571.5" cy="96.3"/><circle cx="480.4" cy="97"/><circle cx="370.6" cy="103.3"/><circle cx="681.8" cy="106.8"/><circle cx="480.3" cy="92.7"/><circle cx="677.5" cy="95.2"/><circle cx="621.8" cy="116.2"/><circle cx="680.8" cy="112"/><circle cx="558.5" cy="95.6"/><circle cx="486.2" cy="104.6"/><circle cx="680.7" cy="95"/><circle cx="413.3" cy="111.5"/><circle cx="621.5" cy="113.4"/><circle cx="555" cy="105"/><circle cx="644" cy="98"/><circle cx="433.3" cy="112"/><circle cx="664.6" cy="94.7"/><circle cx="434.5" cy="91.7"/><circle cx="506" cy="108.8"/><circle cx="636.6" cy="106.6"/><circle cx="631.2" cy="107.8"/><circle cx="516.5" cy="91.3"/><circle cx="505.6" cy="112"/><circle cx="662.3" cy="107.4"/><circle cx="460.3" cy="93.6"/><circle cx="395.6" cy="111.6"/><circle cx="562.9" cy="97.4"/><circle cx="381.3" cy="116.3"/><circle cx="660.5" cy="104"/><circle cx="673" cy="99.7"/><circle cx="492.9" cy="115.7"/><circle cx="623.7" cy="112.5"/><circle cx="595.1" cy="91.5"/><circle cx="584.1" cy="110.4"/><circle cx="571" cy="88"/><circle cx="681.6" cy="109.2"/><circle cx="403.8" cy="96.4"/><circle cx="367.1" cy="107.8"/><circle cx="537.3" cy="112.8"/><circle cx="629" cy="113.7"/><circle cx="525.7" cy="95.2"/><circle cx="439" cy="103.7"/><circle cx="478.1" cy="104"/><circle cx="676.8" cy="110.7"/><circle cx="663.1" cy="103.8"/><circle cx="666.6" cy="107.8"/><circle cx="496.5" cy="93.7"/><circle cx="678.7" cy="95.4"/><circle cx="465.6" cy="112"/><circle cx="450.3" cy="90.6"/><circle cx="643.5" cy="110.6"/><circle cx="385.8" cy="91.2"/><circle cx="549.8" cy="98.1"/><circle cx="473.4" cy="108"/><circle cx="454.8" cy="88.7"/><circle cx="601.9" cy="114.2"/><circle cx="553.9" cy="103.9"/><circle cx="520.5" cy="94.4"/><circle cx="456.7" cy="112.7"/><circle cx="515.8" cy="102.8"/><circle cx="641.2" cy="115.8"/><circle cx="581.5" cy="117.1"/><circle cx="485.3" cy="92.9"/><circle cx="436.2" cy="103.2"/><circle cx="647.7" cy="115.9"/><circle cx="471" cy="102"/><circle cx="626.9" cy="100.8"/><circle cx="434.4" cy="102.6"/><circle cx="385.8" cy="108.1"/><circle cx="632.7" cy="96.3"/><circle cx="554.1" cy="116.4"/><circle cx="648.4" cy="109.9"/><circle cx="530.6" cy="99.8"/><circle cx="432.4" cy="116.9"/><circle cx="479.9" cy="92.7"/><circle cx="381.2" cy="92.6"/><circle cx="536.5" cy="97.1"/><circle cx="550" cy="102.1"/><circle cx="535" cy="109.2"/><circle cx="378" cy="99"/><circle cx="363.2" cy="89"/><circle cx="440.9" cy="110.6"/><circle cx="486.1" cy="85.2"/><circle cx="474.8" cy="104"/><circle cx="660.4" cy="113.5"/><circle cx="380" cy="114.1"/><circle cx="439" cy="95.8"/><circle cx="580" cy="114.9"/><circle cx="437.1" cy="111.8"/><circle cx="579.3" cy="104.6"/><circle cx="552.2" cy="90"/><circle cx="385.9" cy="98.2"/><circle cx="641.1" cy="116.5"/><circle cx="522.6" cy="108.3"/><circle cx="455.8" cy="99.9"/><circle cx="422.5" cy="105.5"/><circle cx="415.8" cy="110.7"/><circle cx="615.7" cy="96.1"/><circle cx="409.6" cy="104.8"/><circle cx="413.2" cy="110.8"/><circle cx="596.3" cy="108.4"/><circle cx="469.7" cy="100.9"/><circle cx="397.7" cy="99.6"/><circle cx="474.7" cy="117.9"/><circle cx="456.1" cy="85.9"/><circle cx="505.6" cy="117.8"/><circle cx="412" cy="108.9"/><circle cx="433.4" cy="97.7"/><circle cx="432.1" cy="90.2"/><circle cx="406.7" cy="103.3"/><circle cx="493.2" cy="109.7"/><circle cx="365" cy="118"/><circle cx="434.4" cy="111.2"/><circle cx="580.3" cy="101.2"/><circle cx="384.9" cy="101.8"/><circle cx="499.7" cy="110"/><circle cx="386.6" cy="91.6"/><circle cx="494.7" cy="99.9"/><circle cx="578.9" cy="111.3"/><circle cx="669.7" cy="112.8"/><circle cx="596.9" cy="106.6"/><circle cx="442.9" cy="102.7"/><circle cx="485.1" cy="95.4"/><circle cx="618.3" cy="110.2"/><circle cx="493.5" cy="97.7"/><circle cx="595.3" cy="99.9"/><circle cx="569.8" cy="108.4"/><circle cx="554.2" cy="97.6"/><circle cx="365.8" cy="94.2"/><circle cx="677.9" cy="113.3"/><circle cx="464" cy="106.1"/><circle cx="422.7" cy="97.7"/><circle cx="642.9" cy="107.7"/><circle cx="536.4" cy="96.7"/><circle cx="444.5" cy="104.4"/><circle cx="525.2" cy="109.9"/><circle cx="564.5" cy="117.2"/><circle cx="514.6" cy="114.3"/><circle cx="484.9" cy="90.1"/><circle cx="372" cy="92.8"/><circle cx="536" cy="94.3"/><circle cx="521.1" cy="87.5"/><circle cx="456.1" cy="113.7"/><circle cx="392.5" cy="113.7"/><circle cx="586.7" cy="86.9"/><circle cx="641.1" cy="106.6"/><circle cx="429.2" cy="104.4"/><circle cx="473.5" cy="96.1"/><circle cx="559.4" cy="111.3"/><circle cx="424.3" cy="86.3"/><circle cx="418.8" cy="98.9"/><circle cx="470.6" cy="96.2"/><circle cx="400.9" cy="96.6"/><circle cx="515.5" cy="117"/><circle cx="423" cy="114.5"/><circle cx="605.5" cy="116.2"/><circle cx="365.2" cy="117"/><circle cx="599" cy="97.5"/><circle cx="647.2" cy="109.8"/><circle cx="417.1" cy="96.5"/><circle cx="491.5" cy="85.7"/><circle cx="618.2" cy="101.3"/><circle cx="665.6" cy="112.1"/><circle cx="373.9" cy="93.2"/><circle cx="562" cy="112.6"/><circle cx="628.5" cy="87.8"/><circle cx="475.1" cy="106.2"/><circle cx="559.6" cy="102.2"/><circle cx="480.9" cy="85.9"/><circle cx="598.2" cy="107.6"/><circle cx="588.2" cy="94.4"/><circle cx="636.4" cy="110.1"/><circle cx="629.2" cy="90"/><circle cx="682.3" cy="100.4"/><circle cx="543" cy="105.2"/><circle cx="481.4" cy="94.7"/><circle cx="478.6" cy="97.9"/><circle cx="583.1" cy="94.7"/><circle cx="372.5" cy="90.2"/><circle cx="535.6" cy="93.7"/><circle cx="656.2" cy="113.6"/><circle cx="362.9" cy="94.9"/><circle cx="547.8" cy="111"/><circle cx="478.9" cy="109.4"/><circle cx="659.4" cy="111.4"/><circle cx="591.7" cy="113.6"/><circle cx="439.9" cy="96.4"/><circle cx="410.8" cy="89.7"/><circle cx="420.4" cy="103.2"/><circle cx="492.4" cy="114.7"/><circle cx="404.2" cy="113.9"/><circle cx="449" cy="107.6"/><circle cx="372" cy="105.4"/><circle cx="489.2" cy="90.7"/><circle cx="661.8" cy="97.3"/><circle cx="645.7" cy="112.8"/><circle cx="415.4" cy="102"/><circle cx="502.9" cy="96.5"/><circle cx="410.9" cy="103"/><circle cx="379.3" cy="107.4"/><circle cx="417.7" cy="89.2"/><circle cx="481" cy="93.8"/><circle cx="421.2" cy="94.9"/><circle cx="370.2" cy="113.5"/><circle cx="403.8" cy="100.4"/><circle cx="386.2" cy="111.8"/><circle cx="483.3" cy="86"/><circle cx="379.5" cy="84.8"/><circle cx="420.7" cy="105.6"/><circle cx="619.8" cy="112.6"/><circle cx="522" cy="86.5"/><circle cx="653.7" cy="97.6"/><circle cx="451.7" cy="100.8"/><circle cx="417.3" cy="108.7"/><circle cx="539.7" cy="87.9"/><circle cx="369.8" cy="109.3"/><circle cx="593.1" cy="108.3"/><circle cx="569.1" cy="90.8"/><circle cx="616.3" cy="114"/><circle cx="578.8" cy="93"/><circle cx="660.6" cy="112.9"/><circle cx="642.7" cy="91.9"/><circle cx="433.3" cy="114.2"/><circle cx="409" cy="106.4"/><circle cx="629.3" cy="101.3"/><circle cx="546.1" cy="104.3"/><circle cx="372.1" cy="103.5"/><circle cx="391.7" cy="112.2"/><circle cx="427.1" cy="85.7"/><circle cx="591.6" cy="94.9"/><circle cx="421.3" cy="117.2"/><circle cx="486.5" cy="89.6"/><circle cx="577.3" cy="109.1"/><circle cx="490.5" cy="101.2"/><circle cx="609.5" cy="96.9"/><circle cx="396.3" cy="114.6"/><circle cx="403.7" cy="98.4"/><circle cx="520.7" cy="104.7"/><circle cx="439.1" cy="86.3"/><circle cx="504.1" cy="109.9"/><circle cx="453.2" cy="111.2"/><circle cx="529.4" cy="104.7"/><circle cx="628" cy="98.2"/><circle cx="542.7" cy="117.2"/><circle cx="616.3" cy="90.9"/><circle cx="378" cy="100.1"/><circle cx="468.5" cy="102.6"/><circle cx="617.4" cy="104.4"/><circle cx="682.6" cy="90.4"/><circle cx="627.8" cy="115.8"/><circle cx="640.2" cy="115.6"/><circle cx="468" cy="89.3"/><circle cx="506.8" cy="92.2"/><circle cx="382.1" cy="110.6"/><circle cx="477.4" cy="108.2"/><circle cx="630.6" cy="101.4"/><circle cx="656.7" cy="111.5"/><circle cx="505.9" cy="100"/><circle cx="394.6" cy="98.8"/><circle cx="449.8" cy="111.6"/><circle cx="519.7" cy="108.8"/><circle cx="367.2" cy="108"/><circle cx="419.2" cy="85.7"/><circle cx="594.4" cy="85.5"/><circle cx="582.4" cy="100.9"/><circle cx="680.6" cy="88.5"/><circle cx="533.1" cy="102.9"/><circle cx="399" cy="99.2"/><circle cx="600.3" cy="92.5"/><circle cx="367.6" cy="115.7"/><circle cx="585.3" cy="95.1"/><circle cx="449.4" cy="100.1"/><circle cx="452.6" cy="106.4"/><circle cx="553.2" cy="102.1"/><circle cx="426.9" cy="103.6"/><circle cx="659.6" cy="98.5"/><circle cx="666.7" cy="88.8"/><circle cx="568.4" cy="99.8"/><circle cx="604.5" cy="96.9"/><circle cx="440.9" cy="105.5"/><circle cx="367.5" cy="114.6"/><circle cx="456.4" cy="116.3"/><circle cx="505.7" cy="105.7"/><circle cx="601" cy="98.5"/><circle cx="588.4" cy="94.8"/><circle cx="373.9" cy="94.4"/><circle cx="387.3" cy="107.5"/><circle cx="626.4" cy="94.8"/><circle cx="528" cy="91.6"/><circle cx="666" cy="107.2"/><circle cx="461.5" cy="116.2"/><circle cx="537.5" cy="104"/><circle cx="570.5" cy="112"/><circle cx="545.7" cy="89.9"/><circle cx="375.4" cy="105.8"/><circle cx="589.6" cy="91.3"/><circle cx="475.6" cy="111.4"/><circle cx="385.3" cy="107.5"/><circle cx="534.3" cy="111.1"/><circle cx="489.9" cy="106.8"/><circle cx="600.7" cy="112.2"/><circle cx="630.8" cy="106.1"/><circle cx="611.1" cy="116.6"/><circle cx="549" cy="92.1"/><circle cx="398" cy="115.8"/><circle cx="478.8" cy="91.2"/><circle cx="682.3" cy="112.2"/><circle cx="390.1" cy="103.8"/><circle cx="404.7" cy="101.9"/><circle cx="497.4" cy="102.7"/><circle cx="425.9" cy="94.6"/><circle cx="551.3" cy="108.9"/><circle cx="588.8" cy="104.4"/><circle cx="670.4" cy="100.8"/><circle cx="519.7" cy="111.9"/><circle cx="388.5" cy="114.9"/><circle cx="480.5" cy="105.7"/><circle cx="625.5" cy="94.8"/><circle cx="590.8" cy="92.5"/><circle cx="480.2" cy="112.1"/><circle cx="462.2" cy="106.1"/><circle cx="417.7" cy="100.6"/><circle cx="458.8" cy="95"/><circle cx="434.5" cy="96.1"/><circle cx="666.3" cy="107.2"/><circle cx="389.5" cy="86.2"/><circle cx="593.7" cy="111.1"/><circle cx="601.5" cy="116.7"/><circle cx="563.5" cy="86"/><circle cx="363.5" cy="116"/><circle cx="586.8" cy="117.2"/><circle cx="394.4" cy="85.2"/><circle cx="442.6" cy="112.7"/><circle cx="443.8" cy="99.9"/><circle cx="578" cy="88.2"/><circle cx="375" cy="98.7"/><circle cx="623.2" cy="113.6"/><circle cx="575.6" cy="103.3"/><circle cx="608" cy="91.2"/><circle cx="608.8" cy="93.6"/><circle cx="368.1" cy="104.6"/><circle cx="518.8" cy="113.4"/><circle cx="364" cy="116.9"/><circle cx="609.3" cy="99"/><circle cx="586.3" cy="117.9"/><circle cx="666.3" cy="117.4"/><circle cx="579.8" cy="116"/><circle cx="422.3" cy="110.4"/><circle cx="599.1" cy="112.8"/><circle cx="560.6" cy="93.9"/><circle cx="462.7" cy="110.8"/><circle cx="668.4" cy="113.6"/><circle cx="385.1" cy="95.9"/><circle cx="680.5" cy="107.8"/><circle cx="401.3" cy="95.2"/><circle cx="611.3" cy="99"/><circle cx="464.3" cy="110.4"/><circle cx="626.6" cy="116.6"/><circle cx="385.1" cy="105.2"/><circle cx="364" cy="108.7"/><circle cx="408.3" cy="94.6"/><circle cx="450.5" cy="101.2"/><circle cx="673.7" cy="102.4"/><circle cx="575.4" cy="113"/><circle cx="592.3" cy="105.7"/><circle cx="669.8" cy="117.9"/><circle cx="648.3" cy="89.7"/><circle cx="555" cy="101"/><circle cx="472.7" cy="112.3"/><circle cx="478.8" cy="99.8"/><circle cx="392.4" cy="101.5"/><circle cx="574.8" cy="112.1"/><circle cx="473" cy="99.1"/><circle cx="553.6" cy="90.5"/><circle cx="406" cy="98.1"/><circle cx="387.3" cy="100.5"/><circle cx="439.8" cy="103.4"/><circle cx="672.1" cy="117.6"/><circle cx="652.7" cy="96.8"/><circle cx="563.7" cy="99.5"/><circle cx="502.7" cy="87.5"/><circle cx="607.3" cy="113.4"/><circle cx="491.3" cy="87.6"/><circle cx="589" cy="117.9"/><circle cx="560.3" cy="107.8"/><circle cx="402.8" cy="114.1"/><circle cx="670.1" cy="98.6"/><circle cx="571" cy="114.5"/><circle cx="532" cy="93.2"/><circle cx="660.8" cy="113.1"/><circle cx="589.5" cy="105.5"/><circle cx="508.5" cy="104.6"/><circle cx="412.4" cy="109.8"/><circle cx="638.8" cy="112.2"/><circle cx="541.2" cy="96.9"/><circle cx="625.6" cy="94.2"/><circle cx="468.3" cy="101.5"/><circle cx="604.6" cy="91.7"/><circle cx="529.8" cy="113.1"/><circle cx="611.2" cy="111.7"/><circle cx="395.8" cy="92"/><circle cx="456.8" cy="101.2"/><circle cx="617.4" cy="92.1"/><circle cx="665.8" cy="112"/><circle cx="442.4" cy="105"/><circle cx="532.9" cy="113.8"/><circle cx="360.5" cy="111.7"/><circle cx="671.5" cy="115.9"/><circle cx="523.1" cy="105.8"/><circle cx="364.5" cy="117.1"/><circle cx="561.5" cy="112.2"/><circle cx="508" cy="106.9"/><circle cx="615.2" cy="108.8"/><circle cx="525.1" cy="115.5"/><circle cx="641.4" cy="96.5"/><circle cx="517.7" cy="91.8"/><circle cx="447.7" cy="96.7"/><circle cx="382.9" cy="94.9"/><circle cx="394.6" cy="105.2"/><circle cx="437.9" cy="103.8"/><circle cx="547.2" cy="87.9"/><circle cx="558" cy="93.4"/><circle cx="410.7" cy="101.5"/><circle cx="531.1" cy="115.2"/><circle cx="406.3" cy="89.8"/><circle cx="506.1" cy="103.9"/><circle cx="511.8" cy="112.7"/><circle cx="525.1" cy="114.2"/><circle cx="655.3" cy="92.8"/><circle cx="440.8" cy="111.1"/><circle cx="581.5" cy="103.1"/><circle cx="640.3" cy="116.8"/><circle cx="550.1" cy="85.8"/><circle cx="516.1" cy="97.6"/><circle cx="561.2" cy="101"/><circle cx="450.9" cy="116.2"/><circle cx="565.6" cy="102.8"/><circle cx="431.3" cy="105.4"/><circle cx="482" cy="95.1"/><circle cx="675.5" cy="97.6"/><circle cx="563.6" cy="93.9"/><circle cx="513.6" cy="102.4"/><circle cx="456.6" cy="101.2"/><circle cx="454.4" cy="102.2"/><circle cx="616.6" cy="115"/><circle cx="633" cy="101.2"/><circle cx="417.9" cy="85.8"/><circle cx="428.6" cy="112.4"/><circle cx="621.9" cy="93.8"/><circle cx="617.6" cy="95.6"/><circle cx="611.1" cy="114.4"/><circle cx="546.7" cy="115.4"/><circle cx="492" cy="101.7"/><circle cx="676.2" cy="94.9"/><circle cx="513" cy="93.1"/><circle cx="412.6" cy="105.7"/><circle cx="506.1" cy="86.6"/><circle cx="445.1" cy="97.6"/><circle cx="677.5" cy="101.7"/><circle cx="491.1" cy="95.5"/><circle cx="645.7" cy="111.3"/><circle cx="362.9" cy="105.2"/><circle cx="480" cy="109.9"/><circle cx="608.2" cy="98.3"/><circle cx="492" cy="109.5"/><circle cx="529.4" cy="117.2"/><circle cx="564.1" cy="99.7"/><circle cx="616.3" cy="112.8"/><circle cx="604.7" cy="102.7"/><circle cx="629" cy="94.4"/><circle cx="471.2" cy="112"/><circle cx="455" cy="101.3"/><circle cx="666.7" cy="108.2"/><circle cx="393.8" cy="99.2"/><circle cx="540" cy="108.9"/><circle cx="683" cy="98.7"/><circle cx="469" cy="113.7"/><circle cx="545.3" cy="95.3"/><circle cx="489.7" cy="94.1"/><circle cx="429.8" cy="93.3"/><circle cx="618.3" cy="103.5"/><circle cx="563.5" cy="111.6"/><circle cx="490.8" cy="97.7"/><circle cx="662.4" cy="108.1"/><circle cx="548.4" cy="88.7"/><circle cx="488.5" cy="109.1"/><circle cx="566.7" cy="97.3"/><circle cx="381.8" cy="95.2"/><circle cx="513" cy="105.6"/><circle cx="678.3" cy="90.9"/><circle cx="403.3" cy="108.1"/><circle cx="495.1" cy="97.7"/><circle cx="363.9" cy="106.6"/><circle cx="371.9" cy="99.1"/><circle cx="571.8" cy="113"/><circle cx="419.4" cy="101.9"/><circle cx="656.6" cy="105.5"/><circle cx="610.7" cy="109.9"/><circle cx="486.7" cy="87.6"/><circle cx="637.5" cy="90.4"/><circle cx="506" cy="94.9"/><circle cx="558.1" cy="103.7"/><circle cx="492.5" cy="104.5"/><circle cx="376.5" cy="115.4"/><circle cx="617.5" cy="92.6"/><circle cx="406.4" cy="101.5"/><circle cx="430.8" cy="115.1"/><circle cx="643.9" cy="114.1"/><circle cx="619.9" cy="102.7"/><circle cx="640.2" cy="109.2"/><circle cx="606.9" cy="98.5"/><circle cx="377" cy="103.3"/><circle cx="520.4" cy="89.5"/><circle cx="631.8" cy="107.3"/><circle cx="427.4" cy="97.3"/><circle cx="631.3" cy="100.3"/><circle cx="601.4" cy="94"/><circle cx="667.7" cy="97.7"/><circle cx="526.7" cy="96.3"/><circle cx="625.2" cy="103.5"/><circle cx="400.9" cy="88.9"/><circle cx="581.1" cy="91.9"/><circle cx="664.6" cy="113.3"/><circle cx="643.2" cy="109.4"/><circle cx="645.8" cy="101.1"/><circle cx="598.5" cy="102.5"/><circle cx="576.4" cy="88.4"/><circle cx="522.6" cy="116.1"/><circle cx="517.2" cy="104.9"/><circle cx="610.1" cy="101.4"/><circle cx="583.6" cy="95.1"/><circle cx="453.1" cy="95.8"/><circle cx="554.4" cy="112.1"/><circle cx="384.7" cy="99.9"/><circle cx="603" cy="117.3"/><circle cx="550.3" cy="103.7"/><circle cx="410.3" cy="112.8"/><circle cx="403.3" cy="93.6"/><circle cx="445.6" cy="95.7"/><circle cx="390" cy="105.5"/><circle cx="591.4" cy="105.2"/><circle cx="587.1" cy="95.1"/><circle cx="537.3" cy="114.7"/><circle cx="516.5" cy="114.2"/><circle cx="670.3" cy="91.5"/><circle cx="587.8" cy="100.1"/><circle cx="590.3" cy="103.3"/><circle cx="475.9" cy="117.7"/><circle cx="480.7" cy="95.1"/><circle cx="591.9" cy="95"/><circle cx="571.6" cy="93.1"/><circle cx="481" cy="90.2"/><circle cx="604.5" cy="113.6"/><circle cx="425.6" cy="97.3"/><circle cx="406.2" cy="95.3"/><circle cx="563.5" cy="104.9"/><circle cx="454.7" cy="105.1"/><circle cx="675" cy="90"/><circle cx="513.3" cy="112.2"/><circle cx="530.5" cy="108.9"/><circle cx="545.9" cy="112.7"/><circle cx="465" cy="101.5"/><circle cx="508" cy="93.5"/><circle cx="594.6" cy="96.1"/><circle cx="361.3" cy="102.2"/><circle cx="383.5" cy="94.5"/><circle cx="669.3" cy="112.1"/><circle cx="506.5" cy="106.6"/><circle cx="575.5" cy="93.6"/><circle cx="616.1" cy="103.2"/><circle cx="600.4" cy="102.8"/><circle cx="467.6" cy="92.9"/><circle cx="436" cy="92"/><circle cx="667.3" cy="103.4"/><circle cx="365.9" cy="100.7"/><circle cx="412.5" cy="109.8"/><circle cx="370.3" cy="114.8"/><circle cx="552.6" cy="103.2"/><circle cx="586.8" cy="96.8"/><circle cx="509.7" cy="98"/><circle cx="677.2" cy="94.5"/><circle cx="497.2" cy="100"/><circle cx="625.7" cy="107.4"/><circle cx="621.8" cy="101.8"/><circle cx="441.2" cy="98.2"/><circle cx="456" cy="90.4"/><circle cx="461.8" cy="102.5"/><circle cx="520.3" cy="96.3"/><circle cx="635.4" cy="92"/><circle cx="535" cy="104.7"/><circle cx="362.6" cy="92.2"/><circle cx="669.2" cy="117.2"/><circle cx="442" cy="96.1"/><circle cx="549" cy="97.3"/><circle cx="391.9" cy="104.7"/><circle cx="483.9" cy="86.6"/><circle cx="366.5" cy="84.6"/><circle cx="569.4" cy="93.1"/><circle cx="676.1" cy="113.8"/><circle cx="431.4" cy="104.7"/><circle cx="589.2" cy="100.4"/><circle cx="567" cy="99.3"/><circle cx="551.5" cy="104.4"/><circle cx="628" cy="96.4"/><circle cx="532.4" cy="105.9"/><circle cx="671.3" cy="86.3"/><circle cx="468.2" cy="109.9"/><circle cx="475.1" cy="117.8"/><circle cx="618.4" cy="108.4"/><circle cx="399.4" cy="94.8"/><circle cx="520.1" cy="114.6"/><circle cx="414.6" cy="86"/><circle cx="455.6" cy="107.6"/><circle cx="599.4" cy="105.3"/><circle cx="371.4" cy="112.8"/><circle cx="511.2" cy="104.8"/><circle cx="513.8" cy="88.4"/><circle cx="425.1" cy="93.6"/><circle cx="566.9" cy="95.7"/><circle cx="424" cy="117.5"/><circle cx="623.2" cy="111.6"/><circle cx="569.8" cy="103.4"/><circle cx="392.4" cy="113.3"/><circle cx="579" cy="96.9"/><circle cx="479.8" cy="101.8"/><circle cx="568.7" cy="109.8"/><circle cx="368" cy="99.5"/><circle cx="564.4" cy="97.8"/><circle cx="443.2" cy="91.8"/><circle cx="481.2" cy="110.9"/><circle cx="475.2" cy="104.1"/><circle cx="381.1" cy="103.3"/><circle cx="634.4" cy="107.7"/><circle cx="444.5" cy="114.9"/><circle cx="397.1" cy="89.6"/><circle cx="440.3" cy="111.4"/><circle cx="573.3" cy="92.8"/><circle cx="434.2" cy="88.6"/><circle cx="444.5" cy="113.1"/><circle cx="533.9" cy="90.1"/><circle cx="502.2" cy="94.5"/><circle cx="628.7" cy="99.1"/><circle cx="414.3" cy="111.7"/><circle cx="377.8" cy="101.1"/><circle cx="402.3" cy="100.2"/><circle cx="383.1" cy="93.9"/><circle cx="474.6" cy="110.9"/><circle cx="626.9" cy="97.3"/><circle cx="398.7" cy="109.6"/><circle cx="591" cy="100.6"/><circle cx="664.4" cy="97.9"/><circle cx="371.1" cy="103.9"/><circle cx="436.5" cy="114.6"/><circle cx="675" cy="108.1"/><circle cx="421" cy="93.5"/><circle cx="668.3" cy="104.2"/><circle cx="384.1" cy="97.5"/><circle cx="457.7" cy="97.2"/><circle cx="520.7" cy="94.3"/><circle cx="484.3" cy="88.8"/><circle cx="449.1" cy="86.8"/><circle cx="562.6" cy="106.2"/><circle cx="642.5" cy="104.1"/><circle cx="586.3" cy="114.8"/><circle cx="426.7" cy="116"/><circle cx="537.6" cy="110.4"/><circle cx="487.3" cy="101.5"/><circle cx="415.6" cy="108"/><circle cx="435.4" cy="99.8"/><circle cx="522.6" cy="99.4"/><circle cx="430.9" cy="102.9"/><circle cx="483.9" cy="109.7"/><circle cx="386.8" cy="116.2"/><circle cx="472.7" cy="114.2"/><circle cx="600.8" cy="93.8"/><circle cx="461.5" cy="87.3"/><circle cx="647" cy="107.9"/><circle cx="519.1" cy="93.1"/><circle cx="377.4" cy="108.8"/><circle cx="549.5" cy="116.2"/><circle cx="656.5" cy="96.3"/><circle cx="410.2" cy="115.7"/><circle cx="672.8" cy="97.2"/><circle cx="595.3" cy="113.2"/><circle cx="547" cy="96.8"/><circle cx="500.5" cy="110.2"/><circle cx="644.4" cy="100.3"/><circle cx="553.1" cy="106.7"/><circle cx="448.1" cy="106.4"/><circle cx="377.6" cy="85.9"/><circle cx="683.4" cy="113"/><circle cx="376.6" cy="101.7"/><circle cx="419.1" cy="115.6"/><circle cx="397.5" cy="114.3"/><circle cx="541.6" cy="93"/><circle cx="573" cy="114.8"/><circle cx="585.1" cy="110.2"/><circle cx="647" cy="96.8"/><circle cx="557.2" cy="90.6"/><circle cx="446.8" cy="118"/><circle cx="474.6" cy="116.4"/><circle cx="492.2" cy="103.5"/><circle cx="455.8" cy="92.2"/><circle cx="473.1" cy="97.6"/><circle cx="513.4" cy="101.3"/><circle cx="483.4" cy="106.7"/><circle cx="563.8" cy="87.6"/><circle cx="401.2" cy="101.9"/><circle cx="661.5" cy="92.1"/><circle cx="607.4" cy="93.3"/><circle cx="618.8" cy="86.1"/><circle cx="408.9" cy="90.1"/><circle cx="610.6" cy="99.2"/><circle cx="506.2" cy="99.8"/><circle cx="494.5" cy="92.2"/><circle cx="582.2" cy="95.9"/><circle cx="371.2" cy="88.1"/><circle cx="612" cy="101.3"/><circle cx="642.1" cy="85.3"/><circle cx="391.8" cy="116.2"/><circle cx="510.7" cy="87"/><circle cx="556.2" cy="96.5"/><circle cx="619.5" cy="112.1"/><circle cx="420.9" cy="95.8"/><circle cx="504.3" cy="102"/><circle cx="586.4" cy="108.3"/><circle cx="649.6" cy="98.1"/><circle cx="603.2" cy="116.9"/><circle cx="592" cy="95.4"/><circle cx="384.2" cy="94.9"/><circle cx="414.1" cy="95.5"/><circle cx="600.8" cy="96.1"/><circle cx="491.1" cy="103.2"/><circle cx="407.8" cy="93.4"/><circle cx="384.3" cy="100.3"/><circle cx="386.9" cy="117.8"/><circle cx="597.7" cy="99.9"/><circle cx="594.6" cy="94.4"/><circle cx="564.3" cy="102.7"/><circle cx="663.5" cy="99.3"/><circle cx="678.8" cy="101.3"/><circle cx="487.2" cy="105.1"/><circle cx="663.7" cy="92.8"/><circle cx="433.7" cy="99.1"/><circle cx="379.3" cy="115.3"/><circle cx="540.9" cy="101.2"/><circle cx="545.2" cy="106.1"/><circle cx="544.5" cy="112.8"/><circle cx="682.2" cy="90.1"/><circle cx="483.1" cy="106.6"/><circle cx="426.5" cy="94.4"/><circle cx="504.9" cy="85.5"/><circle cx="463.2" cy="91"/><circle cx="396.9" cy="95.7"/><circle cx="662.9" cy="94.2"/><circle cx="493.8" cy="113.3"/><circle cx="416.4" cy="96.9"/><circle cx="390.1" cy="107.3"/><circle cx="602" cy="108.4"/><circle cx="427.4" cy="116.4"/><circle cx="581" cy="109.5"/><circle cx="487.7" cy="105.9"/><circle cx="406.3" cy="108"/><circle cx="429.5" cy="105"/><circle cx="445.1" cy="103.6"/><circle cx="660.2" cy="103.6"/><circle cx="364.4" cy="91.1"/><circle cx="546.2" cy="114.6"/><circle cx="443.1" cy="104"/><circle cx="446" cy="92.2"/><circle cx="549.6" cy="102.6"/><circle cx="503.4" cy="113.9"/><circle cx="522.7" cy="116.4"/><circle cx="655.5" cy="99.6"/><circle cx="438.1" cy="96.6"/><circle cx="366.9" cy="113.8"/><circle cx="379.1" cy="92.1"/><circle cx="517.3" cy="106.3"/><circle cx="528.4" cy="108.9"/><circle cx="437.6" cy="101.4"/><circle cx="466.6" cy="98"/><circle cx="425.9" cy="94.1"/><circle cx="635.3" cy="110.6"/><circle cx="516.2" cy="103.3"/><circle cx="668.7" cy="116.8"/><circle cx="538.7" cy="109.9"/><circle cx="554.4" cy="102.7"/><circle cx="399.7" cy="103.5"/><circle cx="378.9" cy="96"/><circle cx="641.9" cy="97.7"/><circle cx="453.6" cy="97.2"/><circle cx="528.8" cy="92.8"/><circle cx="509.4" cy="111.2"/><circle cx="508.3" cy="105.2"/><circle cx="366.6" cy="96"/><circle cx="570" cy="106.2"/><circle cx="406.5" cy="96.4"/><circle cx="522.6" cy="117.3"/><circle cx="607.3" cy="114.8"/><circle cx="401.6" cy="90.8"/><circle cx="425.2" cy="107.8"/><circle cx="530.7" cy="95.6"/><circle cx="514.9" cy="86.1"/><circle cx="486.3" cy="104.5"/><circle cx="368.9" cy="105.5"/><circle cx="537.4" cy="105.3"/><circle cx="632.2" cy="90.2"/><circle cx="554.1" cy="101.9"/><circle cx="517.5" cy="116.2"/><circle cx="678.7" cy="89.2"/><circle cx="399.6" cy="94.8"/><circle cx="392.5" cy="105.2"/><circle cx="631" cy="113.7"/><circle cx="467" cy="103.8"/><circle cx="659.5" cy="114.7"/><circle cx="530.4" cy="98.2"/><circle cx="439.2" cy="108.2"/><circle cx="404.2" cy="115.4"/><circle cx="553" cy="111.3"/><circle cx="476.9" cy="89.3"/><circle cx="491.8" cy="108.8"/><circle cx="660.3" cy="110.3"/><circle cx="481.9" cy="106.8"/><circle cx="367.3" cy="117.8"/><circle cx="440.1" cy="99.7"/><circle cx="675.2" cy="91.5"/><circle cx="608.8" cy="89"/><circle cx="451.2" cy="97.6"/><circle cx="416.1" cy="103.7"/><circle cx="650" cy="117.5"/><circle cx="423.8" cy="103.1"/><circle cx="484.9" cy="112.5"/><circle cx="443.3" cy="115.5"/><circle cx="469" cy="89"/><circle cx="646.2" cy="90.6"/><circle cx="411.4" cy="98.1"/><circle cx="543.5" cy="101.2"/><circle cx="474" cy="104.3"/><circle cx="542.9" cy="92.9"/><circle cx="614.1" cy="115.8"/><circle cx="419.6" cy="89.9"/><circle cx="458.4" cy="106.9"/><circle cx="591.8" cy="105.8"/><circle cx="478.7" cy="115.4"/><circle cx="482.8" cy="107.6"/><circle cx="450.7" cy="89"/><circle cx="627.8" cy="101.3"/><circle cx="395.8" cy="98"/><circle cx="639.4" cy="102.7"/><circle cx="678" cy="117.3"/><circle cx="553.6" cy="112.1"/><circle cx="513.8" cy="96"/><circle cx="589.8" cy="99"/><circle cx="651.5" cy="104.9"/><circle cx="390.7" cy="96.3"/><circle cx="388.8" cy="94.8"/><circle cx="424" cy="92.9"/><circle cx="427.8" cy="99.9"/><circle cx="535.4" cy="96"/><circle cx="519.2" cy="111.9"/><circle cx="458.6" cy="113.3"/><circle cx="392.9" cy="104.4"/><circle cx="583.5" cy="95.1"/><circle cx="625.4" cy="117.4"/><circle cx="621.2" cy="108.9"/><circle cx="550.3" cy="114.5"/><circle cx="523.1" cy="100.2"/><circle cx="528.6" cy="102.2"/><circle cx="514" cy="111.5"/><circle cx="610.1" cy="102.3"/><circle cx="478.2" cy="116.2"/><circle cx="651.2" cy="101.5"/><circle cx="640.4" cy="106.4"/><circle cx="567" cy="98.6"/><circle cx="452" cy="113.4"/><circle cx="584" cy="111.8"/><circle cx="504.7" cy="97.4"/><circle cx="587" cy="88"/><circle cx="654.6" cy="105.3"/><circle cx="485.1" cy="108.8"/><circle cx="413" cy="112.1"/><circle cx="562" cy="88.6"/><circle cx="543.4" cy="98.1"/><circle cx="580.3" cy="94.4"/><circle cx="451.7" cy="100.4"/><circle cx="636.6" cy="89.6"/><circle cx="402.4" cy="112"/><circle cx="477.6" cy="96.1"/><circle cx="556.4" cy="110.2"/><circle cx="539.5" cy="108.8"/><circle cx="416.7" cy="112.9"/><circle cx="553.1" cy="94.3"/><circle cx="418.7" cy="115.2"/><circle cx="532.2" cy="99.7"/><circle cx="440.7" cy="101.6"/><circle cx="467.7" cy="113.8"/><circle cx="370.4" cy="110.3"/><circle cx="574.2" cy="91.1"/><circle cx="411.4" cy="93.9"/><circle cx="433.6" cy="101.9"/><circle cx="557.4" cy="98.6"/><circle cx="434.8" cy="108.7"/><circle cx="548.7" cy="114.4"/><circle cx="615" cy="98"/><circle cx="632.5" cy="99.6"/><circle cx="414" cy="108.9"/><circle cx="581.8" cy="116.7"/><circle cx="613.1" cy="110.6"/><circle cx="486.3" cy="105"/><circle cx="581.7" cy="108.7"/><circle cx="679.6" cy="115.6"/><circle cx="535.3" cy="108"/><circle cx="592.5" cy="101.7"/><circle cx="441.7" cy="95.3"/><circle cx="477.3" cy="109.4"/><circle cx="524.5" cy="104.1"/><circle cx="441.3" cy="105.2"/><circle cx="535" cy="85.2"/><circle cx="559.7" cy="110.6"/><circle cx="608.2" cy="109.1"/><circle cx="473.9" cy="95"/><circle cx="367.9" cy="111.8"/><circle cx="543.5" cy="95.6"/><circle cx="533" cy="88.1"/><circle cx="656.7" cy="92.3"/><circle cx="634.9" cy="106.5"/><circle cx="464.5" cy="97.8"/><circle cx="518.8" cy="96.5"/><circle cx="599.3" cy="93.3"/><circle cx="547.6" cy="114.4"/><circle cx="566" cy="86.3"/><circle cx="632.5" cy="92.1"/><circle cx="672.2" cy="85.9"/><circle cx="416.4" cy="85.9"/><circle cx="504.8" cy="94.4"/><circle cx="393" cy="115.7"/><circle cx="449.4" cy="89.6"/><circle cx="612.7" cy="103.1"/><circle cx="646.6" cy="100.9"/><circle cx="468.2" cy="102.9"/><circle cx="473.3" cy="86"/><circle cx="570.9" cy="117.9"/><circle cx="483.1" cy="114.3"/><circle cx="469.7" cy="88.3"/><circle cx="374.5" cy="96.6"/><circle cx="557.1" cy="105.4"/><circle cx="404.6" cy="108.4"/><circle cx="562.5" cy="90.6"/><circle cx="412.3" cy="116.2"/><circle cx="626.7" cy="113.2"/><circle cx="502.9" cy="97.7"/><circle cx="674" cy="90"/><circle cx="571.6" cy="87.6"/><circle cx="471.6" cy="113.1"/><circle cx="534.4" cy="98.6"/><circle cx="550.3" cy="118"/><circle cx="451.5" cy="99.4"/><circle cx="633" cy="90"/><circle cx="624.3" cy="110.8"/><circle cx="390.7" cy="86.7"/><circle cx="558" cy="95.6"/><circle cx="581.1" cy="115.5"/><circle cx="372.7" cy="84.9"/><circle cx="522.7" cy="103"/><circle cx="554.9" cy="115.9"/><circle cx="526.1" cy="88.8"/><circle cx="459.8" cy="96.7"/><circle cx="589.9" cy="116.3"/><circle cx="651" cy="89.3"/><circle cx="391.5" cy="89.2"/><circle cx="452.9" cy="116.5"/><circle cx="587.4" cy="97.2"/><circle cx="585" cy="98.5"/><circle cx="433.5" cy="107.7"/><circle cx="640.4" cy="114.9"/><circle cx="571.3" cy="110.7"/><circle cx="670.6" cy="117.1"/><circle cx="440.7" cy="102.2"/><circle cx="454.4" cy="107.3"/><circle cx="393.8" cy="98.1"/><circle cx="407.4" cy="98.8"/><circle cx="475.9" cy="92.1"/><circle cx="463.2" cy="88.8"/><circle cx="477.8" cy="87.8"/><circle cx="395.5" cy="117.5"/><circle cx="415.8" cy="88.3"/><circle cx="375.3" cy="100.4"/><circle cx="608.2" cy="94.3"/><circle cx="680.1" cy="117.5"/><circle cx="589.7" cy="84.9"/><circle cx="573.8" cy="108.1"/><circle cx="535" cy="96.8"/><circle cx="628" cy="89.6"/><circle cx="677.7" cy="107.1"/><circle cx="465.1" cy="87"/><circle cx="654.8" cy="110.2"/><circle cx="539.7" cy="113.8"/><circle cx="564.7" cy="95.9"/><circle cx="602.1" cy="110.3"/><circle cx="558.6" cy="116.4"/><circle cx="594.7" cy="98.3"/><circle cx="635.9" cy="85"/><circle cx="500.1" cy="115"/><circle cx="629" cy="93.9"/><circle cx="515.2" cy="109.7"/><circle cx="511.7" cy="101.9"/><circle cx="654.1" cy="116.3"/><circle cx="497.2" cy="84.6"/><circle cx="453.4" cy="93.9"/><circle cx="478.5" cy="101.7"/><circle cx="666.7" cy="113.2"/><circle cx="502.1" cy="101.8"/><circle cx="544.5" cy="101.1"/><circle cx="430.9" cy="101"/><circle cx="584.6" cy="116.8"/><circle cx="413.6" cy="117.3"/><circle cx="682.6" cy="86.9"/><circle cx="595.1" cy="93.1"/><circle cx="380.3" cy="91.2"/><circle cx="473.5" cy="90.1"/><circle cx="655.3" cy="102.8"/><circle cx="644.1" cy="91.4"/><circle cx="559" cy="96.7"/><circle cx="584.1" cy="114.8"/><circle cx="513.8" cy="90.2"/><circle cx="550.3" cy="98.6"/><circle cx="655" cy="116.2"/><circle cx="585.9" cy="108.2"/><circle cx="518.5" cy="109.1"/><circle cx="487.9" cy="87.3"/><circle cx="512.5" cy="94.1"/><circle cx="404.9" cy="92"/><circle cx="624.6" cy="90.7"/><circle cx="571.9" cy="113.3"/><circle cx="483.1" cy="118"/><circle cx="617.1" cy="112.2"/><circle cx="375.9" cy="87.1"/><circle cx="654" cy="111.8"/><circle cx="585.3" cy="98.4"/><circle cx="589.8" cy="103.9"/><circle cx="501.9" cy="99.2"/><circle cx="619.1" cy="111.8"/><circle cx="419.6" cy="113.3"/><circle cx="660.9" cy="100.1"/><circle cx="601" cy="96.3"/><circle cx="470.9" cy="98.8"/><circle cx="453.7" cy="115.1"/><circle cx="401.7" cy="93.1"/><circle cx="597.1" cy="97.2"/><circle cx="586.2" cy="115.9"/><circle cx="373.3" cy="100.6"/><circle cx="404.7" cy="104.7"/><circle cx="555.4" cy="101.7"/><circle cx="588" cy="91.2"/><circle cx="490.9" cy="103.7"/><circle cx="443.3" cy="100"/><circle cx="520.8" cy="91.5"/><circle cx="440.2" cy="98.3"/><circle cx="682.1" cy="102.7"/><circle cx="662.7" cy="115.2"/><circle cx="632.8" cy="86.7"/><circle cx="597.9" cy="94.4"/><circle cx="665.5" cy="112.2"/><circle cx="360" cy="94.2"/><circle cx="425.1" cy="116.3"/><circle cx="386.7" cy="111.4"/><circle cx="465.8" cy="90.7"/><circle cx="482" cy="106"/><circle cx="569.5" cy="102.2"/><circle cx="497" cy="108.8"/><circle cx="411.2" cy="109.5"/><circle cx="376.4" cy="92.5"/><circle cx="524.5" cy="91.8"/><circle cx="419.6" cy="108.6"/><circle cx="635.6" cy="99.5"/><circle cx="557.5" cy="110.6"/><circle cx="427.5" cy="110.2"/><circle cx="670.2" cy="108.7"/><circle cx="390.1" cy="97.7"/><circle cx="646.8" cy="108.7"/><circle cx="377.8" cy="110.7"/><circle cx="547" cy="92.5"/><circle cx="463.3" cy="95.3"/><circle cx="476.1" cy="101.6"/><circle cx="570.5" cy="89.1"/><circle cx="523" cy="115.9"/><circle cx="641.8" cy="92.4"/><circle cx="623.5" cy="99"/><circle cx="497.4" cy="98.3"/><circle cx="384.2" cy="94.1"/><circle cx="550.2" cy="90.7"/><circle cx="360.7" cy="94.5"/><circle cx="466.2" cy="97.9"/><circle cx="363.4" cy="104.3"/><circle cx="371.3" cy="99.9"/><circle cx="371.7" cy="91.3"/><circle cx="625.9" cy="99.1"/><circle cx="589.4" cy="117"/><circle cx="368" cy="105.2"/><circle cx="603.8" cy="106.6"/><circle cx="452" cy="117"/><circle cx="506.6" cy="105.2"/><circle cx="525.1" cy="117.7"/><circle cx="475.7" cy="102.4"/><circle cx="555.9" cy="112"/><circle cx="535.3" cy="105.5"/><circle cx="653.8" cy="92.9"/><circle cx="476.3" cy="113.5"/><circle cx="493.5" cy="94.2"/><circle cx="490" cy="102.1"/><circle cx="665" cy="116.6"/><circle cx="493" cy="114.9"/><circle cx="603.7" cy="117.8"/><circle cx="613.9" cy="93.4"/><circle cx="492.5" cy="97.3"/><circle cx="526.5" cy="108.6"/><circle cx="660.8" cy="93"/><circle cx="451.5" cy="91.1"/><circle cx="419.6" cy="95.7"/><circle cx="658.6" cy="97.1"/><circle cx="660.8" cy="101"/><circle cx="557.8" cy="109.2"/><circle cx="593.4" cy="117.3"/><circle cx="679" cy="115"/><circle cx="372.5" cy="102.3"/><circle cx="560.8" cy="117.3"/><circle cx="549.2" cy="104.9"/><circle cx="383.5" cy="100"/><circle cx="445.3" cy="92.5"/><circle cx="412.9" cy="100.3"/><circle cx="646.2" cy="85.2"/><circle cx="617.9" cy="113.7"/><circle cx="496.5" cy="86"/><circle cx="590.9" cy="101.4"/><circle cx="448.4" cy="91.7"/><circle cx="556.6" cy="96.9"/><circle cx="671.2" cy="88.1"/><circle cx="459.5" cy="117.8"/><circle cx="449.5" cy="113.9"/><circle cx="446" cy="91.5"/><circle cx="683.9" cy="105.9"/><circle cx="565.5" cy="92.7"/><circle cx="622.8" cy="104.4"/><circle cx="549.8" cy="97.3"/><circle cx="413.9" cy="94.5"/><circle cx="669.4" cy="117.7"/><circle cx="409.4" cy="92.5"/><circle cx="453.5" cy="115.9"/><circle cx="460.6" cy="88.7"/><circle cx="469.2" cy="110.4"/><circle cx="552.1" cy="101.9"/><circle cx="644.6" cy="96.7"/><circle cx="634" cy="104.8"/><circle cx="378" cy="96"/><circle cx="478.2" cy="107.1"/><circle cx="588.3" cy="95.2"/><circle cx="635.8" cy="111.1"/><circle cx="481.5" cy="107.4"/><circle cx="489.3" cy="95.1"/><circle cx="475" cy="97.5"/><circle cx="605.7" cy="103.9"/><circle cx="654.9" cy="111.9"/><circle cx="670.5" cy="102.5"/><circle cx="586.8" cy="98.9"/><circle cx="595.9" cy="109"/><circle cx="364" cy="108.9"/><circle cx="555.9" cy="98.4"/><circle cx="396.8" cy="106.5"/><circle cx="386.6" cy="102.3"/><circle cx="661" cy="110.2"/><circle cx="558.9" cy="88.4"/><circle cx="530.2" cy="109.9"/><circle cx="578.6" cy="91.5"/><circle cx="596.8" cy="107.7"/><circle cx="380.3" cy="104.1"/><circle cx="377.6" cy="98.6"/><circle cx="666.4" cy="89.7"/><circle cx="453.2" cy="104.9"/><circle cx="503.9" cy="103.9"/><circle cx="675.5" cy="94.8"/><circle cx="465.1" cy="107.1"/><circle cx="607" cy="90.1"/><circle cx="436.9" cy="92.1"/><circle cx="466.7" cy="110.2"/><circle cx="388.2" cy="103.6"/><circle cx="588.7" cy="90.3"/><circle cx="430.6" cy="107.5"/><circle cx="473.6" cy="117.1"/><circle cx="472.1" cy="92"/><circle cx="516.6" cy="116.5"/><circle cx="630.1" cy="110.4"/><circle cx="566.1" cy="100.8"/><circle cx="411.5" cy="100"/><circle cx="446.5" cy="116.8"/><circle cx="530" cy="107.9"/><circle cx="489" cy="102.6"/><circle cx="596.4" cy="91.7"/><circle cx="510.2" cy="96.6"/><circle cx="400.6" cy="97.3"/><circle cx="363.3" cy="91.5"/><circle cx="604.1" cy="96.1"/><circle cx="546.3" cy="115.7"/><circle cx="527.4" cy="94.9"/><circle cx="438.5" cy="95"/><circle cx="491.6" cy="113.1"/><circle cx="403.5" cy="113"/><circle cx="620.7" cy="113.4"/><circle cx="368.7" cy="101.1"/><circle cx="589.8" cy="105.7"/><circle cx="507.1" cy="116.2"/><circle cx="671.9" cy="91.5"/><circle cx="409" cy="100.1"/><circle cx="531.9" cy="102.2"/><circle cx="683.9" cy="113.4"/><circle cx="510.1" cy="101.7"/><circle cx="476" cy="93.9"/><circle cx="464.1" cy="91.5"/><circle cx="419.1" cy="106.7"/><circle cx="499.9" cy="113.7"/><circle cx="449" cy="107.8"/><circle cx="591.6" cy="97.1"/><circle cx="362.7" cy="107.9"/><circle cx="544.6" cy="103.8"/><circle cx="532.6" cy="116.3"/><circle cx="381.2" cy="94.7"/><circle cx="486.3" cy="100.8"/><circle cx="510.4" cy="110"/><circle cx="484.6" cy="92"/><circle cx="673" cy="105.9"/><circle cx="508.8" cy="109.6"/><circle cx="594.1" cy="87.9"/><circle cx="614.2" cy="90.3"/><circle cx="523.5" cy="112.8"/><circle cx="550.9" cy="112.5"/><circle cx="457.2" cy="117.9"/><circle cx="508.3" cy="90.9"/><circle cx="393.2" cy="101.1"/><circle cx="638.6" cy="91.6"/><circle cx="614.7" cy="97.9"/><circle cx="597.6" cy="102.7"/><circle cx="388.7" cy="90"/><circle cx="455.7" cy="101.2"/><circle cx="443" cy="117.4"/><circle cx="558.4" cy="98.4"/><circle cx="671.2" cy="91.8"/><circle cx="381.2" cy="100.8"/><circle cx="362.9" cy="90.3"/><circle cx="661.8" cy="111.6"/><circle cx="670.2" cy="107.7"/><circle cx="508.9" cy="113.2"/><circle cx="491.1" cy="111.5"/><circle cx="385.8" cy="85.5"/><circle cx="652.8" cy="109.8"/><circle cx="482.3" cy="104.1"/><circle cx="471" cy="85.3"/><circle cx="410" cy="91.2"/><circle cx="626.3" cy="91"/><circle cx="679.2" cy="91.5"/><circle cx="492.2" cy="97.4"/><circle cx="588.6" cy="86.6"/><circle cx="387.8" cy="92.4"/><circle cx="429.9" cy="109.4"/><circle cx="471.2" cy="104.2"/><circle cx="569.7" cy="110.5"/><circle cx="531.2" cy="89.4"/><circle cx="549" cy="95.3"/><circle cx="675.1" cy="106.1"/><circle cx="460.7" cy="96.8"/><circle cx="603.1" cy="89.4"/><circle cx="521.4" cy="109.1"/><circle cx="663.9" cy="109.7"/><circle cx="530.9" cy="91"/><circle cx="626.7" cy="90.5"/><circle cx="526.6" cy="88.2"/><circle cx="431.7" cy="89.3"/><circle cx="656.4" cy="103.7"/><circle cx="539.4" cy="99.5"/><circle cx="636.5" cy="103.7"/><circle cx="372.8" cy="115.3"/><circle cx="560.8" cy="91"/><circle cx="506.8" cy="116.9"/><circle cx="628.4" cy="117.5"/><circle cx="542.5" cy="111.4"/><circle cx="535.2" cy="102.2"/><circle cx="526.5" cy="96.7"/><circle cx="645.8" cy="105.3"/><circle cx="461" cy="93.3"/><circle cx="514.4" cy="105.7"/><circle cx="581.4" cy="94.9"/><circle cx="475" cy="91"/><circle cx="558.6" cy="95.3"/><circle cx="504.3" cy="110.5"/><circle cx="424.7" cy="106.7"/><circle cx="619.8" cy="101.6"/><circle cx="502.5" cy="116.7"/><circle cx="364.5" cy="109.7"/><circle cx="360.9" cy="96.8"/><circle cx="441.9" cy="92.4"/><circle cx="603.2" cy="108.9"/><circle cx="609.2" cy="114.6"/><circle cx="672.7" cy="90.1"/><circle cx="415" cy="113"/><circle cx="406" cy="92.3"/><circle cx="515.6" cy="116.4"/><circle cx="486.7" cy="103.2"/><circle cx="557.9" cy="108.7"/><circle cx="362.6" cy="101.9"/><circle cx="552.4" cy="101.6"/><circle cx="577.4" cy="100.9"/><circle cx="405.7" cy="106.2"/><circle cx="519.6" cy="116.9"/><circle cx="621.7" cy="100.9"/><circle cx="406.4" cy="95.5"/><circle cx="508.8" cy="86.9"/><circle cx="635.3" cy="101.9"/><circle cx="522.2" cy="115.2"/><circle cx="577.3" cy="94.9"/><circle cx="500.3" cy="106.9"/><circle cx="653.2" cy="109.2"/><circle cx="642.1" cy="99.2"/><circle cx="512.2" cy="101.6"/><circle cx="381.1" cy="112.6"/><circle cx="454.3" cy="103.5"/><circle cx="467.5" cy="113.6"/><circle cx="499.7" cy="116.2"/><circle cx="627.6" cy="108.5"/><circle cx="521.7" cy="86.4"/><circle cx="661.3" cy="86.6"/><circle cx="668" cy="87.3"/><circle cx="460.8" cy="108.8"/><circle cx="390.3" cy="94.6"/><circle cx="426.9" cy="104.3"/><circle cx="647.5" cy="104.5"/><circle cx="366.8" cy="117.2"/><circle cx="535.5" cy="114.9"/><circle cx="423.9" cy="98.3"/><circle cx="370.3" cy="100.7"/><circle cx="494.4" cy="100.4"/><circle cx="662.8" cy="115.5"/><circle cx="576.6" cy="113.9"/><circle cx="522.7" cy="108.9"/><circle cx="368.6" cy="91"/><circle cx="661.1" cy="97.4"/><circle cx="533.7" cy="117.1"/><circle cx="494.6" cy="114.7"/><circle cx="535.1" cy="114.1"/><circle cx="362.5" cy="106.6"/><circle cx="487.4" cy="94.6"/><circle cx="557.3" cy="103.6"/><circle cx="495.4" cy="90.2"/><circle cx="382.2" cy="87.8"/><circle cx="492" cy="103.7"/><circle cx="423.5" cy="105.8"/><circle cx="617.4" cy="93"/><circle cx="407.7" cy="116.6"/><circle cx="619.7" cy="103.6"/><circle cx="566.6" cy="117.3"/><circle cx="513.1" cy="92.8"/><circle cx="641.2" cy="99.1"/><circle cx="381.6" cy="100.8"/><circle cx="360.6" cy="91.5"/><circle cx="595.3" cy="98.3"/><circle cx="655.5" cy="108.7"/><circle cx="600.8" cy="117.1"/><circle cx="612.9" cy="108.2"/><circle cx="604" cy="90.1"/><circle cx="478.7" cy="116.7"/><circle cx="414.9" cy="111.1"/><circle cx="542.6" cy="114.7"/><circle cx="361.5" cy="93.9"/><circle cx="670.4" cy="86.9"/><circle cx="397.3" cy="106.5"/><circle cx="417.3" cy="87.8"/><circle cx="679.9" cy="98.3"/><circle cx="639.2" cy="97.2"/><circle cx="532.4" cy="114.9"/><circle cx="535.5" cy="99.9"/><circle cx="544.8" cy="86.1"/><circle cx="425.6" cy="107"/><circle cx="552.8" cy="88"/><circle cx="488.9" cy="94.3"/><circle cx="631.8" cy="113.4"/><circle cx="669.8" cy="116.7"/><circle cx="565.5" cy="113.1"/><circle cx="481.2" cy="114.7"/><circle cx="584.2" cy="113.3"/><circle cx="602" cy="92.8"/><circle cx="550.3" cy="91.1"/><circle cx="627.1" cy="108.5"/><circle cx="403.2" cy="108.5"/><circle cx="419.5" cy="108.3"/><circle cx="595.8" cy="84.7"/><circle cx="431.3" cy="94"/><circle cx="524.2" cy="95.2"/><circle cx="521.6" cy="103.3"/><circle cx="551.1" cy="92.5"/><circle cx="513" cy="107.6"/><circle cx="595.7" cy="107.6"/><circle cx="500.7" cy="104.6"/><circle cx="378.6" cy="103"/><circle cx="552" cy="106.7"/><circle cx="559.2" cy="108.8"/><circle cx="433.7" cy="116.5"/><circle cx="675.8" cy="87.8"/><circle cx="669.4" cy="91"/><circle cx="472.7" cy="116.8"/><circle cx="647.3" cy="104.9"/><circle cx="652.5" cy="117.6"/><circle cx="449.3" cy="100.8"/><circle cx="507.7" cy="115.6"/><circle cx="505.9" cy="101.7"/><circle cx="600.1" cy="88.7"/><circle cx="465.3" cy="100.4"/><circle cx="647.8" cy="98"/><circle cx="561.6" cy="115.5"/><circle cx="372.8" cy="103.1"/><circle cx="610.4" cy="116.8"/><circle cx="459" cy="91.2"/><circle cx="573.1" cy="97.7"/><circle cx="652.5" cy="117.8"/><circle cx="594" cy="105.4"/><circle cx="546.3" cy="96.5"/><circle cx="490.4" cy="103.1"/><circle cx="565.7" cy="92.7"/><circle cx="546" cy="113.8"/><circle cx="507.9" cy="99.1"/><circle cx="471.9" cy="115"/><circle cx="442" cy="98.3"/><circle cx="494.6" cy="96.4"/><circle cx="538.7" cy="108.9"/><circle cx="521.3" cy="112.3"/><circle cx="624.5" cy="98.4"/><circle cx="554.8" cy="109.5"/><circle cx="428.4" cy="101.3"/><circle cx="580.6" cy="96.9"/><circle cx="582.5" cy="116.2"/><circle cx="420.2" cy="116.6"/><circle cx="656.9" cy="106.3"/><circle cx="372" cy="90.5"/><circle cx="559.3" cy="111.5"/><circle cx="464.1" cy="114"/><circle cx="460.9" cy="107"/><circle cx="430.4" cy="87.6"/><circle cx="424.4" cy="95.3"/><circle cx="610.7" cy="115.2"/><circle cx="629.7" cy="115.4"/><circle cx="472.3" cy="84.7"/><circle cx="578.7" cy="100.6"/><circle cx="551.9" cy="106.3"/><circle cx="490" cy="97.6"/><circle cx="658.9" cy="98.2"/><circle cx="632.8" cy="108.2"/><circle cx="416.6" cy="85.6"/><circle cx="568.7" cy="105.7"/><circle cx="400.1" cy="94.7"/><circle cx="399.2" cy="91.6"/><circle cx="596.7" cy="105.2"/><circle cx="479.7" cy="101"/><circle cx="398.3" cy="86"/><circle cx="569.2" cy="106.7"/><circle cx="430.3" cy="90.9"/><circle cx="661.9" cy="89.9"/><circle cx="370.1" cy="104.4"/><circle cx="440.8" cy="94.4"/><circle cx="606.9" cy="86.4"/><circle cx="578.9" cy="117.2"/><circle cx="528" cy="104.4"/><circle cx="551.5" cy="96"/><circle cx="675.8" cy="103.3"/><circle cx="648.2" cy="112.5"/><circle cx="412" cy="95.6"/><circle cx="676.4" cy="95.8"/><circle cx="409.6" cy="103.3"/><circle cx="634.8" cy="96"/><circle cx="384.5" cy="90.9"/><circle cx="593.6" cy="96"/><circle cx="469.2" cy="97.1"/><circle cx="580.9" cy="89.9"/><circle cx="394.9" cy="112.3"/><circle cx="510.8" cy="117.9"/><circle cx="599.1" cy="91.2"/><circle cx="549.4" cy="91"/><circle cx="614.7" cy="94.6"/><circle cx="451.8" cy="95.7"/><circle cx="418.3" cy="100.6"/><circle cx="370.3" cy="88.4"/><circle cx="583.3" cy="85.8"/><circle cx="650.1" cy="103.6"/><circle cx="625.9" cy="107.6"/><circle cx="579.5" cy="117.7"/><circle cx="503.2" cy="106.4"/><circle cx="549.2" cy="98.4"/><circle cx="427.8" cy="111"/><circle cx="595.3" cy="108.5"/><circle cx="590" cy="111.9"/><circle cx="672.2" cy="116.6"/><circle cx="520.7" cy="100.5"/><circle cx="449.8" cy="111.4"/><circle cx="458.2" cy="113.3"/><circle cx="523.7" cy="116.2"/><circle cx="465.5" cy="103.2"/><circle cx="465.5" cy="88.3"/><circle cx="451.2" cy="105"/><circle cx="529.1" cy="109"/><circle cx="540.7" cy="99.7"/><circle cx="526.9" cy="85.6"/><circle cx="533.2" cy="105.7"/><circle cx="459.5" cy="103.7"/><circle cx="456.8" cy="113.8"/><circle cx="609" cy="107.5"/><circle cx="659.1" cy="106.9"/><circle cx="575.4" cy="117.5"/><circle cx="491.9" cy="98.5"/><circle cx="531.2" cy="102.2"/><circle cx="612.8" cy="95.6"/><circle cx="487.9" cy="97.1"/><circle cx="371.6" cy="95.2"/><circle cx="617" cy="102.3"/><circle cx="587.8" cy="109.8"/><circle cx="663.4" cy="93.4"/><circle cx="528" cy="117.3"/><circle cx="658.8" cy="101.9"/><circle cx="531.9" cy="102.5"/><circle cx="617.7" cy="98.8"/><circle cx="451.2" cy="93.9"/><circle cx="467.4" cy="114.2"/><circle cx="407.2" cy="89.1"/><circle cx="459.3" cy="105.9"/><circle cx="644.5" cy="97.1"/><circle cx="647.3" cy="95.6"/><circle cx="627.6" cy="92.3"/><circle cx="396.9" cy="105.2"/><circle cx="470.3" cy="89.6"/><circle cx="445.1" cy="109.5"/><circle cx="617.2" cy="109.2"/><circle cx="678.7" cy="101.6"/><circle cx="450.4" cy="99.4"/><circle cx="480.7" cy="103"/><circle cx="600.2" cy="94.6"/><circle cx="655.8" cy="111"/><circle cx="571.5" cy="86.1"/><circle cx="649.3" cy="95.7"/><circle cx="366.9" cy="99.5"/><circle cx="420.3" cy="86.4"/><circle cx="453.4" cy="94"/><circle cx="519.6" cy="87.1"/><circle cx="469.8" cy="94.6"/><circle cx="639.4" cy="109.3"/><circle cx="612.1" cy="109.1"/><circle cx="477.8" cy="95.3"/><circle cx="572.2" cy="106.6"/><circle cx="390.4" cy="92.9"/><circle cx="679.1" cy="92.2"/><circle cx="570.2" cy="110.3"/><circle cx="361.8" cy="115"/><circle cx="427.1" cy="108"/><circle cx="513.1" cy="108.7"/><circle cx="486.3" cy="90.1"/><circle cx="582.6" cy="99.9"/><circle cx="427.3" cy="90.8"/><circle cx="581.3" cy="84.6"/><circle cx="644.7" cy="111.5"/><circle cx="489.2" cy="89.2"/><circle cx="452.7" cy="89.5"/><circle cx="631.1" cy="112.8"/><circle cx="419.6" cy="98.8"/><circle cx="404.7" cy="113.6"/><circle cx="424.3" cy="112"/><circle cx="471.3" cy="98.7"/><circle cx="660.5" cy="98.4"/><circle cx="491.9" cy="110.5"/><circle cx="458.7" cy="97.4"/><circle cx="458.6" cy="103.9"/><circle cx="406.6" cy="112.9"/><circle cx="571.4" cy="93.6"/><circle cx="544.1" cy="89.5"/><circle cx="437.6" cy="97.7"/><circle cx="488.7" cy="86.2"/><circle cx="457.5" cy="113.9"/><circle cx="373.9" cy="116.9"/><circle cx="548.6" cy="89.5"/><circle cx="601.4" cy="115.6"/><circle cx="534.8" cy="110.6"/><circle cx="369.2" cy="95.2"/><circle cx="537.9" cy="99.8"/><circle cx="650.4" cy="114.3"/><circle cx="603.2" cy="109.1"/><circle cx="470.1" cy="89.4"/><circle cx="536.5" cy="85.2"/><circle cx="672" cy="112.2"/><circle cx="667.6" cy="94"/><circle cx="536" cy="108.4"/><circle cx="646.1" cy="102.1"/><circle cx="533.3" cy="85.2"/><circle cx="660.1" cy="86.7"/><circle cx="600.3" cy="96.7"/><circle cx="485.4" cy="96.9"/><circle cx="449.9" cy="101.6"/><circle cx="391.6" cy="96.7"/><circle cx="653.1" cy="89.2"/><circle cx="562.7" cy="113.9"/><circle cx="471.8" cy="107.8"/><circle cx="673.1" cy="90.7"/><circle cx="571.3" cy="112.8"/><circle cx="444.4" cy="96.7"/><circle cx="509.9" cy="90.3"/><circle cx="501.1" cy="107.8"/><circle cx="530.4" cy="103.5"/><circle cx="569.8" cy="93"/><circle cx="384.2" cy="101.7"/><circle cx="372.1" cy="93"/><circle cx="553.2" cy="101.9"/><circle cx="664.2" cy="114.2"/><circle cx="379.9" cy="116.8"/><circle cx="478.2" cy="98.3"/><circle cx="552.2" cy="107.3"/><circle cx="551.1" cy="99"/><circle cx="514.3" cy="87.1"/><circle cx="493.7" cy="111.2"/><circle cx="460.7" cy="95.9"/><circle cx="442.6" cy="92.6"/><circle cx="660.3" cy="94.8"/><circle cx="425.3" cy="104.1"/><circle cx="507.6" cy="99.9"/><circle cx="373.1" cy="91.5"/><circle cx="394.9" cy="85.2"/><circle cx="585.6" cy="104.4"/><circle cx="670.9" cy="91.6"/><circle cx="559.9" cy="99.9"/><circle cx="446" cy="99.4"/><circle cx="438.7" cy="91.4"/><circle cx="462.4" cy="112.5"/><circle cx="471.2" cy="105.1"/><circle cx="473.6" cy="89.9"/><circle cx="483.5" cy="108"/><circle cx="520.4" cy="109.7"/><circle cx="564.3" cy="108"/><circle cx="575.4" cy="100"/><circle cx="557.4" cy="109.6"/><circle cx="599.8" cy="94.1"/><circle cx="621.7" cy="115.3"/><circle cx="404.7" cy="110.2"/><circle cx="604.7" cy="99"/><circle cx="579.6" cy="104.2"/><circle cx="516" cy="113.1"/><circle cx="538.9" cy="115.8"/><circle cx="466.7" cy="96.6"/><circle cx="517.5" cy="97.6"/><circle cx="619.1" cy="108.8"/><circle cx="664" cy="110.5"/><circle cx="509.5" cy="112.3"/><circle cx="385.5" cy="95"/><circle cx="367.9" cy="87.9"/><circle cx="436.3" cy="107.1"/><circle cx="602" cy="98.5"/><circle cx="658.1" cy="99.7"/><circle cx="586.7" cy="109"/><circle cx="454.5" cy="91.7"/><circle cx="627.4" cy="112.1"/><circle cx="435.9" cy="99.3"/><circle cx="544.5" cy="107"/><circle cx="492.1" cy="90.5"/><circle cx="499.5" cy="104.9"/><circle cx="608.2" cy="87.3"/><circle cx="401.9" cy="108.3"/><circle cx="552.9" cy="114.1"/><circle cx="676" cy="91.9"/><circle cx="528.2" cy="89.2"/><circle cx="533.3" cy="88.3"/><circle cx="668.6" cy="102.6"/><circle cx="419.9" cy="95.6"/><circle cx="678.2" cy="87.5"/><circle cx="553.3" cy="114.7"/><circle cx="366.4" cy="87.3"/><circle cx="579.1" cy="105.1"/><circle cx="512.4" cy="93.9"/><circle cx="585.6" cy="89.7"/><circle cx="525" cy="86.3"/><circle cx="400.8" cy="105"/><circle cx="597.9" cy="117.7"/><circle cx="677" cy="113.4"/><circle cx="651.7" cy="108.2"/><circle cx="439.3" cy="104.6"/><circle cx="471.8" cy="96.9"/><circle cx="443.8" cy="115.7"/><circle cx="433.4" cy="106.5"/><circle cx="423.6" cy="94.8"/><circle cx="658.9" cy="105.3"/><circle cx="383.5" cy="97.2"/><circle cx="390.9" cy="117.3"/><circle cx="388.3" cy="88.1"/><circle cx="495.2" cy="93.3"/><circle cx="468.2" cy="104.3"/><circle cx="468.3" cy="94.6"/><circle cx="503.1" cy="94.1"/><circle cx="452.5" cy="108.2"/><circle cx="432" cy="95.9"/><circle cx="578.1" cy="87.9"/><circle cx="379.6" cy="112.4"/><circle cx="409.1" cy="96"/><circle cx="366.8" cy="115"/><circle cx="562.2" cy="85.2"/><circle cx="576.1" cy="103"/><circle cx="557.6" cy="90.5"/><circle cx="650.4" cy="98.4"/><circle cx="480.5" cy="101.7"/><circle cx="569.6" cy="108.1"/><circle cx="646.4" cy="112.4"/><circle cx="615.3" cy="115.7"/><circle cx="594" cy="115.5"/><circle cx="595.1" cy="96.1"/><circle cx="541" cy="84.8"/><circle cx="614.5" cy="91.2"/><circle cx="443.7" cy="105.5"/><circle cx="479.4" cy="111.5"/><circle cx="678.8" cy="101.5"/><circle cx="515.9" cy="88.7"/><circle cx="560.9" cy="99.1"/><circle cx="564.2" cy="101.9"/><circle cx="501.3" cy="89.5"/><circle cx="371.4" cy="101"/><circle cx="601.5" cy="105.9"/><circle cx="562.9" cy="92.7"/><circle cx="568.6" cy="109"/><circle cx="466.6" cy="96.7"/><circle cx="423.9" cy="115.7"/><circle cx="608.3" cy="91.2"/><circle cx="616.8" cy="99.4"/><circle cx="549.6" cy="109.2"/><circle cx="478.4" cy="96.9"/><circle cx="362.8" cy="86.2"/><circle cx="413.1" cy="86.4"/><circle cx="617.7" cy="95.1"/><circle cx="445.9" cy="101.7"/><circle cx="420.4" cy="91.3"/><circle cx="464.8" cy="84.7"/><circle cx="367" cy="95.8"/><circle cx="575" cy="90.7"/><circle cx="541.7" cy="117.5"/><circle cx="494.1" cy="108.9"/><circle cx="573.3" cy="115.3"/><circle cx="513.7" cy="104.2"/><circle cx="502.7" cy="106.1"/><circle cx="581.5" cy="94.6"/><circle cx="472.1" cy="90.4"/><circle cx="633.3" cy="105"/><circle cx="497.8" cy="107.5"/><circle cx="675.4" cy="107.2"/><circle cx="664.5" cy="87.3"/><circle cx="461.8" cy="105.5"/><circle cx="389.9" cy="110.5"/><circle cx="665.6" cy="92.7"/><circle cx="453.1" cy="95.8"/><circle cx="679.3" cy="115.3"/><circle cx="470" cy="107.7"/><circle cx="566.6" cy="113.5"/><circle cx="442.2" cy="105.8"/><circle cx="365" cy="117.3"/><circle cx="574.8" cy="111.5"/><circle cx="582.2" cy="108.6"/><circle cx="549.1" cy="115.7"/><circle cx="425.3" cy="101.8"/><circle cx="629.9" cy="94.5"/><circle cx="501.8" cy="118"/><circle cx="480.6" cy="102.3"/><circle cx="383.6" cy="90.3"/><circle cx="494.3" cy="97.8"/><circle cx="640.1" cy="89.5"/><circle cx="449.8" cy="98.6"/><circle cx="522.4" cy="107"/><circle cx="634.2" cy="112.8"/><circle cx="444.4" cy="88.6"/><circle cx="512.5" cy="104.2"/><circle cx="586.6" cy="112.1"/><circle cx="631.3" cy="85.4"/><circle cx="425.6" cy="94.8"/><circle cx="661.8" cy="111"/><circle cx="525.6" cy="105.5"/><circle cx="461" cy="91"/><circle cx="571.3" cy="112.9"/><circle cx="567" cy="103.6"/><circle cx="361.1" cy="95"/><circle cx="680.8" cy="99.5"/><circle cx="665.9" cy="103.4"/><circle cx="531.3" cy="98"/><circle cx="462.1" cy="113.1"/><circle cx="454.1" cy="115"/><circle cx="635.3" cy="101.4"/><circle cx="525.6" cy="114.4"/><circle cx="440.9" cy="111.6"/><circle cx="493.4" cy="103.5"/><circle cx="401.1" cy="104.1"/><circle cx="645.5" cy="84.9"/><circle cx="584.4" cy="110.2"/><circle cx="444.7" cy="108.6"/><circle cx="429.6" cy="106.5"/><circle cx="609.6" cy="85.3"/><circle cx="618.7" cy="103.7"/><circle cx="513.1" cy="96.1"/><circle cx="415.4" cy="110"/><circle cx="587.7" cy="115.8"/><circle cx="386.1" cy="111.3"/><circle cx="470.7" cy="97.8"/><circle cx="534.1" cy="103.8"/><circle cx="651.1" cy="115"/><circle cx="441.6" cy="102.7"/><circle cx="421.6" cy="113.5"/><circle cx="626.5" cy="115.6"/><circle cx="457.2" cy="108.5"/><circle cx="420.1" cy="89.6"/><circle cx="370.9" cy="87.9"/><circle cx="527.5" cy="114.3"/><circle cx="416.1" cy="112.7"/><circle cx="620.8" cy="84.8"/><circle cx="484.9" cy="102.1"/><circle cx="636.6" cy="93.9"/><circle cx="377.9" cy="105.4"/><circle cx="658.1" cy="101.9"/><circle cx="585.4" cy="88.9"/><circle cx="403.6" cy="117.2"/><circle cx="539.7" cy="93.6"/><circle cx="637.9" cy="113.7"/><circle cx="527.2" cy="113.3"/><circle cx="405.9" cy="103.8"/><circle cx="491.1" cy="104.1"/><circle cx="651.6" cy="116.7"/><circle cx="405.9" cy="107.4"/><circle cx="395.9" cy="87.4"/><circle cx="475.1" cy="108.5"/><circle cx="662.8" cy="111.3"/><circle cx="360.6" cy="109.5"/><circle cx="493" cy="103.1"/><circle cx="605.6" cy="89.5"/><circle cx="585.6" cy="91.8"/><circle cx="492.8" cy="112"/><circle cx="519.7" cy="108.1"/><circle cx="414.3" cy="98.3"/><circle cx="679" cy="108.6"/><circle cx="363.6" cy="106.1"/><circle cx="525.3" cy="86.2"/><circle cx="625.4" cy="112.7"/><circle cx="482.9" cy="115.6"/><circle cx="631.5" cy="100.9"/><circle cx="511.9" cy="106.5"/><circle cx="446.3" cy="112.7"/><circle cx="591.4" cy="92.8"/><circle cx="429.1" cy="110.2"/><circle cx="366.8" cy="103"/><circle cx="509.4" cy="94"/><circle cx="430.4" cy="101.4"/><circle cx="544.6" cy="88.7"/><circle cx="651.6" cy="115.6"/><circle cx="413.3" cy="107.2"/><circle cx="533.3" cy="116.1"/><circle cx="594.1" cy="99.9"/><circle cx="468.8" cy="116.8"/><circle cx="483.2" cy="102.7"/><circle cx="592.1" cy="86.4"/><circle cx="470.9" cy="102.9"/><circle cx="422.3" cy="94.1"/><circle cx="646.4" cy="101.8"/><circle cx="582" cy="106.3"/><circle cx="544.4" cy="98.5"/><circle cx="617.3" cy="114"/><circle cx="415" cy="101.1"/><circle cx="479" cy="97.3"/><circle cx="359.9" cy="101.5"/><circle cx="475.1" cy="117.5"/><circle cx="559.6" cy="107.6"/><circle cx="659" cy="116"/><circle cx="496.9" cy="98.5"/><circle cx="483.1" cy="114"/><circle cx="445.3" cy="113.6"/><circle cx="574.5" cy="99.8"/><circle cx="552.8" cy="102.7"/><circle cx="509.1" cy="97.9"/><circle cx="367.2" cy="107.6"/><circle cx="416.4" cy="116.9"/><circle cx="639.6" cy="99"/><circle cx="384.7" cy="116.3"/><circle cx="402.5" cy="117.4"/><circle cx="550.7" cy="89.6"/><circle cx="387.4" cy="85.1"/><circle cx="660" cy="112.5"/><circle cx="544.3" cy="96.6"/><circle cx="504.9" cy="87.3"/><circle cx="612.7" cy="113.3"/><circle cx="607.8" cy="109.6"/><circle cx="604.4" cy="106.2"/><circle cx="611.8" cy="91.5"/><circle cx="514.7" cy="100.7"/><circle cx="406.4" cy="115.7"/><circle cx="541.6" cy="106.7"/><circle cx="608.8" cy="106.5"/><circle cx="393.5" cy="92"/><circle cx="620.9" cy="99.9"/><circle cx="550.7" cy="115.6"/><circle cx="454.9" cy="100.1"/><circle cx="594.7" cy="90.2"/><circle cx="599.2" cy="96.5"/><circle cx="399.4" cy="109.2"/><circle cx="656.7" cy="98.6"/><circle cx="666.6" cy="108.9"/><circle cx="591.6" cy="117.2"/><circle cx="394.8" cy="105.1"/><circle cx="663.3" cy="99"/><circle cx="515.6" cy="108.8"/><circle cx="388.1" cy="103.9"/><circle cx="540.8" cy="111.1"/><circle cx="602.4" cy="114.9"/><circle cx="509.6" cy="90.3"/><circle cx="646.2" cy="116.2"/><circle cx="575.1" cy="96.8"/><circle cx="617.9" cy="99.8"/><circle cx="554.8" cy="111"/><circle cx="573.9" cy="113.4"/><circle cx="398.9" cy="108.5"/><circle cx="557.7" cy="97.5"/><circle cx="664.3" cy="109.4"/><circle cx="517.1" cy="92"/><circle cx="452" cy="103.4"/><circle cx="593.8" cy="103.6"/><circle cx="527.8" cy="107.7"/><circle cx="453.6" cy="108"/><circle cx="623.5" cy="104.6"/><circle cx="609.7" cy="105.7"/><circle cx="530.5" cy="84.6"/><circle cx="677.1" cy="94"/><circle cx="406.4" cy="93.3"/><circle cx="436.5" cy="115.5"/><circle cx="430.8" cy="101.2"/><circle cx="367.2" cy="92.1"/><circle cx="554.1" cy="112.2"/><circle cx="665" cy="103.6"/><circle cx="463.2" cy="88.8"/><circle cx="510.7" cy="93"/><circle cx="461.9" cy="84.8"/><circle cx="526.8" cy="116"/><circle cx="502.3" cy="113.3"/><circle cx="521.3" cy="100.7"/><circle cx="529.1" cy="94.5"/><circle cx="430.1" cy="117.1"/><circle cx="392.7" cy="111.2"/><circle cx="566.2" cy="98.3"/><circle cx="390.1" cy="115"/><circle cx="410.4" cy="113.7"/><circle cx="395.6" cy="117.8"/><circle cx="606.2" cy="103.2"/><circle cx="432.3" cy="88.1"/><circle cx="397.5" cy="107.9"/><circle cx="445.3" cy="90.5"/><circle cx="667.4" cy="95.9"/><circle cx="621.5" cy="115.7"/><circle cx="561.4" cy="97.9"/><circle cx="519.1" cy="107.4"/><circle cx="377.6" cy="104"/><circle cx="370.5" cy="98.8"/><circle cx="466.2" cy="108.4"/><circle cx="647.1" cy="90"/><circle cx="485.9" cy="113.6"/><circle cx="494" cy="105"/><circle cx="438.1" cy="109.9"/><circle cx="471.6" cy="105.7"/><circle cx="517.9" cy="107.2"/><circle cx="418.4" cy="110.4"/><circle cx="519.2" cy="97.7"/><circle cx="384.8" cy="107.5"/><circle cx="420.2" cy="92.3"/><circle cx="481.6" cy="102.9"/><circle cx="584" cy="97.9"/><circle cx="640.1" cy="104.4"/><circle cx="554.5" cy="92.6"/><circle cx="625.7" cy="115.9"/><circle cx="366.8" cy="108.7"/><circle cx="404.2" cy="89"/><circle cx="577.5" cy="88.2"/><circle cx="474.8" cy="117.3"/><circle cx="591.7" cy="92.7"/><circle cx="609.1" cy="103"/><circle cx="552.1" cy="112"/><circle cx="381" cy="108.8"/><circle cx="409.9" cy="118"/><circle cx="645.8" cy="101.7"/><circle cx="391" cy="88.5"/><circle cx="435.5" cy="94.2"/><circle cx="373.6" cy="93.4"/><circle cx="640.1" cy="91.5"/><circle cx="642.9" cy="98.2"/><circle cx="416.7" cy="98.4"/><circle cx="389.4" cy="102.1"/><circle cx="619.1" cy="87.1"/><circle cx="670.8" cy="100.9"/><circle cx="643.9" cy="94.3"/><circle cx="656.4" cy="112"/><circle cx="452.5" cy="115.9"/><circle cx="589.7" cy="110.6"/><circle cx="398.4" cy="93.3"/><circle cx="382.6" cy="90.6"/><circle cx="483.9" cy="85.8"/><circle cx="426.3" cy="96.2"/><circle cx="542.5" cy="85.6"/><circle cx="572.1" cy="99.3"/><circle cx="500.1" cy="99"/><circle cx="404.3" cy="98.4"/><circle cx="640" cy="114.6"/><circle cx="384.5" cy="102.2"/><circle cx="585.2" cy="99.2"/><circle cx="492.9" cy="112.7"/><circle cx="597.8" cy="89.2"/><circle cx="478.4" cy="110.3"/><circle cx="425" cy="99.2"/><circle cx="615.6" cy="114.1"/><circle cx="542.7" cy="87.5"/><circle cx="666.2" cy="92.3"/><circle cx="451.2" cy="86"/><circle cx="674.6" cy="110.2"/><circle cx="545.9" cy="115.8"/><circle cx="468" cy="116.5"/><circle cx="390.8" cy="104.8"/><circle cx="384.8" cy="112.1"/><circle cx="553.3" cy="104"/><circle cx="473.4" cy="93.2"/><circle cx="486.6" cy="113.6"/><circle cx="564.9" cy="94"/><circle cx="480.6" cy="114.2"/><circle cx="405.8" cy="114.9"/><circle cx="417.2" cy="102.1"/><circle cx="560.1" cy="105.8"/><circle cx="624.6" cy="100.2"/><circle cx="672.3" cy="109.5"/><circle cx="519.1" cy="89.1"/><circle cx="453.5" cy="102.8"/><circle cx="579.6" cy="106"/><circle cx="635.5" cy="91.6"/><circle cx="462.1" cy="107.8"/><circle cx="514.9" cy="106.7"/><circle cx="544.5" cy="106.3"/><circle cx="502.9" cy="91.1"/><circle cx="534.6" cy="112.1"/><circle cx="465.3" cy="101.5"/><circle cx="670.8" cy="98.9"/><circle cx="640.8" cy="92.7"/><circle cx="504.8" cy="101.9"/><circle cx="387.5" cy="92.6"/><circle cx="481.5" cy="92.6"/><circle cx="530.4" cy="95.8"/><circle cx="394.9" cy="88.7"/><circle cx="410.5" cy="93.9"/><circle cx="664.9" cy="96.6"/><circle cx="580.9" cy="114.4"/><circle cx="556.4" cy="105.3"/><circle cx="480.8" cy="96.6"/><circle cx="677.4" cy="85.9"/><circle cx="533.2" cy="116.4"/><circle cx="431.6" cy="89.6"/><circle cx="658.8" cy="93.9"/><circle cx="533.4" cy="107.1"/><circle cx="643.7" cy="98.2"/><circle cx="546.4" cy="103.6"/><circle cx="450.3" cy="117.4"/><circle cx="593.6" cy="94.3"/><circle cx="497.1" cy="90"/><circle cx="566.3" cy="114.2"/><circle cx="430.5" cy="108.5"/><circle cx="653.2" cy="86"/><circle cx="466.7" cy="100.1"/><circle cx="442.5" cy="116.9"/><circle cx="371.6" cy="100.3"/><circle cx="587.1" cy="110.7"/><circle cx="460.3" cy="102.5"/><circle cx="639.6" cy="113.3"/><circle cx="503.5" cy="104.6"/><circle cx="561.6" cy="112.8"/><circle cx="420.8" cy="101.8"/><circle cx="630.5" cy="95.6"/><circle cx="528.3" cy="117.6"/><circle cx="543.5" cy="96.7"/><circle cx="452.6" cy="99.8"/><circle cx="509.2" cy="89"/><circle cx="623.6" cy="98.2"/><circle cx="360.9" cy="88.7"/><circle cx="490.4" cy="96.2"/><circle cx="585.3" cy="116.7"/><circle cx="662.9" cy="117.4"/><circle cx="571.5" cy="96.8"/><circle cx="435.5" cy="95.4"/><circle cx="637.6" cy="108.6"/><circle cx="471.7" cy="106.3"/><circle cx="458.6" cy="88.3"/><circle cx="442.1" cy="85.1"/><circle cx="577.5" cy="107.9"/><circle cx="382.1" cy="101.1"/><circle cx="486.9" cy="96.6"/><circle cx="529.5" cy="99.7"/><circle cx="362.5" cy="113.4"/><circle cx="398.8" cy="102.5"/><circle cx="365.2" cy="107"/><circle cx="669.6" cy="87"/><circle cx="503.4" cy="90.4"/><circle cx="549.6" cy="107.9"/><circle cx="640.2" cy="98.5"/><circle cx="679.1" cy="105.9"/><circle cx="442.2" cy="117.6"/><circle cx="449.9" cy="91.9"/><circle cx="526.1" cy="113.5"/><circle cx="570.3" cy="102.9"/><circle cx="403.9" cy="93.8"/><circle cx="393.8" cy="102.2"/><circle cx="507.8" cy="91.2"/><circle cx="459.4" cy="100.2"/><circle cx="407.1" cy="111.2"/><circle cx="633.1" cy="109.6"/><circle cx="363.1" cy="100.9"/><circle cx="600.2" cy="96.2"/><circle cx="367.7" cy="109.3"/><circle cx="617.2" cy="109.9"/><circle cx="612.4" cy="103.2"/><circle cx="612.1" cy="101.3"/><circle cx="377.6" cy="97.8"/><circle cx="499.5" cy="104.8"/><circle cx="527.9" cy="107.9"/><circle cx="535.5" cy="89.7"/><circle cx="485.6" cy="112.7"/><circle cx="669.4" cy="117"/><circle cx="435.1" cy="93.4"/><circle cx="367.6" cy="86.4"/><circle cx="375.7" cy="111.1"/><circle cx="360.3" cy="107.8"/><circle cx="565.4" cy="93.2"/><circle cx="613.1" cy="97.4"/><circle cx="503.3" cy="112"/><circle cx="582.3" cy="110.1"/><circle cx="374.1" cy="100.3"/><circle cx="579.7" cy="103.1"/><circle cx="361.4" cy="90.1"/><circle cx="520" cy="115.1"/><circle cx="679.2" cy="105.5"/><circle cx="554.6" cy="103"/><circle cx="647.9" cy="91.6"/><circle cx="595.5" cy="94.8"/><circle cx="439.7" cy="90.9"/><circle cx="477.5" cy="115"/><circle cx="614.5" cy="91.1"/><circle cx="605.3" cy="99.8"/><circle cx="663.9" cy="90.5"/><circle cx="617.4" cy="95"/><circle cx="608.6" cy="105.4"/><circle cx="564.1" cy="114.7"/><circle cx="543.5" cy="99.7"/><circle cx="541.9" cy="96.4"/><circle cx="668" cy="96.2"/><circle cx="398.7" cy="99"/><circle cx="424.2" cy="101.2"/><circle cx="668.7" cy="112"/><circle cx="574" cy="90.3"/><circle cx="465.8" cy="85.7"/><circle cx="569" cy="99.9"/><circle cx="624.9" cy="117"/><circle cx="571.9" cy="116.2"/><circle cx="631.6" cy="87.6"/><circle cx="495.8" cy="87.1"/><circle cx="504.8" cy="111.8"/><circle cx="409.8" cy="86.2"/><circle cx="574.3" cy="117.2"/><circle cx="582.2" cy="116.4"/><circle cx="431.1" cy="102.2"/><circle cx="615.3" cy="102.7"/><circle cx="628.6" cy="94.7"/><circle cx="679.1" cy="89"/><circle cx="396.9" cy="95.2"/><circle cx="609.6" cy="91.9"/><circle cx="456.4" cy="96.4"/><circle cx="534.1" cy="99.8"/><circle cx="683" cy="114"/><circle cx="675.7" cy="96.8"/><circle cx="620.4" cy="97.5"/><circle cx="400" cy="98"/><circle cx="563.6" cy="110.1"/><circle cx="526.7" cy="115.3"/><circle cx="679.5" cy="99.3"/><circle cx="447.5" cy="94.2"/><circle cx="475.6" cy="87.6"/><circle cx="667.1" cy="98.5"/><circle cx="426.6" cy="112.1"/><circle cx="474" cy="92.7"/><circle cx="422" cy="112.1"/><circle cx="436.8" cy="89.5"/><circle cx="493.6" cy="109.6"/><circle cx="666.5" cy="112.9"/><circle cx="450" cy="86.4"/><circle cx="477.1" cy="99.7"/><circle cx="670.1" cy="111"/><circle cx="585.2" cy="104.6"/><circle cx="527" cy="107.3"/><circle cx="610.5" cy="86"/><circle cx="601.4" cy="104.5"/><circle cx="506.2" cy="91.9"/><circle cx="636.7" cy="110.8"/><circle cx="537.5" cy="110.9"/><circle cx="601.8" cy="110.5"/><circle cx="540.7" cy="101"/><circle cx="570.6" cy="90.7"/><circle cx="485.8" cy="102.7"/><circle cx="501.5" cy="114.8"/><circle cx="579.6" cy="85.7"/><circle cx="612.7" cy="116.6"/><circle cx="376.5" cy="86.5"/><circle cx="580.7" cy="117"/><circle cx="405.9" cy="115.8"/><circle cx="622.7" cy="97"/><circle cx="635.1" cy="91.5"/><circle cx="667.4" cy="113.1"/><circle cx="400.8" cy="90.5"/><circle cx="660.8" cy="88.3"/><circle cx="396.3" cy="110.5"/><circle cx="506.6" cy="116.5"/><circle cx="486.4" cy="94.4"/><circle cx="525.1" cy="111.8"/><circle cx="611" cy="86.8"/><circle cx="622.7" cy="95.1"/><circle cx="596.1" cy="98.8"/><circle cx="571.2" cy="109.9"/><circle cx="624.1" cy="95.2"/><circle cx="575.4" cy="97.9"/><circle cx="362.8" cy="100.8"/><circle cx="379.2" cy="92.8"/><circle cx="378.1" cy="107.4"/><circle cx="677.5" cy="91.9"/><circle cx="450.1" cy="93.6"/><circle cx="455.1" cy="112.6"/><circle cx="517.8" cy="86"/><circle cx="383.4" cy="99.2"/><circle cx="557.9" cy="100.9"/><circle cx="506.5" cy="102.2"/><circle cx="623.7" cy="112.3"/><circle cx="521.3" cy="88.6"/><circle cx="516.2" cy="117"/><circle cx="589.8" cy="108.7"/><circle cx="518.9" cy="85.3"/><circle cx="547.3" cy="93.5"/><circle cx="424.1" cy="91.7"/><circle cx="662.3" cy="85.2"/><circle cx="480.2" cy="94.9"/><circle cx="548.7" cy="106.6"/><circle cx="663.9" cy="116.6"/><circle cx="499.7" cy="93.8"/><circle cx="675.9" cy="100.8"/><circle cx="601.8" cy="97"/><circle cx="506.1" cy="92.4"/><circle cx="547.3" cy="94.4"/><circle cx="415.3" cy="94.6"/><circle cx="578" cy="85.8"/><circle cx="448.5" cy="104.5"/><circle cx="602.5" cy="111.9"/><circle cx="372.8" cy="115.9"/><circle cx="608.3" cy="95.4"/><circle cx="483.8" cy="116.9"/><circle cx="550" cy="113.5"/><circle cx="655.3" cy="95.6"/><circle cx="416.4" cy="95.3"/><circle cx="475.3" cy="94.3"/><circle cx="655.9" cy="100.3"/><circle cx="516.5" cy="103.7"/><circle cx="366.6" cy="92.3"/><circle cx="648.6" cy="102.8"/><circle cx="615.8" cy="117.7"/><circle cx="403.8" cy="86.4"/><circle cx="442" cy="86.2"/><circle cx="414" cy="110.7"/><circle cx="569.2" cy="116"/><circle cx="511" cy="110.1"/><circle cx="500.4" cy="116.6"/><circle cx="495.7" cy="100"/><circle cx="472.1" cy="105.5"/><circle cx="492.7" cy="92.4"/><circle cx="402.2" cy="114.2"/><circle cx="591.5" cy="94.6"/><circle cx="538" cy="117.3"/><circle cx="410.4" cy="111.4"/><circle cx="419" cy="90.3"/><circle cx="584.9" cy="109.8"/><circle cx="580.6" cy="103.1"/><circle cx="606.4" cy="113"/><circle cx="621.4" cy="90.6"/><circle cx="678.8" cy="118"/><circle cx="360.3" cy="104.6"/><circle cx="529.8" cy="103"/><circle cx="397" cy="103.8"/><circle cx="377.5" cy="98.5"/><circle cx="618.6" cy="112.2"/><circle cx="409.8" cy="109.3"/><circle cx="447.5" cy="103.1"/><circle cx="653.6" cy="89.9"/><circle cx="418.1" cy="85.6"/><circle cx="564.7" cy="95"/><circle cx="635.6" cy="110.2"/><circle cx="666.5" cy="109.9"/><circle cx="424.7" cy="114.6"/><circle cx="647.2" cy="111"/><circle cx="512.7" cy="117.6"/><circle cx="659.4" cy="112.9"/><circle cx="386.3" cy="117.9"/><circle cx="449.7" cy="102.4"/><circle cx="518.9" cy="106.9"/><circle cx="392.9" cy="96.5"/><circle cx="519.2" cy="91"/><circle cx="503.2" cy="101.4"/><circle cx="500" cy="117.5"/><circle cx="628.2" cy="110.5"/><circle cx="555.7" cy="113.7"/><circle cx="544.6" cy="110.1"/><circle cx="576.3" cy="97.2"/><circle cx="627" cy="93.8"/><circle cx="455.1" cy="106.7"/><circle cx="440.6" cy="92.8"/><circle cx="565.1" cy="116.2"/><circle cx="525.3" cy="94.3"/><circle cx="571.2" cy="113.9"/><circle cx="391.2" cy="90.5"/><circle cx="504.8" cy="84.7"/><circle cx="441.8" cy="85.1"/><circle cx="414.7" cy="117.1"/><circle cx="671.1" cy="115.4"/><circle cx="467.6" cy="105.1"/><circle cx="380.2" cy="106.5"/><circle cx="479.6" cy="95.7"/><circle cx="569.8" cy="96.6"/><circle cx="413.9" cy="96.7"/><circle cx="408.6" cy="97.1"/><circle cx="510.9" cy="104.1"/><circle cx="504.7" cy="112.9"/><circle cx="395.7" cy="87.4"/><circle cx="481.8" cy="110.1"/><circle cx="626.2" cy="93.4"/><circle cx="574.2" cy="111.5"/><circle cx="602.3" cy="97"/><circle cx="637.6" cy="105.6"/><circle cx="389.2" cy="91.7"/><circle cx="669" cy="99.6"/><circle cx="484.2" cy="86.6"/><circle cx="623.1" cy="112.6"/><circle cx="391.1" cy="116.2"/><circle cx="636.7" cy="103.1"/><circle cx="538.6" cy="109.4"/><circle cx="457.2" cy="111.3"/><circle cx="438.8" cy="110.3"/><circle cx="435.7" cy="95.7"/><circle cx="504.1" cy="112.7"/><circle cx="440.6" cy="114.7"/><circle cx="654.1" cy="94.8"/><circle cx="581.2" cy="107.5"/><circle cx="361.3" cy="96.3"/><circle cx="499.7" cy="115.7"/><circle cx="575.2" cy="116"/><circle cx="394.3" cy="116.5"/><circle cx="546.9" cy="98.3"/><circle cx="453.4" cy="117.6"/><circle cx="421.4" cy="112.9"/><circle cx="602" cy="86"/><circle cx="584.4" cy="88.7"/><circle cx="430.2" cy="98.3"/><circle cx="394.3" cy="114.8"/><circle cx="519.2" cy="107.2"/><circle cx="650.1" cy="90"/><circle cx="423.6" cy="113.4"/><circle cx="457.9" cy="106.4"/><circle cx="396.4" cy="109.2"/><circle cx="420.7" cy="104.9"/><circle cx="663" cy="93"/><circle cx="597.8" cy="91.3"/><circle cx="487.2" cy="105.3"/><circle cx="442.8" cy="117.8"/><circle cx="532.2" cy="106.2"/><circle cx="505" cy="111.9"/><circle cx="472.4" cy="89"/><circle cx="550" cy="112.8"/><circle cx="633.4" cy="99.2"/><circle cx="607.4" cy="104.8"/><circle cx="571.7" cy="110.4"/><circle cx="548.6" cy="116.1"/><circle cx="376.1" cy="101.1"/><circle cx="442.6" cy="109.3"/><circle cx="611.1" cy="105.5"/><circle cx="665.3" cy="89.5"/><circle cx="619" cy="103.3"/><circle cx="371.4" cy="110.1"/><circle cx="559" cy="95.7"/><circle cx="591.8" cy="113"/><circle cx="379.9" cy="99.3"/><circle cx="440.4" cy="115.9"/><circle cx="421.3" cy="91.8"/><circle cx="399.6" cy="102"/><circle cx="677.1" cy="85.2"/><circle cx="449.1" cy="98.9"/><circle cx="421.6" cy="92.8"/><circle cx="492.4" cy="115.2"/><circle cx="596" cy="108"/><circle cx="390.5" cy="94.3"/><circle cx="370.7" cy="104.1"/><circle cx="665.5" cy="94"/><circle cx="614.2" cy="112"/><circle cx="643.5" cy="102.7"/><circle cx="634.9" cy="114.9"/><circle cx="542.3" cy="98.5"/><circle cx="619.5" cy="94"/><circle cx="608.1" cy="108.4"/><circle cx="522.4" cy="115.4"/><circle cx="625.8" cy="104"/><circle cx="571.3" cy="105.4"/><circle cx="606.4" cy="98.6"/><circle cx="360" cy="106.4"/><circle cx="505.9" cy="87.1"/><circle cx="493" cy="105.9"/><circle cx="481" cy="110.8"/><circle cx="661.2" cy="115.4"/><circle cx="640.4" cy="114.9"/><circle cx="572.7" cy="107.4"/><circle cx="492.8" cy="104.5"/><circle cx="436.5" cy="94.5"/><circle cx="400.9" cy="88.7"/><circle cx="610.8" cy="111"/><circle cx="649.1" cy="93.6"/><circle cx="583.3" cy="115.3"/><circle cx="386.1" cy="101.4"/><circle cx="613.7" cy="113.4"/><circle cx="629.4" cy="101.5"/><circle cx="432.4" cy="103.6"/><circle cx="384.3" cy="113.2"/><circle cx="526.9" cy="102.7"/><circle cx="481.5" cy="89.9"/><circle cx="474.3" cy="90.5"/><circle cx="576.3" cy="104.9"/><circle cx="529.1" cy="101.3"/><circle cx="507.5" cy="88.7"/><circle cx="635.4" cy="90.2"/><circle cx="482.5" cy="110.7"/><circle cx="616.8" cy="87.6"/><circle cx="668.1" cy="113.3"/><circle cx="659.1" cy="107.7"/><circle cx="385.4" cy="91.4"/><circle cx="659.7" cy="107.4"/><circle cx="466.2" cy="98.4"/><circle cx="479.4" cy="111"/><circle cx="443.8" cy="90.5"/><circle cx="591.2" cy="109.1"/><circle cx="649.8" cy="97.6"/><circle cx="516.2" cy="87.5"/><circle cx="406.3" cy="96.7"/><circle cx="458.9" cy="114.1"/><circle cx="593.9" cy="88.7"/><circle cx="572.1" cy="114"/><circle cx="643.8" cy="108.1"/><circle cx="411.8" cy="91.7"/><circle cx="559.4" cy="106.5"/><circle cx="472.7" cy="89.4"/><circle cx="585.7" cy="105.6"/><circle cx="652.2" cy="108.2"/><circle cx="488" cy="99.4"/><circle cx="375.8" cy="95"/><circle cx="480.4" cy="89.2"/><circle cx="363.6" cy="110.3"/><circle cx="614.9" cy="105.7"/><circle cx="534.2" cy="113.6"/><circle cx="545.3" cy="110.4"/><circle cx="532.8" cy="87.3"/><circle cx="362.3" cy="99.4"/><circle cx="456.4" cy="98.6"/><circle cx="396.8" cy="115.8"/><circle cx="488.9" cy="115.6"/><circle cx="662.7" cy="105.3"/><circle cx="491.2" cy="102"/><circle cx="455.1" cy="107.7"/><circle cx="421.4" cy="95.9"/><circle cx="664.3" cy="105.4"/><circle cx="388.7" cy="97.7"/><circle cx="643.6" cy="116.3"/><circle cx="619.3" cy="97.3"/><circle cx="610.5" cy="107.1"/><circle cx="467.7" cy="99.8"/><circle cx="412.5" cy="108.1"/><circle cx="652.3" cy="95.9"/><circle cx="522.8" cy="115.4"/><circle cx="649" cy="98.9"/><circle cx="582.5" cy="117.9"/><circle cx="662.6" cy="110.1"/><circle cx="468.1" cy="109.2"/><circle cx="680.6" cy="94.5"/><circle cx="474.9" cy="96.2"/><circle cx="648.3" cy="112.3"/><circle cx="559.1" cy="105.6"/><circle cx="503" cy="91.6"/><circle cx="430.6" cy="117.9"/><circle cx="530.6" cy="117"/><circle cx="418.3" cy="115.2"/><circle cx="668.7" cy="99.4"/><circle cx="387.3" cy="96.9"/><circle cx="594.8" cy="111.3"/><circle cx="573" cy="102.6"/><circle cx="503.1" cy="96.3"/><circle cx="643" cy="103.5"/><circle cx="567.1" cy="104.5"/><circle cx="380.4" cy="92.1"/><circle cx="564.3" cy="93.1"/><circle cx="633.3" cy="111.8"/><circle cx="422.9" cy="113.3"/><circle cx="636.3" cy="92.2"/><circle cx="474.2" cy="106.4"/><circle cx="377.6" cy="85.3"/><circle cx="616.5" cy="91"/><circle cx="569" cy="104.6"/><circle cx="438.4" cy="107.1"/><circle cx="636.6" cy="107.3"/><circle cx="458.9" cy="106.9"/><circle cx="497" cy="108.1"/><circle cx="480.2" cy="95"/><circle cx="674.4" cy="100.4"/><circle cx="409.1" cy="99.6"/><circle cx="631.7" cy="98.5"/><circle cx="611.9" cy="106.8"/><circle cx="377.9" cy="100.7"/><circle cx="601.6" cy="105.4"/><circle cx="399.2" cy="101.5"/><circle cx="659.4" cy="116.8"/><circle cx="648.3" cy="116.3"/><circle cx="509.6" cy="116.4"/><circle cx="669.6" cy="107.7"/><circle cx="554.9" cy="117.1"/><circle cx="477.1" cy="100.5"/><circle cx="565.3" cy="94.4"/><circle cx="530.1" cy="97.1"/><circle cx="383.2" cy="87.5"/><circle cx="514.3" cy="94.9"/><circle cx="369.5" cy="112.8"/><circle cx="417.1" cy="108.8"/><circle cx="655.6" cy="87.5"/><circle cx="375.2" cy="93.7"/><circle cx="376.8" cy="117.1"/><circle cx="393.9" cy="109.6"/><circle cx="454.6" cy="104"/><circle cx="528.6" cy="107.7"/><circle cx="525.3" cy="90"/><circle cx="446.8" cy="109.2"/><circle cx="548.8" cy="90.2"/><circle cx="651.9" cy="90.2"/><circle cx="501.5" cy="105.7"/><circle cx="399.6" cy="99.7"/><circle cx="535.7" cy="97.3"/><circle cx="605.6" cy="104.5"/><circle cx="459.4" cy="98.1"/><circle cx="594" cy="105.2"/><circle cx="591.4" cy="118"/><circle cx="629.9" cy="117.4"/><circle cx="545.3" cy="94.2"/><circle cx="666.6" cy="96.2"/><circle cx="523.3" cy="116.6"/><circle cx="656.7" cy="111"/><circle cx="468.3" cy="103.7"/><circle cx="450.9" cy="102.3"/><circle cx="402.1" cy="112.6"/><circle cx="558.6" cy="104.5"/><circle cx="558.3" cy="103.8"/><circle cx="463" cy="104.5"/><circle cx="492.6" cy="98.2"/><circle cx="471.5" cy="96.5"/><circle cx="631.3" cy="104.3"/><circle cx="553.9" cy="98"/><circle cx="571.6" cy="111.7"/><circle cx="565" cy="114.5"/><circle cx="387.5" cy="97.8"/><circle cx="621.1" cy="103.3"/><circle cx="489.2" cy="109.2"/><circle cx="611.1" cy="107.4"/><circle cx="396.5" cy="88.4"/><circle cx="366.4" cy="92.7"/><circle cx="594.8" cy="96"/><circle cx="672" cy="99.2"/><circle cx="602.1" cy="113.8"/><circle cx="519.6" cy="94"/><circle cx="473.1" cy="110.9"/><circle cx="580.5" cy="102.8"/><circle cx="425.9" cy="107.5"/><circle cx="405.3" cy="117.6"/><circle cx="562.2" cy="92.9"/><circle cx="576.3" cy="93.8"/><circle cx="543.6" cy="102.5"/><circle cx="550.8" cy="116.5"/><circle cx="584.7" cy="106.8"/><circle cx="488" cy="93.2"/><circle cx="493.8" cy="117.8"/><circle cx="384.9" cy="90.9"/><circle cx="678.8" cy="111.4"/><circle cx="421.8" cy="109.8"/><circle cx="644.3" cy="95.2"/><circle cx="366.2" cy="96.9"/><circle cx="467.5" cy="95.4"/><circle cx="473.5" cy="98.8"/><circle cx="594" cy="112.8"/><circle cx="442.5" cy="100.6"/><circle cx="449.9" cy="105.2"/><circle cx="369.9" cy="104.4"/><circle cx="561.5" cy="115.3"/><circle cx="488.9" cy="93.5"/><circle cx="489.4" cy="111.1"/><circle cx="596.3" cy="84.6"/><circle cx="369.7" cy="114.8"/><circle cx="520.1" cy="86.1"/><circle cx="563.4" cy="111.3"/><circle cx="364.5" cy="102.3"/><circle cx="469.6" cy="116.1"/><circle cx="529" cy="109"/><circle cx="394.1" cy="102.2"/><circle cx="454.7" cy="93.3"/><circle cx="419" cy="85.3"/><circle cx="599.2" cy="91.2"/><circle cx="583.1" cy="104.2"/><circle cx="606.8" cy="113.1"/><circle cx="533.7" cy="116.4"/><circle cx="403.6" cy="98.7"/><circle cx="558.5" cy="86.9"/><circle cx="569.8" cy="115.8"/><circle cx="549" cy="110.6"/><circle cx="617.6" cy="98.6"/><circle cx="667" cy="105.3"/><circle cx="403.8" cy="85.1"/><circle cx="580" cy="107.2"/><circle cx="674.8" cy="100.1"/><circle cx="383.3" cy="87.9"/><circle cx="380.4" cy="110"/><circle cx="606.8" cy="106.3"/><circle cx="554.3" cy="116"/><circle cx="484.7" cy="101.7"/><circle cx="379.2" cy="103.4"/><circle cx="454" cy="100.9"/><circle cx="545" cy="98.8"/><circle cx="370.3" cy="117.3"/><circle cx="561.1" cy="100.6"/><circle cx="431.7" cy="111.5"/><circle cx="388.8" cy="110.8"/><circle cx="568.4" cy="102"/><circle cx="530.1" cy="90.2"/><circle cx="423.3" cy="101.8"/><circle cx="398.6" cy="95.8"/><circle cx="633.1" cy="96.1"/><circle cx="636.2" cy="93.8"/><circle cx="602.8" cy="112.8"/><circle cx="671.2" cy="115.8"/><circle cx="607.2" cy="115.5"/><circle cx="575.6" cy="86.4"/><circle cx="442" cy="100.5"/><circle cx="516.5" cy="106.6"/><circle cx="565.9" cy="91.4"/><circle cx="627.6" cy="115"/><circle cx="507" cy="116.2"/><circle cx="426.5" cy="95.6"/><circle cx="618.4" cy="111.5"/><circle cx="393.9" cy="101.5"/><circle cx="360.1" cy="96.8"/><circle cx="564.1" cy="88"/><circle cx="672.7" cy="107.4"/><circle cx="560.7" cy="115.5"/><circle cx="644.6" cy="106.5"/><circle cx="545.3" cy="104.5"/><circle cx="528.4" cy="102.5"/><circle cx="556.1" cy="92.4"/><circle cx="509.2" cy="115.5"/><circle cx="383.4" cy="117.3"/><circle cx="412.1" cy="93.3"/><circle cx="570.3" cy="87"/><circle cx="570.1" cy="93"/><circle cx="443.5" cy="108.3"/><circle cx="507" cy="104.8"/><circle cx="558.2" cy="95.3"/><circle cx="667.3" cy="100.7"/><circle cx="424.6" cy="101.7"/><circle cx="681.8" cy="87.1"/><circle cx="500.6" cy="103.6"/><circle cx="675" cy="100.7"/><circle cx="552.5" cy="94.5"/><circle cx="425.3" cy="92.1"/><circle cx="469.7" cy="96.7"/><circle cx="392.3" cy="102.1"/><circle cx="421.3" cy="108.7"/><circle cx="622.9" cy="117.6"/><circle cx="441.1" cy="98.3"/><circle cx="467.7" cy="99.4"/><circle cx="667.5" cy="114.5"/><circle cx="426.6" cy="105.6"/><circle cx="596.5" cy="108.3"/><circle cx="435.6" cy="91.9"/><circle cx="410.5" cy="117.1"/><circle cx="518.9" cy="111"/><circle cx="621.1" cy="103.3"/><circle cx="609.5" cy="88.3"/><circle cx="529.9" cy="117.9"/><circle cx="553.9" cy="107.4"/><circle cx="445.2" cy="114.5"/><circle cx="674.4" cy="105.3"/><circle cx="644.7" cy="95.1"/><circle cx="412.3" cy="106.7"/><circle cx="538.3" cy="117.7"/><circle cx="569.7" cy="89.4"/><circle cx="680.6" cy="84.7"/><circle cx="431.6" cy="115"/><circle cx="393.6" cy="109.2"/><circle cx="542.8" cy="90.4"/><circle cx="613.6" cy="93.7"/><circle cx="654.9" cy="110.3"/><circle cx="469.2" cy="107"/><circle cx="536.3" cy="104.7"/><circle cx="480.5" cy="110.9"/><circle cx="626.4" cy="105.7"/><circle cx="545.8" cy="102.1"/><circle cx="531" cy="87"/><circle cx="448.9" cy="106.7"/><circle cx="457.8" cy="117.1"/><circle cx="384.8" cy="92.6"/><circle cx="674.7" cy="92.3"/><circle cx="430.5" cy="107.7"/><circle cx="432.9" cy="98.1"/><circle cx="507.1" cy="108.7"/><circle cx="508.9" cy="111.4"/><circle cx="415.3" cy="88.6"/><circle cx="656.8" cy="107.2"/><circle cx="480" cy="89.2"/><circle cx="403.9" cy="91.9"/><circle cx="510.8" cy="85.8"/><circle cx="533.5" cy="97.2"/></g><g style="--r:.9"><circle cx="439" cy="82.4"/><circle cx="661.2" cy="81.6"/><circle cx="403" cy="82.3"/><circle cx="403.4" cy="84.1"/><circle cx="632.4" cy="83.7"/><circle cx="578.2" cy="82.9"/><circle cx="386.7" cy="83.8"/><circle cx="545.3" cy="84.5"/><circle cx="678" cy="82.2"/><circle cx="455.4" cy="81"/><circle cx="497.4" cy="81.8"/><circle cx="445.6" cy="79.5"/><circle cx="419.8" cy="80"/><circle cx="464.2" cy="82.5"/><circle cx="403" cy="82.4"/><circle cx="557.4" cy="80.9"/><circle cx="516.1" cy="82.6"/><circle cx="558.1" cy="81.7"/><circle cx="524" cy="81.4"/><circle cx="629.1" cy="82.6"/><circle cx="590.7" cy="80.4"/><circle cx="539.9" cy="79.5"/><circle cx="407" cy="84.5"/><circle cx="644" cy="84"/><circle cx="601.5" cy="79.6"/><circle cx="562.2" cy="80.7"/><circle cx="664.1" cy="83.9"/><circle cx="456.2" cy="81.6"/><circle cx="615.3" cy="82.2"/><circle cx="374.2" cy="79.1"/><circle cx="639.2" cy="82.2"/><circle cx="381.5" cy="82.9"/><circle cx="378.5" cy="82.5"/><circle cx="463.4" cy="81.1"/><circle cx="440.7" cy="84.2"/><circle cx="594.4" cy="83.2"/><circle cx="448.9" cy="84.1"/><circle cx="521.6" cy="79.6"/><circle cx="389" cy="79.2"/><circle cx="627.5" cy="84.2"/><circle cx="499.9" cy="80.8"/><circle cx="585" cy="80.6"/><circle cx="398.7" cy="82.4"/><circle cx="625.9" cy="82.2"/><circle cx="389.3" cy="80.6"/><circle cx="590.7" cy="84.4"/><circle cx="521.2" cy="81.8"/><circle cx="664.4" cy="80.1"/><circle cx="580" cy="82.9"/><circle cx="476" cy="81.4"/><circle cx="512.3" cy="83.4"/><circle cx="533.7" cy="81.1"/><circle cx="659.3" cy="80"/><circle cx="489.7" cy="82.8"/><circle cx="363.7" cy="80.9"/><circle cx="668.7" cy="82.5"/><circle cx="458.4" cy="82.2"/><circle cx="642.9" cy="79.1"/><circle cx="619.7" cy="80.2"/><circle cx="414.9" cy="79.5"/><circle cx="439.8" cy="84"/><circle cx="432.8" cy="82.6"/><circle cx="461.1" cy="84.4"/><circle cx="530.7" cy="81"/><circle cx="514.6" cy="79.1"/><circle cx="371" cy="80.1"/><circle cx="640.2" cy="82.2"/><circle cx="418" cy="82.4"/><circle cx="558.8" cy="83.3"/><circle cx="610.2" cy="81.4"/><circle cx="661.9" cy="81.7"/><circle cx="417.8" cy="81.4"/><circle cx="372.2" cy="81.4"/><circle cx="381.1" cy="82.1"/><circle cx="650" cy="80.8"/><circle cx="383.3" cy="82.7"/><circle cx="398.2" cy="79.1"/><circle cx="472.9" cy="83.4"/><circle cx="674.2" cy="79.4"/><circle cx="462.4" cy="83.4"/><circle cx="393" cy="79.2"/><circle cx="625.4" cy="81.9"/><circle cx="469.1" cy="84.3"/><circle cx="528.3" cy="82.3"/><circle cx="475.4" cy="80.9"/><circle cx="464.2" cy="81.9"/><circle cx="623.5" cy="82"/><circle cx="560" cy="81.2"/><circle cx="542.4" cy="81.4"/><circle cx="543.8" cy="84.1"/><circle cx="624.7" cy="81.6"/><circle cx="599.2" cy="84.3"/><circle cx="471.1" cy="83.6"/><circle cx="412.6" cy="80.8"/><circle cx="558.4" cy="83"/><circle cx="379.4" cy="83.8"/><circle cx="438" cy="83.2"/><circle cx="424.9" cy="82"/><circle cx="400" cy="82.6"/><circle cx="507.4" cy="83.1"/><circle cx="674.7" cy="83.8"/><circle cx="461.3" cy="80.2"/><circle cx="458.5" cy="83.6"/><circle cx="513.2" cy="80.7"/><circle cx="642.2" cy="84.4"/><circle cx="642.6" cy="82.2"/><circle cx="650.4" cy="81.4"/><circle cx="609.2" cy="83.4"/><circle cx="624.5" cy="80.1"/><circle cx="620.5" cy="80.3"/><circle cx="364.6" cy="82.6"/><circle cx="584.8" cy="83"/><circle cx="543.1" cy="79.2"/><circle cx="480.1" cy="84"/><circle cx="426.9" cy="79.9"/><circle cx="412.4" cy="83.4"/><circle cx="583.4" cy="80.9"/><circle cx="604" cy="82.6"/><circle cx="608.9" cy="84.4"/><circle cx="664.9" cy="80.7"/><circle cx="559.1" cy="83"/><circle cx="583.3" cy="82.1"/><circle cx="463.7" cy="82.5"/><circle cx="541.9" cy="79.4"/><circle cx="626" cy="82.8"/><circle cx="403.7" cy="81.4"/><circle cx="381.4" cy="81.8"/><circle cx="677.4" cy="83.8"/><circle cx="577.7" cy="80.1"/><circle cx="475.4" cy="80.2"/><circle cx="442.9" cy="84.1"/><circle cx="593.4" cy="80.1"/><circle cx="400.2" cy="81.9"/><circle cx="366.6" cy="84.1"/><circle cx="582.5" cy="80.4"/><circle cx="571.7" cy="78.9"/><circle cx="553.4" cy="80.1"/><circle cx="551" cy="83"/><circle cx="656.3" cy="82.6"/><circle cx="492.5" cy="82.8"/><circle cx="493.4" cy="84.2"/><circle cx="453.1" cy="83"/><circle cx="476.1" cy="80"/><circle cx="527.8" cy="81"/><circle cx="452.3" cy="82.4"/><circle cx="547" cy="81.6"/><circle cx="442.3" cy="83.1"/><circle cx="362.8" cy="80"/><circle cx="648" cy="79"/><circle cx="432.3" cy="79.6"/><circle cx="636.2" cy="84.4"/><circle cx="619.4" cy="83.4"/><circle cx="369.8" cy="83.3"/><circle cx="374.8" cy="79.9"/><circle cx="662.9" cy="84.1"/><circle cx="462.6" cy="83.4"/><circle cx="535.8" cy="80.2"/><circle cx="557.4" cy="82.5"/><circle cx="489.2" cy="83.1"/><circle cx="377.6" cy="81.6"/><circle cx="381.8" cy="81.7"/><circle cx="544.5" cy="81.1"/><circle cx="404.4" cy="82.3"/><circle cx="374.4" cy="84.2"/><circle cx="557.6" cy="84.4"/><circle cx="422.4" cy="79.7"/><circle cx="408.2" cy="79.5"/><circle cx="377.3" cy="79.8"/><circle cx="668.6" cy="83"/><circle cx="486.9" cy="80.2"/><circle cx="397.1" cy="82.3"/><circle cx="649.5" cy="80.6"/><circle cx="441" cy="79.1"/><circle cx="615.9" cy="82"/><circle cx="582.2" cy="80.6"/><circle cx="583.7" cy="83.2"/><circle cx="580.1" cy="82.5"/><circle cx="546.5" cy="84.2"/><circle cx="581.2" cy="84.4"/><circle cx="408.7" cy="80.4"/><circle cx="653.1" cy="82.2"/><circle cx="595.8" cy="83.6"/><circle cx="608.1" cy="84.5"/><circle cx="636.5" cy="82.5"/><circle cx="478.3" cy="80.1"/><circle cx="672" cy="83.9"/><circle cx="631.6" cy="81.6"/><circle cx="599.2" cy="84.5"/><circle cx="359.9" cy="81.2"/><circle cx="591.7" cy="81.6"/><circle cx="623.7" cy="82"/><circle cx="473" cy="83.8"/><circle cx="521.7" cy="80.7"/><circle cx="648.9" cy="81.7"/><circle cx="615.1" cy="82.6"/><circle cx="454.8" cy="82.1"/><circle cx="402.8" cy="81.3"/><circle cx="500.1" cy="81"/><circle cx="371.2" cy="81"/><circle cx="405.7" cy="84.4"/><circle cx="549.9" cy="81.6"/><circle cx="440" cy="82.2"/><circle cx="660.4" cy="80.5"/><circle cx="551.3" cy="81.1"/><circle cx="658.1" cy="83.4"/><circle cx="616.4" cy="82.6"/><circle cx="376.7" cy="79.7"/><circle cx="444.7" cy="84.2"/><circle cx="406" cy="82"/><circle cx="431.8" cy="80"/><circle cx="559.8" cy="82.4"/><circle cx="402.6" cy="82.4"/><circle cx="597.7" cy="83.7"/><circle cx="527.5" cy="83.5"/><circle cx="683.6" cy="80.2"/><circle cx="371.9" cy="80.1"/><circle cx="369" cy="84.2"/><circle cx="430.7" cy="79.9"/><circle cx="393.7" cy="81.2"/><circle cx="643" cy="84.2"/><circle cx="526" cy="81.4"/><circle cx="579.6" cy="84.2"/><circle cx="668.9" cy="84.5"/><circle cx="392.6" cy="81.3"/><circle cx="413.4" cy="84.2"/><circle cx="468.8" cy="81.7"/><circle cx="611" cy="80.8"/><circle cx="554.3" cy="80.3"/><circle cx="597.4" cy="79.4"/><circle cx="637.7" cy="79.5"/><circle cx="520.2" cy="84.4"/><circle cx="501.6" cy="80.3"/><circle cx="422.6" cy="84"/><circle cx="429" cy="83.7"/><circle cx="669.3" cy="82.7"/><circle cx="473.1" cy="80"/><circle cx="463.3" cy="81.7"/><circle cx="425" cy="80.5"/><circle cx="386.8" cy="82.4"/><circle cx="478.6" cy="84.5"/><circle cx="402.7" cy="81.5"/><circle cx="577.6" cy="83.9"/><circle cx="478.9" cy="84.1"/><circle cx="661.6" cy="81.4"/><circle cx="394.2" cy="84.5"/><circle cx="464.5" cy="84"/><circle cx="508.8" cy="80.3"/><circle cx="428.1" cy="81.5"/><circle cx="483.8" cy="81.3"/><circle cx="498.8" cy="80.3"/><circle cx="626.8" cy="79.7"/><circle cx="681.6" cy="83.6"/><circle cx="512" cy="84.2"/><circle cx="528.1" cy="82.6"/><circle cx="561.3" cy="81.1"/><circle cx="520.6" cy="83.4"/><circle cx="384.7" cy="81.9"/><circle cx="675.1" cy="83.9"/><circle cx="409.4" cy="83.1"/><circle cx="656.9" cy="83.8"/><circle cx="443.4" cy="84.5"/><circle cx="414.1" cy="79.7"/><circle cx="540.1" cy="83.1"/><circle cx="623.5" cy="82.3"/><circle cx="505.1" cy="81.9"/><circle cx="382.4" cy="82.2"/><circle cx="437.5" cy="82.6"/><circle cx="402" cy="84"/><circle cx="539" cy="79"/><circle cx="434.1" cy="84.3"/><circle cx="649.3" cy="80.3"/><circle cx="503.3" cy="83.4"/><circle cx="409.2" cy="82.5"/><circle cx="673.5" cy="82.3"/><circle cx="640.4" cy="83.3"/><circle cx="374.5" cy="79.5"/><circle cx="484.4" cy="81.4"/><circle cx="469.8" cy="83.5"/><circle cx="616.6" cy="83.8"/><circle cx="480.4" cy="83.8"/><circle cx="487.9" cy="81.2"/><circle cx="668.2" cy="80.7"/></g><g style="--r:1"><circle cx="676.8" cy="78.8"/><circle cx="514.4" cy="76.7"/><circle cx="617.3" cy="75.7"/><circle cx="590.6" cy="78.8"/><circle cx="613.9" cy="76.6"/><circle cx="502.8" cy="75.8"/><circle cx="382.7" cy="76.4"/><circle cx="559.7" cy="76.4"/><circle cx="642.3" cy="74.2"/><circle cx="494.9" cy="75.2"/><circle cx="672" cy="77.1"/><circle cx="462.6" cy="76.4"/><circle cx="529.9" cy="75.4"/><circle cx="498.6" cy="74.5"/><circle cx="664" cy="78.5"/><circle cx="403.1" cy="74.7"/><circle cx="422.4" cy="78.8"/><circle cx="386.9" cy="78"/><circle cx="413.1" cy="78.1"/><circle cx="657.4" cy="75.5"/><circle cx="592.7" cy="74.2"/><circle cx="453.7" cy="77.4"/><circle cx="564.6" cy="75.1"/><circle cx="668.2" cy="77.7"/><circle cx="472.1" cy="78.1"/><circle cx="581" cy="74.1"/><circle cx="482.1" cy="74.1"/><circle cx="634.1" cy="74.6"/><circle cx="678.9" cy="78.9"/><circle cx="527.9" cy="76.4"/><circle cx="635.9" cy="78.7"/><circle cx="477.1" cy="74.9"/><circle cx="364.4" cy="75.9"/><circle cx="485.1" cy="78.8"/><circle cx="629.1" cy="78.2"/><circle cx="572.7" cy="78.5"/><circle cx="627.2" cy="78.8"/><circle cx="386.6" cy="76.8"/><circle cx="684" cy="77.3"/><circle cx="491.9" cy="76.3"/><circle cx="507.1" cy="77.2"/><circle cx="549.1" cy="74"/><circle cx="628.4" cy="76.6"/><circle cx="512.6" cy="77.2"/><circle cx="583.6" cy="76.7"/><circle cx="545.6" cy="75.7"/><circle cx="410.2" cy="75.2"/><circle cx="499.1" cy="77.2"/><circle cx="410.3" cy="77.1"/><circle cx="678.2" cy="77.5"/><circle cx="617" cy="74.6"/><circle cx="384.3" cy="74.8"/><circle cx="389.1" cy="78.4"/><circle cx="540.7" cy="78.8"/><circle cx="671.4" cy="78.8"/><circle cx="434.4" cy="75.9"/><circle cx="445.3" cy="75.9"/><circle cx="617.1" cy="77.9"/><circle cx="608.2" cy="78.8"/><circle cx="679.4" cy="77.9"/><circle cx="421.9" cy="77.5"/><circle cx="362.7" cy="74.1"/><circle cx="624.8" cy="75.7"/><circle cx="483.5" cy="75.5"/><circle cx="610.2" cy="76.4"/><circle cx="622.8" cy="78.1"/><circle cx="474.4" cy="75.7"/><circle cx="672.7" cy="75.1"/><circle cx="574.6" cy="74.5"/><circle cx="437.5" cy="78.1"/><circle cx="521.5" cy="77.2"/><circle cx="379.3" cy="75"/><circle cx="509.4" cy="74.5"/><circle cx="471.8" cy="75.6"/><circle cx="617.1" cy="78.4"/><circle cx="670.8" cy="78"/><circle cx="428.4" cy="76.5"/><circle cx="362.1" cy="77.5"/><circle cx="577.9" cy="75.2"/><circle cx="541.9" cy="77.6"/><circle cx="613.2" cy="77.1"/><circle cx="526" cy="75.3"/><circle cx="656.8" cy="76.7"/><circle cx="610.7" cy="76.8"/><circle cx="394.4" cy="76.8"/><circle cx="581.1" cy="78.8"/><circle cx="440.4" cy="78.5"/><circle cx="480.2" cy="77.8"/><circle cx="606.2" cy="78.6"/><circle cx="523.2" cy="77.4"/><circle cx="455.9" cy="78.5"/><circle cx="653.1" cy="74.4"/><circle cx="596.8" cy="76.7"/><circle cx="662" cy="76.8"/><circle cx="677.1" cy="77.7"/><circle cx="602.9" cy="74"/><circle cx="664.5" cy="77.8"/><circle cx="626.6" cy="76.9"/><circle cx="626.4" cy="78.1"/><circle cx="387" cy="77.4"/><circle cx="656.8" cy="74.1"/><circle cx="638.1" cy="77.5"/><circle cx="389" cy="75.7"/><circle cx="503.3" cy="77.6"/><circle cx="570.8" cy="76.9"/><circle cx="369.9" cy="75.6"/><circle cx="581.4" cy="73.9"/><circle cx="520.3" cy="75.5"/><circle cx="563.8" cy="74.7"/><circle cx="460" cy="74.8"/><circle cx="648.9" cy="77.2"/><circle cx="442" cy="76.4"/><circle cx="661.3" cy="76.2"/><circle cx="433.9" cy="77.5"/><circle cx="386.7" cy="75.3"/><circle cx="615" cy="74.2"/><circle cx="524.1" cy="77.4"/><circle cx="658.5" cy="76.3"/><circle cx="614.9" cy="76.1"/><circle cx="495.4" cy="76.7"/><circle cx="515" cy="78.3"/><circle cx="539.3" cy="76"/><circle cx="505.2" cy="78.2"/><circle cx="398.5" cy="77.6"/><circle cx="359.8" cy="74.7"/><circle cx="644.4" cy="74.2"/><circle cx="381.7" cy="77.2"/><circle cx="402.6" cy="77.3"/><circle cx="620.4" cy="74.1"/><circle cx="641.1" cy="78.2"/><circle cx="577.4" cy="77.8"/><circle cx="395.2" cy="76.8"/><circle cx="544.3" cy="76.5"/><circle cx="455" cy="74.6"/><circle cx="413" cy="77.8"/><circle cx="550.4" cy="74.1"/><circle cx="408.4" cy="76.8"/><circle cx="613.3" cy="76.6"/><circle cx="532.3" cy="74.1"/><circle cx="496" cy="75"/><circle cx="362.5" cy="75.3"/><circle cx="407.3" cy="78.4"/><circle cx="523.6" cy="78.8"/><circle cx="379.5" cy="74.9"/><circle cx="565" cy="78"/><circle cx="390.1" cy="77.8"/><circle cx="663.2" cy="75.9"/><circle cx="505.5" cy="76"/><circle cx="518.3" cy="76"/><circle cx="571.8" cy="75"/><circle cx="629.7" cy="78.1"/><circle cx="497.6" cy="77"/><circle cx="671.9" cy="78.8"/><circle cx="469.4" cy="74.6"/><circle cx="609.1" cy="75.2"/><circle cx="489.4" cy="75.8"/><circle cx="552.6" cy="76.7"/><circle cx="576.9" cy="75.1"/><circle cx="458.4" cy="74.3"/><circle cx="464.3" cy="76.5"/><circle cx="622.7" cy="75.4"/><circle cx="546" cy="78.8"/><circle cx="635.4" cy="78.6"/><circle cx="563.5" cy="74"/><circle cx="651.5" cy="75.8"/><circle cx="362.3" cy="77.8"/><circle cx="671.7" cy="76"/><circle cx="638.7" cy="78.9"/><circle cx="390.5" cy="76.2"/><circle cx="397.1" cy="77.6"/><circle cx="540.6" cy="78.9"/><circle cx="395" cy="78.7"/><circle cx="467.8" cy="77"/><circle cx="577.7" cy="78.7"/><circle cx="443.5" cy="74.4"/><circle cx="595.6" cy="77.5"/><circle cx="556.8" cy="74.6"/><circle cx="612.1" cy="74.3"/><circle cx="549.9" cy="77.3"/><circle cx="578" cy="78"/><circle cx="372.3" cy="76.4"/><circle cx="483" cy="78.4"/><circle cx="520.5" cy="78.8"/><circle cx="667.1" cy="75.9"/><circle cx="489.2" cy="75.9"/><circle cx="625.7" cy="74.4"/><circle cx="596.2" cy="78"/><circle cx="553.5" cy="75.5"/><circle cx="586.5" cy="76.7"/><circle cx="453.3" cy="75.3"/><circle cx="488.1" cy="75.5"/><circle cx="368.9" cy="75.7"/><circle cx="512.2" cy="73.9"/><circle cx="508.1" cy="76.8"/><circle cx="509.8" cy="78"/><circle cx="498.4" cy="76.6"/><circle cx="582.8" cy="77.2"/><circle cx="625.8" cy="77.8"/><circle cx="623.5" cy="77.3"/><circle cx="545.4" cy="74.9"/></g><g style="--r:1.1"><circle cx="417" cy="69.7"/><circle cx="637.9" cy="73.7"/><circle cx="463.5" cy="73.1"/><circle cx="623.5" cy="72"/><circle cx="600.9" cy="72.8"/><circle cx="587.3" cy="72.5"/><circle cx="567.4" cy="73"/><circle cx="679.2" cy="71.4"/><circle cx="439.6" cy="72"/><circle cx="630.9" cy="73.6"/><circle cx="630.1" cy="73.6"/><circle cx="541.3" cy="73"/><circle cx="419.3" cy="71.3"/><circle cx="367.5" cy="70.2"/><circle cx="515.9" cy="71.8"/><circle cx="500.5" cy="70.1"/><circle cx="464.8" cy="71.3"/><circle cx="387.4" cy="70.7"/><circle cx="634.1" cy="70.8"/><circle cx="480.8" cy="72.8"/><circle cx="545.8" cy="69.5"/><circle cx="453.4" cy="73.1"/><circle cx="386.4" cy="72.6"/><circle cx="608.7" cy="70.4"/><circle cx="632.1" cy="73.7"/><circle cx="459.2" cy="73"/><circle cx="671.2" cy="69.8"/><circle cx="627.8" cy="73.4"/><circle cx="421.5" cy="72.6"/><circle cx="524.7" cy="73"/><circle cx="375.5" cy="73.7"/><circle cx="636.5" cy="72.6"/><circle cx="522.8" cy="73.4"/><circle cx="674" cy="71.7"/><circle cx="644.6" cy="72.9"/><circle cx="429.3" cy="73.1"/><circle cx="439.6" cy="70"/><circle cx="661.2" cy="72.3"/><circle cx="467.9" cy="69.8"/><circle cx="442.3" cy="73"/><circle cx="546" cy="71.9"/><circle cx="669.6" cy="70.8"/><circle cx="615.6" cy="72.5"/><circle cx="428" cy="73.3"/><circle cx="565.7" cy="72.7"/><circle cx="498.8" cy="73.7"/><circle cx="680.9" cy="72.6"/><circle cx="570.1" cy="70"/><circle cx="434.6" cy="72.2"/><circle cx="567.1" cy="73.3"/><circle cx="663.6" cy="72.9"/><circle cx="500.9" cy="73.5"/><circle cx="637.3" cy="72.9"/><circle cx="427.6" cy="71.3"/><circle cx="465.6" cy="69.5"/><circle cx="626.1" cy="72.1"/><circle cx="550.2" cy="70.8"/><circle cx="584.3" cy="71"/><circle cx="630.6" cy="72.7"/><circle cx="504.8" cy="72.9"/><circle cx="484.8" cy="72"/><circle cx="677.3" cy="72"/><circle cx="586.1" cy="72.5"/><circle cx="527.4" cy="71.5"/><circle cx="400.1" cy="69.4"/><circle cx="680.4" cy="73.1"/><circle cx="605.6" cy="73.2"/><circle cx="462.1" cy="73.1"/><circle cx="677.8" cy="71.9"/><circle cx="591.1" cy="70.8"/><circle cx="575" cy="70.2"/><circle cx="372.6" cy="72.1"/><circle cx="458.9" cy="72.8"/><circle cx="499" cy="70.1"/><circle cx="594.8" cy="73"/><circle cx="614.3" cy="72"/><circle cx="580.8" cy="72.4"/><circle cx="643.9" cy="72.3"/><circle cx="453.7" cy="72.9"/><circle cx="683.5" cy="71.4"/><circle cx="611.5" cy="72.4"/><circle cx="657.9" cy="69.5"/><circle cx="384.3" cy="69.5"/><circle cx="543.5" cy="73.4"/><circle cx="669.7" cy="71.4"/><circle cx="469.1" cy="73.6"/><circle cx="461.1" cy="71.5"/><circle cx="555.9" cy="71.3"/><circle cx="535" cy="72.3"/><circle cx="544.3" cy="72.2"/><circle cx="602" cy="72.1"/><circle cx="577.1" cy="69.4"/><circle cx="441.6" cy="70.8"/><circle cx="364.1" cy="73.2"/><circle cx="559.6" cy="72"/><circle cx="553.4" cy="71.5"/><circle cx="368.6" cy="70.8"/><circle cx="579.7" cy="71.7"/><circle cx="676.3" cy="72.5"/><circle cx="578.3" cy="73"/><circle cx="621.5" cy="70.4"/><circle cx="604.6" cy="71.5"/></g><g style="--r:1.2"><circle cx="434.5" cy="67.9"/><circle cx="447.5" cy="65.7"/><circle cx="599.1" cy="69"/><circle cx="573.7" cy="68.2"/><circle cx="545.5" cy="67.8"/><circle cx="637.4" cy="67.3"/><circle cx="653.1" cy="66.2"/><circle cx="549.8" cy="69.1"/><circle cx="445.2" cy="66.6"/><circle cx="418.2" cy="65.3"/><circle cx="485.9" cy="65.1"/><circle cx="530.9" cy="67.9"/><circle cx="469.4" cy="67"/><circle cx="510.6" cy="67.9"/><circle cx="547.1" cy="67.4"/><circle cx="491.3" cy="69.1"/><circle cx="429.9" cy="67.8"/><circle cx="476.7" cy="68.6"/><circle cx="419.1" cy="67.3"/><circle cx="579.2" cy="68.6"/><circle cx="572.5" cy="66.8"/><circle cx="550.4" cy="68.2"/><circle cx="640.8" cy="68.3"/><circle cx="500.9" cy="68.3"/><circle cx="468" cy="67.3"/><circle cx="664.6" cy="65.5"/><circle cx="557.4" cy="66.2"/><circle cx="653.6" cy="65.9"/><circle cx="395.2" cy="68.5"/><circle cx="471.8" cy="68.9"/><circle cx="624.5" cy="69"/><circle cx="517.7" cy="66.3"/><circle cx="529" cy="66.8"/><circle cx="489.1" cy="66.4"/><circle cx="523.7" cy="68.9"/><circle cx="441.8" cy="67.2"/><circle cx="601.4" cy="67.9"/><circle cx="488.7" cy="65.4"/><circle cx="496" cy="65.5"/><circle cx="509.1" cy="68.4"/><circle cx="570.5" cy="65.1"/><circle cx="672" cy="65.5"/><circle cx="583.7" cy="67.6"/><circle cx="419.1" cy="69.1"/><circle cx="452.9" cy="65.5"/><circle cx="607.3" cy="68.1"/><circle cx="532.9" cy="68.5"/><circle cx="641.7" cy="68.7"/><circle cx="562.8" cy="66.4"/><circle cx="453" cy="67.7"/><circle cx="465.7" cy="68.5"/><circle cx="678.5" cy="65.5"/><circle cx="650.8" cy="65.3"/><circle cx="557.1" cy="68.5"/><circle cx="541.4" cy="65.6"/><circle cx="642.2" cy="65.3"/><circle cx="621.3" cy="68.4"/><circle cx="536.5" cy="66.5"/><circle cx="534.7" cy="67.2"/><circle cx="528.5" cy="68.6"/><circle cx="473.8" cy="67.2"/><circle cx="403.6" cy="68"/><circle cx="631.3" cy="66.8"/><circle cx="446.3" cy="67.9"/><circle cx="424.8" cy="66.4"/><circle cx="501.8" cy="67.8"/></g><g style="--r:1.3"><circle cx="533.2" cy="62.5"/><circle cx="667.3" cy="63.2"/><circle cx="562.7" cy="63"/><circle cx="488" cy="65"/><circle cx="658.2" cy="61.5"/><circle cx="637.9" cy="61.5"/><circle cx="644.8" cy="61.5"/><circle cx="535.2" cy="62.9"/><circle cx="498.9" cy="63.3"/><circle cx="536.1" cy="63.8"/><circle cx="597.6" cy="63.9"/><circle cx="660.7" cy="63.9"/><circle cx="472.7" cy="63.5"/><circle cx="405.8" cy="65"/><circle cx="581.1" cy="62.3"/><circle cx="620.7" cy="63.3"/><circle cx="491.7" cy="62.3"/><circle cx="531" cy="62.3"/><circle cx="516.7" cy="64.9"/><circle cx="613.1" cy="63.1"/><circle cx="496.3" cy="63.1"/><circle cx="640.9" cy="64.6"/><circle cx="509.6" cy="63.9"/><circle cx="495.3" cy="63.6"/><circle cx="517.3" cy="64.2"/><circle cx="558.2" cy="64.6"/><circle cx="588.6" cy="64.7"/><circle cx="593.3" cy="62.7"/><circle cx="449.2" cy="62.6"/><circle cx="552.7" cy="61.4"/><circle cx="659.7" cy="64.7"/><circle cx="547.7" cy="61.8"/><circle cx="438.9" cy="61.7"/><circle cx="551.5" cy="63.1"/><circle cx="509.2" cy="61.7"/><circle cx="633" cy="61.5"/><circle cx="469.6" cy="61.2"/><circle cx="585.5" cy="62.4"/><circle cx="535.7" cy="62"/><circle cx="633" cy="64.6"/><circle cx="682.8" cy="62.9"/><circle cx="419.3" cy="64.3"/></g><g style="--r:1.4"><circle cx="675.4" cy="59.3"/><circle cx="594.3" cy="60.7"/><circle cx="546.7" cy="59.6"/><circle cx="569.2" cy="58.5"/><circle cx="515.5" cy="61.1"/><circle cx="443.5" cy="59.5"/><circle cx="679" cy="58.3"/><circle cx="589.1" cy="60.4"/><circle cx="634.2" cy="58.4"/><circle cx="491" cy="58.9"/><circle cx="509.5" cy="59"/><circle cx="484" cy="60.8"/><circle cx="674.1" cy="61.1"/><circle cx="672.5" cy="60.4"/><circle cx="594.8" cy="58.1"/><circle cx="668.6" cy="59"/><circle cx="601.5" cy="61"/><circle cx="445.2" cy="58.5"/><circle cx="546" cy="58.7"/><circle cx="480.7" cy="60.4"/><circle cx="631.1" cy="58.4"/><circle cx="532.3" cy="58.5"/><circle cx="482.3" cy="58"/><circle cx="657" cy="59.3"/><circle cx="530.1" cy="58"/><circle cx="442.9" cy="60.7"/><circle cx="470.3" cy="60"/><circle cx="649.6" cy="60.6"/><circle cx="555.7" cy="60.3"/><circle cx="608.1" cy="58.5"/><circle cx="446" cy="60.6"/><circle cx="562.7" cy="58.8"/><circle cx="535.2" cy="61"/></g><g style="--r:1.5"><circle cx="658.3" cy="54.7"/><circle cx="516.2" cy="57.4"/><circle cx="646.4" cy="56.2"/><circle cx="600.7" cy="56.5"/><circle cx="617.5" cy="57.5"/><circle cx="521.2" cy="54.6"/><circle cx="588.6" cy="55.8"/><circle cx="468.7" cy="56.1"/><circle cx="475.7" cy="56.2"/></g><g style="--r:1.6"><circle cx="531.7" cy="51.8"/><circle cx="567" cy="52.9"/><circle cx="608.3" cy="53.9"/><circle cx="658.2" cy="52.4"/><circle cx="681" cy="51.9"/><circle cx="577.8" cy="52.9"/></g><g style="--r:1.7"><circle cx="591" cy="50.4"/><circle cx="552.3" cy="48.7"/><circle cx="606.4" cy="48.9"/><circle cx="564.1" cy="49.5"/><circle cx="572.7" cy="49.6"/></g><g style="--r:1.8"><circle cx="548.1" cy="46.9"/><circle cx="672.8" cy="47.1"/></g><g style="--r:1.9"><circle cx="663.9" cy="44.4"/><circle cx="646.9" cy="45.1"/></g></g><rect x="359" y="92" width="330.5" height="26" fill="url(#gt)"/><g mask="url(#ms)"><rect x="359" y="85" width="330.5" height="33" filter="url(#sp)"/></g><path d="M359.6 118.5V68.1H367.2V66.5H374.4V62.2H395V59.4H439V54.5H505.8V49.4H518.5V48H545V45H606.8V38.4H646V33H655.6V29.5H684" fill="none" stroke="#780000" stroke-width="1.9"/></g><line x1="353.7" y1="59.2" x2="684" y2="21.4" stroke="#0a0af5" stroke-width="2.2"/><circle cx="18.4" cy="66.8" r="1.5" fill="#d00000"/><circle cx="25.7" cy="58.1" r="1.6" fill="#d00000"/><circle cx="30" cy="35.5" r="2.5" fill="#d00000"/><circle cx="41.2" cy="34.8" r="2.3" fill="#d00000"/><circle cx="71.6" cy="28.2" r="2.7" fill="#d00000"/><circle cx="118.4" cy="24.2" r="2.7" fill="#d00000"/><circle cx="229.4" cy="22.6" r="2.9" fill="#d00000"/><circle cx="252" cy="21.9" r="2.9" fill="#d00000"/><circle cx="359.6" cy="68.1" r="1.3" fill="#d00000"/><circle cx="367.2" cy="66.5" r="1.5" fill="#d00000"/><circle cx="374.4" cy="62.2" r="1.8" fill="#d00000"/><circle cx="395" cy="59.3" r="1.8" fill="#d00000"/><circle cx="439" cy="54.3" r="1.9" fill="#d00000"/><circle cx="473.7" cy="54.2" r="1.9" fill="#d00000"/><circle cx="505.8" cy="49.6" r="2" fill="#d00000"/><circle cx="518.5" cy="48" r="2" fill="#d00000"/><circle cx="545" cy="45" r="2.2" fill="#d00000"/><circle cx="606.8" cy="38.4" r="2.3" fill="#d00000"/><circle cx="644.7" cy="38.2" r="2.3" fill="#d00000"/><circle cx="646.5" cy="33.1" r="2.5" fill="#d00000"/><circle cx="655.4" cy="29.3" r="2.6" fill="#d00000"/><path d="M12.5 10.5H343V118.5" fill="none" stroke="#8a8a8a" stroke-width="1"/><path d="M12.5 10V118.5H343.5" fill="none" stroke="#505050" stroke-width="1"/><path class="tk" d="M12.5 25.5h2.5M12.5 41h2.5M12.5 56.5h2.5M12.5 72h2.5M12.5 87.5h2.5M12.5 103h2.5M28 118v-2.2M59.5 118v-2.2M91 118v-2.2M122.5 118v-2.2M154 118v-2.2M185.5 118v-2.2M217 118v-2.2M248.5 118v-2.2M280 118v-2.2M311.5 118v-2.2"/><path d="M353.5 10.5H684V118.5" fill="none" stroke="#8a8a8a" stroke-width="1"/><path d="M353.5 10V118.5H684.5" fill="none" stroke="#505050" stroke-width="1"/><path class="tk" d="M353.5 25.5h2.5M353.5 41h2.5M353.5 56.5h2.5M353.5 72h2.5M353.5 87.5h2.5M353.5 103h2.5M369 118v-2.2M400.5 118v-2.2M432 118v-2.2M463.5 118v-2.2M495 118v-2.2M526.5 118v-2.2M558 118v-2.2M589.5 118v-2.2M621 118v-2.2M652.5 118v-2.2"/><text x="164.6" y="21.1" font-family="Liberation Serif" font-style="italic" font-size="10.2" fill="#d00000" stroke="#d00000" stroke-width=".15">M</text><text x="172.7" y="21.1" font-family="Liberation Serif" font-style="italic" font-size="6.4" fill="#d00000" textLength="11" lengthAdjust="spacingAndGlyphs">LRG</text><text x="579.3" y="42.7" font-family="Liberation Serif" font-style="italic" font-size="9.8" fill="#d00000" stroke="#d00000" stroke-width=".15">M</text><text x="587.3" y="42.7" font-family="Liberation Serif" font-style="italic" font-size="6.4" fill="#d00000" textLength="10.5" lengthAdjust="spacingAndGlyphs">LRG</text><text x="462.6" y="41.6" font-family="Liberation Serif" font-style="italic" font-size="10.1" fill="#0a0af5">M</text><text x="470.6" y="41.5" font-family="Liberation Serif" font-style="italic" font-size="6.7" fill="#0a0af5" textLength="11.6" lengthAdjust="spacingAndGlyphs">MAX</text><text transform="translate(24.3,52.9) rotate(-90)" font-family="Liberation Serif" font-style="italic" font-size="7.8" fill="#d00000" textLength="15.6" lengthAdjust="spacingAndGlyphs">&#916;M</text><text transform="translate(25,37.1) rotate(-90)" font-family="Liberation Serif" font-style="italic" font-size="5" fill="#d00000" textLength="9.9" lengthAdjust="spacingAndGlyphs">LRG</text><text x="162.6" y="115.3" font-size="14.5" fill="#fff" stroke="#444" stroke-width="1.4" stroke-linejoin="round" paint-order="stroke">Time</text><text transform="translate(6.9,63.85) rotate(-90)" font-size="9" font-weight="bold" fill="#444" stroke="#444" stroke-width=".2" text-anchor="middle" textLength="45.3" lengthAdjust="spacingAndGlyphs">Magnitude</text><g fill="#fdd3d8" stroke="#9a4450" stroke-width="0.6"><rect x="37.2" y="157.4" width="6.5" height="36.6"/><rect x="43.7" y="158.9" width="6.5" height="35.1"/><rect x="50.3" y="160.9" width="6.5" height="33.1"/><rect x="56.8" y="162" width="6.5" height="32"/><rect x="63.4" y="163.8" width="6.5" height="30.2"/><rect x="69.9" y="165.1" width="6.5" height="28.9"/><rect x="76.4" y="167.1" width="6.5" height="26.9"/><rect x="83" y="168.4" width="6.5" height="25.6"/><rect x="89.5" y="170.3" width="6.5" height="23.7"/><rect x="96.1" y="171.7" width="6.5" height="22.3"/><rect x="102.6" y="173.3" width="6.5" height="20.7"/><rect x="109.1" y="175.5" width="6.5" height="18.5"/><rect x="115.7" y="176.3" width="6.5" height="17.7"/><rect x="122.2" y="178" width="6.5" height="16"/><rect x="128.8" y="179.6" width="6.5" height="14.4"/><rect x="135.3" y="182.2" width="6.5" height="11.8"/><rect x="141.8" y="183.3" width="6.5" height="10.7"/><rect x="148.4" y="184.4" width="6.5" height="9.6"/><rect x="154.9" y="186.2" width="6.5" height="7.8"/><rect x="161.5" y="188.2" width="6.5" height="5.8"/></g><line x1="37.2" y1="156.3" x2="168" y2="188.6" stroke="#000" stroke-width="0.8"/><path d="M37.2 129.5L130 153L150 158.8L168 163" fill="none" stroke="#000" stroke-width="2"/><line x1="37.2" y1="129.5" x2="168" y2="161.8" stroke="#c8606e" stroke-width="2.8"/><g fill="#e04848" stroke="#3a1010" stroke-width="0.6"><rect x="180" y="157.5" width="6.6" height="36.5"/><rect x="186.6" y="159.1" width="6.6" height="34.9"/><rect x="193.2" y="161.4" width="6.6" height="32.6"/><rect x="199.8" y="162" width="6.6" height="32"/><rect x="206.4" y="164.5" width="6.6" height="29.5"/><rect x="213" y="166.2" width="6.6" height="27.8"/><rect x="219.6" y="167.2" width="6.6" height="26.8"/><rect x="226.2" y="169.1" width="6.6" height="24.9"/><rect x="232.8" y="170.8" width="6.6" height="23.2"/><rect x="239.4" y="171.9" width="6.6" height="22.1"/><rect x="246" y="174" width="6.6" height="20"/><rect x="252.6" y="175.7" width="6.6" height="18.3"/><rect x="259.2" y="177.7" width="6.6" height="16.3"/><rect x="265.8" y="179.3" width="6.6" height="14.7"/><rect x="272.4" y="180.6" width="6.6" height="13.4"/><rect x="279" y="182.5" width="6.6" height="11.5"/><rect x="285.6" y="183.5" width="6.6" height="10.5"/><rect x="292.2" y="185" width="6.6" height="9"/><rect x="298.8" y="187.1" width="6.6" height="6.9"/><rect x="305.4" y="188.6" width="6.6" height="5.4"/></g><line x1="180" y1="156.8" x2="312" y2="188.7" stroke="#000" stroke-width="0.8"/><line x1="180" y1="129.5" x2="312" y2="163.7" stroke="#000" stroke-width="3"/><line x1="180" y1="129.5" x2="312" y2="163.7" stroke="#640606" stroke-width="2.2"/><g fill="#fdd3d8" stroke="#9a4450" stroke-width="0.6"><rect x="384.5" y="157.3" width="6.6" height="36.7"/><rect x="391.1" y="158.6" width="6.6" height="35.4"/><rect x="397.6" y="160.2" width="6.6" height="33.8"/><rect x="404.2" y="162.8" width="6.6" height="31.2"/><rect x="410.8" y="164.4" width="6.6" height="29.6"/><rect x="417.4" y="165.5" width="6.6" height="28.5"/><rect x="423.9" y="167.5" width="6.6" height="26.5"/><rect x="430.5" y="169.5" width="6.6" height="24.5"/><rect x="437.1" y="171" width="6.6" height="23"/><rect x="443.7" y="172.7" width="6.6" height="21.3"/><rect x="450.2" y="174.5" width="6.6" height="19.5"/><rect x="456.8" y="175.3" width="6.6" height="18.7"/><rect x="463.4" y="177.2" width="6.6" height="16.8"/><rect x="470" y="178.8" width="6.6" height="15.2"/><rect x="476.6" y="180.4" width="6.6" height="13.6"/><rect x="483.1" y="182.7" width="6.6" height="11.3"/><rect x="489.7" y="184.7" width="6.6" height="9.3"/><rect x="496.3" y="185.9" width="6.6" height="8.1"/><rect x="502.9" y="187.5" width="6.6" height="6.5"/><rect x="509.4" y="188.9" width="6.6" height="5.1"/></g><line x1="384.5" y1="156.5" x2="516" y2="190.5" stroke="#000" stroke-width="0.8"/><path d="M384.5 129.5L386.6 130L388.7 130.5L390.8 131.1L392.9 131.6L395 132.1L397.1 132.6L399.2 133.1L401.3 133.6L403.4 134.2L405.5 134.7L407.6 135.2L409.6 135.7L411.7 136.2L413.8 136.8L415.9 137.3L418 137.8L420.1 138.3L422.2 138.9L424.3 139.4L426.4 139.9L428.5 140.5L430.6 141L432.7 141.5L434.8 142.1L436.9 142.6L439 143.1L441.1 143.7L443.2 144.2L445.3 144.8L447.4 145.3L449.5 145.9L451.6 146.4L453.7 147L455.8 147.6L457.8 148.1L459.9 148.7L462 149.3L464.1 149.9L466.2 150.5L468.3 151.1L470.4 151.7L472.5 152.4L474.6 153L476.7 153.7L478.8 154.3L480.9 155L483 155.7L485.1 156.5L487.2 157.2L489.3 158L491.4 158.9L493.5 159.8L495.6 160.7L497.7 161.7L499.8 162.8L501.9 164L504 165.4L506 167L508.1 169L510.2 171.7" fill="none" stroke="#000" stroke-width="2.4" transform="translate(0.3,0.5)"/><path d="M508.3 169.2L508.6 169.6L508.9 169.9L509.3 170.3L509.6 170.7L509.9 171.2L510.2 171.7L510.5 172.2L510.9 172.7L511.2 173.3L511.5 173.9L511.8 174.6L512.2 175.4L512.5 176.2L512.8 177.2L513.1 178.3L513.4 179.7L513.8 181.5L514.1 183.9L514.4 187.7L514.7 194" fill="none" stroke="#f2a0ae" stroke-width="2.2"/><path d="M384.5 129.5L386.6 130L388.7 130.5L390.8 131L392.8 131.6L394.9 132.1L397 132.6L399.1 133.1L401.2 133.6L403.3 134.1L405.3 134.7L407.4 135.2L409.5 135.7L411.6 136.2L413.7 136.7L415.8 137.3L417.9 137.8L419.9 138.3L422 138.8L424.1 139.3L426.2 139.9L428.3 140.4L430.4 140.9L432.5 141.5L434.5 142L436.6 142.5L438.7 143.1L440.8 143.6L442.9 144.1L445 144.7L447 145.2L449.1 145.8L451.2 146.3L453.3 146.9L455.4 147.5L457.5 148L459.6 148.6L461.6 149.2L463.7 149.8L465.8 150.4L467.9 151L470 151.6L472.1 152.2L474.1 152.9L476.2 153.5L478.3 154.2L480.4 154.9L482.5 155.6L484.6 156.3L486.7 157L488.7 157.8L490.8 158.6L492.9 159.5L495 160.4L497.1 161.4L499.2 162.5L501.2 163.7L503.3 165L505.4 166.5L507.5 168.4L509.6 170.8" fill="none" stroke="#cc6272" stroke-width="2.8"/><g fill="#e04848" stroke="#3a1010" stroke-width="0.6"><rect x="528" y="149.8" width="6.5" height="44.2"/><rect x="534.5" y="158.9" width="6.5" height="35.1"/><rect x="541" y="162" width="6.5" height="32"/><rect x="547.6" y="164.4" width="6.5" height="29.6"/><rect x="554.1" y="167.1" width="6.5" height="26.9"/><rect x="560.6" y="169.3" width="6.5" height="24.7"/><rect x="567.1" y="172.2" width="6.5" height="21.8"/><rect x="573.7" y="173.3" width="6.5" height="20.7"/><rect x="580.2" y="176" width="6.5" height="18"/><rect x="586.7" y="177.3" width="6.5" height="16.7"/><rect x="593.2" y="181" width="6.5" height="13"/><rect x="599.8" y="182.2" width="6.5" height="11.8"/><rect x="606.3" y="186.9" width="6.5" height="7.1"/><rect x="612.8" y="186.2" width="6.5" height="7.8"/><rect x="619.4" y="190.5" width="6.5" height="3.5"/><rect x="632.4" y="192.1" width="6.5" height="1.9"/></g><line x1="528" y1="157.6" x2="658.5" y2="186.9" stroke="#000" stroke-width="0.8"/><path d="M528 129C533.3 130.5 548 134.7 560 137.8C572 140.9 590 145.1 600 147.8C610 150.5 613.3 151.5 620 153.8C626.7 156.1 635 159.2 640 161.6C645 164 648 166.8 650 168.4C652 170 651.7 170.9 652 171.4" fill="none" stroke="#000" stroke-width="3"/><path d="M528 129.5C533.3 131.8 548 138.4 560 143C572 147.6 590 153.5 600 157.2C610 160.9 614.3 162.9 620 165C625.7 167.1 630.7 168.3 634 169.7C637.3 171.1 638.2 172.2 640 173.6C641.8 175 643.7 176.6 645 178C646.3 179.4 647.2 180.6 648 182C648.8 183.4 649.4 184.5 650 186.5C650.6 188.5 651.2 192.8 651.5 194" fill="none" stroke="#a83838" stroke-width="2.2"/><rect x="37.5" y="128.5" width="131" height="65.8" fill="none" stroke="#111" stroke-width="1"/><path d="M69.9 129v2M69.9 194v-2M102.6 129v2M102.6 194v-2M135.3 129v2M135.3 194v-2" stroke="#666" stroke-width="0.7"/><rect x="180.5" y="128.5" width="132" height="65.8" fill="none" stroke="#111" stroke-width="1"/><path d="M213 129v2M213 194v-2M246 129v2M246 194v-2M279 129v2M279 194v-2" stroke="#666" stroke-width="0.7"/><rect x="384.5" y="128.5" width="132" height="65.8" fill="none" stroke="#111" stroke-width="1"/><path d="M417.4 129v2M417.4 194v-2M450.2 129v2M450.2 194v-2M483.1 129v2M483.1 194v-2" stroke="#666" stroke-width="0.7"/><rect x="528.5" y="128.5" width="130" height="65.8" fill="none" stroke="#111" stroke-width="1"/><path d="M560.6 129v2M560.6 194v-2M593.2 129v2M593.2 194v-2M625.9 129v2M625.9 194v-2" stroke="#666" stroke-width="0.7"/><text x="165.6" y="139.2" font-family="Liberation Serif" font-style="italic" font-size="9.3" stroke="#000" stroke-width=".2" text-anchor="end">Unbound</text><text x="165.6" y="150.6" font-family="Liberation Serif" font-style="italic" font-size="9.3" stroke="#000" stroke-width=".2" text-anchor="end">GR-MFD</text><text x="512.6" y="138.4" font-family="Liberation Serif" font-style="italic" font-size="9.3" stroke="#000" stroke-width=".2" text-anchor="end">Bound</text><text x="512.6" y="149.8" font-family="Liberation Serif" font-style="italic" font-size="9.3" stroke="#000" stroke-width=".2" text-anchor="end">GR-MFD</text><text x="102.5" y="204.7" font-size="10.2" font-weight="bold" fill="#444" stroke="#444" stroke-width=".3" text-anchor="middle">M</text><text x="450.8" y="204.7" font-size="10.2" font-weight="bold" fill="#444" stroke="#444" stroke-width=".3" text-anchor="middle">M</text><text x="228" y="204.9" font-size="10.2" font-weight="bold" fill="#444" stroke="#444" stroke-width=".3">&#916;M<tspan font-size="7.6" dy="1">LRG</tspan></text><text x="576.5" y="204.9" font-size="10.2" font-weight="bold" fill="#444" stroke="#444" stroke-width=".3">&#916;M<tspan font-size="7.6" dy="1">LRG</tspan></text><text transform="translate(32.9,161.8) rotate(-90)" font-size="9.2" font-weight="bold" fill="#444" stroke="#444" stroke-width=".2" text-anchor="middle" textLength="31.2" lengthAdjust="spacingAndGlyphs">Counts</text><text transform="translate(381.6,161.8) rotate(-90)" font-size="9.2" font-weight="bold" fill="#444" stroke="#444" stroke-width=".2" text-anchor="middle" textLength="31.2" lengthAdjust="spacingAndGlyphs">Counts</text><rect x="59" y="120" width="5.6" height="9" fill="#000"/><rect x="285.3" y="120" width="5.6" height="9" fill="#000"/><rect x="406.2" y="120" width="5.6" height="9" fill="#000"/><rect x="632.6" y="120" width="5.6" height="9" fill="#000"/><path d="M58.6 194V201.3H55.7L61.5 211.2L67.3 201.3H64.4V194Z" fill="#000"/><path d="M285.1 194V201.3H282.2L288 211.2L293.8 201.3H290.9V194Z" fill="#000"/><path d="M405.7 194V201.3H402.8L408.6 211.2L414.4 201.3H411.5V194Z" fill="#000"/><path d="M632.3 194V201.3H629.4L635.2 211.2L641 201.3H638.1V194Z" fill="#000"/><rect x="18" y="212.5" width="325" height="107.5" fill="#f2aff8"/><path d="M18 320V267H19.5V268H26V276H30.6V285.6H41.8V294.7H71.6V312.1H118.7V306.2H229V309.5H252.6V314.4H343V320Z" fill="#325ea8"/><rect x="359" y="212.5" width="325" height="107.5" fill="#325ea8"/><path d="M359 212.5V266.5H361V252H368.4V239.6H375V233.4H396V217H440V214H475V212.5H684V212.5Z" fill="#f2aff8"/><rect x="646" y="212.5" width="2" height="2.5" fill="#f2aff8"/><rect x="646" y="212.5" width="10.5" height="0.9" fill="#f2aff8"/><path d="M368.4 240V320M440.6 214V320M506.4 213V320M546.4 213V320M647.4 215V320" stroke="#416cb4" stroke-width=".7"/><line x1="18" y1="266.3" x2="343" y2="266.3" stroke="#fbe6fb" stroke-width="0.8"/><line x1="359" y1="266.3" x2="684" y2="266.3" stroke="#a8c0e8" stroke-width="0.8"/><path d="M12.5 212.5H343V320.3H12.5Z" fill="none" stroke="#333" stroke-width="1"/><path d="M12.5 234h2.5M343 234h-2.5M12.5 255.5h2.5M343 255.5h-2.5M12.5 277.3h2.5M343 277.3h-2.5M12.5 299h2.5M343 299h-2.5M45.5 320v-4.2M45.5 212.5v4.2M78.6 320v-4.2M78.6 212.5v4.2M111.6 320v-4.2M111.6 212.5v4.2M144.7 320v-4.2M144.7 212.5v4.2M177.8 320v-4.2M177.8 212.5v4.2M210.8 320v-4.2M210.8 212.5v4.2M243.8 320v-4.2M243.8 212.5v4.2M276.9 320v-4.2M276.9 212.5v4.2M309.9 320v-4.2M309.9 212.5v4.2" stroke="#333" stroke-width="1"/><path d="M353.5 212.5H684V320.3H353.5Z" fill="none" stroke="#333" stroke-width="1"/><path d="M353.5 234h2.5M684 234h-2.5M353.5 255.5h2.5M684 255.5h-2.5M353.5 277.3h2.5M684 277.3h-2.5M353.5 299h2.5M684 299h-2.5M386.6 320v-4.2M386.6 212.5v4.2M419.6 320v-4.2M419.6 212.5v4.2M452.6 320v-4.2M452.6 212.5v4.2M485.7 320v-4.2M485.7 212.5v4.2M518.8 320v-4.2M518.8 212.5v4.2M551.8 320v-4.2M551.8 212.5v4.2M584.8 320v-4.2M584.8 212.5v4.2M617.9 320v-4.2M617.9 212.5v4.2M651 320v-4.2M651 212.5v4.2" stroke="#333" stroke-width="1"/><text x="22.1" y="222.4" font-family="Liberation Serif" font-weight="bold" font-size="7.4" fill="#a418c4" stroke="#a418c4" stroke-width="0" text-anchor="start" textLength="26.9" lengthAdjust="spacingAndGlyphs">Unbound</text><text x="20.3" y="230.4" font-family="Liberation Serif" font-weight="bold" font-size="7.4" fill="#a418c4" stroke="#a418c4" stroke-width="0" text-anchor="start" textLength="32.3" lengthAdjust="spacingAndGlyphs">Hypothesis</text><text x="363.2" y="222.4" font-family="Liberation Serif" font-weight="bold" font-size="7.4" fill="#a418c4" stroke="#a418c4" stroke-width="0" text-anchor="start" textLength="26.9" lengthAdjust="spacingAndGlyphs">Unbound</text><text x="361.4" y="230.4" font-family="Liberation Serif" font-weight="bold" font-size="7.4" fill="#a418c4" stroke="#a418c4" stroke-width="0" text-anchor="start" textLength="32.3" lengthAdjust="spacingAndGlyphs">Hypothesis</text><text x="22" y="305.2" font-family="Liberation Serif" font-weight="bold" font-size="7.4" fill="#a4a8f4" stroke="#a4a8f4" stroke-width="0" text-anchor="start" textLength="19.2" lengthAdjust="spacingAndGlyphs">Bound</text><text x="21.6" y="312.8" font-family="Liberation Serif" font-weight="bold" font-size="7.4" fill="#a4a8f4" stroke="#a4a8f4" stroke-width="0" text-anchor="start" textLength="32.4" lengthAdjust="spacingAndGlyphs">Hypothesis</text><text x="362.7" y="305.2" font-family="Liberation Serif" font-weight="bold" font-size="7.4" fill="#a4a8f4" stroke="#a4a8f4" stroke-width="0" text-anchor="start" textLength="19.2" lengthAdjust="spacingAndGlyphs">Bound</text><text x="362.3" y="312.8" font-family="Liberation Serif" font-weight="bold" font-size="7.4" fill="#a4a8f4" stroke="#a4a8f4" stroke-width="0" text-anchor="start" textLength="32.4" lengthAdjust="spacingAndGlyphs">Hypothesis</text><text x="160.5" y="311.1" font-size="15.5" fill="#fff" stroke="#555" stroke-width="1.4" stroke-linejoin="round" paint-order="stroke">Time</text><text transform="translate(6.7,266.85) rotate(-90)" font-size="9" font-weight="bold" fill="#444" stroke="#444" stroke-width=".2" text-anchor="middle" textLength="70" lengthAdjust="spacingAndGlyphs">EW-test Weights</text><g font-style="italic" font-size="10.8" fill="#fff" stroke="#6a6a6a" stroke-width="1.5" stroke-linejoin="round" paint-order="stroke" text-anchor="middle"><text transform="translate(322.8,266.7) rotate(-90)" textLength="98" lengthAdjust="spacingAndGlyphs">Strong Evidence for</text><text transform="translate(334.9,265.2) rotate(-90)" textLength="79" lengthAdjust="spacingAndGlyphs">Unbound Model</text></g><g font-style="italic" font-size="10.8" fill="#fff" text-anchor="middle"><text transform="translate(664.2,267) rotate(-90)" textLength="97" lengthAdjust="spacingAndGlyphs">Strong Evidence for</text><text transform="translate(676.2,265.6) rotate(-90)" textLength="65" lengthAdjust="spacingAndGlyphs">Bound Model</text></g></svg></body></html>
